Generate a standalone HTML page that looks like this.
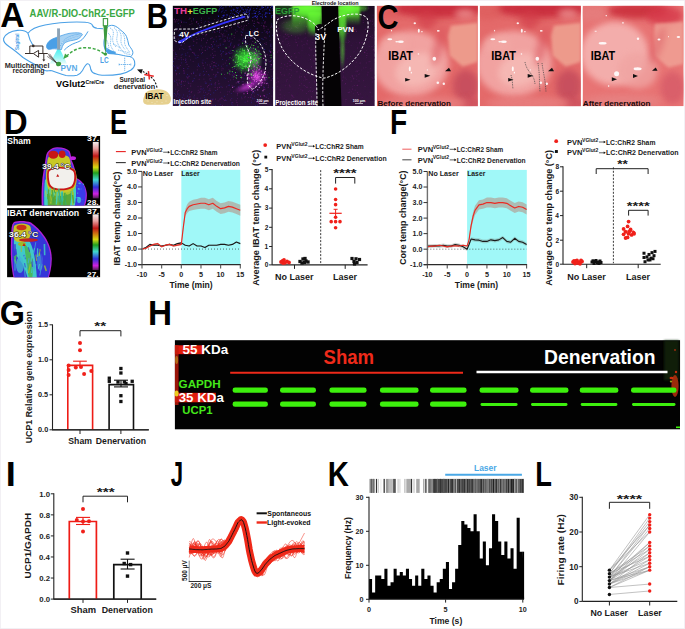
<!DOCTYPE html>
<html><head><meta charset="utf-8"><title>Figure</title>
<style>html,body{margin:0;padding:0;background:#fff;width:685px;height:629px;overflow:hidden}svg{display:block}text{font-family:"Liberation Sans",sans-serif}</style>
</head><body>
<svg width="685" height="629" viewBox="0 0 685 629" font-family="Liberation Sans, sans-serif"><defs><linearGradient id="cone" x1="0" y1="0" x2="0" y2="1"><stop offset="0" stop-color="#4ff0f0"/><stop offset="0.6" stop-color="#9ff6f4"/><stop offset="1" stop-color="#eafcfb"/></linearGradient><clipPath id="cb1"><rect x="172.6" y="5.6" width="100.7" height="100.4"/></clipPath><clipPath id="cb2"><rect x="275.1" y="5.8" width="99.7" height="100.2"/></clipPath><radialGradient id="gGreen1"><stop offset="0" stop-color="#3ee83a" stop-opacity="0.95"/><stop offset="0.45" stop-color="#30c030" stop-opacity="0.7"/><stop offset="1" stop-color="#208020" stop-opacity="0"/></radialGradient><radialGradient id="gMag1"><stop offset="0" stop-color="#d040d8" stop-opacity="0.9"/><stop offset="0.5" stop-color="#a028b0" stop-opacity="0.55"/><stop offset="1" stop-color="#601070" stop-opacity="0"/></radialGradient><linearGradient id="gB1bg" x1="0" y1="0" x2="0" y2="1"><stop offset="0" stop-color="#07030c"/><stop offset="0.4" stop-color="#170b26"/><stop offset="1" stop-color="#2a1238"/></linearGradient><linearGradient id="gB2bg" x1="0" y1="0" x2="0" y2="1"><stop offset="0" stop-color="#1a0c20"/><stop offset="0.35" stop-color="#2e1238"/><stop offset="1" stop-color="#361640"/></linearGradient><radialGradient id="gGreen2" cx="0.5" cy="0.5" r="0.5"><stop offset="0" stop-color="#66ff33" stop-opacity="1"/><stop offset="0.5" stop-color="#50d830" stop-opacity="0.75"/><stop offset="1" stop-color="#2a6a20" stop-opacity="0"/></radialGradient><linearGradient id="gTopG" x1="0" y1="0" x2="0" y2="1"><stop offset="0" stop-color="#6cff36" stop-opacity="1"/><stop offset="0.45" stop-color="#5ae830" stop-opacity="0.8"/><stop offset="1" stop-color="#3a9a20" stop-opacity="0"/></linearGradient><filter id="blur3" x="-50%" y="-50%" width="200%" height="200%"><feGaussianBlur stdDeviation="3"/></filter><filter id="blur2" x="-50%" y="-50%" width="200%" height="200%"><feGaussianBlur stdDeviation="1.6"/></filter><clipPath id="cc1"><rect x="376.8" y="5.7" width="101.1" height="100.6"/></clipPath><clipPath id="cc2"><rect x="479.8" y="5.7" width="101.1" height="100.6"/></clipPath><clipPath id="cc3"><rect x="582.6" y="5.7" width="101.1" height="100.6"/></clipPath><linearGradient id="cbar" x1="0" y1="0" x2="0" y2="1"><stop offset="0" stop-color="#f4eeee"/><stop offset="0.12" stop-color="#e8a0a0"/><stop offset="0.25" stop-color="#c01818"/><stop offset="0.36" stop-color="#d08010"/><stop offset="0.45" stop-color="#d8d810"/><stop offset="0.55" stop-color="#20a020"/><stop offset="0.67" stop-color="#40d8d0"/><stop offset="0.8" stop-color="#3030d8"/><stop offset="0.92" stop-color="#d020e0"/><stop offset="1" stop-color="#502050"/></linearGradient><filter id="blur1" x="-30%" y="-30%" width="160%" height="160%"><feGaussianBlur stdDeviation="1.2"/></filter><filter id="blur05" x="-30%" y="-30%" width="160%" height="160%"><feGaussianBlur stdDeviation="0.6"/></filter><clipPath id="cd1"><rect x="7.1" y="136" width="93" height="69.5"/></clipPath><clipPath id="cd2"><rect x="7.1" y="208.1" width="93" height="69.1"/></clipPath></defs><text transform="translate(29.80,16.90) scale(0.9460,1)" x="-0.25" y="0" font-size="10.00" font-weight="bold" fill="#3aa843" >AAV/R-DIO-ChR2-EGFP</text>
<path d="M28,33.3 C25,30 21,30 17.5,30.4 C11,31 5,34 3.6,38.5 C3,42 6,44.5 9,46.5 C15,50.5 19,54 23,57.5 C28,61 33,63.5 37,65.5 C40,67.5 43,70.5 46,70.8 C48.5,71 50,70.2 52,70.8 C56,72 60,74 66,75.5 C70,76 74,75.8 77,75.2 C79.5,74.5 81,73 82.5,70.5 C84,67.5 85.5,64.5 87.3,63.8 C89.2,63.4 90.2,65.5 90.8,69.5 C91.5,72 93,73 95,73.6 C97,74.5 99,75.2 102,75.3 C108,75.4 115,75 120.5,74.1 C125,73.3 128,72 131,70 C133.5,68 134.8,66 134.8,63.9 C134.8,61 134,59.5 133.2,58.5" fill="none" stroke="#4aa0e6" stroke-width="1.1" />
<path d="M28,33.3 C29,38 30.5,42 33.3,45.8" fill="none" stroke="#4aa0e6" stroke-width="1.1" />
<path d="M28,33.3 C31,29 37,26.5 45,25 C55,23 70,21.6 85,22.2 C89,22.5 92,23.5 92.5,25.5 C93,27 94,27.8 97,28.2 L103,28.8" fill="none" stroke="#4aa0e6" stroke-width="1.1" />
<path d="M133.2,58.5 C131,56.5 127,55.3 121.3,54.4 C117,54 113,54 109,53.6" fill="none" stroke="#4aa0e6" stroke-width="1.0" />
<path d="M107.5,27 C109,25.5 111,25.2 113,25.4 C116,26 118.6,28 121,30.5 C123.5,32 125.2,34 126.5,36.5 C127.6,39 128,42 128.8,45 C130,47 131.5,48.5 132.6,51 C133.4,53 132.5,55.5 130.8,56.5 C127,56.5 124,55.6 121,55 C117,54.2 113,53.5 109.5,52.5 C106.5,50.5 105,46 104.8,40 C104.7,35 105.5,30 107.5,27 Z" fill="#fff" stroke="#4aa0e6" stroke-width="1.0" />
<path d="M104.2,37.5 C104,42 104.6,46 106,48.8 C108,51 112,52.8 116,53.6 L108.5,53.8 C106,52.5 104.2,50 103.6,46 C103.2,43 103.4,40 104.2,37.5 Z" fill="#4aa0e6" stroke="none" stroke-width="1" />
<path d="M107.2,47.8 C109,49.6 112,51 115.7,51.8 L115.7,53.8 L107.5,53.8 Z" fill="#4aa0e6" stroke="none" stroke-width="1" />
<path d="M110,28 C113,29 114,32 113,36 C112,40 113,44 116,47" fill="none" stroke="#5aaaea" stroke-width="0.7" stroke-dasharray="1.1,0.7"/>
<path d="M114,27.5 C117,30 118,33 117,37 C116,41 118,45 121,48.5" fill="none" stroke="#5aaaea" stroke-width="0.7" stroke-dasharray="1.1,0.7"/>
<path d="M118.5,30 C121,33 121.5,36 121,39.5 C120.5,43 122,46 125,49.5" fill="none" stroke="#5aaaea" stroke-width="0.7" stroke-dasharray="1.1,0.7"/>
<path d="M122.5,33 C124.5,36 125,39 124.5,42 C124.5,45 126.5,48 129.5,52" fill="none" stroke="#5aaaea" stroke-width="0.7" stroke-dasharray="1.1,0.7"/>
<path d="M108,33 C110.5,35 111.5,38 110.5,42 C110,45 111.5,48 113.5,50.5" fill="none" stroke="#5aaaea" stroke-width="0.7" stroke-dasharray="1.1,0.7"/>
<path d="M106.5,40 C108,42 108.5,45 109,48.5" fill="none" stroke="#5aaaea" stroke-width="0.7" stroke-dasharray="1.1,0.7"/>
<path d="M113,44 C117,45.5 121,48 123.5,52.5 C126,54 128.5,54.5 131,54.5" fill="none" stroke="#5aaaea" stroke-width="0.7" stroke-dasharray="1.1,0.7"/>
<path d="M118,50 C122,51 126,52 130,53" fill="none" stroke="#5aaaea" stroke-width="0.7" stroke-dasharray="1.1,0.7"/>
<path d="M46.7,47.5 C46,44 49,40.5 53,38.8 C56,37.5 58,36.8 61,35.8 C64,34.8 66.5,33.8 69,33.4 C73,32.8 77,32.6 79.6,33 C81.5,33.4 82.6,34 82.3,34.7 C81,37 79,38.5 76.9,39.4 C74.5,40.2 72.5,40.4 70.2,40.8 C67.5,41.5 65.5,42.3 64.2,43.4 C62.5,45.5 62,47.5 61.5,49.5 L58,49.5 C56,48.5 53,48.6 50.5,49.2 C48.5,49.6 47,49 46.7,47.5 Z" fill="#a8d2f3" stroke="#4aa0e6" stroke-width="0.8" />
<path d="M46.7,47.5 C46,44 49,40.5 53,38.8 C55,38 56.5,37.6 57.4,37.4 L57.4,48.4 C55,48.2 52.5,48.7 50.5,49.2 C48.5,49.6 47,49 46.7,47.5 Z" fill="#4a9fe6" stroke="none" stroke-width="1" />
<path d="M60.0,46.0 C63.0,41.0 70,37.5 80.5,35.2" fill="none" stroke="#4a9fe6" stroke-width="0.6" />
<path d="M60.69,44.965 C63.46,40.425 70,36.925 80.5,34.9125" fill="none" stroke="#ffffff" stroke-width="0.6" />
<path d="M61.38,43.93 C63.92,39.85 70,36.35 80.5,34.625" fill="none" stroke="#4a9fe6" stroke-width="0.6" />
<path d="M62.07,42.895 C64.38,39.275 70,35.775 80.5,34.337500000000006" fill="none" stroke="#ffffff" stroke-width="0.6" />
<path d="M62.76,41.86 C64.84,38.7 70,35.2 80.5,34.050000000000004" fill="none" stroke="#4a9fe6" stroke-width="0.6" />
<path d="M88,31.4 C86,35 84,37.5 82.3,39.4 C80,41.3 78,42 75.6,42.8 C71,44.5 67,47 64.2,50.2" fill="none" stroke="#4aa0e6" stroke-width="1.0" />
<path d="M57.2,49.5 L60.2,49.5 L67,63.8 L49.8,63.8 Z" fill="url(#cone)" stroke="none" stroke-width="1" />
<rect x="57.10" y="28.40" width="2.90" height="21.20" fill="#8da3b6" />
<path d="M103.4,25.7 L107.6,25.7 L105.6,53.6 L105.2,53.6 Z" fill="#3d9a3f" stroke="none" stroke-width="1" />
<rect x="103.30" y="18.60" width="4.30" height="7.10" fill="#fff" stroke="#3d9a3f" stroke-width="1.1"/>
<circle cx="105.40" cy="54.10" r="1.7" fill="#3d9a3f" />
<path d="M104,53.8 C98,49 90,47 82,47.8 C76,48.6 71,52 66.5,56.2" fill="none" stroke="#3fa844" stroke-width="1.5" stroke-dasharray="3,1.8"/>
<path d="M63.3,59 L65,53.6 L68.6,56.6 Z" fill="#3fa844" stroke="none" stroke-width="1" />
<ellipse cx="58.6" cy="64.0" rx="2.6" ry="2.3" fill="#3d9a3f"/>
<text transform="translate(61.00,70.80) scale(0.9905,1)" x="-0.56" y="0" font-size="8.30" font-weight="bold" fill="#5aaae8" >PVN</text>
<text transform="translate(100.50,62.80) scale(0.7598,1)" x="-0.57" y="0" font-size="8.50" font-weight="bold" fill="#4aa0e6" >LC</text>
<text transform="translate(18.80,50.00) rotate(-90) scale(0.9225,1)" x="-0.14" y="0" font-size="5.00" font-weight="bold" fill="#4aa0e6">Sagittal</text>
<line x1="124.70" y1="57.70" x2="124.70" y2="70.80" stroke="#4aa0e6" stroke-width="0.8" stroke-dasharray="1.2,0.8"/>
<line x1="119.10" y1="64.50" x2="130.80" y2="64.50" stroke="#4aa0e6" stroke-width="0.8" stroke-dasharray="1.2,0.8"/>
<line x1="119.10" y1="63.50" x2="119.10" y2="65.50" stroke="#4aa0e6" stroke-width="0.6" />
<line x1="130.80" y1="63.50" x2="130.80" y2="65.50" stroke="#4aa0e6" stroke-width="0.6" />
<path d="M29.8,53.5 L29.8,46 L42.9,46 L42.9,54" fill="none" stroke="#3a2f2a" stroke-width="1.0" />
<path d="M25,53.5 L33.3,53.5" fill="none" stroke="#3a2f2a" stroke-width="1.0" />
<path d="M38.6,50.4 L33.3,53.5 L38.6,57.2 Z" fill="#fff" stroke="#3a2f2a" stroke-width="1.0" />
<path d="M38.6,53.5 L47.7,53.5" fill="none" stroke="#3a2f2a" stroke-width="1.0" />
<path d="M43.8,54 L43.8,60" fill="none" stroke="#3a2f2a" stroke-width="1.0" />
<path d="M42.2,59.6 L45.4,59.6 L43.8,61.6 Z" fill="#3a2f2a" stroke="none" stroke-width="1" />
<circle cx="33.30" cy="45.90" r="1.3" fill="#3a2f2a" />
<line x1="47.70" y1="53.50" x2="56.60" y2="62.90" stroke="#3a2f2a" stroke-width="0.6" />
<line x1="49.50" y1="53.80" x2="56.60" y2="62.90" stroke="#3a2f2a" stroke-width="0.6" />
<line x1="48.60" y1="55.60" x2="56.60" y2="62.90" stroke="#3a2f2a" stroke-width="0.6" />
<line x1="47.20" y1="56.40" x2="56.60" y2="62.90" stroke="#3a2f2a" stroke-width="0.6" />
<text transform="translate(5.20,67.60) scale(0.9648,1)" x="-0.51" y="0" font-size="7.60" font-weight="bold" fill="#2a2a2a" >Multichannel</text>
<text transform="translate(12.90,72.90) scale(0.9983,1)" x="-0.46" y="0" font-size="7.00" font-weight="bold" fill="#2a2a2a" >recording</text>
<text transform="translate(56.10,87.40) scale(0.9785,1)" x="-0.06" y="0" font-size="9.30" font-weight="bold" fill="#000" >VGlut2</text>
<text transform="translate(85.60,83.80) scale(0.9632,1)" x="-0.22" y="0" font-size="5.40" font-weight="bold" fill="#000" >Cre/Cre</text>
<text transform="translate(119.70,82.00) scale(0.9248,1)" x="-0.20" y="0" font-size="7.00" font-weight="bold" fill="#222" >Surgical</text>
<text transform="translate(114.00,88.60) scale(1.0474,1)" x="-0.29" y="0" font-size="7.00" font-weight="bold" fill="#222" >denervation</text>
<path d="M157,87.6 C156.5,85 155.5,82.5 154.1,80.3 C152.5,78.5 151,77 149.8,75.9 C147.5,74 145.5,72.8 142.8,71.5" fill="none" stroke="#111" stroke-width="1.1" stroke-dasharray="2,1.4"/>
<path d="M137,69.6 L142.8,69.2 L141.3,73.8 Z" fill="#111" stroke="none" stroke-width="1" />
<line x1="144.30" y1="74.60" x2="153.80" y2="76.20" stroke="#e82828" stroke-width="1.5" />
<line x1="148.40" y1="71.10" x2="149.40" y2="79.50" stroke="#e82828" stroke-width="1.5" />
<path d="M144.5,95.5 C145,92 148,90.5 152,90 C156,89.2 160,89 163.5,90 C167,91 169.5,93.5 170.6,97 C171.5,100 170.8,103 168,104.2 C163,105 156,104.8 150,104.8 C146,104.8 143.5,104 143.2,101.5 C143,99.5 143.6,97.5 144.5,95.5 Z" fill="#e6d08e" stroke="none" stroke-width="1" />
<circle cx="148.00" cy="101.00" r="0.5" fill="#f4ecd0" />
<circle cx="152.00" cy="102.50" r="0.5" fill="#f4ecd0" />
<circle cx="157.00" cy="101.80" r="0.5" fill="#f4ecd0" />
<circle cx="162.00" cy="102.60" r="0.5" fill="#f4ecd0" />
<circle cx="166.00" cy="101.00" r="0.5" fill="#f4ecd0" />
<circle cx="150.00" cy="93.00" r="0.5" fill="#f4ecd0" />
<circle cx="160.00" cy="91.50" r="0.5" fill="#f4ecd0" />
<circle cx="167.00" cy="95.50" r="0.5" fill="#f4ecd0" />
<circle cx="145.50" cy="99.00" r="0.5" fill="#f4ecd0" />
<circle cx="155.00" cy="103.80" r="0.5" fill="#f4ecd0" />
<text transform="translate(145.70,98.60) scale(0.8452,1)" x="-0.64" y="0" font-size="9.60" font-weight="bold" fill="#000" >IBAT</text>
<g clip-path="url(#cb1)">
<rect x="172.60" y="5.60" width="100.70" height="100.40" fill="url(#gB1bg)" />
<rect x="205.21" y="30.94" width="0.90" height="0.90" fill="#5a1a6a" opacity="0.7"/>
<rect x="179.89" y="64.97" width="0.90" height="0.90" fill="#6a1a70" opacity="0.7"/>
<rect x="231.29" y="98.02" width="0.90" height="0.90" fill="#3a1a8a" opacity="0.7"/>
<rect x="176.38" y="55.93" width="0.90" height="0.90" fill="#5a1a6a" opacity="0.7"/>
<rect x="196.83" y="66.31" width="0.90" height="0.90" fill="#5a1a6a" opacity="0.7"/>
<rect x="255.86" y="28.54" width="0.90" height="0.90" fill="#3a1a8a" opacity="0.7"/>
<rect x="236.10" y="69.14" width="0.90" height="0.90" fill="#5a1a6a" opacity="0.7"/>
<rect x="230.71" y="52.67" width="0.90" height="0.90" fill="#3a1a8a" opacity="0.7"/>
<rect x="177.29" y="93.49" width="0.90" height="0.90" fill="#6a1a70" opacity="0.7"/>
<rect x="214.81" y="65.40" width="0.90" height="0.90" fill="#7a2080" opacity="0.7"/>
<rect x="203.66" y="89.75" width="0.90" height="0.90" fill="#3a1a8a" opacity="0.7"/>
<rect x="182.98" y="68.09" width="0.90" height="0.90" fill="#3a1a8a" opacity="0.7"/>
<rect x="210.10" y="66.02" width="0.90" height="0.90" fill="#5a1a6a" opacity="0.7"/>
<rect x="229.43" y="72.32" width="0.90" height="0.90" fill="#2a2a9a" opacity="0.7"/>
<rect x="241.12" y="55.40" width="0.90" height="0.90" fill="#6a1a70" opacity="0.7"/>
<rect x="219.49" y="99.23" width="0.90" height="0.90" fill="#6a1a70" opacity="0.7"/>
<rect x="202.79" y="87.82" width="0.90" height="0.90" fill="#3a1a8a" opacity="0.7"/>
<rect x="180.84" y="44.14" width="0.90" height="0.90" fill="#2a2a9a" opacity="0.7"/>
<rect x="260.73" y="82.08" width="0.90" height="0.90" fill="#6a1a70" opacity="0.7"/>
<rect x="233.92" y="24.07" width="0.90" height="0.90" fill="#7a2080" opacity="0.7"/>
<rect x="214.70" y="84.53" width="0.90" height="0.90" fill="#3a1a8a" opacity="0.7"/>
<rect x="266.58" y="54.88" width="0.90" height="0.90" fill="#5a1a6a" opacity="0.7"/>
<rect x="249.59" y="68.26" width="0.90" height="0.90" fill="#6a1a70" opacity="0.7"/>
<rect x="206.85" y="48.56" width="0.90" height="0.90" fill="#2a2a9a" opacity="0.7"/>
<rect x="231.00" y="57.93" width="0.90" height="0.90" fill="#5a1a6a" opacity="0.7"/>
<rect x="267.73" y="59.51" width="0.90" height="0.90" fill="#5a1a6a" opacity="0.7"/>
<rect x="178.71" y="79.61" width="0.90" height="0.90" fill="#7a2080" opacity="0.7"/>
<rect x="272.60" y="90.26" width="0.90" height="0.90" fill="#6a1a70" opacity="0.7"/>
<rect x="244.76" y="96.01" width="0.90" height="0.90" fill="#6a1a70" opacity="0.7"/>
<rect x="174.87" y="58.41" width="0.90" height="0.90" fill="#3a1a8a" opacity="0.7"/>
<rect x="234.12" y="61.24" width="0.90" height="0.90" fill="#3a1a8a" opacity="0.7"/>
<rect x="249.96" y="29.03" width="0.90" height="0.90" fill="#3a1a8a" opacity="0.7"/>
<rect x="212.67" y="98.65" width="0.90" height="0.90" fill="#2a2a9a" opacity="0.7"/>
<rect x="180.71" y="57.31" width="0.90" height="0.90" fill="#7a2080" opacity="0.7"/>
<rect x="200.58" y="29.70" width="0.90" height="0.90" fill="#2a2a9a" opacity="0.7"/>
<rect x="259.60" y="42.21" width="0.90" height="0.90" fill="#2a2a9a" opacity="0.7"/>
<rect x="271.94" y="77.95" width="0.90" height="0.90" fill="#2a2a9a" opacity="0.7"/>
<rect x="269.04" y="30.94" width="0.90" height="0.90" fill="#3a1a8a" opacity="0.7"/>
<rect x="187.84" y="75.81" width="0.90" height="0.90" fill="#5a1a6a" opacity="0.7"/>
<rect x="221.44" y="69.68" width="0.90" height="0.90" fill="#6a1a70" opacity="0.7"/>
<rect x="200.99" y="30.48" width="0.90" height="0.90" fill="#7a2080" opacity="0.7"/>
<rect x="209.78" y="67.66" width="0.90" height="0.90" fill="#3a1a8a" opacity="0.7"/>
<rect x="242.13" y="63.17" width="0.90" height="0.90" fill="#7a2080" opacity="0.7"/>
<rect x="238.56" y="83.00" width="0.90" height="0.90" fill="#2a2a9a" opacity="0.7"/>
<rect x="263.18" y="86.55" width="0.90" height="0.90" fill="#7a2080" opacity="0.7"/>
<rect x="212.11" y="52.87" width="0.90" height="0.90" fill="#5a1a6a" opacity="0.7"/>
<rect x="221.09" y="53.00" width="0.90" height="0.90" fill="#3a1a8a" opacity="0.7"/>
<rect x="179.38" y="36.05" width="0.90" height="0.90" fill="#3a1a8a" opacity="0.7"/>
<rect x="183.67" y="70.70" width="0.90" height="0.90" fill="#5a1a6a" opacity="0.7"/>
<rect x="172.62" y="30.97" width="0.90" height="0.90" fill="#5a1a6a" opacity="0.7"/>
<rect x="268.16" y="71.85" width="0.90" height="0.90" fill="#5a1a6a" opacity="0.7"/>
<rect x="260.65" y="71.88" width="0.90" height="0.90" fill="#3a1a8a" opacity="0.7"/>
<rect x="236.49" y="102.06" width="0.90" height="0.90" fill="#7a2080" opacity="0.7"/>
<rect x="209.27" y="28.46" width="0.90" height="0.90" fill="#2a2a9a" opacity="0.7"/>
<rect x="272.61" y="58.79" width="0.90" height="0.90" fill="#2a2a9a" opacity="0.7"/>
<rect x="204.00" y="30.34" width="0.90" height="0.90" fill="#6a1a70" opacity="0.7"/>
<rect x="247.15" y="59.91" width="0.90" height="0.90" fill="#3a1a8a" opacity="0.7"/>
<rect x="224.59" y="35.74" width="0.90" height="0.90" fill="#7a2080" opacity="0.7"/>
<rect x="209.03" y="78.60" width="0.90" height="0.90" fill="#5a1a6a" opacity="0.7"/>
<rect x="248.94" y="43.95" width="0.90" height="0.90" fill="#5a1a6a" opacity="0.7"/>
<rect x="242.71" y="40.68" width="0.90" height="0.90" fill="#6a1a70" opacity="0.7"/>
<rect x="264.06" y="49.04" width="0.90" height="0.90" fill="#3a1a8a" opacity="0.7"/>
<rect x="226.23" y="86.47" width="0.90" height="0.90" fill="#6a1a70" opacity="0.7"/>
<rect x="236.69" y="71.81" width="0.90" height="0.90" fill="#3a1a8a" opacity="0.7"/>
<rect x="253.77" y="89.94" width="0.90" height="0.90" fill="#3a1a8a" opacity="0.7"/>
<rect x="192.73" y="61.16" width="0.90" height="0.90" fill="#5a1a6a" opacity="0.7"/>
<rect x="272.25" y="87.45" width="0.90" height="0.90" fill="#2a2a9a" opacity="0.7"/>
<rect x="198.70" y="78.82" width="0.90" height="0.90" fill="#6a1a70" opacity="0.7"/>
<rect x="217.64" y="100.43" width="0.90" height="0.90" fill="#6a1a70" opacity="0.7"/>
<rect x="268.77" y="49.83" width="0.90" height="0.90" fill="#3a1a8a" opacity="0.7"/>
<rect x="182.89" y="59.16" width="0.90" height="0.90" fill="#6a1a70" opacity="0.7"/>
<rect x="193.18" y="72.77" width="0.90" height="0.90" fill="#7a2080" opacity="0.7"/>
<rect x="257.23" y="59.99" width="0.90" height="0.90" fill="#6a1a70" opacity="0.7"/>
<rect x="253.12" y="25.09" width="0.90" height="0.90" fill="#5a1a6a" opacity="0.7"/>
<rect x="264.21" y="86.76" width="0.90" height="0.90" fill="#3a1a8a" opacity="0.7"/>
<rect x="220.74" y="33.38" width="0.90" height="0.90" fill="#6a1a70" opacity="0.7"/>
<rect x="181.34" y="101.24" width="0.90" height="0.90" fill="#2a2a9a" opacity="0.7"/>
<rect x="219.24" y="83.31" width="0.90" height="0.90" fill="#5a1a6a" opacity="0.7"/>
<rect x="245.59" y="32.63" width="0.90" height="0.90" fill="#3a1a8a" opacity="0.7"/>
<rect x="175.37" y="69.83" width="0.90" height="0.90" fill="#2a2a9a" opacity="0.7"/>
<rect x="253.81" y="30.52" width="0.90" height="0.90" fill="#7a2080" opacity="0.7"/>
<rect x="271.32" y="75.70" width="0.90" height="0.90" fill="#6a1a70" opacity="0.7"/>
<rect x="188.30" y="66.07" width="0.90" height="0.90" fill="#5a1a6a" opacity="0.7"/>
<rect x="174.03" y="103.43" width="0.90" height="0.90" fill="#5a1a6a" opacity="0.7"/>
<rect x="225.63" y="100.13" width="0.90" height="0.90" fill="#2a2a9a" opacity="0.7"/>
<rect x="271.95" y="34.82" width="0.90" height="0.90" fill="#3a1a8a" opacity="0.7"/>
<rect x="175.42" y="36.41" width="0.90" height="0.90" fill="#7a2080" opacity="0.7"/>
<rect x="196.82" y="69.44" width="0.90" height="0.90" fill="#6a1a70" opacity="0.7"/>
<rect x="227.42" y="91.34" width="0.90" height="0.90" fill="#5a1a6a" opacity="0.7"/>
<rect x="264.24" y="48.87" width="0.90" height="0.90" fill="#2a2a9a" opacity="0.7"/>
<rect x="239.31" y="89.65" width="0.90" height="0.90" fill="#7a2080" opacity="0.7"/>
<rect x="214.96" y="98.73" width="0.90" height="0.90" fill="#7a2080" opacity="0.7"/>
<rect x="185.77" y="31.02" width="0.90" height="0.90" fill="#7a2080" opacity="0.7"/>
<rect x="174.48" y="56.51" width="0.90" height="0.90" fill="#3a1a8a" opacity="0.7"/>
<rect x="233.88" y="86.20" width="0.90" height="0.90" fill="#3a1a8a" opacity="0.7"/>
<rect x="189.96" y="59.46" width="0.90" height="0.90" fill="#5a1a6a" opacity="0.7"/>
<rect x="228.64" y="46.42" width="0.90" height="0.90" fill="#7a2080" opacity="0.7"/>
<rect x="226.04" y="60.25" width="0.90" height="0.90" fill="#5a1a6a" opacity="0.7"/>
<rect x="261.54" y="22.62" width="0.90" height="0.90" fill="#3a1a8a" opacity="0.7"/>
<rect x="200.49" y="85.87" width="0.90" height="0.90" fill="#7a2080" opacity="0.7"/>
<rect x="218.13" y="20.06" width="0.90" height="0.90" fill="#5a1a6a" opacity="0.7"/>
<rect x="217.24" y="71.75" width="0.90" height="0.90" fill="#7a2080" opacity="0.7"/>
<rect x="233.64" y="35.23" width="0.90" height="0.90" fill="#6a1a70" opacity="0.7"/>
<rect x="218.15" y="64.74" width="0.90" height="0.90" fill="#2a2a9a" opacity="0.7"/>
<rect x="223.73" y="39.49" width="0.90" height="0.90" fill="#7a2080" opacity="0.7"/>
<rect x="260.87" y="100.89" width="0.90" height="0.90" fill="#6a1a70" opacity="0.7"/>
<rect x="265.52" y="96.52" width="0.90" height="0.90" fill="#3a1a8a" opacity="0.7"/>
<rect x="257.19" y="29.72" width="0.90" height="0.90" fill="#5a1a6a" opacity="0.7"/>
<rect x="212.11" y="45.53" width="0.90" height="0.90" fill="#3a1a8a" opacity="0.7"/>
<rect x="215.73" y="36.40" width="0.90" height="0.90" fill="#6a1a70" opacity="0.7"/>
<rect x="251.54" y="96.90" width="0.90" height="0.90" fill="#3a1a8a" opacity="0.7"/>
<rect x="267.21" y="74.48" width="0.90" height="0.90" fill="#6a1a70" opacity="0.7"/>
<rect x="187.00" y="95.64" width="0.90" height="0.90" fill="#2a2a9a" opacity="0.7"/>
<rect x="194.71" y="101.80" width="0.90" height="0.90" fill="#2a2a9a" opacity="0.7"/>
<rect x="261.71" y="31.99" width="0.90" height="0.90" fill="#3a1a8a" opacity="0.7"/>
<rect x="188.86" y="55.75" width="0.90" height="0.90" fill="#7a2080" opacity="0.7"/>
<rect x="213.26" y="54.84" width="0.90" height="0.90" fill="#6a1a70" opacity="0.7"/>
<rect x="204.68" y="81.44" width="0.90" height="0.90" fill="#5a1a6a" opacity="0.7"/>
<rect x="206.63" y="58.15" width="0.90" height="0.90" fill="#5a1a6a" opacity="0.7"/>
<rect x="211.30" y="63.34" width="0.90" height="0.90" fill="#6a1a70" opacity="0.7"/>
<rect x="224.18" y="23.28" width="0.90" height="0.90" fill="#3a1a8a" opacity="0.7"/>
<rect x="270.45" y="26.86" width="0.90" height="0.90" fill="#6a1a70" opacity="0.7"/>
<rect x="199.98" y="97.68" width="0.90" height="0.90" fill="#3a1a8a" opacity="0.7"/>
<rect x="199.83" y="29.05" width="0.90" height="0.90" fill="#2a2a9a" opacity="0.7"/>
<rect x="258.15" y="77.36" width="0.90" height="0.90" fill="#6a1a70" opacity="0.7"/>
<rect x="213.48" y="65.04" width="0.90" height="0.90" fill="#7a2080" opacity="0.7"/>
<rect x="230.06" y="79.52" width="0.90" height="0.90" fill="#5a1a6a" opacity="0.7"/>
<rect x="200.70" y="88.28" width="0.90" height="0.90" fill="#3a1a8a" opacity="0.7"/>
<rect x="215.43" y="24.00" width="0.90" height="0.90" fill="#5a1a6a" opacity="0.7"/>
<rect x="236.49" y="88.46" width="0.90" height="0.90" fill="#5a1a6a" opacity="0.7"/>
<rect x="233.84" y="37.26" width="0.90" height="0.90" fill="#6a1a70" opacity="0.7"/>
<rect x="259.48" y="57.71" width="0.90" height="0.90" fill="#6a1a70" opacity="0.7"/>
<rect x="272.73" y="54.53" width="0.90" height="0.90" fill="#6a1a70" opacity="0.7"/>
<rect x="235.21" y="21.42" width="0.90" height="0.90" fill="#3a1a8a" opacity="0.7"/>
<rect x="267.07" y="103.28" width="0.90" height="0.90" fill="#6a1a70" opacity="0.7"/>
<rect x="177.67" y="35.44" width="0.90" height="0.90" fill="#6a1a70" opacity="0.7"/>
<rect x="235.91" y="64.55" width="0.90" height="0.90" fill="#3a1a8a" opacity="0.7"/>
<rect x="201.80" y="61.81" width="0.90" height="0.90" fill="#3a1a8a" opacity="0.7"/>
<rect x="199.84" y="88.65" width="0.90" height="0.90" fill="#6a1a70" opacity="0.7"/>
<rect x="176.32" y="19.23" width="0.90" height="0.90" fill="#7a2080" opacity="0.7"/>
<rect x="228.09" y="34.35" width="0.90" height="0.90" fill="#2a2a9a" opacity="0.7"/>
<rect x="197.34" y="57.12" width="0.90" height="0.90" fill="#2a2a9a" opacity="0.7"/>
<rect x="238.71" y="65.86" width="0.90" height="0.90" fill="#2a2a9a" opacity="0.7"/>
<rect x="270.31" y="44.81" width="0.90" height="0.90" fill="#3a1a8a" opacity="0.7"/>
<rect x="271.53" y="47.90" width="0.90" height="0.90" fill="#3a1a8a" opacity="0.7"/>
<rect x="213.35" y="48.32" width="0.90" height="0.90" fill="#5a1a6a" opacity="0.7"/>
<rect x="256.88" y="18.86" width="0.90" height="0.90" fill="#6a1a70" opacity="0.7"/>
<rect x="215.98" y="22.50" width="0.90" height="0.90" fill="#2a2a9a" opacity="0.7"/>
<rect x="260.26" y="76.88" width="0.90" height="0.90" fill="#6a1a70" opacity="0.7"/>
<rect x="232.90" y="78.83" width="0.90" height="0.90" fill="#5a1a6a" opacity="0.7"/>
<rect x="218.87" y="31.53" width="0.90" height="0.90" fill="#2a2a9a" opacity="0.7"/>
<rect x="172.96" y="49.79" width="0.90" height="0.90" fill="#6a1a70" opacity="0.7"/>
<rect x="270.54" y="65.96" width="0.90" height="0.90" fill="#3a1a8a" opacity="0.7"/>
<rect x="176.07" y="95.60" width="0.90" height="0.90" fill="#3a1a8a" opacity="0.7"/>
<rect x="208.51" y="17.69" width="0.90" height="0.90" fill="#2a2a9a" opacity="0.7"/>
<rect x="181.05" y="42.26" width="0.90" height="0.90" fill="#3a1a8a" opacity="0.7"/>
<rect x="197.59" y="86.22" width="0.90" height="0.90" fill="#5a1a6a" opacity="0.7"/>
<rect x="199.20" y="25.53" width="0.90" height="0.90" fill="#2a2a9a" opacity="0.7"/>
<rect x="231.69" y="52.43" width="0.90" height="0.90" fill="#6a1a70" opacity="0.7"/>
<rect x="203.24" y="38.18" width="0.90" height="0.90" fill="#7a2080" opacity="0.7"/>
<rect x="269.03" y="93.03" width="0.90" height="0.90" fill="#3a1a8a" opacity="0.7"/>
<rect x="238.81" y="80.89" width="0.90" height="0.90" fill="#7a2080" opacity="0.7"/>
<rect x="211.82" y="46.43" width="0.90" height="0.90" fill="#2a2a9a" opacity="0.7"/>
<rect x="187.65" y="81.62" width="0.90" height="0.90" fill="#3a1a8a" opacity="0.7"/>
<rect x="177.01" y="91.44" width="0.90" height="0.90" fill="#7a2080" opacity="0.7"/>
<rect x="235.77" y="82.47" width="0.90" height="0.90" fill="#7a2080" opacity="0.7"/>
<rect x="186.63" y="63.90" width="0.90" height="0.90" fill="#7a2080" opacity="0.7"/>
<rect x="229.85" y="89.46" width="0.90" height="0.90" fill="#5a1a6a" opacity="0.7"/>
<rect x="255.82" y="69.23" width="0.90" height="0.90" fill="#3a1a8a" opacity="0.7"/>
<rect x="181.17" y="21.30" width="0.90" height="0.90" fill="#6a1a70" opacity="0.7"/>
<rect x="269.22" y="50.89" width="0.90" height="0.90" fill="#2a2a9a" opacity="0.7"/>
<rect x="228.84" y="73.09" width="0.90" height="0.90" fill="#7a2080" opacity="0.7"/>
<rect x="241.14" y="60.85" width="0.90" height="0.90" fill="#5a1a6a" opacity="0.7"/>
<rect x="218.61" y="23.80" width="0.90" height="0.90" fill="#7a2080" opacity="0.7"/>
<rect x="263.01" y="25.73" width="0.90" height="0.90" fill="#7a2080" opacity="0.7"/>
<rect x="179.25" y="82.73" width="0.90" height="0.90" fill="#6a1a70" opacity="0.7"/>
<rect x="254.09" y="92.40" width="0.90" height="0.90" fill="#3a1a8a" opacity="0.7"/>
<rect x="246.04" y="35.74" width="0.90" height="0.90" fill="#2a2a9a" opacity="0.7"/>
<rect x="222.34" y="51.42" width="0.90" height="0.90" fill="#2a2a9a" opacity="0.7"/>
<rect x="264.28" y="43.00" width="0.90" height="0.90" fill="#5a1a6a" opacity="0.7"/>
<rect x="234.73" y="74.42" width="0.90" height="0.90" fill="#5a1a6a" opacity="0.7"/>
<rect x="232.99" y="46.93" width="0.90" height="0.90" fill="#6a1a70" opacity="0.7"/>
<rect x="235.15" y="29.40" width="0.90" height="0.90" fill="#2a2a9a" opacity="0.7"/>
<rect x="178.71" y="41.36" width="0.90" height="0.90" fill="#5a1a6a" opacity="0.7"/>
<rect x="242.30" y="77.33" width="0.90" height="0.90" fill="#6a1a70" opacity="0.7"/>
<rect x="243.98" y="42.84" width="0.90" height="0.90" fill="#2a2a9a" opacity="0.7"/>
<rect x="219.56" y="28.08" width="0.90" height="0.90" fill="#7a2080" opacity="0.7"/>
<rect x="192.66" y="104.07" width="0.90" height="0.90" fill="#2a2a9a" opacity="0.7"/>
<rect x="174.36" y="58.17" width="0.90" height="0.90" fill="#7a2080" opacity="0.7"/>
<rect x="270.09" y="57.33" width="0.90" height="0.90" fill="#6a1a70" opacity="0.7"/>
<rect x="211.56" y="98.62" width="0.90" height="0.90" fill="#3a1a8a" opacity="0.7"/>
<rect x="180.11" y="25.58" width="0.90" height="0.90" fill="#7a2080" opacity="0.7"/>
<rect x="198.96" y="49.38" width="0.90" height="0.90" fill="#7a2080" opacity="0.7"/>
<rect x="255.20" y="62.57" width="0.90" height="0.90" fill="#5a1a6a" opacity="0.7"/>
<rect x="243.43" y="38.05" width="0.90" height="0.90" fill="#2a2a9a" opacity="0.7"/>
<rect x="212.28" y="31.66" width="0.90" height="0.90" fill="#2a2a9a" opacity="0.7"/>
<rect x="241.24" y="53.44" width="0.90" height="0.90" fill="#3a1a8a" opacity="0.7"/>
<rect x="214.51" y="50.85" width="0.90" height="0.90" fill="#5a1a6a" opacity="0.7"/>
<rect x="257.21" y="17.75" width="0.90" height="0.90" fill="#6a1a70" opacity="0.7"/>
<rect x="257.10" y="28.21" width="0.90" height="0.90" fill="#3a1a8a" opacity="0.7"/>
<rect x="244.40" y="97.30" width="0.90" height="0.90" fill="#6a1a70" opacity="0.7"/>
<rect x="198.10" y="23.34" width="0.90" height="0.90" fill="#2a2a9a" opacity="0.7"/>
<rect x="273.18" y="69.68" width="0.90" height="0.90" fill="#6a1a70" opacity="0.7"/>
<rect x="265.79" y="84.40" width="0.90" height="0.90" fill="#5a1a6a" opacity="0.7"/>
<rect x="200.86" y="22.16" width="0.90" height="0.90" fill="#6a1a70" opacity="0.7"/>
<rect x="236.54" y="30.76" width="0.90" height="0.90" fill="#6a1a70" opacity="0.7"/>
<rect x="216.53" y="45.50" width="0.90" height="0.90" fill="#6a1a70" opacity="0.7"/>
<rect x="251.66" y="55.41" width="0.90" height="0.90" fill="#5a1a6a" opacity="0.7"/>
<rect x="254.36" y="73.37" width="0.90" height="0.90" fill="#7a2080" opacity="0.7"/>
<rect x="227.91" y="81.21" width="0.90" height="0.90" fill="#5a1a6a" opacity="0.7"/>
<rect x="266.60" y="53.92" width="0.90" height="0.90" fill="#7a2080" opacity="0.7"/>
<rect x="248.39" y="74.57" width="0.90" height="0.90" fill="#6a1a70" opacity="0.7"/>
<rect x="221.50" y="98.21" width="0.90" height="0.90" fill="#7a2080" opacity="0.7"/>
<rect x="185.42" y="59.34" width="0.90" height="0.90" fill="#6a1a70" opacity="0.7"/>
<rect x="200.97" y="40.21" width="0.90" height="0.90" fill="#6a1a70" opacity="0.7"/>
<rect x="213.51" y="38.70" width="0.90" height="0.90" fill="#2a2a9a" opacity="0.7"/>
<rect x="228.72" y="52.46" width="0.90" height="0.90" fill="#3a1a8a" opacity="0.7"/>
<rect x="237.37" y="24.25" width="0.90" height="0.90" fill="#7a2080" opacity="0.7"/>
<rect x="263.83" y="61.54" width="0.90" height="0.90" fill="#3a1a8a" opacity="0.7"/>
<rect x="218.22" y="47.02" width="0.90" height="0.90" fill="#2a2a9a" opacity="0.7"/>
<rect x="215.64" y="66.02" width="0.90" height="0.90" fill="#3a1a8a" opacity="0.7"/>
<rect x="181.73" y="47.83" width="0.90" height="0.90" fill="#5a1a6a" opacity="0.7"/>
<rect x="204.75" y="50.16" width="0.90" height="0.90" fill="#7a2080" opacity="0.7"/>
<rect x="192.96" y="19.38" width="0.90" height="0.90" fill="#2a2a9a" opacity="0.7"/>
<rect x="211.15" y="83.53" width="0.90" height="0.90" fill="#3a1a8a" opacity="0.7"/>
<rect x="210.55" y="47.50" width="0.90" height="0.90" fill="#5a1a6a" opacity="0.7"/>
<rect x="222.76" y="68.37" width="0.90" height="0.90" fill="#6a1a70" opacity="0.7"/>
<rect x="185.28" y="62.10" width="0.90" height="0.90" fill="#3a1a8a" opacity="0.7"/>
<rect x="181.92" y="96.88" width="0.90" height="0.90" fill="#2a2a9a" opacity="0.7"/>
<rect x="212.86" y="57.01" width="0.90" height="0.90" fill="#6a1a70" opacity="0.7"/>
<rect x="258.06" y="94.76" width="0.90" height="0.90" fill="#5a1a6a" opacity="0.7"/>
<rect x="185.41" y="55.19" width="0.90" height="0.90" fill="#2a2a9a" opacity="0.7"/>
<rect x="270.11" y="60.90" width="0.90" height="0.90" fill="#5a1a6a" opacity="0.7"/>
<rect x="212.03" y="99.53" width="0.90" height="0.90" fill="#7a2080" opacity="0.7"/>
<rect x="258.75" y="103.55" width="0.90" height="0.90" fill="#3a1a8a" opacity="0.7"/>
<rect x="251.46" y="37.38" width="0.90" height="0.90" fill="#3a1a8a" opacity="0.7"/>
<rect x="225.20" y="77.90" width="0.90" height="0.90" fill="#2a2a9a" opacity="0.7"/>
<rect x="181.16" y="86.27" width="0.90" height="0.90" fill="#5a1a6a" opacity="0.7"/>
<rect x="251.38" y="38.16" width="0.90" height="0.90" fill="#5a1a6a" opacity="0.7"/>
<rect x="237.60" y="44.45" width="0.90" height="0.90" fill="#3a1a8a" opacity="0.7"/>
<rect x="235.69" y="64.30" width="0.90" height="0.90" fill="#2a2a9a" opacity="0.7"/>
<rect x="242.95" y="27.51" width="0.90" height="0.90" fill="#5a1a6a" opacity="0.7"/>
<rect x="202.85" y="101.01" width="0.90" height="0.90" fill="#3a1a8a" opacity="0.7"/>
<rect x="211.68" y="37.36" width="0.90" height="0.90" fill="#7a2080" opacity="0.7"/>
<rect x="172.72" y="65.11" width="0.90" height="0.90" fill="#2a2a9a" opacity="0.7"/>
<rect x="200.66" y="45.57" width="0.90" height="0.90" fill="#3a1a8a" opacity="0.7"/>
<rect x="220.46" y="38.35" width="0.90" height="0.90" fill="#3a1a8a" opacity="0.7"/>
<rect x="175.55" y="54.00" width="0.90" height="0.90" fill="#6a1a70" opacity="0.7"/>
<rect x="178.17" y="34.76" width="0.90" height="0.90" fill="#2a2a9a" opacity="0.7"/>
<rect x="180.77" y="37.74" width="0.90" height="0.90" fill="#2a2a9a" opacity="0.7"/>
<rect x="265.76" y="37.65" width="0.90" height="0.90" fill="#5a1a6a" opacity="0.7"/>
<rect x="242.67" y="81.10" width="0.90" height="0.90" fill="#6a1a70" opacity="0.7"/>
<rect x="241.33" y="35.11" width="0.90" height="0.90" fill="#6a1a70" opacity="0.7"/>
<rect x="247.03" y="62.23" width="0.90" height="0.90" fill="#3a1a8a" opacity="0.7"/>
<rect x="222.52" y="35.32" width="0.90" height="0.90" fill="#3a1a8a" opacity="0.7"/>
<rect x="195.84" y="37.18" width="0.90" height="0.90" fill="#6a1a70" opacity="0.7"/>
<rect x="183.58" y="72.73" width="0.90" height="0.90" fill="#7a2080" opacity="0.7"/>
<rect x="191.46" y="37.34" width="0.90" height="0.90" fill="#2a2a9a" opacity="0.7"/>
<rect x="264.28" y="22.59" width="0.90" height="0.90" fill="#7a2080" opacity="0.7"/>
<rect x="187.34" y="52.38" width="0.90" height="0.90" fill="#3a1a8a" opacity="0.7"/>
<rect x="174.98" y="70.30" width="0.90" height="0.90" fill="#2a2a9a" opacity="0.7"/>
<rect x="177.82" y="22.92" width="0.90" height="0.90" fill="#2a2a9a" opacity="0.7"/>
<rect x="217.88" y="80.54" width="0.90" height="0.90" fill="#6a1a70" opacity="0.7"/>
<rect x="246.39" y="105.78" width="0.90" height="0.90" fill="#3a1a8a" opacity="0.7"/>
<rect x="205.75" y="34.00" width="0.90" height="0.90" fill="#7a2080" opacity="0.7"/>
<rect x="247.75" y="20.42" width="0.90" height="0.90" fill="#2a2a9a" opacity="0.7"/>
<rect x="257.10" y="104.67" width="0.90" height="0.90" fill="#2a2a9a" opacity="0.7"/>
<rect x="189.64" y="17.85" width="0.90" height="0.90" fill="#6a1a70" opacity="0.7"/>
<rect x="180.73" y="54.74" width="0.90" height="0.90" fill="#5a1a6a" opacity="0.7"/>
<rect x="229.11" y="84.68" width="0.90" height="0.90" fill="#2a2a9a" opacity="0.7"/>
<rect x="208.51" y="90.23" width="0.90" height="0.90" fill="#2a2a9a" opacity="0.7"/>
<rect x="181.44" y="79.94" width="0.90" height="0.90" fill="#3a1a8a" opacity="0.7"/>
<rect x="210.13" y="98.88" width="0.90" height="0.90" fill="#3a1a8a" opacity="0.7"/>
<rect x="205.16" y="82.78" width="0.90" height="0.90" fill="#2a2a9a" opacity="0.7"/>
<rect x="175.65" y="53.91" width="0.90" height="0.90" fill="#2a2a9a" opacity="0.7"/>
<rect x="176.69" y="20.68" width="0.90" height="0.90" fill="#5a1a6a" opacity="0.7"/>
<rect x="253.50" y="23.08" width="0.90" height="0.90" fill="#3a1a8a" opacity="0.7"/>
<rect x="247.85" y="97.03" width="0.90" height="0.90" fill="#6a1a70" opacity="0.7"/>
<rect x="209.15" y="47.21" width="0.90" height="0.90" fill="#7a2080" opacity="0.7"/>
<rect x="176.99" y="83.59" width="0.90" height="0.90" fill="#6a1a70" opacity="0.7"/>
<rect x="265.67" y="43.89" width="0.90" height="0.90" fill="#7a2080" opacity="0.7"/>
<rect x="264.89" y="73.64" width="0.90" height="0.90" fill="#5a1a6a" opacity="0.7"/>
<rect x="175.04" y="38.27" width="0.90" height="0.90" fill="#2a2a9a" opacity="0.7"/>
<rect x="244.66" y="58.77" width="0.90" height="0.90" fill="#2a2a9a" opacity="0.7"/>
<rect x="252.13" y="98.36" width="0.90" height="0.90" fill="#2a2a9a" opacity="0.7"/>
<rect x="185.96" y="61.49" width="0.90" height="0.90" fill="#5a1a6a" opacity="0.7"/>
<rect x="253.42" y="82.88" width="0.90" height="0.90" fill="#3a1a8a" opacity="0.7"/>
<rect x="233.75" y="46.58" width="0.90" height="0.90" fill="#6a1a70" opacity="0.7"/>
<rect x="219.00" y="86.89" width="0.90" height="0.90" fill="#7a2080" opacity="0.7"/>
<rect x="180.56" y="35.04" width="0.90" height="0.90" fill="#3a1a8a" opacity="0.7"/>
<rect x="197.50" y="23.32" width="0.90" height="0.90" fill="#5a1a6a" opacity="0.7"/>
<rect x="221.11" y="65.74" width="0.90" height="0.90" fill="#3a1a8a" opacity="0.7"/>
<rect x="271.31" y="95.70" width="0.90" height="0.90" fill="#5a1a6a" opacity="0.7"/>
<rect x="199.27" y="25.03" width="0.90" height="0.90" fill="#5a1a6a" opacity="0.7"/>
<rect x="215.00" y="104.98" width="0.90" height="0.90" fill="#2a2a9a" opacity="0.7"/>
<rect x="190.04" y="29.35" width="0.90" height="0.90" fill="#2a2a9a" opacity="0.7"/>
<rect x="235.06" y="77.19" width="0.90" height="0.90" fill="#7a2080" opacity="0.7"/>
<rect x="257.89" y="76.34" width="0.90" height="0.90" fill="#5a1a6a" opacity="0.7"/>
<rect x="251.12" y="43.58" width="0.90" height="0.90" fill="#6a1a70" opacity="0.7"/>
<rect x="229.69" y="50.57" width="0.90" height="0.90" fill="#6a1a70" opacity="0.7"/>
<rect x="192.66" y="39.47" width="0.90" height="0.90" fill="#3a1a8a" opacity="0.7"/>
<rect x="196.32" y="42.47" width="0.90" height="0.90" fill="#7a2080" opacity="0.7"/>
<rect x="191.56" y="23.33" width="0.90" height="0.90" fill="#6a1a70" opacity="0.7"/>
<rect x="272.54" y="62.45" width="0.90" height="0.90" fill="#3a1a8a" opacity="0.7"/>
<rect x="238.02" y="26.49" width="0.90" height="0.90" fill="#2a2a9a" opacity="0.7"/>
<rect x="272.39" y="26.65" width="0.90" height="0.90" fill="#2a2a9a" opacity="0.7"/>
<rect x="261.50" y="38.03" width="0.90" height="0.90" fill="#2a2a9a" opacity="0.7"/>
<rect x="264.68" y="21.17" width="0.90" height="0.90" fill="#6a1a70" opacity="0.7"/>
<rect x="196.05" y="22.05" width="0.90" height="0.90" fill="#7a2080" opacity="0.7"/>
<rect x="270.58" y="69.15" width="0.90" height="0.90" fill="#5a1a6a" opacity="0.7"/>
<rect x="210.08" y="94.17" width="0.90" height="0.90" fill="#2a2a9a" opacity="0.7"/>
<rect x="233.33" y="86.11" width="0.90" height="0.90" fill="#5a1a6a" opacity="0.7"/>
<rect x="183.25" y="70.30" width="0.90" height="0.90" fill="#7a2080" opacity="0.7"/>
<rect x="207.81" y="20.91" width="0.90" height="0.90" fill="#6a1a70" opacity="0.7"/>
<rect x="186.84" y="35.63" width="0.90" height="0.90" fill="#6a1a70" opacity="0.7"/>
<rect x="176.45" y="82.33" width="0.90" height="0.90" fill="#3a1a8a" opacity="0.7"/>
<rect x="254.64" y="89.98" width="0.90" height="0.90" fill="#2a2a9a" opacity="0.7"/>
<rect x="240.91" y="33.97" width="0.90" height="0.90" fill="#6a1a70" opacity="0.7"/>
<rect x="180.45" y="20.38" width="0.90" height="0.90" fill="#2a2a9a" opacity="0.7"/>
<rect x="227.79" y="23.19" width="0.90" height="0.90" fill="#5a1a6a" opacity="0.7"/>
<rect x="252.74" y="76.30" width="0.90" height="0.90" fill="#3a1a8a" opacity="0.7"/>
<rect x="236.97" y="25.66" width="0.90" height="0.90" fill="#3a1a8a" opacity="0.7"/>
<rect x="212.66" y="41.57" width="0.90" height="0.90" fill="#6a1a70" opacity="0.7"/>
<rect x="239.85" y="54.54" width="0.90" height="0.90" fill="#5a1a6a" opacity="0.7"/>
<rect x="204.05" y="67.68" width="0.90" height="0.90" fill="#6a1a70" opacity="0.7"/>
<rect x="214.30" y="19.21" width="0.90" height="0.90" fill="#6a1a70" opacity="0.7"/>
<rect x="237.50" y="52.14" width="0.90" height="0.90" fill="#2a2a9a" opacity="0.7"/>
<rect x="193.11" y="18.12" width="0.90" height="0.90" fill="#3a1a8a" opacity="0.7"/>
<rect x="215.27" y="90.12" width="0.90" height="0.90" fill="#2a2a9a" opacity="0.7"/>
<rect x="230.78" y="49.84" width="0.90" height="0.90" fill="#3a1a8a" opacity="0.7"/>
<rect x="185.69" y="22.17" width="0.90" height="0.90" fill="#3a1a8a" opacity="0.7"/>
<rect x="237.12" y="98.03" width="0.90" height="0.90" fill="#5a1a6a" opacity="0.7"/>
<rect x="230.29" y="99.57" width="0.90" height="0.90" fill="#7a2080" opacity="0.7"/>
<rect x="189.89" y="48.36" width="0.90" height="0.90" fill="#3a1a8a" opacity="0.7"/>
<rect x="225.08" y="99.41" width="0.90" height="0.90" fill="#5a1a6a" opacity="0.7"/>
<rect x="211.24" y="84.21" width="0.90" height="0.90" fill="#3a1a8a" opacity="0.7"/>
<rect x="202.97" y="91.62" width="0.90" height="0.90" fill="#5a1a6a" opacity="0.7"/>
<rect x="270.84" y="60.27" width="0.90" height="0.90" fill="#5a1a6a" opacity="0.7"/>
<rect x="233.79" y="73.85" width="0.90" height="0.90" fill="#5a1a6a" opacity="0.7"/>
<rect x="263.66" y="72.44" width="0.90" height="0.90" fill="#3a1a8a" opacity="0.7"/>
<rect x="237.08" y="93.32" width="0.90" height="0.90" fill="#7a2080" opacity="0.7"/>
<rect x="213.33" y="92.42" width="0.90" height="0.90" fill="#2a2a9a" opacity="0.7"/>
<rect x="191.02" y="36.88" width="0.90" height="0.90" fill="#2a2a9a" opacity="0.7"/>
<rect x="267.11" y="31.43" width="0.90" height="0.90" fill="#6a1a70" opacity="0.7"/>
<rect x="184.99" y="39.44" width="0.90" height="0.90" fill="#3a1a8a" opacity="0.7"/>
<rect x="176.74" y="67.31" width="0.90" height="0.90" fill="#5a1a6a" opacity="0.7"/>
<rect x="239.86" y="46.26" width="0.90" height="0.90" fill="#2a2a9a" opacity="0.7"/>
<rect x="232.97" y="66.22" width="0.90" height="0.90" fill="#6a1a70" opacity="0.7"/>
<rect x="237.96" y="44.85" width="0.90" height="0.90" fill="#3a1a8a" opacity="0.7"/>
<rect x="215.47" y="75.84" width="0.90" height="0.90" fill="#2a2a9a" opacity="0.7"/>
<rect x="223.31" y="33.40" width="0.90" height="0.90" fill="#5a1a6a" opacity="0.7"/>
<rect x="234.92" y="60.87" width="0.90" height="0.90" fill="#3a1a8a" opacity="0.7"/>
<rect x="217.59" y="72.28" width="0.90" height="0.90" fill="#2a2a9a" opacity="0.7"/>
<rect x="256.84" y="89.25" width="0.90" height="0.90" fill="#2a2a9a" opacity="0.7"/>
<rect x="183.38" y="28.96" width="0.90" height="0.90" fill="#2a2a9a" opacity="0.7"/>
<rect x="209.39" y="88.52" width="0.90" height="0.90" fill="#7a2080" opacity="0.7"/>
<rect x="223.97" y="21.20" width="0.90" height="0.90" fill="#3a1a8a" opacity="0.7"/>
<rect x="180.88" y="82.44" width="0.90" height="0.90" fill="#7a2080" opacity="0.7"/>
<rect x="180.65" y="84.08" width="0.90" height="0.90" fill="#2a2a9a" opacity="0.7"/>
<rect x="238.33" y="86.93" width="0.90" height="0.90" fill="#5a1a6a" opacity="0.7"/>
<rect x="258.91" y="105.66" width="0.90" height="0.90" fill="#5a1a6a" opacity="0.7"/>
<rect x="192.11" y="104.38" width="0.90" height="0.90" fill="#2a2a9a" opacity="0.7"/>
<rect x="201.59" y="89.29" width="0.90" height="0.90" fill="#3a1a8a" opacity="0.7"/>
<rect x="241.69" y="81.34" width="0.90" height="0.90" fill="#3a1a8a" opacity="0.7"/>
<rect x="179.20" y="48.62" width="0.90" height="0.90" fill="#6a1a70" opacity="0.7"/>
<rect x="188.59" y="96.85" width="0.90" height="0.90" fill="#6a1a70" opacity="0.7"/>
<rect x="263.74" y="57.95" width="0.90" height="0.90" fill="#6a1a70" opacity="0.7"/>
<rect x="223.17" y="98.92" width="0.90" height="0.90" fill="#3a1a8a" opacity="0.7"/>
<rect x="232.20" y="72.04" width="0.90" height="0.90" fill="#3a1a8a" opacity="0.7"/>
<rect x="204.73" y="20.86" width="0.90" height="0.90" fill="#3a1a8a" opacity="0.7"/>
<rect x="213.23" y="73.87" width="0.90" height="0.90" fill="#6a1a70" opacity="0.7"/>
<rect x="241.04" y="96.75" width="0.90" height="0.90" fill="#3a1a8a" opacity="0.7"/>
<rect x="252.37" y="40.97" width="0.90" height="0.90" fill="#7a2080" opacity="0.7"/>
<rect x="177.49" y="93.47" width="0.90" height="0.90" fill="#2a2a9a" opacity="0.7"/>
<rect x="228.51" y="68.88" width="0.90" height="0.90" fill="#5a1a6a" opacity="0.7"/>
<rect x="197.98" y="64.96" width="0.90" height="0.90" fill="#2a2a9a" opacity="0.7"/>
<rect x="246.91" y="50.44" width="0.90" height="0.90" fill="#2a2a9a" opacity="0.7"/>
<rect x="272.34" y="68.64" width="0.90" height="0.90" fill="#6a1a70" opacity="0.7"/>
<rect x="205.91" y="24.79" width="0.90" height="0.90" fill="#3a1a8a" opacity="0.7"/>
<rect x="190.40" y="83.33" width="0.90" height="0.90" fill="#5a1a6a" opacity="0.7"/>
<rect x="202.45" y="63.22" width="0.90" height="0.90" fill="#6a1a70" opacity="0.7"/>
<rect x="236.97" y="104.59" width="0.90" height="0.90" fill="#7a2080" opacity="0.7"/>
<rect x="266.10" y="96.78" width="0.90" height="0.90" fill="#5a1a6a" opacity="0.7"/>
<rect x="247.83" y="37.19" width="0.90" height="0.90" fill="#6a1a70" opacity="0.7"/>
<rect x="234.64" y="55.81" width="0.90" height="0.90" fill="#7a2080" opacity="0.7"/>
<rect x="209.26" y="21.82" width="0.90" height="0.90" fill="#2a2a9a" opacity="0.7"/>
<rect x="195.49" y="75.33" width="0.90" height="0.90" fill="#5a1a6a" opacity="0.7"/>
<rect x="178.08" y="67.73" width="0.90" height="0.90" fill="#6a1a70" opacity="0.7"/>
<rect x="183.31" y="49.17" width="0.90" height="0.90" fill="#3a1a8a" opacity="0.7"/>
<rect x="214.21" y="44.22" width="0.90" height="0.90" fill="#3a1a8a" opacity="0.7"/>
<rect x="193.16" y="72.76" width="0.90" height="0.90" fill="#2a2a9a" opacity="0.7"/>
<rect x="188.57" y="18.85" width="0.90" height="0.90" fill="#3a1a8a" opacity="0.7"/>
<rect x="243.84" y="57.46" width="0.90" height="0.90" fill="#5a1a6a" opacity="0.7"/>
<rect x="236.87" y="94.62" width="0.90" height="0.90" fill="#6a1a70" opacity="0.7"/>
<rect x="213.08" y="40.96" width="0.90" height="0.90" fill="#5a1a6a" opacity="0.7"/>
<rect x="178.25" y="90.17" width="0.90" height="0.90" fill="#6a1a70" opacity="0.7"/>
<rect x="232.49" y="68.74" width="0.90" height="0.90" fill="#7a2080" opacity="0.7"/>
<rect x="266.97" y="82.44" width="0.90" height="0.90" fill="#3a1a8a" opacity="0.7"/>
<rect x="189.23" y="17.64" width="0.90" height="0.90" fill="#5a1a6a" opacity="0.7"/>
<rect x="226.12" y="53.49" width="0.90" height="0.90" fill="#3a1a8a" opacity="0.7"/>
<rect x="188.63" y="98.20" width="0.90" height="0.90" fill="#5a1a6a" opacity="0.7"/>
<rect x="173.84" y="66.30" width="0.90" height="0.90" fill="#3a1a8a" opacity="0.7"/>
<rect x="186.93" y="35.24" width="0.90" height="0.90" fill="#7a2080" opacity="0.7"/>
<rect x="237.32" y="74.85" width="0.90" height="0.90" fill="#2a2a9a" opacity="0.7"/>
<rect x="254.51" y="33.04" width="0.90" height="0.90" fill="#6a1a70" opacity="0.7"/>
<rect x="179.02" y="72.94" width="0.90" height="0.90" fill="#2a2a9a" opacity="0.7"/>
<rect x="244.64" y="18.16" width="0.90" height="0.90" fill="#2a2a9a" opacity="0.7"/>
<rect x="247.64" y="58.73" width="0.90" height="0.90" fill="#2a2a9a" opacity="0.7"/>
<rect x="190.26" y="105.70" width="0.90" height="0.90" fill="#6a1a70" opacity="0.7"/>
<rect x="195.99" y="21.03" width="0.90" height="0.90" fill="#6a1a70" opacity="0.7"/>
<rect x="262.35" y="99.39" width="0.90" height="0.90" fill="#6a1a70" opacity="0.7"/>
<rect x="244.27" y="41.11" width="0.90" height="0.90" fill="#7a2080" opacity="0.7"/>
<rect x="241.00" y="78.22" width="0.90" height="0.90" fill="#7a2080" opacity="0.7"/>
<rect x="270.47" y="43.73" width="0.90" height="0.90" fill="#3a1a8a" opacity="0.7"/>
<rect x="181.20" y="62.46" width="0.90" height="0.90" fill="#3a1a8a" opacity="0.7"/>
<rect x="198.82" y="38.47" width="0.90" height="0.90" fill="#3a1a8a" opacity="0.7"/>
<rect x="267.73" y="83.56" width="0.90" height="0.90" fill="#6a1a70" opacity="0.7"/>
<rect x="191.93" y="51.96" width="0.90" height="0.90" fill="#7a2080" opacity="0.7"/>
<rect x="196.68" y="97.83" width="0.90" height="0.90" fill="#7a2080" opacity="0.7"/>
<rect x="219.88" y="91.83" width="0.90" height="0.90" fill="#5a1a6a" opacity="0.7"/>
<rect x="258.95" y="56.25" width="0.90" height="0.90" fill="#3a1a8a" opacity="0.7"/>
<rect x="230.03" y="44.81" width="0.90" height="0.90" fill="#3a1a8a" opacity="0.7"/>
<rect x="212.03" y="69.34" width="0.90" height="0.90" fill="#7a2080" opacity="0.7"/>
<rect x="264.32" y="30.38" width="0.90" height="0.90" fill="#5a1a6a" opacity="0.7"/>
<rect x="183.87" y="72.58" width="0.90" height="0.90" fill="#3a1a8a" opacity="0.7"/>
<rect x="207.33" y="30.14" width="0.90" height="0.90" fill="#5a1a6a" opacity="0.7"/>
<rect x="175.71" y="29.83" width="0.90" height="0.90" fill="#5a1a6a" opacity="0.7"/>
<rect x="242.79" y="82.73" width="0.90" height="0.90" fill="#5a1a6a" opacity="0.7"/>
<rect x="258.85" y="84.94" width="0.90" height="0.90" fill="#3a1a8a" opacity="0.7"/>
<rect x="254.93" y="90.05" width="0.90" height="0.90" fill="#5a1a6a" opacity="0.7"/>
<rect x="261.19" y="84.41" width="0.90" height="0.90" fill="#2a2a9a" opacity="0.7"/>
<rect x="183.39" y="35.79" width="0.90" height="0.90" fill="#5a1a6a" opacity="0.7"/>
<rect x="176.01" y="101.51" width="0.90" height="0.90" fill="#5a1a6a" opacity="0.7"/>
<rect x="255.68" y="73.43" width="0.90" height="0.90" fill="#6a1a70" opacity="0.7"/>
<rect x="220.65" y="29.33" width="0.90" height="0.90" fill="#3a1a8a" opacity="0.7"/>
<rect x="202.25" y="47.35" width="0.90" height="0.90" fill="#6a1a70" opacity="0.7"/>
<rect x="174.71" y="40.29" width="0.90" height="0.90" fill="#6a1a70" opacity="0.7"/>
<rect x="177.47" y="84.77" width="0.90" height="0.90" fill="#6a1a70" opacity="0.7"/>
<rect x="250.06" y="70.82" width="0.90" height="0.90" fill="#2a2a9a" opacity="0.7"/>
<rect x="258.33" y="72.26" width="0.90" height="0.90" fill="#5a1a6a" opacity="0.7"/>
<rect x="252.06" y="20.36" width="0.90" height="0.90" fill="#7a2080" opacity="0.7"/>
<rect x="250.44" y="48.26" width="0.90" height="0.90" fill="#5a1a6a" opacity="0.7"/>
<rect x="226.76" y="36.75" width="0.90" height="0.90" fill="#5a1a6a" opacity="0.7"/>
<rect x="230.46" y="42.98" width="0.90" height="0.90" fill="#2a2a9a" opacity="0.7"/>
<rect x="172.73" y="35.46" width="0.90" height="0.90" fill="#5a1a6a" opacity="0.7"/>
<rect x="173.04" y="60.99" width="0.90" height="0.90" fill="#2a2a9a" opacity="0.7"/>
<rect x="242.61" y="90.56" width="0.90" height="0.90" fill="#2a2a9a" opacity="0.7"/>
<rect x="232.27" y="102.22" width="0.90" height="0.90" fill="#7a2080" opacity="0.7"/>
<rect x="198.84" y="101.04" width="0.90" height="0.90" fill="#6a1a70" opacity="0.7"/>
<rect x="254.69" y="100.54" width="0.90" height="0.90" fill="#3a1a8a" opacity="0.7"/>
<rect x="222.78" y="27.32" width="0.90" height="0.90" fill="#5a1a6a" opacity="0.7"/>
<rect x="221.97" y="105.21" width="0.90" height="0.90" fill="#7a2080" opacity="0.7"/>
<rect x="251.84" y="73.11" width="0.90" height="0.90" fill="#6a1a70" opacity="0.7"/>
<rect x="182.18" y="99.68" width="0.90" height="0.90" fill="#5a1a6a" opacity="0.7"/>
<rect x="215.11" y="74.69" width="0.90" height="0.90" fill="#6a1a70" opacity="0.7"/>
<rect x="193.36" y="40.87" width="0.90" height="0.90" fill="#7a2080" opacity="0.7"/>
<rect x="223.07" y="51.13" width="0.90" height="0.90" fill="#3a1a8a" opacity="0.7"/>
<rect x="267.65" y="28.82" width="0.90" height="0.90" fill="#7a2080" opacity="0.7"/>
<rect x="248.58" y="84.16" width="0.90" height="0.90" fill="#5a1a6a" opacity="0.7"/>
<rect x="207.69" y="46.48" width="0.90" height="0.90" fill="#3a1a8a" opacity="0.7"/>
<rect x="260.01" y="57.41" width="0.90" height="0.90" fill="#7a2080" opacity="0.7"/>
<rect x="247.32" y="32.59" width="0.90" height="0.90" fill="#2a2a9a" opacity="0.7"/>
<rect x="241.99" y="40.34" width="0.90" height="0.90" fill="#3a1a8a" opacity="0.7"/>
<rect x="185.29" y="58.44" width="0.90" height="0.90" fill="#3a1a8a" opacity="0.7"/>
<rect x="223.73" y="41.25" width="0.90" height="0.90" fill="#7a2080" opacity="0.7"/>
<rect x="188.17" y="31.39" width="0.90" height="0.90" fill="#3a1a8a" opacity="0.7"/>
<rect x="245.42" y="70.90" width="0.90" height="0.90" fill="#6a1a70" opacity="0.7"/>
<rect x="188.81" y="46.60" width="0.90" height="0.90" fill="#3a1a8a" opacity="0.7"/>
<rect x="198.65" y="102.02" width="0.90" height="0.90" fill="#5a1a6a" opacity="0.7"/>
<rect x="189.18" y="75.76" width="0.90" height="0.90" fill="#3a1a8a" opacity="0.7"/>
<rect x="211.29" y="104.57" width="0.90" height="0.90" fill="#6a1a70" opacity="0.7"/>
<rect x="246.44" y="56.05" width="0.90" height="0.90" fill="#3a1a8a" opacity="0.7"/>
<rect x="183.60" y="98.17" width="0.90" height="0.90" fill="#6a1a70" opacity="0.7"/>
<rect x="193.39" y="51.93" width="0.90" height="0.90" fill="#5a1a6a" opacity="0.7"/>
<rect x="173.87" y="93.12" width="0.90" height="0.90" fill="#2a2a9a" opacity="0.7"/>
<rect x="242.43" y="61.84" width="0.90" height="0.90" fill="#6a1a70" opacity="0.7"/>
<rect x="219.25" y="30.14" width="0.90" height="0.90" fill="#7a2080" opacity="0.7"/>
<rect x="246.94" y="18.09" width="0.90" height="0.90" fill="#3a1a8a" opacity="0.7"/>
<rect x="264.04" y="55.61" width="0.90" height="0.90" fill="#7a2080" opacity="0.7"/>
<rect x="231.75" y="74.81" width="0.90" height="0.90" fill="#3a1a8a" opacity="0.7"/>
<rect x="239.86" y="75.28" width="0.90" height="0.90" fill="#7a2080" opacity="0.7"/>
<rect x="258.44" y="77.68" width="0.90" height="0.90" fill="#5a1a6a" opacity="0.7"/>
<rect x="218.31" y="45.27" width="0.90" height="0.90" fill="#5a1a6a" opacity="0.7"/>
<rect x="262.70" y="39.03" width="0.90" height="0.90" fill="#2a2a9a" opacity="0.7"/>
<rect x="244.41" y="73.26" width="0.90" height="0.90" fill="#6a1a70" opacity="0.7"/>
<rect x="258.14" y="60.27" width="0.90" height="0.90" fill="#5a1a6a" opacity="0.7"/>
<rect x="235.19" y="53.79" width="0.90" height="0.90" fill="#3a1a8a" opacity="0.7"/>
<rect x="262.68" y="46.60" width="0.90" height="0.90" fill="#5a1a6a" opacity="0.7"/>
<rect x="211.74" y="60.90" width="0.90" height="0.90" fill="#5a1a6a" opacity="0.7"/>
<rect x="176.44" y="65.63" width="0.90" height="0.90" fill="#3a1a8a" opacity="0.7"/>
<rect x="244.72" y="101.70" width="0.90" height="0.90" fill="#3a1a8a" opacity="0.7"/>
<rect x="224.89" y="26.54" width="0.90" height="0.90" fill="#7a2080" opacity="0.7"/>
<rect x="218.60" y="35.72" width="0.90" height="0.90" fill="#2a2a9a" opacity="0.7"/>
<rect x="224.18" y="74.11" width="0.90" height="0.90" fill="#6a1a70" opacity="0.7"/>
<rect x="225.13" y="53.87" width="0.90" height="0.90" fill="#2a2a9a" opacity="0.7"/>
<rect x="193.76" y="78.10" width="0.90" height="0.90" fill="#2a2a9a" opacity="0.7"/>
<rect x="224.34" y="100.05" width="0.90" height="0.90" fill="#7a2080" opacity="0.7"/>
<rect x="208.40" y="22.61" width="0.90" height="0.90" fill="#6a1a70" opacity="0.7"/>
<rect x="211.05" y="23.04" width="0.90" height="0.90" fill="#5a1a6a" opacity="0.7"/>
<rect x="214.75" y="54.78" width="0.90" height="0.90" fill="#6a1a70" opacity="0.7"/>
<rect x="231.02" y="27.26" width="0.90" height="0.90" fill="#6a1a70" opacity="0.7"/>
<rect x="247.27" y="100.69" width="0.90" height="0.90" fill="#7a2080" opacity="0.7"/>
<rect x="270.43" y="105.49" width="0.90" height="0.90" fill="#2a2a9a" opacity="0.7"/>
<rect x="219.14" y="32.14" width="0.90" height="0.90" fill="#5a1a6a" opacity="0.7"/>
<rect x="254.12" y="73.67" width="0.90" height="0.90" fill="#2a2a9a" opacity="0.7"/>
<rect x="237.27" y="81.31" width="0.90" height="0.90" fill="#3a1a8a" opacity="0.7"/>
<rect x="208.16" y="74.07" width="0.90" height="0.90" fill="#2a2a9a" opacity="0.7"/>
<rect x="219.74" y="43.62" width="0.90" height="0.90" fill="#7a2080" opacity="0.7"/>
<rect x="238.02" y="86.54" width="0.90" height="0.90" fill="#2a2a9a" opacity="0.7"/>
<rect x="208.32" y="92.80" width="0.90" height="0.90" fill="#6a1a70" opacity="0.7"/>
<rect x="243.51" y="78.37" width="0.90" height="0.90" fill="#2a2a9a" opacity="0.7"/>
<rect x="240.96" y="60.17" width="0.90" height="0.90" fill="#6a1a70" opacity="0.7"/>
<rect x="208.65" y="75.45" width="0.90" height="0.90" fill="#6a1a70" opacity="0.7"/>
<rect x="220.89" y="55.48" width="0.90" height="0.90" fill="#5a1a6a" opacity="0.7"/>
<rect x="238.99" y="49.64" width="0.90" height="0.90" fill="#6a1a70" opacity="0.7"/>
<rect x="258.64" y="22.64" width="0.90" height="0.90" fill="#7a2080" opacity="0.7"/>
<rect x="263.81" y="86.91" width="0.90" height="0.90" fill="#3a1a8a" opacity="0.7"/>
<rect x="226.04" y="48.11" width="0.90" height="0.90" fill="#7a2080" opacity="0.7"/>
<rect x="174.11" y="18.61" width="0.90" height="0.90" fill="#5a1a6a" opacity="0.7"/>
<rect x="238.65" y="39.70" width="0.90" height="0.90" fill="#5a1a6a" opacity="0.7"/>
<rect x="230.85" y="93.11" width="0.90" height="0.90" fill="#3a1a8a" opacity="0.7"/>
<rect x="250.77" y="48.23" width="0.90" height="0.90" fill="#3a1a8a" opacity="0.7"/>
<rect x="193.60" y="53.18" width="0.90" height="0.90" fill="#7a2080" opacity="0.7"/>
<rect x="189.51" y="96.38" width="0.90" height="0.90" fill="#7a2080" opacity="0.7"/>
<rect x="271.00" y="25.59" width="0.90" height="0.90" fill="#7a2080" opacity="0.7"/>
<rect x="251.96" y="91.75" width="0.90" height="0.90" fill="#3a1a8a" opacity="0.7"/>
<rect x="222.39" y="36.44" width="0.90" height="0.90" fill="#5a1a6a" opacity="0.7"/>
<rect x="247.31" y="56.37" width="0.90" height="0.90" fill="#5a1a6a" opacity="0.7"/>
<rect x="228.49" y="40.98" width="0.90" height="0.90" fill="#3a1a8a" opacity="0.7"/>
<rect x="255.88" y="59.43" width="0.90" height="0.90" fill="#7a2080" opacity="0.7"/>
<rect x="178.49" y="58.89" width="0.90" height="0.90" fill="#3a1a8a" opacity="0.7"/>
<rect x="243.13" y="39.40" width="0.90" height="0.90" fill="#3a1a8a" opacity="0.7"/>
<rect x="226.93" y="93.88" width="0.90" height="0.90" fill="#5a1a6a" opacity="0.7"/>
<rect x="188.75" y="45.95" width="0.90" height="0.90" fill="#7a2080" opacity="0.7"/>
<rect x="222.71" y="43.84" width="0.90" height="0.90" fill="#2a2a9a" opacity="0.7"/>
<rect x="210.36" y="54.62" width="0.90" height="0.90" fill="#5a1a6a" opacity="0.7"/>
<rect x="190.78" y="49.46" width="0.90" height="0.90" fill="#5a1a6a" opacity="0.7"/>
<rect x="174.67" y="21.65" width="0.90" height="0.90" fill="#6a1a70" opacity="0.7"/>
<rect x="254.03" y="25.91" width="0.90" height="0.90" fill="#2a2a9a" opacity="0.7"/>
<rect x="221.41" y="96.94" width="0.90" height="0.90" fill="#5a1a6a" opacity="0.7"/>
<rect x="194.09" y="54.34" width="0.90" height="0.90" fill="#3a1a8a" opacity="0.7"/>
<rect x="206.70" y="93.77" width="0.90" height="0.90" fill="#6a1a70" opacity="0.7"/>
<rect x="206.97" y="86.42" width="0.90" height="0.90" fill="#7a2080" opacity="0.7"/>
<rect x="250.20" y="36.23" width="0.90" height="0.90" fill="#2a2a9a" opacity="0.7"/>
<rect x="207.03" y="39.84" width="0.90" height="0.90" fill="#5a1a6a" opacity="0.7"/>
<rect x="255.85" y="43.49" width="0.90" height="0.90" fill="#2a2a9a" opacity="0.7"/>
<rect x="213.26" y="62.13" width="0.90" height="0.90" fill="#6a1a70" opacity="0.7"/>
<rect x="260.51" y="48.08" width="0.90" height="0.90" fill="#3a1a8a" opacity="0.7"/>
<rect x="238.51" y="87.61" width="0.90" height="0.90" fill="#6a1a70" opacity="0.7"/>
<rect x="191.97" y="80.65" width="0.90" height="0.90" fill="#3a1a8a" opacity="0.7"/>
<rect x="231.66" y="73.72" width="0.90" height="0.90" fill="#5a1a6a" opacity="0.7"/>
<rect x="212.77" y="66.60" width="0.90" height="0.90" fill="#2a2a9a" opacity="0.7"/>
<rect x="227.52" y="21.99" width="0.90" height="0.90" fill="#6a1a70" opacity="0.7"/>
<rect x="183.53" y="21.70" width="0.90" height="0.90" fill="#2a2a9a" opacity="0.7"/>
<rect x="233.89" y="75.77" width="0.90" height="0.90" fill="#7a2080" opacity="0.7"/>
<rect x="264.22" y="71.68" width="0.90" height="0.90" fill="#7a2080" opacity="0.7"/>
<rect x="187.41" y="77.16" width="0.90" height="0.90" fill="#7a2080" opacity="0.7"/>
<rect x="260.85" y="24.94" width="0.90" height="0.90" fill="#5a1a6a" opacity="0.7"/>
<rect x="239.77" y="58.08" width="0.90" height="0.90" fill="#3a1a8a" opacity="0.7"/>
<rect x="182.81" y="33.63" width="0.90" height="0.90" fill="#5a1a6a" opacity="0.7"/>
<rect x="215.05" y="26.49" width="0.90" height="0.90" fill="#5a1a6a" opacity="0.7"/>
<rect x="209.75" y="90.32" width="0.90" height="0.90" fill="#6a1a70" opacity="0.7"/>
<rect x="229.20" y="40.41" width="0.90" height="0.90" fill="#6a1a70" opacity="0.7"/>
<rect x="191.21" y="20.63" width="0.90" height="0.90" fill="#5a1a6a" opacity="0.7"/>
<rect x="215.97" y="74.33" width="0.90" height="0.90" fill="#5a1a6a" opacity="0.7"/>
<rect x="222.72" y="63.76" width="0.90" height="0.90" fill="#5a1a6a" opacity="0.7"/>
<rect x="250.52" y="54.82" width="0.90" height="0.90" fill="#2a2a9a" opacity="0.7"/>
<rect x="217.56" y="18.85" width="0.90" height="0.90" fill="#2a2a9a" opacity="0.7"/>
<rect x="232.40" y="105.39" width="0.90" height="0.90" fill="#3a1a8a" opacity="0.7"/>
<rect x="220.48" y="54.06" width="0.90" height="0.90" fill="#5a1a6a" opacity="0.7"/>
<rect x="180.95" y="59.34" width="0.90" height="0.90" fill="#3a1a8a" opacity="0.7"/>
<rect x="235.73" y="55.35" width="0.90" height="0.90" fill="#5a1a6a" opacity="0.7"/>
<rect x="241.45" y="28.36" width="0.90" height="0.90" fill="#5a1a6a" opacity="0.7"/>
<rect x="194.58" y="28.33" width="0.90" height="0.90" fill="#2a2a9a" opacity="0.7"/>
<rect x="174.39" y="81.19" width="0.90" height="0.90" fill="#3a1a8a" opacity="0.7"/>
<rect x="217.99" y="83.39" width="0.90" height="0.90" fill="#5a1a6a" opacity="0.7"/>
<rect x="209.44" y="83.66" width="0.90" height="0.90" fill="#3a1a8a" opacity="0.7"/>
<rect x="246.08" y="25.05" width="0.90" height="0.90" fill="#7a2080" opacity="0.7"/>
<rect x="244.02" y="58.32" width="0.90" height="0.90" fill="#6a1a70" opacity="0.7"/>
<rect x="264.59" y="22.26" width="0.90" height="0.90" fill="#5a1a6a" opacity="0.7"/>
<rect x="173.75" y="18.90" width="0.90" height="0.90" fill="#7a2080" opacity="0.7"/>
<rect x="180.62" y="45.10" width="0.90" height="0.90" fill="#7a2080" opacity="0.7"/>
<rect x="189.32" y="93.71" width="0.90" height="0.90" fill="#2a2a9a" opacity="0.7"/>
<rect x="233.92" y="45.56" width="0.90" height="0.90" fill="#7a2080" opacity="0.7"/>
<rect x="245.89" y="59.13" width="0.90" height="0.90" fill="#3a1a8a" opacity="0.7"/>
<rect x="187.19" y="88.09" width="0.90" height="0.90" fill="#6a1a70" opacity="0.7"/>
<rect x="268.66" y="32.10" width="0.90" height="0.90" fill="#2a2a9a" opacity="0.7"/>
<rect x="220.63" y="86.38" width="0.90" height="0.90" fill="#2a2a9a" opacity="0.7"/>
<rect x="267.75" y="86.96" width="0.90" height="0.90" fill="#7a2080" opacity="0.7"/>
<rect x="206.22" y="42.34" width="0.90" height="0.90" fill="#7a2080" opacity="0.7"/>
<rect x="270.68" y="79.77" width="0.90" height="0.90" fill="#7a2080" opacity="0.7"/>
<rect x="206.04" y="71.15" width="0.90" height="0.90" fill="#5a1a6a" opacity="0.7"/>
<rect x="256.31" y="70.74" width="0.90" height="0.90" fill="#6a1a70" opacity="0.7"/>
<rect x="231.48" y="103.91" width="0.90" height="0.90" fill="#3a1a8a" opacity="0.7"/>
<rect x="210.53" y="78.14" width="0.90" height="0.90" fill="#7a2080" opacity="0.7"/>
<rect x="250.28" y="38.32" width="0.90" height="0.90" fill="#2a2a9a" opacity="0.7"/>
<rect x="201.13" y="17.75" width="0.90" height="0.90" fill="#6a1a70" opacity="0.7"/>
<rect x="199.59" y="31.50" width="0.90" height="0.90" fill="#5a1a6a" opacity="0.7"/>
<rect x="201.65" y="30.04" width="0.90" height="0.90" fill="#7a2080" opacity="0.7"/>
<rect x="187.40" y="103.82" width="0.90" height="0.90" fill="#7a2080" opacity="0.7"/>
<rect x="241.54" y="98.38" width="0.90" height="0.90" fill="#6a1a70" opacity="0.7"/>
<rect x="226.43" y="65.33" width="0.90" height="0.90" fill="#2a2a9a" opacity="0.7"/>
<rect x="252.90" y="35.32" width="0.90" height="0.90" fill="#3a1a8a" opacity="0.7"/>
<rect x="203.76" y="22.69" width="0.90" height="0.90" fill="#2a2a9a" opacity="0.7"/>
<rect x="219.46" y="35.86" width="0.90" height="0.90" fill="#6a1a70" opacity="0.7"/>
<rect x="231.65" y="18.43" width="0.90" height="0.90" fill="#2a2a9a" opacity="0.7"/>
<rect x="218.89" y="25.35" width="0.90" height="0.90" fill="#6a1a70" opacity="0.7"/>
<rect x="250.36" y="38.19" width="0.90" height="0.90" fill="#7a2080" opacity="0.7"/>
<rect x="225.07" y="40.54" width="0.90" height="0.90" fill="#7a2080" opacity="0.7"/>
<rect x="204.92" y="62.35" width="0.90" height="0.90" fill="#3a1a8a" opacity="0.7"/>
<rect x="191.65" y="34.60" width="0.90" height="0.90" fill="#3a1a8a" opacity="0.7"/>
<rect x="253.75" y="43.22" width="0.90" height="0.90" fill="#7a2080" opacity="0.7"/>
<rect x="229.44" y="53.18" width="0.90" height="0.90" fill="#7a2080" opacity="0.7"/>
<rect x="258.89" y="39.37" width="0.90" height="0.90" fill="#2a2a9a" opacity="0.7"/>
<rect x="210.27" y="26.98" width="0.90" height="0.90" fill="#2a2a9a" opacity="0.7"/>
<rect x="251.89" y="31.40" width="0.90" height="0.90" fill="#7a2080" opacity="0.7"/>
<rect x="175.66" y="42.40" width="0.90" height="0.90" fill="#7a2080" opacity="0.7"/>
<rect x="174.67" y="20.57" width="0.90" height="0.90" fill="#7a2080" opacity="0.7"/>
<rect x="221.57" y="67.74" width="0.90" height="0.90" fill="#6a1a70" opacity="0.7"/>
<rect x="265.80" y="42.34" width="0.90" height="0.90" fill="#5a1a6a" opacity="0.7"/>
<rect x="267.91" y="85.42" width="0.90" height="0.90" fill="#7a2080" opacity="0.7"/>
<rect x="269.62" y="40.05" width="0.90" height="0.90" fill="#5a1a6a" opacity="0.7"/>
<rect x="206.72" y="105.52" width="0.90" height="0.90" fill="#2a2a9a" opacity="0.7"/>
<rect x="181.02" y="22.11" width="0.90" height="0.90" fill="#7a2080" opacity="0.7"/>
<rect x="209.82" y="79.97" width="0.90" height="0.90" fill="#2a2a9a" opacity="0.7"/>
<rect x="267.98" y="98.04" width="0.90" height="0.90" fill="#5a1a6a" opacity="0.7"/>
<rect x="259.50" y="74.16" width="0.90" height="0.90" fill="#5a1a6a" opacity="0.7"/>
<rect x="243.73" y="25.55" width="0.90" height="0.90" fill="#6a1a70" opacity="0.7"/>
<rect x="229.44" y="74.23" width="0.90" height="0.90" fill="#7a2080" opacity="0.7"/>
<rect x="212.19" y="57.23" width="0.90" height="0.90" fill="#3a1a8a" opacity="0.7"/>
<rect x="209.95" y="38.39" width="0.90" height="0.90" fill="#3a1a8a" opacity="0.7"/>
<rect x="189.93" y="100.85" width="0.90" height="0.90" fill="#6a1a70" opacity="0.7"/>
<rect x="178.57" y="66.47" width="0.90" height="0.90" fill="#5a1a6a" opacity="0.7"/>
<rect x="256.91" y="21.76" width="0.90" height="0.90" fill="#7a2080" opacity="0.7"/>
<rect x="244.06" y="74.77" width="0.90" height="0.90" fill="#2a2a9a" opacity="0.7"/>
<rect x="178.22" y="30.40" width="0.90" height="0.90" fill="#5a1a6a" opacity="0.7"/>
<rect x="267.20" y="77.44" width="0.90" height="0.90" fill="#6a1a70" opacity="0.7"/>
<rect x="231.99" y="56.61" width="0.90" height="0.90" fill="#5a1a6a" opacity="0.7"/>
<rect x="220.00" y="50.46" width="0.90" height="0.90" fill="#2a2a9a" opacity="0.7"/>
<rect x="185.10" y="60.15" width="0.90" height="0.90" fill="#3a1a8a" opacity="0.7"/>
<rect x="217.05" y="88.99" width="0.90" height="0.90" fill="#5a1a6a" opacity="0.7"/>
<rect x="219.72" y="98.27" width="0.90" height="0.90" fill="#5a1a6a" opacity="0.7"/>
<rect x="188.41" y="91.22" width="0.90" height="0.90" fill="#5a1a6a" opacity="0.7"/>
<rect x="266.65" y="94.22" width="0.90" height="0.90" fill="#3a1a8a" opacity="0.7"/>
<rect x="250.98" y="102.28" width="0.90" height="0.90" fill="#2a2a9a" opacity="0.7"/>
<rect x="257.41" y="73.15" width="0.90" height="0.90" fill="#2a2a9a" opacity="0.7"/>
<rect x="270.51" y="46.11" width="0.90" height="0.90" fill="#3a1a8a" opacity="0.7"/>
<rect x="220.69" y="73.13" width="0.90" height="0.90" fill="#3a1a8a" opacity="0.7"/>
<rect x="206.03" y="82.67" width="0.90" height="0.90" fill="#3a1a8a" opacity="0.7"/>
<rect x="244.47" y="66.52" width="0.90" height="0.90" fill="#3a1a8a" opacity="0.7"/>
<rect x="216.80" y="30.81" width="0.90" height="0.90" fill="#2a2a9a" opacity="0.7"/>
<rect x="214.07" y="31.36" width="0.90" height="0.90" fill="#6a1a70" opacity="0.7"/>
<rect x="230.10" y="43.82" width="0.90" height="0.90" fill="#3a1a8a" opacity="0.7"/>
<rect x="198.85" y="27.26" width="0.90" height="0.90" fill="#2a2a9a" opacity="0.7"/>
<rect x="263.55" y="27.69" width="0.90" height="0.90" fill="#7a2080" opacity="0.7"/>
<rect x="178.33" y="96.72" width="0.90" height="0.90" fill="#3a1a8a" opacity="0.7"/>
<rect x="228.99" y="91.44" width="0.90" height="0.90" fill="#5a1a6a" opacity="0.7"/>
<rect x="198.56" y="35.42" width="0.90" height="0.90" fill="#6a1a70" opacity="0.7"/>
<rect x="216.11" y="40.72" width="0.90" height="0.90" fill="#3a1a8a" opacity="0.7"/>
<rect x="265.76" y="26.22" width="0.90" height="0.90" fill="#6a1a70" opacity="0.7"/>
<rect x="214.45" y="31.94" width="0.90" height="0.90" fill="#6a1a70" opacity="0.7"/>
<rect x="187.14" y="74.16" width="0.90" height="0.90" fill="#2a2a9a" opacity="0.7"/>
<rect x="253.87" y="47.74" width="0.90" height="0.90" fill="#3a1a8a" opacity="0.7"/>
<rect x="217.21" y="87.40" width="0.90" height="0.90" fill="#7a2080" opacity="0.7"/>
<rect x="201.44" y="49.43" width="0.90" height="0.90" fill="#5a1a6a" opacity="0.7"/>
<rect x="264.44" y="36.89" width="0.90" height="0.90" fill="#7a2080" opacity="0.7"/>
<rect x="190.80" y="92.15" width="0.90" height="0.90" fill="#7a2080" opacity="0.7"/>
<rect x="250.18" y="80.51" width="0.90" height="0.90" fill="#3a1a8a" opacity="0.7"/>
<rect x="233.09" y="90.88" width="0.90" height="0.90" fill="#7a2080" opacity="0.7"/>
<rect x="246.20" y="84.90" width="0.90" height="0.90" fill="#3a1a8a" opacity="0.7"/>
<rect x="193.35" y="71.74" width="0.90" height="0.90" fill="#3a1a8a" opacity="0.7"/>
<rect x="231.30" y="35.48" width="0.90" height="0.90" fill="#5a1a6a" opacity="0.7"/>
<rect x="242.31" y="63.53" width="0.90" height="0.90" fill="#5a1a6a" opacity="0.7"/>
<rect x="224.81" y="48.33" width="0.90" height="0.90" fill="#6a1a70" opacity="0.7"/>
<rect x="257.38" y="94.02" width="0.90" height="0.90" fill="#2a2a9a" opacity="0.7"/>
<rect x="181.70" y="53.80" width="0.90" height="0.90" fill="#2a2a9a" opacity="0.7"/>
<rect x="186.02" y="76.43" width="0.90" height="0.90" fill="#3a1a8a" opacity="0.7"/>
<rect x="191.34" y="91.12" width="0.90" height="0.90" fill="#6a1a70" opacity="0.7"/>
<rect x="176.29" y="79.68" width="0.90" height="0.90" fill="#7a2080" opacity="0.7"/>
<rect x="232.51" y="18.01" width="0.90" height="0.90" fill="#7a2080" opacity="0.7"/>
<rect x="266.46" y="103.24" width="0.90" height="0.90" fill="#5a1a6a" opacity="0.7"/>
<rect x="184.76" y="80.77" width="0.90" height="0.90" fill="#6a1a70" opacity="0.7"/>
<rect x="251.06" y="94.34" width="0.90" height="0.90" fill="#7a2080" opacity="0.7"/>
<rect x="248.26" y="23.01" width="0.90" height="0.90" fill="#5a1a6a" opacity="0.7"/>
<rect x="268.67" y="61.34" width="0.90" height="0.90" fill="#7a2080" opacity="0.7"/>
<rect x="175.18" y="88.72" width="0.90" height="0.90" fill="#3a1a8a" opacity="0.7"/>
<rect x="174.68" y="103.12" width="0.90" height="0.90" fill="#3a1a8a" opacity="0.7"/>
<rect x="234.94" y="32.44" width="0.90" height="0.90" fill="#6a1a70" opacity="0.7"/>
<rect x="197.82" y="89.84" width="0.90" height="0.90" fill="#5a1a6a" opacity="0.7"/>
<rect x="174.56" y="99.49" width="0.90" height="0.90" fill="#3a1a8a" opacity="0.7"/>
<rect x="198.92" y="91.62" width="0.90" height="0.90" fill="#7a2080" opacity="0.7"/>
<rect x="219.32" y="38.67" width="0.90" height="0.90" fill="#2a2a9a" opacity="0.7"/>
<rect x="182.96" y="94.47" width="0.90" height="0.90" fill="#3a1a8a" opacity="0.7"/>
<rect x="177.15" y="28.48" width="0.90" height="0.90" fill="#2a2a9a" opacity="0.7"/>
<rect x="231.60" y="84.92" width="0.90" height="0.90" fill="#5a1a6a" opacity="0.7"/>
<rect x="184.89" y="53.46" width="0.90" height="0.90" fill="#3a1a8a" opacity="0.7"/>
<rect x="227.14" y="37.71" width="0.90" height="0.90" fill="#3a1a8a" opacity="0.7"/>
<rect x="187.43" y="68.24" width="0.90" height="0.90" fill="#2a2a9a" opacity="0.7"/>
<rect x="189.15" y="90.62" width="0.90" height="0.90" fill="#2a2a9a" opacity="0.7"/>
<rect x="242.47" y="70.38" width="0.90" height="0.90" fill="#7a2080" opacity="0.7"/>
<rect x="225.53" y="52.57" width="0.90" height="0.90" fill="#5a1a6a" opacity="0.7"/>
<rect x="250.83" y="47.53" width="0.90" height="0.90" fill="#3a1a8a" opacity="0.7"/>
<rect x="257.04" y="80.85" width="0.90" height="0.90" fill="#7a2080" opacity="0.7"/>
<rect x="253.60" y="98.29" width="0.90" height="0.90" fill="#2a2a9a" opacity="0.7"/>
<rect x="257.96" y="22.33" width="0.90" height="0.90" fill="#7a2080" opacity="0.7"/>
<rect x="187.37" y="77.73" width="0.90" height="0.90" fill="#6a1a70" opacity="0.7"/>
<rect x="197.70" y="54.92" width="0.90" height="0.90" fill="#5a1a6a" opacity="0.7"/>
<rect x="209.30" y="64.52" width="0.90" height="0.90" fill="#5a1a6a" opacity="0.7"/>
<rect x="205.26" y="35.35" width="0.90" height="0.90" fill="#5a1a6a" opacity="0.7"/>
<rect x="195.31" y="54.79" width="0.90" height="0.90" fill="#2a2a9a" opacity="0.7"/>
<rect x="250.80" y="100.43" width="0.90" height="0.90" fill="#5a1a6a" opacity="0.7"/>
<rect x="254.09" y="95.78" width="0.90" height="0.90" fill="#5a1a6a" opacity="0.7"/>
<rect x="176.06" y="74.32" width="0.90" height="0.90" fill="#6a1a70" opacity="0.7"/>
<rect x="265.04" y="72.71" width="0.90" height="0.90" fill="#7a2080" opacity="0.7"/>
<rect x="253.80" y="20.76" width="0.90" height="0.90" fill="#5a1a6a" opacity="0.7"/>
<rect x="197.83" y="63.59" width="0.90" height="0.90" fill="#2a2a9a" opacity="0.7"/>
<rect x="196.43" y="21.08" width="0.90" height="0.90" fill="#5a1a6a" opacity="0.7"/>
<rect x="203.35" y="74.84" width="0.90" height="0.90" fill="#5a1a6a" opacity="0.7"/>
<rect x="178.68" y="102.38" width="0.90" height="0.90" fill="#7a2080" opacity="0.7"/>
<rect x="263.37" y="25.07" width="0.90" height="0.90" fill="#7a2080" opacity="0.7"/>
<rect x="226.36" y="30.72" width="0.90" height="0.90" fill="#5a1a6a" opacity="0.7"/>
<rect x="224.12" y="95.85" width="0.90" height="0.90" fill="#2a2a9a" opacity="0.7"/>
<rect x="230.74" y="41.83" width="0.90" height="0.90" fill="#5a1a6a" opacity="0.7"/>
<rect x="247.16" y="42.99" width="0.90" height="0.90" fill="#2a2a9a" opacity="0.7"/>
<rect x="234.02" y="68.00" width="0.90" height="0.90" fill="#2a2a9a" opacity="0.7"/>
<rect x="192.86" y="80.40" width="0.90" height="0.90" fill="#2a2a9a" opacity="0.7"/>
<rect x="262.41" y="44.45" width="0.90" height="0.90" fill="#2a2a9a" opacity="0.7"/>
<rect x="219.82" y="45.05" width="0.90" height="0.90" fill="#3a1a8a" opacity="0.7"/>
<rect x="206.20" y="34.29" width="0.90" height="0.90" fill="#7a2080" opacity="0.7"/>
<rect x="211.19" y="69.37" width="0.90" height="0.90" fill="#5a1a6a" opacity="0.7"/>
<rect x="265.67" y="31.95" width="0.90" height="0.90" fill="#3a1a8a" opacity="0.7"/>
<rect x="205.22" y="46.37" width="0.90" height="0.90" fill="#6a1a70" opacity="0.7"/>
<rect x="201.28" y="104.90" width="0.90" height="0.90" fill="#6a1a70" opacity="0.7"/>
<rect x="178.33" y="19.53" width="0.90" height="0.90" fill="#7a2080" opacity="0.7"/>
<rect x="179.33" y="94.62" width="0.90" height="0.90" fill="#2a2a9a" opacity="0.7"/>
<rect x="238.83" y="63.30" width="0.90" height="0.90" fill="#2a2a9a" opacity="0.7"/>
<rect x="208.26" y="85.04" width="0.90" height="0.90" fill="#7a2080" opacity="0.7"/>
<rect x="195.27" y="102.40" width="0.90" height="0.90" fill="#3a1a8a" opacity="0.7"/>
<rect x="214.57" y="76.67" width="0.90" height="0.90" fill="#3a1a8a" opacity="0.7"/>
<rect x="240.61" y="72.08" width="0.90" height="0.90" fill="#6a1a70" opacity="0.7"/>
<rect x="255.29" y="63.37" width="0.90" height="0.90" fill="#2a2a9a" opacity="0.7"/>
<rect x="199.66" y="73.35" width="0.90" height="0.90" fill="#3a1a8a" opacity="0.7"/>
<rect x="214.19" y="26.74" width="0.90" height="0.90" fill="#2a2a9a" opacity="0.7"/>
<rect x="249.70" y="69.39" width="0.90" height="0.90" fill="#2a2a9a" opacity="0.7"/>
<rect x="212.63" y="105.37" width="0.90" height="0.90" fill="#3a1a8a" opacity="0.7"/>
<rect x="214.68" y="86.88" width="0.90" height="0.90" fill="#7a2080" opacity="0.7"/>
<rect x="233.76" y="51.15" width="0.90" height="0.90" fill="#2a2a9a" opacity="0.7"/>
<rect x="242.35" y="43.06" width="0.90" height="0.90" fill="#6a1a70" opacity="0.7"/>
<rect x="202.10" y="52.14" width="0.90" height="0.90" fill="#7a2080" opacity="0.7"/>
<rect x="232.56" y="74.90" width="0.90" height="0.90" fill="#5a1a6a" opacity="0.7"/>
<rect x="251.86" y="92.70" width="0.90" height="0.90" fill="#2a2a9a" opacity="0.7"/>
<rect x="210.93" y="44.12" width="0.90" height="0.90" fill="#7a2080" opacity="0.7"/>
<rect x="203.22" y="30.42" width="0.90" height="0.90" fill="#7a2080" opacity="0.7"/>
<rect x="210.56" y="38.10" width="0.90" height="0.90" fill="#6a1a70" opacity="0.7"/>
<rect x="205.21" y="92.16" width="0.90" height="0.90" fill="#3a1a8a" opacity="0.7"/>
<rect x="269.15" y="35.66" width="0.90" height="0.90" fill="#2a2a9a" opacity="0.7"/>
<rect x="262.35" y="102.10" width="0.90" height="0.90" fill="#5a1a6a" opacity="0.7"/>
<rect x="177.38" y="67.54" width="0.90" height="0.90" fill="#2a2a9a" opacity="0.7"/>
<rect x="202.79" y="65.02" width="0.90" height="0.90" fill="#6a1a70" opacity="0.7"/>
<rect x="226.83" y="105.85" width="0.90" height="0.90" fill="#7a2080" opacity="0.7"/>
<rect x="255.75" y="81.88" width="0.90" height="0.90" fill="#2a2a9a" opacity="0.7"/>
<rect x="211.82" y="49.22" width="0.90" height="0.90" fill="#7a2080" opacity="0.7"/>
<rect x="240.70" y="57.65" width="0.90" height="0.90" fill="#5a1a6a" opacity="0.7"/>
<rect x="240.72" y="64.03" width="0.90" height="0.90" fill="#5a1a6a" opacity="0.7"/>
<rect x="213.84" y="61.88" width="0.90" height="0.90" fill="#7a2080" opacity="0.7"/>
<rect x="266.09" y="31.23" width="0.90" height="0.90" fill="#3a1a8a" opacity="0.7"/>
<rect x="269.72" y="60.63" width="0.90" height="0.90" fill="#2a2a9a" opacity="0.7"/>
<rect x="249.87" y="97.09" width="0.90" height="0.90" fill="#7a2080" opacity="0.7"/>
<rect x="207.17" y="64.46" width="0.90" height="0.90" fill="#5a1a6a" opacity="0.7"/>
<rect x="189.79" y="45.72" width="0.90" height="0.90" fill="#5a1a6a" opacity="0.7"/>
<rect x="255.78" y="62.91" width="0.90" height="0.90" fill="#5a1a6a" opacity="0.7"/>
<rect x="238.65" y="43.67" width="0.90" height="0.90" fill="#6a1a70" opacity="0.7"/>
<rect x="255.23" y="105.14" width="0.90" height="0.90" fill="#2a2a9a" opacity="0.7"/>
<rect x="236.15" y="63.93" width="0.90" height="0.90" fill="#7a2080" opacity="0.7"/>
<rect x="193.52" y="96.55" width="0.90" height="0.90" fill="#2a2a9a" opacity="0.7"/>
<rect x="190.97" y="73.30" width="0.90" height="0.90" fill="#7a2080" opacity="0.7"/>
<rect x="183.34" y="67.98" width="0.90" height="0.90" fill="#5a1a6a" opacity="0.7"/>
<rect x="242.26" y="18.55" width="0.90" height="0.90" fill="#5a1a6a" opacity="0.7"/>
<rect x="203.49" y="78.66" width="0.90" height="0.90" fill="#5a1a6a" opacity="0.7"/>
<rect x="264.95" y="52.74" width="0.90" height="0.90" fill="#5a1a6a" opacity="0.7"/>
<rect x="231.63" y="76.66" width="0.90" height="0.90" fill="#3a1a8a" opacity="0.7"/>
<rect x="190.24" y="85.58" width="0.90" height="0.90" fill="#7a2080" opacity="0.7"/>
<rect x="199.39" y="74.78" width="0.90" height="0.90" fill="#7a2080" opacity="0.7"/>
<rect x="224.39" y="30.30" width="0.90" height="0.90" fill="#3a1a8a" opacity="0.7"/>
<rect x="214.00" y="28.34" width="0.90" height="0.90" fill="#3a1a8a" opacity="0.7"/>
<rect x="224.81" y="62.64" width="0.90" height="0.90" fill="#5a1a6a" opacity="0.7"/>
<rect x="182.68" y="32.68" width="0.90" height="0.90" fill="#7a2080" opacity="0.7"/>
<rect x="221.99" y="58.93" width="0.90" height="0.90" fill="#2a2a9a" opacity="0.7"/>
<rect x="253.82" y="23.09" width="0.90" height="0.90" fill="#5a1a6a" opacity="0.7"/>
<rect x="241.54" y="68.77" width="0.90" height="0.90" fill="#3a1a8a" opacity="0.7"/>
<rect x="244.65" y="48.88" width="0.90" height="0.90" fill="#3a1a8a" opacity="0.7"/>
<rect x="175.91" y="73.18" width="0.90" height="0.90" fill="#7a2080" opacity="0.7"/>
<rect x="178.95" y="34.54" width="0.90" height="0.90" fill="#7a2080" opacity="0.7"/>
<rect x="211.44" y="22.43" width="0.90" height="0.90" fill="#2a2a9a" opacity="0.7"/>
<rect x="231.27" y="102.43" width="0.90" height="0.90" fill="#2a2a9a" opacity="0.7"/>
<rect x="178.10" y="38.67" width="0.90" height="0.90" fill="#3a1a8a" opacity="0.7"/>
<rect x="177.03" y="99.88" width="0.90" height="0.90" fill="#3a1a8a" opacity="0.7"/>
<rect x="204.30" y="97.06" width="0.90" height="0.90" fill="#2a2a9a" opacity="0.7"/>
<rect x="203.18" y="70.87" width="0.90" height="0.90" fill="#2a2a9a" opacity="0.7"/>
<rect x="271.24" y="23.57" width="0.90" height="0.90" fill="#2a2a9a" opacity="0.7"/>
<rect x="240.56" y="69.30" width="0.90" height="0.90" fill="#2a2a9a" opacity="0.7"/>
<rect x="203.73" y="94.98" width="0.90" height="0.90" fill="#2a2a9a" opacity="0.7"/>
<rect x="174.86" y="94.35" width="0.90" height="0.90" fill="#5a1a6a" opacity="0.7"/>
<rect x="190.07" y="49.28" width="0.90" height="0.90" fill="#3a1a8a" opacity="0.7"/>
<rect x="173.37" y="95.60" width="0.90" height="0.90" fill="#2a2a9a" opacity="0.7"/>
<rect x="229.15" y="27.76" width="0.90" height="0.90" fill="#7a2080" opacity="0.7"/>
<rect x="260.36" y="47.29" width="0.90" height="0.90" fill="#5a1a6a" opacity="0.7"/>
<rect x="269.40" y="54.93" width="0.90" height="0.90" fill="#6a1a70" opacity="0.7"/>
<rect x="228.37" y="51.84" width="0.90" height="0.90" fill="#2a2a9a" opacity="0.7"/>
<rect x="201.16" y="38.57" width="0.90" height="0.90" fill="#5a1a6a" opacity="0.7"/>
<rect x="200.71" y="19.84" width="0.90" height="0.90" fill="#3a1a8a" opacity="0.7"/>
<rect x="196.95" y="29.08" width="0.90" height="0.90" fill="#3a1a8a" opacity="0.7"/>
<rect x="199.76" y="91.41" width="0.90" height="0.90" fill="#3a1a8a" opacity="0.7"/>
<rect x="228.49" y="58.89" width="0.90" height="0.90" fill="#3a1a8a" opacity="0.7"/>
<rect x="188.63" y="48.80" width="0.90" height="0.90" fill="#2a2a9a" opacity="0.7"/>
<rect x="210.55" y="102.32" width="0.90" height="0.90" fill="#3a1a8a" opacity="0.7"/>
<rect x="202.53" y="59.67" width="0.90" height="0.90" fill="#3a1a8a" opacity="0.7"/>
<rect x="195.49" y="57.62" width="0.90" height="0.90" fill="#3a1a8a" opacity="0.7"/>
<rect x="267.47" y="105.82" width="0.90" height="0.90" fill="#7a2080" opacity="0.7"/>
<rect x="263.19" y="69.54" width="0.90" height="0.90" fill="#6a1a70" opacity="0.7"/>
<rect x="226.44" y="53.33" width="0.90" height="0.90" fill="#7a2080" opacity="0.7"/>
<rect x="194.00" y="94.72" width="0.90" height="0.90" fill="#5a1a6a" opacity="0.7"/>
<rect x="240.86" y="25.69" width="0.90" height="0.90" fill="#6a1a70" opacity="0.7"/>
<rect x="246.71" y="85.21" width="0.90" height="0.90" fill="#5a1a6a" opacity="0.7"/>
<rect x="238.81" y="67.78" width="0.90" height="0.90" fill="#6a1a70" opacity="0.7"/>
<rect x="174.11" y="80.43" width="0.90" height="0.90" fill="#3a1a8a" opacity="0.7"/>
<rect x="250.76" y="38.07" width="0.90" height="0.90" fill="#3a1a8a" opacity="0.7"/>
<rect x="239.34" y="27.23" width="0.90" height="0.90" fill="#7a2080" opacity="0.7"/>
<rect x="264.62" y="88.78" width="0.90" height="0.90" fill="#6a1a70" opacity="0.7"/>
<rect x="192.02" y="81.13" width="0.90" height="0.90" fill="#5a1a6a" opacity="0.7"/>
<rect x="195.40" y="28.75" width="0.90" height="0.90" fill="#2a2a9a" opacity="0.7"/>
<rect x="201.03" y="53.26" width="0.90" height="0.90" fill="#2a2a9a" opacity="0.7"/>
<rect x="250.64" y="95.64" width="0.90" height="0.90" fill="#3a1a8a" opacity="0.7"/>
<rect x="266.93" y="33.19" width="0.90" height="0.90" fill="#6a1a70" opacity="0.7"/>
<rect x="241.04" y="76.26" width="0.90" height="0.90" fill="#6a1a70" opacity="0.7"/>
<rect x="262.92" y="19.83" width="0.90" height="0.90" fill="#2a2a9a" opacity="0.7"/>
<rect x="197.62" y="92.45" width="0.90" height="0.90" fill="#6a1a70" opacity="0.7"/>
<rect x="263.84" y="26.24" width="0.90" height="0.90" fill="#6a1a70" opacity="0.7"/>
<rect x="184.20" y="98.28" width="0.90" height="0.90" fill="#3a1a8a" opacity="0.7"/>
<rect x="244.36" y="21.18" width="0.90" height="0.90" fill="#5a1a6a" opacity="0.7"/>
<rect x="233.88" y="55.67" width="0.90" height="0.90" fill="#6a1a70" opacity="0.7"/>
<rect x="188.33" y="82.87" width="0.90" height="0.90" fill="#7a2080" opacity="0.7"/>
<rect x="203.91" y="74.03" width="0.90" height="0.90" fill="#3a1a8a" opacity="0.7"/>
<rect x="229.45" y="37.72" width="0.90" height="0.90" fill="#2a2a9a" opacity="0.7"/>
<rect x="244.77" y="40.12" width="0.90" height="0.90" fill="#2a2a9a" opacity="0.7"/>
<rect x="240.08" y="68.45" width="0.90" height="0.90" fill="#5a1a6a" opacity="0.7"/>
<rect x="183.87" y="85.11" width="0.90" height="0.90" fill="#6a1a70" opacity="0.7"/>
<rect x="263.34" y="94.96" width="0.90" height="0.90" fill="#7a2080" opacity="0.7"/>
<rect x="233.76" y="21.79" width="0.90" height="0.90" fill="#3a1a8a" opacity="0.7"/>
<rect x="241.18" y="20.88" width="0.90" height="0.90" fill="#6a1a70" opacity="0.7"/>
<rect x="193.76" y="98.44" width="0.90" height="0.90" fill="#5a1a6a" opacity="0.7"/>
<rect x="214.62" y="83.36" width="0.90" height="0.90" fill="#7a2080" opacity="0.7"/>
<rect x="256.05" y="42.46" width="0.90" height="0.90" fill="#5a1a6a" opacity="0.7"/>
<rect x="207.75" y="101.55" width="0.90" height="0.90" fill="#2a2a9a" opacity="0.7"/>
<rect x="266.27" y="78.74" width="0.90" height="0.90" fill="#2a2a9a" opacity="0.7"/>
<rect x="223.82" y="77.41" width="0.90" height="0.90" fill="#3a1a8a" opacity="0.7"/>
<rect x="215.73" y="62.85" width="0.90" height="0.90" fill="#3a1a8a" opacity="0.7"/>
<rect x="221.89" y="34.33" width="0.90" height="0.90" fill="#7a2080" opacity="0.7"/>
<rect x="198.90" y="65.90" width="0.90" height="0.90" fill="#3a1a8a" opacity="0.7"/>
<rect x="227.37" y="39.67" width="0.90" height="0.90" fill="#5a1a6a" opacity="0.7"/>
<rect x="189.52" y="48.30" width="0.90" height="0.90" fill="#5a1a6a" opacity="0.7"/>
<rect x="192.88" y="45.05" width="0.90" height="0.90" fill="#3a1a8a" opacity="0.7"/>
<rect x="241.70" y="60.60" width="0.90" height="0.90" fill="#2a2a9a" opacity="0.7"/>
<rect x="196.55" y="38.97" width="0.90" height="0.90" fill="#7a2080" opacity="0.7"/>
<rect x="242.24" y="29.37" width="0.90" height="0.90" fill="#6a1a70" opacity="0.7"/>
<rect x="242.89" y="29.39" width="0.90" height="0.90" fill="#3a1a8a" opacity="0.7"/>
<rect x="231.77" y="38.88" width="0.90" height="0.90" fill="#5a1a6a" opacity="0.7"/>
<rect x="227.81" y="84.83" width="0.90" height="0.90" fill="#3a1a8a" opacity="0.7"/>
<rect x="240.78" y="31.28" width="0.90" height="0.90" fill="#2a2a9a" opacity="0.7"/>
<rect x="257.14" y="53.50" width="0.90" height="0.90" fill="#3a1a8a" opacity="0.7"/>
<rect x="184.13" y="43.18" width="0.90" height="0.90" fill="#6a1a70" opacity="0.7"/>
<rect x="221.60" y="21.44" width="0.90" height="0.90" fill="#6a1a70" opacity="0.7"/>
<rect x="203.20" y="27.38" width="0.90" height="0.90" fill="#6a1a70" opacity="0.7"/>
<rect x="217.72" y="27.59" width="0.90" height="0.90" fill="#6a1a70" opacity="0.7"/>
<rect x="217.42" y="67.92" width="0.90" height="0.90" fill="#6a1a70" opacity="0.7"/>
<rect x="189.53" y="23.95" width="0.90" height="0.90" fill="#5a1a6a" opacity="0.7"/>
<rect x="219.78" y="104.22" width="0.90" height="0.90" fill="#2a2a9a" opacity="0.7"/>
<rect x="181.06" y="81.00" width="0.90" height="0.90" fill="#7a2080" opacity="0.7"/>
<rect x="199.23" y="74.63" width="0.90" height="0.90" fill="#2a2a9a" opacity="0.7"/>
<rect x="221.78" y="86.89" width="0.90" height="0.90" fill="#6a1a70" opacity="0.7"/>
<rect x="173.44" y="98.89" width="0.90" height="0.90" fill="#6a1a70" opacity="0.7"/>
<rect x="235.81" y="100.28" width="0.90" height="0.90" fill="#6a1a70" opacity="0.7"/>
<rect x="238.36" y="24.51" width="0.90" height="0.90" fill="#5a1a6a" opacity="0.7"/>
<rect x="175.15" y="52.54" width="0.90" height="0.90" fill="#3a1a8a" opacity="0.7"/>
<rect x="202.44" y="34.02" width="0.90" height="0.90" fill="#7a2080" opacity="0.7"/>
<rect x="257.76" y="99.52" width="0.90" height="0.90" fill="#3a1a8a" opacity="0.7"/>
<rect x="182.89" y="81.15" width="0.90" height="0.90" fill="#6a1a70" opacity="0.7"/>
<rect x="247.35" y="46.48" width="0.90" height="0.90" fill="#3a1a8a" opacity="0.7"/>
<rect x="237.78" y="49.09" width="0.90" height="0.90" fill="#3a1a8a" opacity="0.7"/>
<rect x="209.71" y="66.32" width="0.90" height="0.90" fill="#6a1a70" opacity="0.7"/>
<rect x="256.97" y="40.01" width="0.90" height="0.90" fill="#5a1a6a" opacity="0.7"/>
<rect x="176.75" y="67.71" width="0.90" height="0.90" fill="#2a2a9a" opacity="0.7"/>
<rect x="263.75" y="101.13" width="0.90" height="0.90" fill="#2a2a9a" opacity="0.7"/>
<rect x="215.19" y="82.20" width="0.90" height="0.90" fill="#6a1a70" opacity="0.7"/>
<rect x="233.28" y="72.98" width="0.90" height="0.90" fill="#3a1a8a" opacity="0.7"/>
<rect x="241.88" y="32.07" width="0.90" height="0.90" fill="#2a2a9a" opacity="0.7"/>
<rect x="236.72" y="53.08" width="0.90" height="0.90" fill="#5a1a6a" opacity="0.7"/>
<rect x="258.26" y="59.98" width="0.90" height="0.90" fill="#3a1a8a" opacity="0.7"/>
<rect x="245.40" y="17.85" width="0.90" height="0.90" fill="#7a2080" opacity="0.7"/>
<rect x="258.73" y="87.16" width="0.90" height="0.90" fill="#2a2a9a" opacity="0.7"/>
<rect x="225.47" y="6.46" width="0.90" height="0.90" fill="#2a2ad0" opacity="0.8"/>
<rect x="245.90" y="10.65" width="0.90" height="0.90" fill="#3a3aff" opacity="0.8"/>
<rect x="221.05" y="5.71" width="0.90" height="0.90" fill="#2a2ad0" opacity="0.8"/>
<rect x="267.32" y="7.57" width="0.90" height="0.90" fill="#3a3aff" opacity="0.8"/>
<rect x="217.83" y="15.25" width="0.90" height="0.90" fill="#2020a0" opacity="0.8"/>
<rect x="236.75" y="7.94" width="0.90" height="0.90" fill="#2a2ad0" opacity="0.8"/>
<rect x="247.45" y="11.80" width="0.90" height="0.90" fill="#3a3aff" opacity="0.8"/>
<rect x="271.02" y="16.50" width="0.90" height="0.90" fill="#2a2ad0" opacity="0.8"/>
<rect x="271.19" y="17.14" width="0.90" height="0.90" fill="#2020a0" opacity="0.8"/>
<rect x="222.08" y="15.32" width="0.90" height="0.90" fill="#2020a0" opacity="0.8"/>
<rect x="254.80" y="12.91" width="0.90" height="0.90" fill="#3a3aff" opacity="0.8"/>
<rect x="248.68" y="10.65" width="0.90" height="0.90" fill="#3a3aff" opacity="0.8"/>
<rect x="244.04" y="13.37" width="0.90" height="0.90" fill="#3a3aff" opacity="0.8"/>
<rect x="265.19" y="11.96" width="0.90" height="0.90" fill="#2020a0" opacity="0.8"/>
<rect x="219.13" y="7.87" width="0.90" height="0.90" fill="#2020a0" opacity="0.8"/>
<rect x="258.28" y="13.90" width="0.90" height="0.90" fill="#2a2ad0" opacity="0.8"/>
<rect x="253.93" y="10.06" width="0.90" height="0.90" fill="#2020a0" opacity="0.8"/>
<rect x="269.47" y="9.92" width="0.90" height="0.90" fill="#2a2ad0" opacity="0.8"/>
<rect x="248.66" y="10.36" width="0.90" height="0.90" fill="#2a2ad0" opacity="0.8"/>
<rect x="230.10" y="17.22" width="0.90" height="0.90" fill="#2a2ad0" opacity="0.8"/>
<rect x="247.75" y="6.95" width="0.90" height="0.90" fill="#3a3aff" opacity="0.8"/>
<rect x="253.33" y="7.85" width="0.90" height="0.90" fill="#2020a0" opacity="0.8"/>
<rect x="231.43" y="11.47" width="0.90" height="0.90" fill="#2020a0" opacity="0.8"/>
<rect x="242.80" y="12.09" width="0.90" height="0.90" fill="#2020a0" opacity="0.8"/>
<rect x="223.82" y="11.76" width="0.90" height="0.90" fill="#2020a0" opacity="0.8"/>
<rect x="248.78" y="15.82" width="0.90" height="0.90" fill="#2020a0" opacity="0.8"/>
<rect x="221.64" y="10.87" width="0.90" height="0.90" fill="#2020a0" opacity="0.8"/>
<rect x="247.88" y="14.18" width="0.90" height="0.90" fill="#2a2ad0" opacity="0.8"/>
<rect x="252.06" y="17.12" width="0.90" height="0.90" fill="#2020a0" opacity="0.8"/>
<rect x="223.22" y="15.56" width="0.90" height="0.90" fill="#3a3aff" opacity="0.8"/>
<rect x="247.54" y="17.22" width="0.90" height="0.90" fill="#2a2ad0" opacity="0.8"/>
<rect x="248.57" y="14.90" width="0.90" height="0.90" fill="#2a2ad0" opacity="0.8"/>
<rect x="238.14" y="13.03" width="0.90" height="0.90" fill="#3a3aff" opacity="0.8"/>
<rect x="230.63" y="10.07" width="0.90" height="0.90" fill="#2a2ad0" opacity="0.8"/>
<rect x="256.21" y="17.07" width="0.90" height="0.90" fill="#3a3aff" opacity="0.8"/>
<rect x="234.10" y="14.09" width="0.90" height="0.90" fill="#3a3aff" opacity="0.8"/>
<rect x="267.57" y="6.65" width="0.90" height="0.90" fill="#2a2ad0" opacity="0.8"/>
<rect x="248.56" y="16.61" width="0.90" height="0.90" fill="#3a3aff" opacity="0.8"/>
<rect x="226.84" y="14.55" width="0.90" height="0.90" fill="#3a3aff" opacity="0.8"/>
<rect x="261.83" y="14.43" width="0.90" height="0.90" fill="#2a2ad0" opacity="0.8"/>
<rect x="263.01" y="7.07" width="0.90" height="0.90" fill="#3a3aff" opacity="0.8"/>
<rect x="245.82" y="11.90" width="0.90" height="0.90" fill="#3a3aff" opacity="0.8"/>
<rect x="257.30" y="6.12" width="0.90" height="0.90" fill="#2020a0" opacity="0.8"/>
<rect x="237.04" y="9.87" width="0.90" height="0.90" fill="#3a3aff" opacity="0.8"/>
<rect x="261.77" y="6.96" width="0.90" height="0.90" fill="#2020a0" opacity="0.8"/>
<rect x="230.93" y="9.85" width="0.90" height="0.90" fill="#2020a0" opacity="0.8"/>
<rect x="242.17" y="15.66" width="0.90" height="0.90" fill="#2020a0" opacity="0.8"/>
<rect x="241.79" y="15.09" width="0.90" height="0.90" fill="#3a3aff" opacity="0.8"/>
<rect x="223.67" y="15.21" width="0.90" height="0.90" fill="#2a2ad0" opacity="0.8"/>
<rect x="225.86" y="16.77" width="0.90" height="0.90" fill="#2020a0" opacity="0.8"/>
<rect x="254.43" y="15.63" width="0.90" height="0.90" fill="#2020a0" opacity="0.8"/>
<rect x="265.75" y="12.06" width="0.90" height="0.90" fill="#2020a0" opacity="0.8"/>
<rect x="259.48" y="8.82" width="0.90" height="0.90" fill="#3a3aff" opacity="0.8"/>
<rect x="218.36" y="9.71" width="0.90" height="0.90" fill="#2a2ad0" opacity="0.8"/>
<rect x="244.39" y="11.41" width="0.90" height="0.90" fill="#2a2ad0" opacity="0.8"/>
<rect x="261.62" y="6.03" width="0.90" height="0.90" fill="#2a2ad0" opacity="0.8"/>
<rect x="251.72" y="13.34" width="0.90" height="0.90" fill="#2020a0" opacity="0.8"/>
<rect x="239.19" y="11.31" width="0.90" height="0.90" fill="#2a2ad0" opacity="0.8"/>
<rect x="255.71" y="10.98" width="0.90" height="0.90" fill="#2a2ad0" opacity="0.8"/>
<rect x="265.62" y="12.93" width="0.90" height="0.90" fill="#2a2ad0" opacity="0.8"/>
<rect x="237.45" y="11.94" width="0.90" height="0.90" fill="#3a3aff" opacity="0.8"/>
<rect x="266.77" y="12.67" width="0.90" height="0.90" fill="#2a2ad0" opacity="0.8"/>
<rect x="229.23" y="15.43" width="0.90" height="0.90" fill="#2020a0" opacity="0.8"/>
<rect x="243.33" y="12.52" width="0.90" height="0.90" fill="#3a3aff" opacity="0.8"/>
<rect x="269.16" y="9.37" width="0.90" height="0.90" fill="#3a3aff" opacity="0.8"/>
<rect x="249.45" y="9.61" width="0.90" height="0.90" fill="#2a2ad0" opacity="0.8"/>
<rect x="231.28" y="16.12" width="0.90" height="0.90" fill="#2020a0" opacity="0.8"/>
<rect x="220.10" y="7.35" width="0.90" height="0.90" fill="#2020a0" opacity="0.8"/>
<rect x="225.50" y="10.21" width="0.90" height="0.90" fill="#2a2ad0" opacity="0.8"/>
<rect x="245.10" y="8.74" width="0.90" height="0.90" fill="#2020a0" opacity="0.8"/>
<rect x="249.14" y="12.61" width="0.90" height="0.90" fill="#2a2ad0" opacity="0.8"/>
<rect x="272.17" y="6.01" width="0.90" height="0.90" fill="#2020a0" opacity="0.8"/>
<rect x="267.25" y="6.74" width="0.90" height="0.90" fill="#2a2ad0" opacity="0.8"/>
<rect x="260.19" y="13.20" width="0.90" height="0.90" fill="#2020a0" opacity="0.8"/>
<rect x="223.04" y="15.10" width="0.90" height="0.90" fill="#2a2ad0" opacity="0.8"/>
<rect x="265.60" y="16.86" width="0.90" height="0.90" fill="#2020a0" opacity="0.8"/>
<rect x="221.56" y="17.16" width="0.90" height="0.90" fill="#3a3aff" opacity="0.8"/>
<rect x="258.27" y="11.71" width="0.90" height="0.90" fill="#2020a0" opacity="0.8"/>
<rect x="231.09" y="16.07" width="0.90" height="0.90" fill="#2020a0" opacity="0.8"/>
<rect x="239.93" y="6.33" width="0.90" height="0.90" fill="#3a3aff" opacity="0.8"/>
<rect x="254.55" y="16.20" width="0.90" height="0.90" fill="#3a3aff" opacity="0.8"/>
<rect x="245.31" y="16.33" width="0.90" height="0.90" fill="#2a2ad0" opacity="0.8"/>
<rect x="272.41" y="7.41" width="0.90" height="0.90" fill="#2a2ad0" opacity="0.8"/>
<rect x="218.00" y="16.05" width="0.90" height="0.90" fill="#3a3aff" opacity="0.8"/>
<rect x="239.87" y="10.35" width="0.90" height="0.90" fill="#3a3aff" opacity="0.8"/>
<rect x="268.72" y="12.64" width="0.90" height="0.90" fill="#2a2ad0" opacity="0.8"/>
<rect x="234.18" y="9.30" width="0.90" height="0.90" fill="#2020a0" opacity="0.8"/>
<rect x="249.05" y="13.51" width="0.90" height="0.90" fill="#3a3aff" opacity="0.8"/>
<rect x="221.64" y="7.88" width="0.90" height="0.90" fill="#2a2ad0" opacity="0.8"/>
<rect x="249.77" y="9.25" width="0.90" height="0.90" fill="#3a3aff" opacity="0.8"/>
<rect x="271.91" y="9.88" width="0.90" height="0.90" fill="#2020a0" opacity="0.8"/>
<rect x="241.15" y="16.02" width="0.90" height="0.90" fill="#2a2ad0" opacity="0.8"/>
<rect x="263.72" y="9.43" width="0.90" height="0.90" fill="#2a2ad0" opacity="0.8"/>
<rect x="232.77" y="8.69" width="0.90" height="0.90" fill="#2a2ad0" opacity="0.8"/>
<rect x="259.32" y="13.12" width="0.90" height="0.90" fill="#2a2ad0" opacity="0.8"/>
<rect x="256.34" y="8.22" width="0.90" height="0.90" fill="#3a3aff" opacity="0.8"/>
<rect x="242.24" y="16.31" width="0.90" height="0.90" fill="#3a3aff" opacity="0.8"/>
<rect x="265.12" y="13.38" width="0.90" height="0.90" fill="#2a2ad0" opacity="0.8"/>
<rect x="230.90" y="6.28" width="0.90" height="0.90" fill="#2a2ad0" opacity="0.8"/>
<rect x="250.66" y="6.55" width="0.90" height="0.90" fill="#2020a0" opacity="0.8"/>
<rect x="236.36" y="7.24" width="0.90" height="0.90" fill="#2a2ad0" opacity="0.8"/>
<rect x="232.48" y="13.31" width="0.90" height="0.90" fill="#2a2ad0" opacity="0.8"/>
<rect x="252.79" y="16.67" width="0.90" height="0.90" fill="#2a2ad0" opacity="0.8"/>
<rect x="235.29" y="16.01" width="0.90" height="0.90" fill="#2a2ad0" opacity="0.8"/>
<rect x="253.29" y="10.46" width="0.90" height="0.90" fill="#2020a0" opacity="0.8"/>
<rect x="261.62" y="7.69" width="0.90" height="0.90" fill="#3a3aff" opacity="0.8"/>
<rect x="261.39" y="6.65" width="0.90" height="0.90" fill="#2020a0" opacity="0.8"/>
<rect x="236.00" y="11.53" width="0.90" height="0.90" fill="#2020a0" opacity="0.8"/>
<rect x="239.58" y="16.88" width="0.90" height="0.90" fill="#2a2ad0" opacity="0.8"/>
<rect x="219.02" y="9.40" width="0.90" height="0.90" fill="#2020a0" opacity="0.8"/>
<rect x="271.91" y="6.27" width="0.90" height="0.90" fill="#2020a0" opacity="0.8"/>
<rect x="256.66" y="15.62" width="0.90" height="0.90" fill="#2a2ad0" opacity="0.8"/>
<rect x="222.74" y="7.47" width="0.90" height="0.90" fill="#2a2ad0" opacity="0.8"/>
<rect x="246.72" y="15.69" width="0.90" height="0.90" fill="#3a3aff" opacity="0.8"/>
<rect x="262.37" y="10.68" width="0.90" height="0.90" fill="#2020a0" opacity="0.8"/>
<rect x="255.01" y="15.99" width="0.90" height="0.90" fill="#2a2ad0" opacity="0.8"/>
<rect x="253.75" y="12.82" width="0.90" height="0.90" fill="#3a3aff" opacity="0.8"/>
<rect x="230.25" y="13.02" width="0.90" height="0.90" fill="#2020a0" opacity="0.8"/>
<rect x="243.87" y="5.98" width="0.90" height="0.90" fill="#2020a0" opacity="0.8"/>
<rect x="234.61" y="14.87" width="0.90" height="0.90" fill="#2020a0" opacity="0.8"/>
<rect x="242.52" y="8.94" width="0.90" height="0.90" fill="#2020a0" opacity="0.8"/>
<rect x="246.73" y="8.89" width="0.90" height="0.90" fill="#3a3aff" opacity="0.8"/>
<rect x="218.10" y="11.31" width="0.90" height="0.90" fill="#2020a0" opacity="0.8"/>
<rect x="262.11" y="17.32" width="0.90" height="0.90" fill="#2a2ad0" opacity="0.8"/>
<rect x="272.02" y="8.34" width="0.90" height="0.90" fill="#2a2ad0" opacity="0.8"/>
<rect x="269.13" y="13.10" width="0.90" height="0.90" fill="#2a2ad0" opacity="0.8"/>
<rect x="220.91" y="11.62" width="0.90" height="0.90" fill="#2020a0" opacity="0.8"/>
<rect x="260.36" y="8.71" width="0.90" height="0.90" fill="#2020a0" opacity="0.8"/>
<rect x="237.71" y="7.39" width="0.90" height="0.90" fill="#2a2ad0" opacity="0.8"/>
<rect x="265.50" y="15.87" width="0.90" height="0.90" fill="#2a2ad0" opacity="0.8"/>
<rect x="246.67" y="9.81" width="0.90" height="0.90" fill="#2020a0" opacity="0.8"/>
<rect x="230.94" y="17.39" width="0.90" height="0.90" fill="#3a3aff" opacity="0.8"/>
<rect x="229.32" y="16.55" width="0.90" height="0.90" fill="#3a3aff" opacity="0.8"/>
<rect x="242.91" y="9.49" width="0.90" height="0.90" fill="#2a2ad0" opacity="0.8"/>
<rect x="223.53" y="14.40" width="0.90" height="0.90" fill="#2a2ad0" opacity="0.8"/>
<rect x="261.97" y="16.56" width="0.90" height="0.90" fill="#2020a0" opacity="0.8"/>
<rect x="265.12" y="6.32" width="0.90" height="0.90" fill="#2020a0" opacity="0.8"/>
<rect x="238.28" y="16.48" width="0.90" height="0.90" fill="#3a3aff" opacity="0.8"/>
<rect x="269.57" y="13.13" width="0.90" height="0.90" fill="#2a2ad0" opacity="0.8"/>
<rect x="219.29" y="5.85" width="0.90" height="0.90" fill="#2020a0" opacity="0.8"/>
<rect x="241.46" y="8.38" width="0.90" height="0.90" fill="#2a2ad0" opacity="0.8"/>
<rect x="235.53" y="10.71" width="0.90" height="0.90" fill="#3a3aff" opacity="0.8"/>
<rect x="234.02" y="17.53" width="0.90" height="0.90" fill="#2a2ad0" opacity="0.8"/>
<rect x="271.57" y="15.09" width="0.90" height="0.90" fill="#3a3aff" opacity="0.8"/>
<rect x="265.07" y="16.03" width="0.90" height="0.90" fill="#3a3aff" opacity="0.8"/>
<rect x="270.08" y="7.24" width="0.90" height="0.90" fill="#3a3aff" opacity="0.8"/>
<rect x="233.14" y="9.58" width="0.90" height="0.90" fill="#3a3aff" opacity="0.8"/>
<rect x="265.57" y="8.60" width="0.90" height="0.90" fill="#3a3aff" opacity="0.8"/>
<rect x="255.15" y="12.77" width="0.90" height="0.90" fill="#3a3aff" opacity="0.8"/>
<rect x="229.26" y="6.23" width="0.90" height="0.90" fill="#2a2ad0" opacity="0.8"/>
<rect x="264.42" y="14.43" width="0.90" height="0.90" fill="#2a2ad0" opacity="0.8"/>
<rect x="260.49" y="15.96" width="0.90" height="0.90" fill="#2a2ad0" opacity="0.8"/>
<rect x="241.51" y="7.28" width="0.90" height="0.90" fill="#3a3aff" opacity="0.8"/>
<rect x="255.28" y="15.26" width="0.90" height="0.90" fill="#2a2ad0" opacity="0.8"/>
<rect x="271.19" y="5.71" width="0.90" height="0.90" fill="#3a3aff" opacity="0.8"/>
<rect x="225.89" y="14.43" width="0.90" height="0.90" fill="#2a2ad0" opacity="0.8"/>
<rect x="258.92" y="11.17" width="0.90" height="0.90" fill="#3a3aff" opacity="0.8"/>
<rect x="222.56" y="9.67" width="0.90" height="0.90" fill="#2020a0" opacity="0.8"/>
<rect x="257.00" y="16.18" width="0.90" height="0.90" fill="#2a2ad0" opacity="0.8"/>
<rect x="249.79" y="8.02" width="0.90" height="0.90" fill="#2020a0" opacity="0.8"/>
<path d="M178.5,42.2 C184,40 190,36 198,32.5 C212,27 228,21 245,16.6" fill="none" stroke="#3434ff" stroke-width="1.8" />
<path d="M178.5,42.5 C182,41.5 185,39.5 187.5,37.5" fill="none" stroke="#3a3aff" stroke-width="2.6" />
<ellipse cx="257" cy="77" rx="12" ry="12" fill="url(#gMag1)"/>
<ellipse cx="244" cy="88" rx="12" ry="5" fill="url(#gMag1)" opacity="0.7" transform="rotate(-20 244 88)"/>
<ellipse cx="254" cy="60" rx="9" ry="16" fill="url(#gMag1)" opacity="0.6"/>
<ellipse cx="249" cy="86" rx="12" ry="6" fill="url(#gMag1)" opacity="0.8" transform="rotate(-25 249 86)"/>
<ellipse cx="244" cy="59" rx="13" ry="15" fill="url(#gGreen1)"/>
<ellipse cx="255" cy="60" rx="8" ry="12" fill="url(#gGreen1)" opacity="0.7"/>
<rect x="241.99" y="48.57" width="1.00" height="1.00" fill="#40f040" opacity="0.85"/>
<rect x="243.66" y="57.77" width="1.00" height="1.00" fill="#60ff50" opacity="0.85"/>
<rect x="268.52" y="77.13" width="1.00" height="1.00" fill="#30c030" opacity="0.85"/>
<rect x="249.29" y="60.47" width="1.00" height="1.00" fill="#40f040" opacity="0.85"/>
<rect x="249.67" y="62.61" width="1.00" height="1.00" fill="#30c030" opacity="0.85"/>
<rect x="246.40" y="59.01" width="1.00" height="1.00" fill="#40f040" opacity="0.85"/>
<rect x="242.37" y="50.23" width="1.00" height="1.00" fill="#60ff50" opacity="0.85"/>
<rect x="258.29" y="58.47" width="1.00" height="1.00" fill="#60ff50" opacity="0.85"/>
<rect x="233.28" y="76.37" width="1.00" height="1.00" fill="#30c030" opacity="0.85"/>
<rect x="246.48" y="58.91" width="1.00" height="1.00" fill="#40f040" opacity="0.85"/>
<rect x="245.90" y="58.13" width="1.00" height="1.00" fill="#30c030" opacity="0.85"/>
<rect x="245.31" y="64.98" width="1.00" height="1.00" fill="#40f040" opacity="0.85"/>
<rect x="251.22" y="74.52" width="1.00" height="1.00" fill="#30c030" opacity="0.85"/>
<rect x="245.47" y="64.07" width="1.00" height="1.00" fill="#30c030" opacity="0.85"/>
<rect x="243.45" y="52.53" width="1.00" height="1.00" fill="#60ff50" opacity="0.85"/>
<rect x="241.32" y="67.76" width="1.00" height="1.00" fill="#30c030" opacity="0.85"/>
<rect x="256.42" y="57.79" width="1.00" height="1.00" fill="#30c030" opacity="0.85"/>
<rect x="236.64" y="64.19" width="1.00" height="1.00" fill="#60ff50" opacity="0.85"/>
<rect x="238.01" y="63.63" width="1.00" height="1.00" fill="#30c030" opacity="0.85"/>
<rect x="247.16" y="57.89" width="1.00" height="1.00" fill="#40f040" opacity="0.85"/>
<rect x="249.68" y="56.15" width="1.00" height="1.00" fill="#60ff50" opacity="0.85"/>
<rect x="250.65" y="56.58" width="1.00" height="1.00" fill="#30c030" opacity="0.85"/>
<rect x="244.75" y="55.48" width="1.00" height="1.00" fill="#40f040" opacity="0.85"/>
<rect x="231.22" y="33.59" width="1.00" height="1.00" fill="#40f040" opacity="0.85"/>
<rect x="248.40" y="55.23" width="1.00" height="1.00" fill="#40f040" opacity="0.85"/>
<rect x="229.37" y="70.63" width="1.00" height="1.00" fill="#60ff50" opacity="0.85"/>
<rect x="242.77" y="65.67" width="1.00" height="1.00" fill="#30c030" opacity="0.85"/>
<rect x="236.96" y="61.70" width="1.00" height="1.00" fill="#60ff50" opacity="0.85"/>
<rect x="246.44" y="59.00" width="1.00" height="1.00" fill="#60ff50" opacity="0.85"/>
<rect x="235.93" y="74.98" width="1.00" height="1.00" fill="#60ff50" opacity="0.85"/>
<rect x="247.29" y="58.96" width="1.00" height="1.00" fill="#60ff50" opacity="0.85"/>
<rect x="254.96" y="49.00" width="1.00" height="1.00" fill="#30c030" opacity="0.85"/>
<rect x="243.88" y="49.91" width="1.00" height="1.00" fill="#60ff50" opacity="0.85"/>
<rect x="242.18" y="52.77" width="1.00" height="1.00" fill="#30c030" opacity="0.85"/>
<rect x="249.65" y="60.84" width="1.00" height="1.00" fill="#60ff50" opacity="0.85"/>
<rect x="247.28" y="45.29" width="1.00" height="1.00" fill="#30c030" opacity="0.85"/>
<rect x="258.42" y="50.66" width="1.00" height="1.00" fill="#60ff50" opacity="0.85"/>
<rect x="243.88" y="57.61" width="1.00" height="1.00" fill="#60ff50" opacity="0.85"/>
<rect x="248.42" y="72.78" width="1.00" height="1.00" fill="#60ff50" opacity="0.85"/>
<rect x="235.02" y="72.11" width="1.00" height="1.00" fill="#40f040" opacity="0.85"/>
<rect x="243.36" y="58.52" width="1.00" height="1.00" fill="#40f040" opacity="0.85"/>
<rect x="249.67" y="64.43" width="1.00" height="1.00" fill="#60ff50" opacity="0.85"/>
<rect x="235.19" y="61.87" width="1.00" height="1.00" fill="#60ff50" opacity="0.85"/>
<rect x="255.15" y="48.57" width="1.00" height="1.00" fill="#40f040" opacity="0.85"/>
<rect x="240.72" y="70.31" width="1.00" height="1.00" fill="#30c030" opacity="0.85"/>
<rect x="256.23" y="69.38" width="1.00" height="1.00" fill="#40f040" opacity="0.85"/>
<rect x="244.15" y="52.72" width="1.00" height="1.00" fill="#60ff50" opacity="0.85"/>
<rect x="248.07" y="52.80" width="1.00" height="1.00" fill="#60ff50" opacity="0.85"/>
<rect x="244.73" y="62.88" width="1.00" height="1.00" fill="#30c030" opacity="0.85"/>
<rect x="252.40" y="58.87" width="1.00" height="1.00" fill="#60ff50" opacity="0.85"/>
<rect x="253.68" y="65.77" width="1.00" height="1.00" fill="#40f040" opacity="0.85"/>
<rect x="246.63" y="47.20" width="1.00" height="1.00" fill="#40f040" opacity="0.85"/>
<rect x="253.40" y="59.29" width="1.00" height="1.00" fill="#60ff50" opacity="0.85"/>
<rect x="246.62" y="67.23" width="1.00" height="1.00" fill="#30c030" opacity="0.85"/>
<rect x="243.75" y="58.65" width="1.00" height="1.00" fill="#60ff50" opacity="0.85"/>
<rect x="248.06" y="65.72" width="1.00" height="1.00" fill="#60ff50" opacity="0.85"/>
<rect x="245.59" y="66.01" width="1.00" height="1.00" fill="#60ff50" opacity="0.85"/>
<rect x="245.33" y="63.44" width="1.00" height="1.00" fill="#30c030" opacity="0.85"/>
<rect x="245.97" y="60.01" width="1.00" height="1.00" fill="#60ff50" opacity="0.85"/>
<rect x="239.43" y="51.14" width="1.00" height="1.00" fill="#40f040" opacity="0.85"/>
<rect x="250.40" y="73.61" width="1.00" height="1.00" fill="#60ff50" opacity="0.85"/>
<rect x="247.50" y="51.13" width="1.00" height="1.00" fill="#40f040" opacity="0.85"/>
<rect x="245.60" y="57.02" width="1.00" height="1.00" fill="#30c030" opacity="0.85"/>
<rect x="247.89" y="58.62" width="1.00" height="1.00" fill="#30c030" opacity="0.85"/>
<rect x="244.05" y="56.28" width="1.00" height="1.00" fill="#30c030" opacity="0.85"/>
<rect x="250.75" y="52.17" width="1.00" height="1.00" fill="#40f040" opacity="0.85"/>
<rect x="253.98" y="54.76" width="1.00" height="1.00" fill="#60ff50" opacity="0.85"/>
<rect x="225.57" y="47.29" width="1.00" height="1.00" fill="#40f040" opacity="0.85"/>
<rect x="245.13" y="57.46" width="1.00" height="1.00" fill="#30c030" opacity="0.85"/>
<rect x="243.71" y="61.25" width="1.00" height="1.00" fill="#60ff50" opacity="0.85"/>
<rect x="235.36" y="65.57" width="1.00" height="1.00" fill="#40f040" opacity="0.85"/>
<rect x="250.12" y="62.45" width="1.00" height="1.00" fill="#60ff50" opacity="0.85"/>
<rect x="229.05" y="63.23" width="1.00" height="1.00" fill="#30c030" opacity="0.85"/>
<rect x="250.22" y="58.86" width="1.00" height="1.00" fill="#40f040" opacity="0.85"/>
<rect x="253.82" y="52.30" width="1.00" height="1.00" fill="#60ff50" opacity="0.85"/>
<rect x="246.07" y="54.82" width="1.00" height="1.00" fill="#40f040" opacity="0.85"/>
<rect x="245.73" y="58.48" width="1.00" height="1.00" fill="#40f040" opacity="0.85"/>
<rect x="254.47" y="54.56" width="1.00" height="1.00" fill="#30c030" opacity="0.85"/>
<rect x="244.17" y="58.33" width="1.00" height="1.00" fill="#40f040" opacity="0.85"/>
<rect x="259.47" y="67.89" width="1.00" height="1.00" fill="#40f040" opacity="0.85"/>
<rect x="236.13" y="54.09" width="1.00" height="1.00" fill="#40f040" opacity="0.85"/>
<rect x="245.02" y="58.56" width="1.00" height="1.00" fill="#40f040" opacity="0.85"/>
<rect x="247.18" y="56.56" width="1.00" height="1.00" fill="#40f040" opacity="0.85"/>
<rect x="238.34" y="56.39" width="1.00" height="1.00" fill="#60ff50" opacity="0.85"/>
<rect x="221.06" y="73.71" width="1.00" height="1.00" fill="#40f040" opacity="0.85"/>
<rect x="257.58" y="46.48" width="1.00" height="1.00" fill="#40f040" opacity="0.85"/>
<rect x="241.82" y="68.17" width="1.00" height="1.00" fill="#40f040" opacity="0.85"/>
<rect x="270.70" y="57.17" width="1.00" height="1.00" fill="#30c030" opacity="0.85"/>
<rect x="238.17" y="57.97" width="1.00" height="1.00" fill="#60ff50" opacity="0.85"/>
<rect x="249.02" y="55.15" width="1.00" height="1.00" fill="#60ff50" opacity="0.85"/>
<rect x="237.57" y="65.82" width="1.00" height="1.00" fill="#30c030" opacity="0.85"/>
<rect x="242.87" y="68.13" width="1.00" height="1.00" fill="#30c030" opacity="0.85"/>
<rect x="247.44" y="54.58" width="1.00" height="1.00" fill="#40f040" opacity="0.85"/>
<rect x="249.83" y="63.34" width="1.00" height="1.00" fill="#40f040" opacity="0.85"/>
<rect x="238.85" y="57.25" width="1.00" height="1.00" fill="#30c030" opacity="0.85"/>
<rect x="244.14" y="51.49" width="1.00" height="1.00" fill="#40f040" opacity="0.85"/>
<rect x="244.68" y="60.55" width="1.00" height="1.00" fill="#60ff50" opacity="0.85"/>
<rect x="240.42" y="56.87" width="1.00" height="1.00" fill="#40f040" opacity="0.85"/>
<rect x="245.54" y="55.39" width="1.00" height="1.00" fill="#60ff50" opacity="0.85"/>
<rect x="246.08" y="58.83" width="1.00" height="1.00" fill="#40f040" opacity="0.85"/>
<rect x="245.67" y="61.29" width="1.00" height="1.00" fill="#60ff50" opacity="0.85"/>
<rect x="247.88" y="66.51" width="1.00" height="1.00" fill="#60ff50" opacity="0.85"/>
<rect x="236.36" y="50.63" width="1.00" height="1.00" fill="#40f040" opacity="0.85"/>
<rect x="252.07" y="52.93" width="1.00" height="1.00" fill="#40f040" opacity="0.85"/>
<rect x="247.29" y="61.86" width="1.00" height="1.00" fill="#40f040" opacity="0.85"/>
<rect x="248.44" y="56.03" width="1.00" height="1.00" fill="#40f040" opacity="0.85"/>
<rect x="246.62" y="57.48" width="1.00" height="1.00" fill="#60ff50" opacity="0.85"/>
<rect x="245.97" y="58.99" width="1.00" height="1.00" fill="#40f040" opacity="0.85"/>
<rect x="239.53" y="59.08" width="1.00" height="1.00" fill="#30c030" opacity="0.85"/>
<rect x="250.00" y="46.71" width="1.00" height="1.00" fill="#60ff50" opacity="0.85"/>
<rect x="252.72" y="47.71" width="1.00" height="1.00" fill="#40f040" opacity="0.85"/>
<rect x="229.46" y="57.24" width="1.00" height="1.00" fill="#30c030" opacity="0.85"/>
<rect x="250.06" y="61.88" width="1.00" height="1.00" fill="#30c030" opacity="0.85"/>
<rect x="249.69" y="82.07" width="1.00" height="1.00" fill="#30c030" opacity="0.85"/>
<rect x="243.49" y="49.77" width="1.00" height="1.00" fill="#40f040" opacity="0.85"/>
<rect x="249.10" y="57.33" width="1.00" height="1.00" fill="#40f040" opacity="0.85"/>
<rect x="249.89" y="60.09" width="1.00" height="1.00" fill="#40f040" opacity="0.85"/>
<rect x="250.73" y="54.06" width="1.00" height="1.00" fill="#30c030" opacity="0.85"/>
<rect x="245.59" y="57.45" width="1.00" height="1.00" fill="#30c030" opacity="0.85"/>
<rect x="242.43" y="66.35" width="1.00" height="1.00" fill="#40f040" opacity="0.85"/>
<rect x="250.63" y="65.80" width="1.00" height="1.00" fill="#30c030" opacity="0.85"/>
<rect x="270.66" y="54.80" width="1.00" height="1.00" fill="#30c030" opacity="0.85"/>
<rect x="242.92" y="62.01" width="1.00" height="1.00" fill="#60ff50" opacity="0.85"/>
<rect x="244.23" y="53.96" width="1.00" height="1.00" fill="#40f040" opacity="0.85"/>
<rect x="244.68" y="59.31" width="1.00" height="1.00" fill="#60ff50" opacity="0.85"/>
<rect x="237.99" y="64.95" width="1.00" height="1.00" fill="#40f040" opacity="0.85"/>
<rect x="253.24" y="44.99" width="1.00" height="1.00" fill="#60ff50" opacity="0.85"/>
<rect x="259.69" y="53.30" width="1.00" height="1.00" fill="#60ff50" opacity="0.85"/>
<rect x="247.59" y="59.82" width="1.00" height="1.00" fill="#30c030" opacity="0.85"/>
<rect x="246.09" y="58.93" width="1.00" height="1.00" fill="#40f040" opacity="0.85"/>
<rect x="246.46" y="60.48" width="1.00" height="1.00" fill="#60ff50" opacity="0.85"/>
<rect x="238.43" y="56.94" width="1.00" height="1.00" fill="#40f040" opacity="0.85"/>
<rect x="250.74" y="74.61" width="1.00" height="1.00" fill="#40f040" opacity="0.85"/>
<rect x="243.40" y="57.54" width="1.00" height="1.00" fill="#30c030" opacity="0.85"/>
<rect x="265.54" y="63.20" width="1.00" height="1.00" fill="#30c030" opacity="0.85"/>
<rect x="250.89" y="72.94" width="1.00" height="1.00" fill="#40f040" opacity="0.85"/>
<rect x="241.55" y="52.05" width="1.00" height="1.00" fill="#30c030" opacity="0.85"/>
<rect x="243.41" y="59.32" width="1.00" height="1.00" fill="#30c030" opacity="0.85"/>
<rect x="245.66" y="51.59" width="1.00" height="1.00" fill="#30c030" opacity="0.85"/>
<rect x="251.39" y="44.57" width="1.00" height="1.00" fill="#60ff50" opacity="0.85"/>
<rect x="236.88" y="55.30" width="1.00" height="1.00" fill="#40f040" opacity="0.85"/>
<rect x="240.46" y="55.05" width="1.00" height="1.00" fill="#30c030" opacity="0.85"/>
<rect x="257.65" y="61.78" width="1.00" height="1.00" fill="#30c030" opacity="0.85"/>
<rect x="244.16" y="56.48" width="1.00" height="1.00" fill="#40f040" opacity="0.85"/>
<rect x="244.32" y="60.03" width="1.00" height="1.00" fill="#60ff50" opacity="0.85"/>
<rect x="244.35" y="56.17" width="1.00" height="1.00" fill="#40f040" opacity="0.85"/>
<rect x="244.65" y="60.71" width="1.00" height="1.00" fill="#40f040" opacity="0.85"/>
<rect x="247.90" y="55.98" width="1.00" height="1.00" fill="#30c030" opacity="0.85"/>
<rect x="245.90" y="59.31" width="1.00" height="1.00" fill="#40f040" opacity="0.85"/>
<rect x="249.29" y="62.10" width="1.00" height="1.00" fill="#30c030" opacity="0.85"/>
<rect x="244.97" y="67.28" width="1.00" height="1.00" fill="#40f040" opacity="0.85"/>
<rect x="247.09" y="60.89" width="1.00" height="1.00" fill="#60ff50" opacity="0.85"/>
<rect x="246.86" y="59.24" width="1.00" height="1.00" fill="#30c030" opacity="0.85"/>
<rect x="227.18" y="72.54" width="1.00" height="1.00" fill="#40f040" opacity="0.85"/>
<rect x="258.63" y="58.01" width="1.00" height="1.00" fill="#60ff50" opacity="0.85"/>
<rect x="237.78" y="58.90" width="1.00" height="1.00" fill="#40f040" opacity="0.85"/>
<rect x="256.13" y="60.00" width="1.00" height="1.00" fill="#60ff50" opacity="0.85"/>
<rect x="242.58" y="57.32" width="1.00" height="1.00" fill="#60ff50" opacity="0.85"/>
<rect x="245.81" y="53.90" width="1.00" height="1.00" fill="#30c030" opacity="0.85"/>
<rect x="248.99" y="58.96" width="1.00" height="1.00" fill="#30c030" opacity="0.85"/>
<rect x="239.94" y="64.00" width="1.00" height="1.00" fill="#40f040" opacity="0.85"/>
<rect x="246.76" y="59.47" width="1.00" height="1.00" fill="#60ff50" opacity="0.85"/>
<rect x="246.13" y="59.67" width="1.00" height="1.00" fill="#60ff50" opacity="0.85"/>
<rect x="242.05" y="42.68" width="1.00" height="1.00" fill="#40f040" opacity="0.85"/>
<rect x="249.30" y="51.85" width="1.00" height="1.00" fill="#40f040" opacity="0.85"/>
<rect x="249.64" y="60.00" width="1.00" height="1.00" fill="#60ff50" opacity="0.85"/>
<rect x="246.52" y="55.26" width="1.00" height="1.00" fill="#40f040" opacity="0.85"/>
<rect x="248.64" y="52.14" width="1.00" height="1.00" fill="#30c030" opacity="0.85"/>
<rect x="243.19" y="57.09" width="1.00" height="1.00" fill="#30c030" opacity="0.85"/>
<rect x="247.70" y="51.43" width="1.00" height="1.00" fill="#40f040" opacity="0.85"/>
<rect x="246.42" y="59.27" width="1.00" height="1.00" fill="#60ff50" opacity="0.85"/>
<rect x="253.58" y="72.75" width="1.00" height="1.00" fill="#30c030" opacity="0.85"/>
<rect x="246.77" y="52.69" width="1.00" height="1.00" fill="#60ff50" opacity="0.85"/>
<rect x="236.04" y="77.56" width="1.00" height="1.00" fill="#40f040" opacity="0.85"/>
<rect x="248.77" y="58.95" width="1.00" height="1.00" fill="#30c030" opacity="0.85"/>
<rect x="235.78" y="57.28" width="1.00" height="1.00" fill="#30c030" opacity="0.85"/>
<rect x="246.10" y="58.93" width="1.00" height="1.00" fill="#40f040" opacity="0.85"/>
<rect x="254.92" y="48.69" width="1.00" height="1.00" fill="#40f040" opacity="0.85"/>
<rect x="246.53" y="58.19" width="1.00" height="1.00" fill="#60ff50" opacity="0.85"/>
<rect x="249.95" y="58.25" width="1.00" height="1.00" fill="#60ff50" opacity="0.85"/>
<rect x="253.17" y="71.13" width="1.00" height="1.00" fill="#60ff50" opacity="0.85"/>
<rect x="243.01" y="59.07" width="1.00" height="1.00" fill="#30c030" opacity="0.85"/>
<rect x="254.88" y="41.80" width="1.00" height="1.00" fill="#60ff50" opacity="0.85"/>
<rect x="238.35" y="60.72" width="1.00" height="1.00" fill="#60ff50" opacity="0.85"/>
<rect x="232.44" y="50.01" width="1.00" height="1.00" fill="#60ff50" opacity="0.85"/>
<rect x="243.90" y="65.86" width="1.00" height="1.00" fill="#60ff50" opacity="0.85"/>
<rect x="241.70" y="58.10" width="1.00" height="1.00" fill="#30c030" opacity="0.85"/>
<rect x="246.01" y="57.39" width="1.00" height="1.00" fill="#40f040" opacity="0.85"/>
<rect x="246.64" y="69.65" width="1.00" height="1.00" fill="#30c030" opacity="0.85"/>
<rect x="240.39" y="56.03" width="1.00" height="1.00" fill="#60ff50" opacity="0.85"/>
<rect x="256.11" y="50.25" width="1.00" height="1.00" fill="#30c030" opacity="0.85"/>
<rect x="247.16" y="54.70" width="1.00" height="1.00" fill="#60ff50" opacity="0.85"/>
<rect x="246.75" y="53.83" width="1.00" height="1.00" fill="#40f040" opacity="0.85"/>
<rect x="247.04" y="66.88" width="1.00" height="1.00" fill="#60ff50" opacity="0.85"/>
<rect x="249.47" y="53.01" width="1.00" height="1.00" fill="#30c030" opacity="0.85"/>
<rect x="248.84" y="48.32" width="1.00" height="1.00" fill="#40f040" opacity="0.85"/>
<rect x="240.30" y="77.08" width="1.00" height="1.00" fill="#30c030" opacity="0.85"/>
<rect x="233.81" y="66.11" width="1.00" height="1.00" fill="#60ff50" opacity="0.85"/>
<rect x="243.81" y="66.10" width="1.00" height="1.00" fill="#40f040" opacity="0.85"/>
<rect x="240.34" y="66.72" width="1.00" height="1.00" fill="#30c030" opacity="0.85"/>
<rect x="245.23" y="58.25" width="1.00" height="1.00" fill="#30c030" opacity="0.85"/>
<rect x="247.49" y="62.73" width="1.00" height="1.00" fill="#30c030" opacity="0.85"/>
<rect x="240.34" y="62.87" width="1.00" height="1.00" fill="#40f040" opacity="0.85"/>
<rect x="245.32" y="57.43" width="1.00" height="1.00" fill="#40f040" opacity="0.85"/>
<rect x="240.74" y="64.43" width="1.00" height="1.00" fill="#30c030" opacity="0.85"/>
<rect x="251.44" y="57.46" width="1.00" height="1.00" fill="#30c030" opacity="0.85"/>
<rect x="251.09" y="68.28" width="1.00" height="1.00" fill="#30c030" opacity="0.85"/>
<rect x="241.02" y="72.44" width="1.00" height="1.00" fill="#30c030" opacity="0.85"/>
<rect x="272.93" y="51.01" width="1.00" height="1.00" fill="#40f040" opacity="0.85"/>
<rect x="246.74" y="58.03" width="1.00" height="1.00" fill="#40f040" opacity="0.85"/>
<rect x="231.80" y="71.08" width="1.00" height="1.00" fill="#40f040" opacity="0.85"/>
<rect x="246.98" y="58.63" width="1.00" height="1.00" fill="#30c030" opacity="0.85"/>
<rect x="238.26" y="55.50" width="1.00" height="1.00" fill="#60ff50" opacity="0.85"/>
<rect x="256.30" y="66.87" width="1.00" height="1.00" fill="#60ff50" opacity="0.85"/>
<rect x="245.97" y="58.72" width="1.00" height="1.00" fill="#40f040" opacity="0.85"/>
<rect x="258.51" y="52.74" width="1.00" height="1.00" fill="#30c030" opacity="0.85"/>
<rect x="240.15" y="48.52" width="1.00" height="1.00" fill="#30c030" opacity="0.85"/>
<rect x="245.38" y="65.23" width="1.00" height="1.00" fill="#30c030" opacity="0.85"/>
<rect x="241.46" y="64.57" width="1.00" height="1.00" fill="#30c030" opacity="0.85"/>
<rect x="256.39" y="54.54" width="1.00" height="1.00" fill="#60ff50" opacity="0.85"/>
<rect x="251.74" y="61.35" width="1.00" height="1.00" fill="#60ff50" opacity="0.85"/>
<rect x="254.93" y="57.60" width="1.00" height="1.00" fill="#40f040" opacity="0.85"/>
<rect x="248.55" y="56.36" width="1.00" height="1.00" fill="#30c030" opacity="0.85"/>
<rect x="243.11" y="60.02" width="1.00" height="1.00" fill="#60ff50" opacity="0.85"/>
<rect x="247.60" y="57.64" width="1.00" height="1.00" fill="#40f040" opacity="0.85"/>
<rect x="260.66" y="53.86" width="1.00" height="1.00" fill="#30c030" opacity="0.85"/>
<rect x="258.32" y="73.90" width="1.00" height="1.00" fill="#40f040" opacity="0.85"/>
<rect x="248.20" y="64.53" width="1.00" height="1.00" fill="#60ff50" opacity="0.85"/>
<rect x="240.22" y="58.70" width="1.00" height="1.00" fill="#60ff50" opacity="0.85"/>
<rect x="245.95" y="58.93" width="1.00" height="1.00" fill="#30c030" opacity="0.85"/>
<rect x="245.42" y="58.38" width="1.00" height="1.00" fill="#40f040" opacity="0.85"/>
<rect x="231.84" y="67.01" width="1.00" height="1.00" fill="#30c030" opacity="0.85"/>
<rect x="243.17" y="55.01" width="1.00" height="1.00" fill="#30c030" opacity="0.85"/>
<rect x="232.76" y="59.61" width="1.00" height="1.00" fill="#60ff50" opacity="0.85"/>
<rect x="241.66" y="64.44" width="1.00" height="1.00" fill="#60ff50" opacity="0.85"/>
<rect x="241.24" y="59.13" width="1.00" height="1.00" fill="#40f040" opacity="0.85"/>
<rect x="246.80" y="56.04" width="1.00" height="1.00" fill="#60ff50" opacity="0.85"/>
<rect x="247.49" y="54.90" width="1.00" height="1.00" fill="#40f040" opacity="0.85"/>
<rect x="246.22" y="59.37" width="1.00" height="1.00" fill="#30c030" opacity="0.85"/>
<rect x="250.78" y="55.74" width="1.00" height="1.00" fill="#60ff50" opacity="0.85"/>
<rect x="240.65" y="77.04" width="1.00" height="1.00" fill="#60ff50" opacity="0.85"/>
<rect x="252.32" y="74.76" width="1.00" height="1.00" fill="#30c030" opacity="0.85"/>
<rect x="255.99" y="50.53" width="1.00" height="1.00" fill="#30c030" opacity="0.85"/>
<rect x="244.31" y="60.23" width="1.00" height="1.00" fill="#60ff50" opacity="0.85"/>
<rect x="245.53" y="66.55" width="1.00" height="1.00" fill="#30c030" opacity="0.85"/>
<rect x="245.40" y="64.91" width="1.00" height="1.00" fill="#40f040" opacity="0.85"/>
<rect x="253.08" y="55.29" width="1.00" height="1.00" fill="#30c030" opacity="0.85"/>
<rect x="240.98" y="52.92" width="1.00" height="1.00" fill="#30c030" opacity="0.85"/>
<rect x="248.02" y="59.59" width="1.00" height="1.00" fill="#60ff50" opacity="0.85"/>
<rect x="235.35" y="54.72" width="1.00" height="1.00" fill="#60ff50" opacity="0.85"/>
<rect x="238.95" y="63.54" width="1.00" height="1.00" fill="#60ff50" opacity="0.85"/>
<rect x="249.75" y="56.77" width="1.00" height="1.00" fill="#60ff50" opacity="0.85"/>
<rect x="247.06" y="56.27" width="1.00" height="1.00" fill="#30c030" opacity="0.85"/>
<rect x="246.51" y="55.05" width="1.00" height="1.00" fill="#40f040" opacity="0.85"/>
<rect x="243.49" y="58.46" width="1.00" height="1.00" fill="#60ff50" opacity="0.85"/>
<rect x="253.05" y="56.09" width="1.00" height="1.00" fill="#30c030" opacity="0.85"/>
<rect x="260.32" y="57.16" width="1.00" height="1.00" fill="#40f040" opacity="0.85"/>
<rect x="246.29" y="45.92" width="1.00" height="1.00" fill="#60ff50" opacity="0.85"/>
<rect x="249.53" y="52.14" width="1.00" height="1.00" fill="#30c030" opacity="0.85"/>
<rect x="252.43" y="70.46" width="1.00" height="1.00" fill="#40f040" opacity="0.85"/>
<rect x="263.81" y="73.49" width="1.00" height="1.00" fill="#c030c8" opacity="0.85"/>
<rect x="247.06" y="84.45" width="1.00" height="1.00" fill="#f070f0" opacity="0.85"/>
<rect x="259.45" y="66.32" width="1.00" height="1.00" fill="#c030c8" opacity="0.85"/>
<rect x="251.43" y="82.73" width="1.00" height="1.00" fill="#e050e0" opacity="0.85"/>
<rect x="252.90" y="64.19" width="1.00" height="1.00" fill="#c030c8" opacity="0.85"/>
<rect x="249.54" y="62.58" width="1.00" height="1.00" fill="#c030c8" opacity="0.85"/>
<rect x="256.15" y="77.75" width="1.00" height="1.00" fill="#c030c8" opacity="0.85"/>
<rect x="257.52" y="77.53" width="1.00" height="1.00" fill="#e050e0" opacity="0.85"/>
<rect x="258.41" y="69.76" width="1.00" height="1.00" fill="#c030c8" opacity="0.85"/>
<rect x="257.26" y="89.35" width="1.00" height="1.00" fill="#f070f0" opacity="0.85"/>
<rect x="253.70" y="87.73" width="1.00" height="1.00" fill="#e050e0" opacity="0.85"/>
<rect x="262.47" y="90.24" width="1.00" height="1.00" fill="#f070f0" opacity="0.85"/>
<rect x="255.19" y="75.64" width="1.00" height="1.00" fill="#c030c8" opacity="0.85"/>
<rect x="258.65" y="72.33" width="1.00" height="1.00" fill="#f070f0" opacity="0.85"/>
<rect x="262.66" y="74.00" width="1.00" height="1.00" fill="#c030c8" opacity="0.85"/>
<rect x="257.48" y="79.66" width="1.00" height="1.00" fill="#f070f0" opacity="0.85"/>
<rect x="264.93" y="62.54" width="1.00" height="1.00" fill="#f070f0" opacity="0.85"/>
<rect x="266.35" y="82.97" width="1.00" height="1.00" fill="#f070f0" opacity="0.85"/>
<rect x="245.50" y="65.97" width="1.00" height="1.00" fill="#e050e0" opacity="0.85"/>
<rect x="254.75" y="76.87" width="1.00" height="1.00" fill="#c030c8" opacity="0.85"/>
<rect x="247.99" y="56.93" width="1.00" height="1.00" fill="#c030c8" opacity="0.85"/>
<rect x="257.47" y="76.50" width="1.00" height="1.00" fill="#f070f0" opacity="0.85"/>
<rect x="258.71" y="78.46" width="1.00" height="1.00" fill="#e050e0" opacity="0.85"/>
<rect x="248.61" y="78.37" width="1.00" height="1.00" fill="#e050e0" opacity="0.85"/>
<rect x="232.13" y="86.82" width="1.00" height="1.00" fill="#f070f0" opacity="0.85"/>
<rect x="254.52" y="75.76" width="1.00" height="1.00" fill="#e050e0" opacity="0.85"/>
<rect x="256.93" y="76.67" width="1.00" height="1.00" fill="#e050e0" opacity="0.85"/>
<rect x="253.97" y="80.94" width="1.00" height="1.00" fill="#c030c8" opacity="0.85"/>
<rect x="261.10" y="74.12" width="1.00" height="1.00" fill="#f070f0" opacity="0.85"/>
<rect x="255.33" y="74.40" width="1.00" height="1.00" fill="#e050e0" opacity="0.85"/>
<rect x="252.74" y="91.23" width="1.00" height="1.00" fill="#f070f0" opacity="0.85"/>
<rect x="256.85" y="76.49" width="1.00" height="1.00" fill="#e050e0" opacity="0.85"/>
<rect x="264.09" y="78.23" width="1.00" height="1.00" fill="#e050e0" opacity="0.85"/>
<rect x="255.26" y="75.90" width="1.00" height="1.00" fill="#c030c8" opacity="0.85"/>
<rect x="253.78" y="65.69" width="1.00" height="1.00" fill="#f070f0" opacity="0.85"/>
<rect x="259.34" y="74.26" width="1.00" height="1.00" fill="#c030c8" opacity="0.85"/>
<rect x="257.91" y="102.39" width="1.00" height="1.00" fill="#c030c8" opacity="0.85"/>
<rect x="275.83" y="68.95" width="1.00" height="1.00" fill="#c030c8" opacity="0.85"/>
<rect x="254.92" y="75.84" width="1.00" height="1.00" fill="#f070f0" opacity="0.85"/>
<rect x="263.41" y="88.81" width="1.00" height="1.00" fill="#c030c8" opacity="0.85"/>
<rect x="263.75" y="73.66" width="1.00" height="1.00" fill="#e050e0" opacity="0.85"/>
<rect x="250.46" y="85.53" width="1.00" height="1.00" fill="#e050e0" opacity="0.85"/>
<rect x="260.74" y="82.63" width="1.00" height="1.00" fill="#e050e0" opacity="0.85"/>
<rect x="253.87" y="58.59" width="1.00" height="1.00" fill="#f070f0" opacity="0.85"/>
<rect x="257.65" y="76.38" width="1.00" height="1.00" fill="#f070f0" opacity="0.85"/>
<rect x="260.03" y="95.73" width="1.00" height="1.00" fill="#c030c8" opacity="0.85"/>
<rect x="255.18" y="76.76" width="1.00" height="1.00" fill="#c030c8" opacity="0.85"/>
<rect x="254.75" y="53.12" width="1.00" height="1.00" fill="#e050e0" opacity="0.85"/>
<rect x="257.11" y="74.42" width="1.00" height="1.00" fill="#e050e0" opacity="0.85"/>
<rect x="246.60" y="90.97" width="1.00" height="1.00" fill="#c030c8" opacity="0.85"/>
<rect x="264.19" y="77.03" width="1.00" height="1.00" fill="#f070f0" opacity="0.85"/>
<rect x="244.65" y="72.59" width="1.00" height="1.00" fill="#f070f0" opacity="0.85"/>
<rect x="251.05" y="82.91" width="1.00" height="1.00" fill="#c030c8" opacity="0.85"/>
<rect x="251.34" y="89.65" width="1.00" height="1.00" fill="#e050e0" opacity="0.85"/>
<rect x="254.78" y="71.49" width="1.00" height="1.00" fill="#e050e0" opacity="0.85"/>
<rect x="257.88" y="64.98" width="1.00" height="1.00" fill="#c030c8" opacity="0.85"/>
<rect x="256.36" y="63.06" width="1.00" height="1.00" fill="#c030c8" opacity="0.85"/>
<rect x="257.49" y="56.51" width="1.00" height="1.00" fill="#c030c8" opacity="0.85"/>
<rect x="248.09" y="76.83" width="1.00" height="1.00" fill="#c030c8" opacity="0.85"/>
<rect x="251.08" y="76.81" width="1.00" height="1.00" fill="#e050e0" opacity="0.85"/>
<rect x="258.87" y="68.73" width="1.00" height="1.00" fill="#c030c8" opacity="0.85"/>
<rect x="255.30" y="77.56" width="1.00" height="1.00" fill="#c030c8" opacity="0.85"/>
<rect x="252.04" y="69.96" width="1.00" height="1.00" fill="#c030c8" opacity="0.85"/>
<rect x="257.08" y="74.99" width="1.00" height="1.00" fill="#f070f0" opacity="0.85"/>
<rect x="254.12" y="76.50" width="1.00" height="1.00" fill="#c030c8" opacity="0.85"/>
<rect x="260.74" y="84.75" width="1.00" height="1.00" fill="#e050e0" opacity="0.85"/>
<rect x="256.15" y="77.32" width="1.00" height="1.00" fill="#e050e0" opacity="0.85"/>
<rect x="265.71" y="76.84" width="1.00" height="1.00" fill="#e050e0" opacity="0.85"/>
<rect x="237.69" y="81.48" width="1.00" height="1.00" fill="#f070f0" opacity="0.85"/>
<rect x="259.24" y="72.52" width="1.00" height="1.00" fill="#c030c8" opacity="0.85"/>
<rect x="250.19" y="86.56" width="1.00" height="1.00" fill="#f070f0" opacity="0.85"/>
<rect x="257.95" y="73.23" width="1.00" height="1.00" fill="#e050e0" opacity="0.85"/>
<rect x="255.30" y="85.77" width="1.00" height="1.00" fill="#e050e0" opacity="0.85"/>
<rect x="258.94" y="79.80" width="1.00" height="1.00" fill="#e050e0" opacity="0.85"/>
<rect x="265.03" y="71.06" width="1.00" height="1.00" fill="#f070f0" opacity="0.85"/>
<rect x="253.33" y="70.72" width="1.00" height="1.00" fill="#c030c8" opacity="0.85"/>
<rect x="255.93" y="58.75" width="1.00" height="1.00" fill="#c030c8" opacity="0.85"/>
<rect x="257.92" y="83.13" width="1.00" height="1.00" fill="#f070f0" opacity="0.85"/>
<rect x="254.31" y="74.22" width="1.00" height="1.00" fill="#f070f0" opacity="0.85"/>
<rect x="248.77" y="77.65" width="1.00" height="1.00" fill="#c030c8" opacity="0.85"/>
<rect x="249.02" y="69.60" width="1.00" height="1.00" fill="#c030c8" opacity="0.85"/>
<rect x="261.46" y="79.66" width="1.00" height="1.00" fill="#e050e0" opacity="0.85"/>
<rect x="255.21" y="75.13" width="1.00" height="1.00" fill="#f070f0" opacity="0.85"/>
<rect x="255.13" y="75.26" width="1.00" height="1.00" fill="#e050e0" opacity="0.85"/>
<rect x="254.91" y="75.87" width="1.00" height="1.00" fill="#e050e0" opacity="0.85"/>
<rect x="257.06" y="74.17" width="1.00" height="1.00" fill="#e050e0" opacity="0.85"/>
<rect x="255.88" y="72.52" width="1.00" height="1.00" fill="#e050e0" opacity="0.85"/>
<rect x="255.61" y="75.68" width="1.00" height="1.00" fill="#e050e0" opacity="0.85"/>
<rect x="256.71" y="61.48" width="1.00" height="1.00" fill="#f070f0" opacity="0.85"/>
<rect x="257.69" y="73.96" width="1.00" height="1.00" fill="#c030c8" opacity="0.85"/>
<rect x="264.51" y="79.45" width="1.00" height="1.00" fill="#e050e0" opacity="0.85"/>
<rect x="255.12" y="73.26" width="1.00" height="1.00" fill="#f070f0" opacity="0.85"/>
<rect x="260.51" y="81.22" width="1.00" height="1.00" fill="#f070f0" opacity="0.85"/>
<rect x="246.56" y="75.12" width="1.00" height="1.00" fill="#e050e0" opacity="0.85"/>
<rect x="246.70" y="75.30" width="1.00" height="1.00" fill="#e050e0" opacity="0.85"/>
<rect x="257.08" y="77.38" width="1.00" height="1.00" fill="#e050e0" opacity="0.85"/>
<rect x="250.77" y="73.89" width="1.00" height="1.00" fill="#f070f0" opacity="0.85"/>
<rect x="247.89" y="67.68" width="1.00" height="1.00" fill="#f070f0" opacity="0.85"/>
<rect x="264.20" y="82.66" width="1.00" height="1.00" fill="#c030c8" opacity="0.85"/>
<rect x="251.44" y="77.34" width="1.00" height="1.00" fill="#f070f0" opacity="0.85"/>
<rect x="255.06" y="76.00" width="1.00" height="1.00" fill="#f070f0" opacity="0.85"/>
<rect x="255.73" y="73.55" width="1.00" height="1.00" fill="#c030c8" opacity="0.85"/>
<rect x="255.96" y="80.92" width="1.00" height="1.00" fill="#f070f0" opacity="0.85"/>
<rect x="242.50" y="84.15" width="1.00" height="1.00" fill="#e050e0" opacity="0.85"/>
<rect x="248.07" y="67.91" width="1.00" height="1.00" fill="#f070f0" opacity="0.85"/>
<rect x="259.57" y="80.18" width="1.00" height="1.00" fill="#f070f0" opacity="0.85"/>
<rect x="256.29" y="101.23" width="1.00" height="1.00" fill="#e050e0" opacity="0.85"/>
<rect x="243.47" y="93.26" width="1.00" height="1.00" fill="#c030c8" opacity="0.85"/>
<rect x="253.94" y="79.70" width="1.00" height="1.00" fill="#f070f0" opacity="0.85"/>
<rect x="264.76" y="74.19" width="1.00" height="1.00" fill="#e050e0" opacity="0.85"/>
<rect x="258.85" y="76.23" width="1.00" height="1.00" fill="#f070f0" opacity="0.85"/>
<rect x="255.21" y="73.34" width="1.00" height="1.00" fill="#e050e0" opacity="0.85"/>
<rect x="246.41" y="74.51" width="1.00" height="1.00" fill="#f070f0" opacity="0.85"/>
<rect x="252.79" y="74.48" width="1.00" height="1.00" fill="#e050e0" opacity="0.85"/>
<rect x="256.47" y="74.83" width="1.00" height="1.00" fill="#e050e0" opacity="0.85"/>
<rect x="263.13" y="57.83" width="1.00" height="1.00" fill="#f070f0" opacity="0.85"/>
<rect x="254.70" y="72.92" width="1.00" height="1.00" fill="#c030c8" opacity="0.85"/>
<rect x="256.31" y="70.62" width="1.00" height="1.00" fill="#e050e0" opacity="0.85"/>
<rect x="258.80" y="86.97" width="1.00" height="1.00" fill="#f070f0" opacity="0.85"/>
<rect x="257.23" y="79.40" width="1.00" height="1.00" fill="#c030c8" opacity="0.85"/>
<rect x="259.83" y="66.46" width="1.00" height="1.00" fill="#e050e0" opacity="0.85"/>
<rect x="253.57" y="76.73" width="1.00" height="1.00" fill="#f070f0" opacity="0.85"/>
<rect x="248.24" y="62.28" width="1.00" height="1.00" fill="#c030c8" opacity="0.85"/>
<rect x="254.69" y="78.77" width="1.00" height="1.00" fill="#e050e0" opacity="0.85"/>
<rect x="262.78" y="76.88" width="1.00" height="1.00" fill="#f070f0" opacity="0.85"/>
<rect x="256.43" y="74.31" width="1.00" height="1.00" fill="#c030c8" opacity="0.85"/>
<rect x="255.86" y="76.01" width="1.00" height="1.00" fill="#c030c8" opacity="0.85"/>
<rect x="256.78" y="67.56" width="1.00" height="1.00" fill="#f070f0" opacity="0.85"/>
<rect x="263.86" y="95.40" width="1.00" height="1.00" fill="#c030c8" opacity="0.85"/>
<rect x="252.35" y="72.30" width="1.00" height="1.00" fill="#c030c8" opacity="0.85"/>
<rect x="261.46" y="79.76" width="1.00" height="1.00" fill="#e050e0" opacity="0.85"/>
<rect x="248.38" y="74.22" width="1.00" height="1.00" fill="#f070f0" opacity="0.85"/>
<rect x="254.68" y="75.27" width="1.00" height="1.00" fill="#f070f0" opacity="0.85"/>
<rect x="247.75" y="51.12" width="1.00" height="1.00" fill="#f070f0" opacity="0.85"/>
<rect x="256.43" y="77.24" width="1.00" height="1.00" fill="#e050e0" opacity="0.85"/>
<rect x="253.43" y="66.64" width="1.00" height="1.00" fill="#c030c8" opacity="0.85"/>
<rect x="253.83" y="68.71" width="1.00" height="1.00" fill="#c030c8" opacity="0.85"/>
<rect x="254.73" y="75.68" width="1.00" height="1.00" fill="#e050e0" opacity="0.85"/>
<rect x="254.87" y="75.53" width="1.00" height="1.00" fill="#e050e0" opacity="0.85"/>
<rect x="246.98" y="92.82" width="1.00" height="1.00" fill="#e050e0" opacity="0.85"/>
<rect x="262.05" y="82.25" width="1.00" height="1.00" fill="#f070f0" opacity="0.85"/>
<rect x="264.15" y="73.15" width="1.00" height="1.00" fill="#f070f0" opacity="0.85"/>
<rect x="254.87" y="73.15" width="1.00" height="1.00" fill="#e050e0" opacity="0.85"/>
<rect x="254.12" y="72.67" width="1.00" height="1.00" fill="#c030c8" opacity="0.85"/>
<rect x="256.23" y="76.89" width="1.00" height="1.00" fill="#e050e0" opacity="0.85"/>
<rect x="248.03" y="87.27" width="1.00" height="1.00" fill="#e050e0" opacity="0.85"/>
<rect x="252.95" y="74.95" width="1.00" height="1.00" fill="#f070f0" opacity="0.85"/>
<rect x="250.21" y="60.21" width="1.00" height="1.00" fill="#c030c8" opacity="0.85"/>
<rect x="270.77" y="64.30" width="1.00" height="1.00" fill="#c030c8" opacity="0.85"/>
<rect x="253.09" y="83.51" width="1.00" height="1.00" fill="#c030c8" opacity="0.85"/>
<rect x="250.96" y="60.16" width="1.00" height="1.00" fill="#e050e0" opacity="0.85"/>
<rect x="270.12" y="51.49" width="1.00" height="1.00" fill="#c030c8" opacity="0.85"/>
<rect x="254.40" y="77.24" width="1.00" height="1.00" fill="#e050e0" opacity="0.85"/>
<rect x="256.50" y="77.62" width="1.00" height="1.00" fill="#e050e0" opacity="0.85"/>
<rect x="256.11" y="71.63" width="1.00" height="1.00" fill="#e050e0" opacity="0.85"/>
<rect x="258.52" y="68.99" width="1.00" height="1.00" fill="#e050e0" opacity="0.85"/>
<rect x="260.83" y="70.59" width="1.00" height="1.00" fill="#f070f0" opacity="0.85"/>
<rect x="250.89" y="89.65" width="1.00" height="1.00" fill="#c030c8" opacity="0.85"/>
<rect x="256.04" y="79.05" width="1.00" height="1.00" fill="#e050e0" opacity="0.85"/>
<rect x="252.68" y="78.86" width="1.00" height="1.00" fill="#f070f0" opacity="0.85"/>
</g>
<path d="M174.8,29.1 L195,29 C210,24.5 228,18.5 245,14.1 C248,13.8 249,18.5 247.2,20.4 C228,26 205,32 192,35.5 C187,38 184.5,41 182.3,42.6 C179,42.5 176,41.8 174.3,40.3 C174,37 174.3,32 174.8,29.1 Z" fill="none" stroke="#fff" stroke-width="0.9" stroke-dasharray="2.6,1.6"/>
<path d="M245.6,35.4 C249,35.5 252,36 253.4,37.3 C257,40 260,43 262,47 C264.5,52 266,57 266,61.4 C266,66 265.5,70 264.3,73.5 C262.5,78 260.5,81.5 258.3,84.4 C256.5,86.5 254.5,88.5 252.2,89.2 C249.5,87 248,85 247.4,82 C247,78 248,74 248.6,70 C249.5,66 251,62 251,59 C250.5,54 248,50 246.2,45.7 C245.5,42 245.3,38 245.6,35.4 Z" fill="none" stroke="#fff" stroke-width="0.9" stroke-dasharray="2.6,1.6"/>
<text transform="translate(174.20,14.10) scale(0.9924,1)" x="-0.11" y="0" font-size="9.80" font-weight="bold" fill="#e8409a" >TH</text>
<text transform="translate(187.70,14.90) scale(0.9767,1)" x="-0.41" y="0" font-size="9.80" font-weight="bold" fill="#e6e63a" >+</text>
<text transform="translate(193.40,14.10) scale(0.9186,1)" x="-0.66" y="0" font-size="9.80" font-weight="bold" fill="#3cb54a" >EGFP</text>
<text transform="translate(179.40,36.90) scale(1.1216,1)" x="-0.11" y="0" font-size="7.20" font-weight="bold" fill="#fff" >4V</text>
<text transform="translate(249.30,36.30) scale(0.9984,1)" x="-0.51" y="0" font-size="7.60" font-weight="bold" fill="#fff" >LC</text>
<text transform="translate(174.00,103.80) scale(0.8408,1)" x="-0.50" y="0" font-size="7.40" font-weight="bold" fill="#fff" >Injection site</text>
<text transform="translate(257.00,102.00) scale(1.0092,1)" x="-0.21" y="0" font-size="3.40" font-weight="bold" fill="#fff" >100 μm</text>
<line x1="259.00" y1="103.50" x2="267.00" y2="103.50" stroke="#fff" stroke-width="0.6" />
<g clip-path="url(#cb2)">
<rect x="275.10" y="5.80" width="99.70" height="100.20" fill="url(#gB2bg)" />
<rect x="283.97" y="64.28" width="0.90" height="0.90" fill="#5a1a62" opacity="0.7"/>
<rect x="281.56" y="7.28" width="0.90" height="0.90" fill="#4a1658" opacity="0.7"/>
<rect x="368.42" y="41.41" width="0.90" height="0.90" fill="#4a1658" opacity="0.7"/>
<rect x="288.89" y="84.76" width="0.90" height="0.90" fill="#6a2070" opacity="0.7"/>
<rect x="312.04" y="22.46" width="0.90" height="0.90" fill="#5a1a62" opacity="0.7"/>
<rect x="362.08" y="96.91" width="0.90" height="0.90" fill="#4a1658" opacity="0.7"/>
<rect x="303.54" y="43.95" width="0.90" height="0.90" fill="#5a1a62" opacity="0.7"/>
<rect x="297.43" y="25.23" width="0.90" height="0.90" fill="#4a1658" opacity="0.7"/>
<rect x="351.14" y="91.28" width="0.90" height="0.90" fill="#4a1658" opacity="0.7"/>
<rect x="339.05" y="53.07" width="0.90" height="0.90" fill="#5a1a62" opacity="0.7"/>
<rect x="280.14" y="72.30" width="0.90" height="0.90" fill="#6a2070" opacity="0.7"/>
<rect x="298.51" y="8.75" width="0.90" height="0.90" fill="#3a1048" opacity="0.7"/>
<rect x="323.70" y="16.81" width="0.90" height="0.90" fill="#3a1048" opacity="0.7"/>
<rect x="284.45" y="17.60" width="0.90" height="0.90" fill="#3a1048" opacity="0.7"/>
<rect x="367.13" y="96.97" width="0.90" height="0.90" fill="#3a1048" opacity="0.7"/>
<rect x="318.99" y="17.65" width="0.90" height="0.90" fill="#5a1a62" opacity="0.7"/>
<rect x="301.63" y="50.28" width="0.90" height="0.90" fill="#4a1658" opacity="0.7"/>
<rect x="368.48" y="61.39" width="0.90" height="0.90" fill="#5a1a62" opacity="0.7"/>
<rect x="325.88" y="54.29" width="0.90" height="0.90" fill="#4a1658" opacity="0.7"/>
<rect x="331.22" y="93.00" width="0.90" height="0.90" fill="#3a1048" opacity="0.7"/>
<rect x="286.07" y="100.36" width="0.90" height="0.90" fill="#5a1a62" opacity="0.7"/>
<rect x="299.00" y="22.90" width="0.90" height="0.90" fill="#6a2070" opacity="0.7"/>
<rect x="296.27" y="14.12" width="0.90" height="0.90" fill="#6a2070" opacity="0.7"/>
<rect x="321.81" y="100.61" width="0.90" height="0.90" fill="#4a1658" opacity="0.7"/>
<rect x="282.52" y="51.19" width="0.90" height="0.90" fill="#6a2070" opacity="0.7"/>
<rect x="284.86" y="33.92" width="0.90" height="0.90" fill="#6a2070" opacity="0.7"/>
<rect x="281.89" y="76.29" width="0.90" height="0.90" fill="#3a1048" opacity="0.7"/>
<rect x="323.11" y="23.83" width="0.90" height="0.90" fill="#5a1a62" opacity="0.7"/>
<rect x="337.67" y="87.12" width="0.90" height="0.90" fill="#5a1a62" opacity="0.7"/>
<rect x="339.26" y="74.63" width="0.90" height="0.90" fill="#5a1a62" opacity="0.7"/>
<rect x="328.65" y="29.26" width="0.90" height="0.90" fill="#3a1048" opacity="0.7"/>
<rect x="341.35" y="19.76" width="0.90" height="0.90" fill="#6a2070" opacity="0.7"/>
<rect x="289.56" y="86.32" width="0.90" height="0.90" fill="#6a2070" opacity="0.7"/>
<rect x="348.92" y="91.70" width="0.90" height="0.90" fill="#6a2070" opacity="0.7"/>
<rect x="340.55" y="71.01" width="0.90" height="0.90" fill="#4a1658" opacity="0.7"/>
<rect x="276.66" y="51.74" width="0.90" height="0.90" fill="#5a1a62" opacity="0.7"/>
<rect x="319.90" y="90.98" width="0.90" height="0.90" fill="#6a2070" opacity="0.7"/>
<rect x="318.87" y="19.88" width="0.90" height="0.90" fill="#4a1658" opacity="0.7"/>
<rect x="305.45" y="37.27" width="0.90" height="0.90" fill="#4a1658" opacity="0.7"/>
<rect x="368.76" y="46.08" width="0.90" height="0.90" fill="#4a1658" opacity="0.7"/>
<rect x="276.36" y="100.83" width="0.90" height="0.90" fill="#4a1658" opacity="0.7"/>
<rect x="281.66" y="43.25" width="0.90" height="0.90" fill="#3a1048" opacity="0.7"/>
<rect x="342.16" y="27.07" width="0.90" height="0.90" fill="#4a1658" opacity="0.7"/>
<rect x="294.28" y="52.94" width="0.90" height="0.90" fill="#6a2070" opacity="0.7"/>
<rect x="374.76" y="51.55" width="0.90" height="0.90" fill="#4a1658" opacity="0.7"/>
<rect x="372.30" y="81.53" width="0.90" height="0.90" fill="#5a1a62" opacity="0.7"/>
<rect x="315.68" y="40.19" width="0.90" height="0.90" fill="#5a1a62" opacity="0.7"/>
<rect x="331.79" y="82.96" width="0.90" height="0.90" fill="#4a1658" opacity="0.7"/>
<rect x="357.65" y="5.82" width="0.90" height="0.90" fill="#6a2070" opacity="0.7"/>
<rect x="335.58" y="53.40" width="0.90" height="0.90" fill="#3a1048" opacity="0.7"/>
<rect x="288.83" y="29.89" width="0.90" height="0.90" fill="#5a1a62" opacity="0.7"/>
<rect x="302.41" y="47.49" width="0.90" height="0.90" fill="#4a1658" opacity="0.7"/>
<rect x="374.65" y="19.35" width="0.90" height="0.90" fill="#6a2070" opacity="0.7"/>
<rect x="363.49" y="11.50" width="0.90" height="0.90" fill="#4a1658" opacity="0.7"/>
<rect x="317.26" y="13.84" width="0.90" height="0.90" fill="#3a1048" opacity="0.7"/>
<rect x="353.86" y="31.17" width="0.90" height="0.90" fill="#4a1658" opacity="0.7"/>
<rect x="360.86" y="101.68" width="0.90" height="0.90" fill="#6a2070" opacity="0.7"/>
<rect x="371.59" y="77.15" width="0.90" height="0.90" fill="#5a1a62" opacity="0.7"/>
<rect x="280.24" y="97.46" width="0.90" height="0.90" fill="#5a1a62" opacity="0.7"/>
<rect x="371.56" y="96.38" width="0.90" height="0.90" fill="#5a1a62" opacity="0.7"/>
<rect x="303.91" y="102.68" width="0.90" height="0.90" fill="#4a1658" opacity="0.7"/>
<rect x="316.98" y="58.84" width="0.90" height="0.90" fill="#6a2070" opacity="0.7"/>
<rect x="355.56" y="71.27" width="0.90" height="0.90" fill="#5a1a62" opacity="0.7"/>
<rect x="319.59" y="55.86" width="0.90" height="0.90" fill="#6a2070" opacity="0.7"/>
<rect x="364.71" y="102.23" width="0.90" height="0.90" fill="#4a1658" opacity="0.7"/>
<rect x="318.57" y="65.14" width="0.90" height="0.90" fill="#6a2070" opacity="0.7"/>
<rect x="331.96" y="23.99" width="0.90" height="0.90" fill="#6a2070" opacity="0.7"/>
<rect x="339.25" y="47.09" width="0.90" height="0.90" fill="#6a2070" opacity="0.7"/>
<rect x="342.64" y="13.16" width="0.90" height="0.90" fill="#5a1a62" opacity="0.7"/>
<rect x="337.34" y="53.06" width="0.90" height="0.90" fill="#6a2070" opacity="0.7"/>
<rect x="354.82" y="6.76" width="0.90" height="0.90" fill="#3a1048" opacity="0.7"/>
<rect x="309.00" y="82.03" width="0.90" height="0.90" fill="#4a1658" opacity="0.7"/>
<rect x="321.51" y="38.29" width="0.90" height="0.90" fill="#4a1658" opacity="0.7"/>
<rect x="372.63" y="14.71" width="0.90" height="0.90" fill="#4a1658" opacity="0.7"/>
<rect x="329.19" y="45.99" width="0.90" height="0.90" fill="#4a1658" opacity="0.7"/>
<rect x="364.84" y="29.10" width="0.90" height="0.90" fill="#6a2070" opacity="0.7"/>
<rect x="312.99" y="55.33" width="0.90" height="0.90" fill="#6a2070" opacity="0.7"/>
<rect x="287.82" y="28.10" width="0.90" height="0.90" fill="#4a1658" opacity="0.7"/>
<rect x="362.73" y="17.13" width="0.90" height="0.90" fill="#4a1658" opacity="0.7"/>
<rect x="363.29" y="67.52" width="0.90" height="0.90" fill="#5a1a62" opacity="0.7"/>
<rect x="321.92" y="51.30" width="0.90" height="0.90" fill="#6a2070" opacity="0.7"/>
<rect x="332.62" y="41.44" width="0.90" height="0.90" fill="#3a1048" opacity="0.7"/>
<rect x="306.46" y="87.10" width="0.90" height="0.90" fill="#5a1a62" opacity="0.7"/>
<rect x="342.54" y="84.06" width="0.90" height="0.90" fill="#3a1048" opacity="0.7"/>
<rect x="311.96" y="102.24" width="0.90" height="0.90" fill="#6a2070" opacity="0.7"/>
<rect x="358.40" y="70.14" width="0.90" height="0.90" fill="#4a1658" opacity="0.7"/>
<rect x="345.38" y="102.63" width="0.90" height="0.90" fill="#4a1658" opacity="0.7"/>
<rect x="311.91" y="91.00" width="0.90" height="0.90" fill="#6a2070" opacity="0.7"/>
<rect x="291.39" y="12.29" width="0.90" height="0.90" fill="#3a1048" opacity="0.7"/>
<rect x="359.81" y="93.49" width="0.90" height="0.90" fill="#5a1a62" opacity="0.7"/>
<rect x="294.87" y="7.30" width="0.90" height="0.90" fill="#3a1048" opacity="0.7"/>
<rect x="347.44" y="33.10" width="0.90" height="0.90" fill="#5a1a62" opacity="0.7"/>
<rect x="354.70" y="89.68" width="0.90" height="0.90" fill="#5a1a62" opacity="0.7"/>
<rect x="344.48" y="6.19" width="0.90" height="0.90" fill="#4a1658" opacity="0.7"/>
<rect x="292.50" y="96.04" width="0.90" height="0.90" fill="#4a1658" opacity="0.7"/>
<rect x="277.03" y="17.25" width="0.90" height="0.90" fill="#5a1a62" opacity="0.7"/>
<rect x="371.81" y="20.69" width="0.90" height="0.90" fill="#6a2070" opacity="0.7"/>
<rect x="282.41" y="40.76" width="0.90" height="0.90" fill="#6a2070" opacity="0.7"/>
<rect x="316.71" y="53.78" width="0.90" height="0.90" fill="#6a2070" opacity="0.7"/>
<rect x="308.30" y="98.71" width="0.90" height="0.90" fill="#6a2070" opacity="0.7"/>
<rect x="291.30" y="14.96" width="0.90" height="0.90" fill="#5a1a62" opacity="0.7"/>
<rect x="344.55" y="32.15" width="0.90" height="0.90" fill="#6a2070" opacity="0.7"/>
<rect x="309.17" y="55.08" width="0.90" height="0.90" fill="#4a1658" opacity="0.7"/>
<rect x="335.44" y="104.95" width="0.90" height="0.90" fill="#5a1a62" opacity="0.7"/>
<rect x="350.00" y="89.86" width="0.90" height="0.90" fill="#3a1048" opacity="0.7"/>
<rect x="313.51" y="77.64" width="0.90" height="0.90" fill="#4a1658" opacity="0.7"/>
<rect x="306.14" y="13.03" width="0.90" height="0.90" fill="#3a1048" opacity="0.7"/>
<rect x="284.49" y="64.54" width="0.90" height="0.90" fill="#4a1658" opacity="0.7"/>
<rect x="354.25" y="51.11" width="0.90" height="0.90" fill="#3a1048" opacity="0.7"/>
<rect x="353.99" y="28.97" width="0.90" height="0.90" fill="#5a1a62" opacity="0.7"/>
<rect x="357.34" y="53.08" width="0.90" height="0.90" fill="#3a1048" opacity="0.7"/>
<rect x="288.88" y="25.11" width="0.90" height="0.90" fill="#4a1658" opacity="0.7"/>
<rect x="285.86" y="69.32" width="0.90" height="0.90" fill="#4a1658" opacity="0.7"/>
<rect x="349.96" y="56.03" width="0.90" height="0.90" fill="#6a2070" opacity="0.7"/>
<rect x="347.33" y="8.90" width="0.90" height="0.90" fill="#5a1a62" opacity="0.7"/>
<rect x="297.13" y="34.94" width="0.90" height="0.90" fill="#3a1048" opacity="0.7"/>
<rect x="336.39" y="96.16" width="0.90" height="0.90" fill="#4a1658" opacity="0.7"/>
<rect x="373.43" y="105.53" width="0.90" height="0.90" fill="#6a2070" opacity="0.7"/>
<rect x="288.18" y="12.01" width="0.90" height="0.90" fill="#3a1048" opacity="0.7"/>
<rect x="352.00" y="88.66" width="0.90" height="0.90" fill="#6a2070" opacity="0.7"/>
<rect x="314.63" y="58.20" width="0.90" height="0.90" fill="#6a2070" opacity="0.7"/>
<rect x="280.65" y="66.84" width="0.90" height="0.90" fill="#5a1a62" opacity="0.7"/>
<rect x="304.36" y="38.37" width="0.90" height="0.90" fill="#4a1658" opacity="0.7"/>
<rect x="290.18" y="99.15" width="0.90" height="0.90" fill="#4a1658" opacity="0.7"/>
<rect x="321.14" y="25.61" width="0.90" height="0.90" fill="#5a1a62" opacity="0.7"/>
<rect x="353.37" y="77.78" width="0.90" height="0.90" fill="#6a2070" opacity="0.7"/>
<rect x="343.47" y="53.54" width="0.90" height="0.90" fill="#6a2070" opacity="0.7"/>
<rect x="352.41" y="16.44" width="0.90" height="0.90" fill="#5a1a62" opacity="0.7"/>
<rect x="337.29" y="49.62" width="0.90" height="0.90" fill="#5a1a62" opacity="0.7"/>
<rect x="300.28" y="72.79" width="0.90" height="0.90" fill="#4a1658" opacity="0.7"/>
<rect x="319.93" y="91.20" width="0.90" height="0.90" fill="#3a1048" opacity="0.7"/>
<rect x="351.90" y="43.04" width="0.90" height="0.90" fill="#3a1048" opacity="0.7"/>
<rect x="352.84" y="78.42" width="0.90" height="0.90" fill="#6a2070" opacity="0.7"/>
<rect x="336.79" y="16.32" width="0.90" height="0.90" fill="#3a1048" opacity="0.7"/>
<rect x="283.86" y="98.23" width="0.90" height="0.90" fill="#4a1658" opacity="0.7"/>
<rect x="278.83" y="104.11" width="0.90" height="0.90" fill="#4a1658" opacity="0.7"/>
<rect x="281.40" y="74.34" width="0.90" height="0.90" fill="#5a1a62" opacity="0.7"/>
<rect x="305.01" y="12.67" width="0.90" height="0.90" fill="#6a2070" opacity="0.7"/>
<rect x="318.70" y="14.39" width="0.90" height="0.90" fill="#3a1048" opacity="0.7"/>
<rect x="344.64" y="77.53" width="0.90" height="0.90" fill="#5a1a62" opacity="0.7"/>
<rect x="278.28" y="96.96" width="0.90" height="0.90" fill="#4a1658" opacity="0.7"/>
<rect x="327.94" y="75.96" width="0.90" height="0.90" fill="#6a2070" opacity="0.7"/>
<rect x="291.45" y="59.09" width="0.90" height="0.90" fill="#3a1048" opacity="0.7"/>
<rect x="291.96" y="23.20" width="0.90" height="0.90" fill="#3a1048" opacity="0.7"/>
<rect x="345.68" y="42.12" width="0.90" height="0.90" fill="#4a1658" opacity="0.7"/>
<rect x="320.77" y="61.10" width="0.90" height="0.90" fill="#5a1a62" opacity="0.7"/>
<rect x="300.98" y="80.01" width="0.90" height="0.90" fill="#3a1048" opacity="0.7"/>
<rect x="322.24" y="101.63" width="0.90" height="0.90" fill="#6a2070" opacity="0.7"/>
<rect x="350.75" y="45.20" width="0.90" height="0.90" fill="#4a1658" opacity="0.7"/>
<rect x="348.28" y="18.79" width="0.90" height="0.90" fill="#4a1658" opacity="0.7"/>
<rect x="366.38" y="55.00" width="0.90" height="0.90" fill="#6a2070" opacity="0.7"/>
<rect x="355.08" y="8.57" width="0.90" height="0.90" fill="#3a1048" opacity="0.7"/>
<rect x="356.27" y="75.47" width="0.90" height="0.90" fill="#6a2070" opacity="0.7"/>
<rect x="306.35" y="78.88" width="0.90" height="0.90" fill="#6a2070" opacity="0.7"/>
<rect x="343.16" y="71.90" width="0.90" height="0.90" fill="#5a1a62" opacity="0.7"/>
<rect x="357.02" y="92.28" width="0.90" height="0.90" fill="#6a2070" opacity="0.7"/>
<rect x="276.14" y="82.30" width="0.90" height="0.90" fill="#5a1a62" opacity="0.7"/>
<rect x="364.77" y="101.19" width="0.90" height="0.90" fill="#6a2070" opacity="0.7"/>
<rect x="297.82" y="37.64" width="0.90" height="0.90" fill="#6a2070" opacity="0.7"/>
<rect x="369.78" y="36.02" width="0.90" height="0.90" fill="#6a2070" opacity="0.7"/>
<rect x="314.42" y="34.25" width="0.90" height="0.90" fill="#4a1658" opacity="0.7"/>
<rect x="276.36" y="73.51" width="0.90" height="0.90" fill="#4a1658" opacity="0.7"/>
<rect x="356.55" y="70.35" width="0.90" height="0.90" fill="#5a1a62" opacity="0.7"/>
<rect x="373.87" y="78.75" width="0.90" height="0.90" fill="#4a1658" opacity="0.7"/>
<rect x="356.16" y="31.17" width="0.90" height="0.90" fill="#6a2070" opacity="0.7"/>
<rect x="313.05" y="89.94" width="0.90" height="0.90" fill="#4a1658" opacity="0.7"/>
<rect x="299.01" y="77.27" width="0.90" height="0.90" fill="#5a1a62" opacity="0.7"/>
<rect x="309.52" y="90.36" width="0.90" height="0.90" fill="#6a2070" opacity="0.7"/>
<rect x="362.72" y="19.74" width="0.90" height="0.90" fill="#5a1a62" opacity="0.7"/>
<rect x="354.22" y="90.23" width="0.90" height="0.90" fill="#3a1048" opacity="0.7"/>
<rect x="369.43" y="52.92" width="0.90" height="0.90" fill="#3a1048" opacity="0.7"/>
<rect x="353.09" y="92.96" width="0.90" height="0.90" fill="#4a1658" opacity="0.7"/>
<rect x="347.83" y="41.96" width="0.90" height="0.90" fill="#5a1a62" opacity="0.7"/>
<rect x="285.11" y="38.58" width="0.90" height="0.90" fill="#5a1a62" opacity="0.7"/>
<rect x="365.13" y="8.36" width="0.90" height="0.90" fill="#6a2070" opacity="0.7"/>
<rect x="282.14" y="12.58" width="0.90" height="0.90" fill="#5a1a62" opacity="0.7"/>
<rect x="294.88" y="52.10" width="0.90" height="0.90" fill="#3a1048" opacity="0.7"/>
<rect x="306.12" y="53.56" width="0.90" height="0.90" fill="#3a1048" opacity="0.7"/>
<rect x="306.00" y="69.16" width="0.90" height="0.90" fill="#3a1048" opacity="0.7"/>
<rect x="306.86" y="40.37" width="0.90" height="0.90" fill="#6a2070" opacity="0.7"/>
<rect x="348.79" y="41.10" width="0.90" height="0.90" fill="#5a1a62" opacity="0.7"/>
<rect x="334.91" y="105.78" width="0.90" height="0.90" fill="#5a1a62" opacity="0.7"/>
<rect x="323.36" y="47.52" width="0.90" height="0.90" fill="#4a1658" opacity="0.7"/>
<rect x="295.83" y="42.11" width="0.90" height="0.90" fill="#6a2070" opacity="0.7"/>
<rect x="367.58" y="71.81" width="0.90" height="0.90" fill="#5a1a62" opacity="0.7"/>
<rect x="340.38" y="62.75" width="0.90" height="0.90" fill="#3a1048" opacity="0.7"/>
<rect x="334.01" y="49.12" width="0.90" height="0.90" fill="#4a1658" opacity="0.7"/>
<rect x="317.90" y="15.05" width="0.90" height="0.90" fill="#6a2070" opacity="0.7"/>
<rect x="356.90" y="84.84" width="0.90" height="0.90" fill="#6a2070" opacity="0.7"/>
<rect x="285.22" y="85.35" width="0.90" height="0.90" fill="#5a1a62" opacity="0.7"/>
<rect x="296.94" y="94.29" width="0.90" height="0.90" fill="#3a1048" opacity="0.7"/>
<rect x="290.83" y="69.62" width="0.90" height="0.90" fill="#5a1a62" opacity="0.7"/>
<rect x="367.80" y="26.01" width="0.90" height="0.90" fill="#6a2070" opacity="0.7"/>
<rect x="373.97" y="57.46" width="0.90" height="0.90" fill="#4a1658" opacity="0.7"/>
<rect x="324.08" y="81.17" width="0.90" height="0.90" fill="#5a1a62" opacity="0.7"/>
<rect x="341.74" y="20.15" width="0.90" height="0.90" fill="#3a1048" opacity="0.7"/>
<rect x="374.80" y="62.02" width="0.90" height="0.90" fill="#4a1658" opacity="0.7"/>
<rect x="293.38" y="97.00" width="0.90" height="0.90" fill="#5a1a62" opacity="0.7"/>
<rect x="361.69" y="42.04" width="0.90" height="0.90" fill="#5a1a62" opacity="0.7"/>
<rect x="295.78" y="8.15" width="0.90" height="0.90" fill="#4a1658" opacity="0.7"/>
<rect x="326.03" y="99.25" width="0.90" height="0.90" fill="#4a1658" opacity="0.7"/>
<rect x="289.42" y="69.03" width="0.90" height="0.90" fill="#5a1a62" opacity="0.7"/>
<rect x="317.36" y="66.13" width="0.90" height="0.90" fill="#6a2070" opacity="0.7"/>
<rect x="335.33" y="29.22" width="0.90" height="0.90" fill="#4a1658" opacity="0.7"/>
<rect x="326.27" y="52.72" width="0.90" height="0.90" fill="#5a1a62" opacity="0.7"/>
<rect x="352.25" y="86.23" width="0.90" height="0.90" fill="#4a1658" opacity="0.7"/>
<rect x="349.71" y="29.55" width="0.90" height="0.90" fill="#6a2070" opacity="0.7"/>
<rect x="298.24" y="88.16" width="0.90" height="0.90" fill="#4a1658" opacity="0.7"/>
<rect x="335.21" y="96.39" width="0.90" height="0.90" fill="#4a1658" opacity="0.7"/>
<rect x="372.41" y="78.10" width="0.90" height="0.90" fill="#5a1a62" opacity="0.7"/>
<rect x="349.80" y="77.15" width="0.90" height="0.90" fill="#4a1658" opacity="0.7"/>
<rect x="302.27" y="89.80" width="0.90" height="0.90" fill="#5a1a62" opacity="0.7"/>
<rect x="323.79" y="5.97" width="0.90" height="0.90" fill="#5a1a62" opacity="0.7"/>
<rect x="361.69" y="95.75" width="0.90" height="0.90" fill="#3a1048" opacity="0.7"/>
<rect x="289.27" y="51.89" width="0.90" height="0.90" fill="#4a1658" opacity="0.7"/>
<rect x="374.56" y="39.47" width="0.90" height="0.90" fill="#4a1658" opacity="0.7"/>
<rect x="374.45" y="28.61" width="0.90" height="0.90" fill="#3a1048" opacity="0.7"/>
<rect x="310.65" y="49.49" width="0.90" height="0.90" fill="#6a2070" opacity="0.7"/>
<rect x="291.24" y="27.69" width="0.90" height="0.90" fill="#5a1a62" opacity="0.7"/>
<rect x="289.31" y="64.89" width="0.90" height="0.90" fill="#5a1a62" opacity="0.7"/>
<rect x="325.40" y="24.20" width="0.90" height="0.90" fill="#3a1048" opacity="0.7"/>
<rect x="358.84" y="82.82" width="0.90" height="0.90" fill="#3a1048" opacity="0.7"/>
<rect x="322.26" y="33.56" width="0.90" height="0.90" fill="#4a1658" opacity="0.7"/>
<rect x="322.14" y="56.80" width="0.90" height="0.90" fill="#4a1658" opacity="0.7"/>
<rect x="298.32" y="41.05" width="0.90" height="0.90" fill="#3a1048" opacity="0.7"/>
<rect x="371.51" y="46.22" width="0.90" height="0.90" fill="#6a2070" opacity="0.7"/>
<rect x="348.28" y="39.42" width="0.90" height="0.90" fill="#3a1048" opacity="0.7"/>
<rect x="339.46" y="52.42" width="0.90" height="0.90" fill="#5a1a62" opacity="0.7"/>
<rect x="279.25" y="84.40" width="0.90" height="0.90" fill="#3a1048" opacity="0.7"/>
<rect x="310.44" y="68.92" width="0.90" height="0.90" fill="#3a1048" opacity="0.7"/>
<rect x="370.02" y="67.90" width="0.90" height="0.90" fill="#4a1658" opacity="0.7"/>
<rect x="330.36" y="72.21" width="0.90" height="0.90" fill="#5a1a62" opacity="0.7"/>
<rect x="369.75" y="20.36" width="0.90" height="0.90" fill="#6a2070" opacity="0.7"/>
<rect x="342.68" y="45.76" width="0.90" height="0.90" fill="#6a2070" opacity="0.7"/>
<rect x="333.93" y="73.66" width="0.90" height="0.90" fill="#6a2070" opacity="0.7"/>
<rect x="354.97" y="21.47" width="0.90" height="0.90" fill="#3a1048" opacity="0.7"/>
<rect x="339.99" y="34.42" width="0.90" height="0.90" fill="#4a1658" opacity="0.7"/>
<rect x="364.58" y="86.01" width="0.90" height="0.90" fill="#5a1a62" opacity="0.7"/>
<rect x="336.55" y="86.62" width="0.90" height="0.90" fill="#3a1048" opacity="0.7"/>
<rect x="324.52" y="42.22" width="0.90" height="0.90" fill="#5a1a62" opacity="0.7"/>
<rect x="309.98" y="59.10" width="0.90" height="0.90" fill="#6a2070" opacity="0.7"/>
<rect x="338.83" y="53.59" width="0.90" height="0.90" fill="#6a2070" opacity="0.7"/>
<rect x="300.48" y="66.89" width="0.90" height="0.90" fill="#6a2070" opacity="0.7"/>
<rect x="276.77" y="85.96" width="0.90" height="0.90" fill="#5a1a62" opacity="0.7"/>
<rect x="311.28" y="97.28" width="0.90" height="0.90" fill="#5a1a62" opacity="0.7"/>
<rect x="302.60" y="39.10" width="0.90" height="0.90" fill="#3a1048" opacity="0.7"/>
<rect x="291.07" y="74.93" width="0.90" height="0.90" fill="#5a1a62" opacity="0.7"/>
<rect x="282.65" y="26.81" width="0.90" height="0.90" fill="#4a1658" opacity="0.7"/>
<rect x="289.74" y="28.64" width="0.90" height="0.90" fill="#5a1a62" opacity="0.7"/>
<rect x="318.63" y="18.02" width="0.90" height="0.90" fill="#5a1a62" opacity="0.7"/>
<rect x="369.51" y="61.00" width="0.90" height="0.90" fill="#5a1a62" opacity="0.7"/>
<rect x="352.16" y="20.69" width="0.90" height="0.90" fill="#4a1658" opacity="0.7"/>
<rect x="279.07" y="55.59" width="0.90" height="0.90" fill="#3a1048" opacity="0.7"/>
<rect x="317.20" y="68.88" width="0.90" height="0.90" fill="#4a1658" opacity="0.7"/>
<rect x="334.62" y="103.67" width="0.90" height="0.90" fill="#5a1a62" opacity="0.7"/>
<rect x="283.49" y="21.88" width="0.90" height="0.90" fill="#5a1a62" opacity="0.7"/>
<rect x="277.27" y="76.77" width="0.90" height="0.90" fill="#4a1658" opacity="0.7"/>
<rect x="286.30" y="22.04" width="0.90" height="0.90" fill="#4a1658" opacity="0.7"/>
<rect x="294.79" y="41.66" width="0.90" height="0.90" fill="#4a1658" opacity="0.7"/>
<rect x="311.06" y="103.90" width="0.90" height="0.90" fill="#3a1048" opacity="0.7"/>
<rect x="307.53" y="46.78" width="0.90" height="0.90" fill="#3a1048" opacity="0.7"/>
<rect x="298.29" y="103.46" width="0.90" height="0.90" fill="#4a1658" opacity="0.7"/>
<rect x="291.61" y="95.26" width="0.90" height="0.90" fill="#6a2070" opacity="0.7"/>
<rect x="337.52" y="71.45" width="0.90" height="0.90" fill="#3a1048" opacity="0.7"/>
<rect x="327.96" y="74.01" width="0.90" height="0.90" fill="#5a1a62" opacity="0.7"/>
<rect x="353.18" y="60.64" width="0.90" height="0.90" fill="#5a1a62" opacity="0.7"/>
<rect x="320.12" y="94.11" width="0.90" height="0.90" fill="#6a2070" opacity="0.7"/>
<rect x="340.92" y="57.04" width="0.90" height="0.90" fill="#4a1658" opacity="0.7"/>
<rect x="360.78" y="97.47" width="0.90" height="0.90" fill="#4a1658" opacity="0.7"/>
<rect x="324.63" y="74.77" width="0.90" height="0.90" fill="#4a1658" opacity="0.7"/>
<rect x="343.96" y="6.26" width="0.90" height="0.90" fill="#5a1a62" opacity="0.7"/>
<rect x="359.29" y="42.07" width="0.90" height="0.90" fill="#4a1658" opacity="0.7"/>
<rect x="331.92" y="78.78" width="0.90" height="0.90" fill="#3a1048" opacity="0.7"/>
<rect x="308.38" y="53.85" width="0.90" height="0.90" fill="#4a1658" opacity="0.7"/>
<rect x="306.64" y="43.54" width="0.90" height="0.90" fill="#6a2070" opacity="0.7"/>
<rect x="374.15" y="26.94" width="0.90" height="0.90" fill="#5a1a62" opacity="0.7"/>
<rect x="373.88" y="74.74" width="0.90" height="0.90" fill="#6a2070" opacity="0.7"/>
<rect x="339.16" y="61.90" width="0.90" height="0.90" fill="#6a2070" opacity="0.7"/>
<rect x="290.90" y="91.74" width="0.90" height="0.90" fill="#3a1048" opacity="0.7"/>
<rect x="370.02" y="91.82" width="0.90" height="0.90" fill="#5a1a62" opacity="0.7"/>
<rect x="324.16" y="88.83" width="0.90" height="0.90" fill="#5a1a62" opacity="0.7"/>
<rect x="289.96" y="82.06" width="0.90" height="0.90" fill="#3a1048" opacity="0.7"/>
<rect x="365.55" y="64.57" width="0.90" height="0.90" fill="#3a1048" opacity="0.7"/>
<rect x="345.39" y="6.24" width="0.90" height="0.90" fill="#4a1658" opacity="0.7"/>
<rect x="285.36" y="33.52" width="0.90" height="0.90" fill="#5a1a62" opacity="0.7"/>
<rect x="335.53" y="49.42" width="0.90" height="0.90" fill="#6a2070" opacity="0.7"/>
<rect x="283.21" y="50.78" width="0.90" height="0.90" fill="#6a2070" opacity="0.7"/>
<rect x="284.83" y="55.28" width="0.90" height="0.90" fill="#6a2070" opacity="0.7"/>
<rect x="296.49" y="71.36" width="0.90" height="0.90" fill="#6a2070" opacity="0.7"/>
<rect x="353.07" y="26.41" width="0.90" height="0.90" fill="#3a1048" opacity="0.7"/>
<rect x="351.76" y="75.20" width="0.90" height="0.90" fill="#6a2070" opacity="0.7"/>
<rect x="320.58" y="92.33" width="0.90" height="0.90" fill="#3a1048" opacity="0.7"/>
<rect x="343.24" y="75.68" width="0.90" height="0.90" fill="#5a1a62" opacity="0.7"/>
<rect x="279.72" y="89.58" width="0.90" height="0.90" fill="#6a2070" opacity="0.7"/>
<rect x="280.44" y="104.83" width="0.90" height="0.90" fill="#4a1658" opacity="0.7"/>
<rect x="310.16" y="91.10" width="0.90" height="0.90" fill="#4a1658" opacity="0.7"/>
<rect x="300.99" y="56.54" width="0.90" height="0.90" fill="#3a1048" opacity="0.7"/>
<rect x="322.75" y="14.51" width="0.90" height="0.90" fill="#5a1a62" opacity="0.7"/>
<rect x="296.58" y="65.99" width="0.90" height="0.90" fill="#5a1a62" opacity="0.7"/>
<rect x="347.80" y="40.19" width="0.90" height="0.90" fill="#4a1658" opacity="0.7"/>
<rect x="370.49" y="70.45" width="0.90" height="0.90" fill="#5a1a62" opacity="0.7"/>
<rect x="339.41" y="89.80" width="0.90" height="0.90" fill="#6a2070" opacity="0.7"/>
<rect x="308.63" y="22.21" width="0.90" height="0.90" fill="#4a1658" opacity="0.7"/>
<rect x="322.35" y="84.54" width="0.90" height="0.90" fill="#6a2070" opacity="0.7"/>
<rect x="300.98" y="11.91" width="0.90" height="0.90" fill="#4a1658" opacity="0.7"/>
<rect x="365.47" y="67.21" width="0.90" height="0.90" fill="#5a1a62" opacity="0.7"/>
<rect x="337.99" y="59.20" width="0.90" height="0.90" fill="#3a1048" opacity="0.7"/>
<rect x="296.26" y="47.52" width="0.90" height="0.90" fill="#3a1048" opacity="0.7"/>
<rect x="355.42" y="74.14" width="0.90" height="0.90" fill="#3a1048" opacity="0.7"/>
<rect x="298.23" y="52.23" width="0.90" height="0.90" fill="#4a1658" opacity="0.7"/>
<rect x="367.15" y="21.88" width="0.90" height="0.90" fill="#5a1a62" opacity="0.7"/>
<rect x="330.35" y="46.40" width="0.90" height="0.90" fill="#4a1658" opacity="0.7"/>
<rect x="366.32" y="95.87" width="0.90" height="0.90" fill="#3a1048" opacity="0.7"/>
<rect x="324.27" y="32.64" width="0.90" height="0.90" fill="#6a2070" opacity="0.7"/>
<rect x="284.96" y="55.65" width="0.90" height="0.90" fill="#6a2070" opacity="0.7"/>
<rect x="291.26" y="94.59" width="0.90" height="0.90" fill="#6a2070" opacity="0.7"/>
<rect x="312.96" y="17.05" width="0.90" height="0.90" fill="#4a1658" opacity="0.7"/>
<rect x="324.82" y="34.12" width="0.90" height="0.90" fill="#6a2070" opacity="0.7"/>
<rect x="313.49" y="60.66" width="0.90" height="0.90" fill="#6a2070" opacity="0.7"/>
<rect x="351.91" y="37.65" width="0.90" height="0.90" fill="#3a1048" opacity="0.7"/>
<rect x="287.46" y="34.28" width="0.90" height="0.90" fill="#6a2070" opacity="0.7"/>
<rect x="331.23" y="100.81" width="0.90" height="0.90" fill="#6a2070" opacity="0.7"/>
<rect x="323.03" y="98.94" width="0.90" height="0.90" fill="#4a1658" opacity="0.7"/>
<rect x="329.26" y="92.23" width="0.90" height="0.90" fill="#4a1658" opacity="0.7"/>
<rect x="311.03" y="66.40" width="0.90" height="0.90" fill="#6a2070" opacity="0.7"/>
<rect x="304.32" y="76.92" width="0.90" height="0.90" fill="#5a1a62" opacity="0.7"/>
<rect x="317.02" y="26.81" width="0.90" height="0.90" fill="#5a1a62" opacity="0.7"/>
<rect x="295.62" y="56.65" width="0.90" height="0.90" fill="#5a1a62" opacity="0.7"/>
<rect x="350.19" y="29.57" width="0.90" height="0.90" fill="#5a1a62" opacity="0.7"/>
<rect x="343.32" y="98.65" width="0.90" height="0.90" fill="#4a1658" opacity="0.7"/>
<rect x="342.72" y="77.26" width="0.90" height="0.90" fill="#5a1a62" opacity="0.7"/>
<rect x="301.68" y="103.49" width="0.90" height="0.90" fill="#5a1a62" opacity="0.7"/>
<rect x="371.72" y="37.16" width="0.90" height="0.90" fill="#5a1a62" opacity="0.7"/>
<rect x="326.46" y="40.87" width="0.90" height="0.90" fill="#4a1658" opacity="0.7"/>
<rect x="276.40" y="26.11" width="0.90" height="0.90" fill="#4a1658" opacity="0.7"/>
<rect x="365.44" y="28.26" width="0.90" height="0.90" fill="#4a1658" opacity="0.7"/>
<rect x="368.03" y="32.60" width="0.90" height="0.90" fill="#6a2070" opacity="0.7"/>
<rect x="342.38" y="44.29" width="0.90" height="0.90" fill="#5a1a62" opacity="0.7"/>
<rect x="281.81" y="89.01" width="0.90" height="0.90" fill="#3a1048" opacity="0.7"/>
<rect x="286.12" y="80.57" width="0.90" height="0.90" fill="#6a2070" opacity="0.7"/>
<rect x="326.39" y="48.67" width="0.90" height="0.90" fill="#5a1a62" opacity="0.7"/>
<rect x="370.17" y="105.39" width="0.90" height="0.90" fill="#3a1048" opacity="0.7"/>
<rect x="337.24" y="71.27" width="0.90" height="0.90" fill="#4a1658" opacity="0.7"/>
<rect x="312.17" y="42.42" width="0.90" height="0.90" fill="#4a1658" opacity="0.7"/>
<rect x="310.89" y="95.99" width="0.90" height="0.90" fill="#6a2070" opacity="0.7"/>
<rect x="329.29" y="22.09" width="0.90" height="0.90" fill="#4a1658" opacity="0.7"/>
<rect x="289.99" y="64.77" width="0.90" height="0.90" fill="#5a1a62" opacity="0.7"/>
<rect x="291.06" y="56.18" width="0.90" height="0.90" fill="#5a1a62" opacity="0.7"/>
<rect x="330.98" y="47.15" width="0.90" height="0.90" fill="#5a1a62" opacity="0.7"/>
<rect x="347.63" y="29.47" width="0.90" height="0.90" fill="#4a1658" opacity="0.7"/>
<rect x="298.70" y="81.63" width="0.90" height="0.90" fill="#4a1658" opacity="0.7"/>
<rect x="364.37" y="41.61" width="0.90" height="0.90" fill="#5a1a62" opacity="0.7"/>
<rect x="358.33" y="64.82" width="0.90" height="0.90" fill="#3a1048" opacity="0.7"/>
<rect x="308.55" y="82.46" width="0.90" height="0.90" fill="#4a1658" opacity="0.7"/>
<rect x="372.36" y="105.26" width="0.90" height="0.90" fill="#5a1a62" opacity="0.7"/>
<rect x="320.23" y="56.21" width="0.90" height="0.90" fill="#5a1a62" opacity="0.7"/>
<rect x="335.32" y="23.93" width="0.90" height="0.90" fill="#5a1a62" opacity="0.7"/>
<rect x="301.00" y="83.35" width="0.90" height="0.90" fill="#5a1a62" opacity="0.7"/>
<rect x="308.88" y="13.70" width="0.90" height="0.90" fill="#6a2070" opacity="0.7"/>
<rect x="282.50" y="83.85" width="0.90" height="0.90" fill="#3a1048" opacity="0.7"/>
<rect x="299.47" y="21.30" width="0.90" height="0.90" fill="#6a2070" opacity="0.7"/>
<rect x="318.17" y="99.14" width="0.90" height="0.90" fill="#5a1a62" opacity="0.7"/>
<rect x="345.51" y="48.77" width="0.90" height="0.90" fill="#4a1658" opacity="0.7"/>
<rect x="333.63" y="55.68" width="0.90" height="0.90" fill="#4a1658" opacity="0.7"/>
<rect x="356.73" y="84.98" width="0.90" height="0.90" fill="#6a2070" opacity="0.7"/>
<rect x="325.64" y="39.40" width="0.90" height="0.90" fill="#5a1a62" opacity="0.7"/>
<rect x="327.04" y="80.76" width="0.90" height="0.90" fill="#4a1658" opacity="0.7"/>
<rect x="326.01" y="22.64" width="0.90" height="0.90" fill="#4a1658" opacity="0.7"/>
<rect x="318.30" y="72.06" width="0.90" height="0.90" fill="#5a1a62" opacity="0.7"/>
<rect x="299.04" y="52.60" width="0.90" height="0.90" fill="#4a1658" opacity="0.7"/>
<rect x="341.09" y="15.92" width="0.90" height="0.90" fill="#3a1048" opacity="0.7"/>
<rect x="283.85" y="74.68" width="0.90" height="0.90" fill="#6a2070" opacity="0.7"/>
<rect x="308.50" y="32.47" width="0.90" height="0.90" fill="#6a2070" opacity="0.7"/>
<rect x="297.29" y="45.96" width="0.90" height="0.90" fill="#3a1048" opacity="0.7"/>
<rect x="281.99" y="14.30" width="0.90" height="0.90" fill="#5a1a62" opacity="0.7"/>
<rect x="329.24" y="105.06" width="0.90" height="0.90" fill="#5a1a62" opacity="0.7"/>
<rect x="313.23" y="73.98" width="0.90" height="0.90" fill="#6a2070" opacity="0.7"/>
<rect x="294.44" y="72.92" width="0.90" height="0.90" fill="#3a1048" opacity="0.7"/>
<rect x="331.20" y="50.68" width="0.90" height="0.90" fill="#5a1a62" opacity="0.7"/>
<rect x="368.21" y="87.42" width="0.90" height="0.90" fill="#3a1048" opacity="0.7"/>
<rect x="287.75" y="12.52" width="0.90" height="0.90" fill="#3a1048" opacity="0.7"/>
<rect x="287.77" y="74.51" width="0.90" height="0.90" fill="#4a1658" opacity="0.7"/>
<rect x="332.74" y="103.63" width="0.90" height="0.90" fill="#5a1a62" opacity="0.7"/>
<rect x="353.81" y="85.00" width="0.90" height="0.90" fill="#5a1a62" opacity="0.7"/>
<rect x="286.35" y="38.07" width="0.90" height="0.90" fill="#5a1a62" opacity="0.7"/>
<rect x="297.13" y="100.83" width="0.90" height="0.90" fill="#6a2070" opacity="0.7"/>
<rect x="309.79" y="75.49" width="0.90" height="0.90" fill="#6a2070" opacity="0.7"/>
<rect x="315.64" y="88.71" width="0.90" height="0.90" fill="#4a1658" opacity="0.7"/>
<rect x="372.62" y="49.68" width="0.90" height="0.90" fill="#5a1a62" opacity="0.7"/>
<rect x="288.26" y="60.30" width="0.90" height="0.90" fill="#3a1048" opacity="0.7"/>
<rect x="361.31" y="69.60" width="0.90" height="0.90" fill="#4a1658" opacity="0.7"/>
<rect x="340.81" y="31.92" width="0.90" height="0.90" fill="#5a1a62" opacity="0.7"/>
<rect x="286.59" y="43.93" width="0.90" height="0.90" fill="#4a1658" opacity="0.7"/>
<rect x="275.46" y="10.04" width="0.90" height="0.90" fill="#6a2070" opacity="0.7"/>
<rect x="283.50" y="36.46" width="0.90" height="0.90" fill="#6a2070" opacity="0.7"/>
<rect x="359.52" y="80.84" width="0.90" height="0.90" fill="#3a1048" opacity="0.7"/>
<rect x="371.74" y="70.34" width="0.90" height="0.90" fill="#4a1658" opacity="0.7"/>
<rect x="306.12" y="26.26" width="0.90" height="0.90" fill="#6a2070" opacity="0.7"/>
<rect x="287.70" y="41.34" width="0.90" height="0.90" fill="#4a1658" opacity="0.7"/>
<rect x="336.87" y="71.88" width="0.90" height="0.90" fill="#4a1658" opacity="0.7"/>
<rect x="325.34" y="47.76" width="0.90" height="0.90" fill="#4a1658" opacity="0.7"/>
<rect x="279.45" y="35.17" width="0.90" height="0.90" fill="#5a1a62" opacity="0.7"/>
<rect x="351.87" y="76.31" width="0.90" height="0.90" fill="#6a2070" opacity="0.7"/>
<rect x="326.68" y="30.75" width="0.90" height="0.90" fill="#3a1048" opacity="0.7"/>
<rect x="329.34" y="35.17" width="0.90" height="0.90" fill="#5a1a62" opacity="0.7"/>
<rect x="356.71" y="54.15" width="0.90" height="0.90" fill="#4a1658" opacity="0.7"/>
<rect x="347.81" y="92.19" width="0.90" height="0.90" fill="#6a2070" opacity="0.7"/>
<rect x="320.46" y="14.44" width="0.90" height="0.90" fill="#6a2070" opacity="0.7"/>
<rect x="348.22" y="26.58" width="0.90" height="0.90" fill="#4a1658" opacity="0.7"/>
<rect x="373.14" y="49.10" width="0.90" height="0.90" fill="#6a2070" opacity="0.7"/>
<rect x="338.43" y="75.29" width="0.90" height="0.90" fill="#6a2070" opacity="0.7"/>
<rect x="329.78" y="40.04" width="0.90" height="0.90" fill="#3a1048" opacity="0.7"/>
<rect x="278.33" y="102.19" width="0.90" height="0.90" fill="#6a2070" opacity="0.7"/>
<rect x="355.30" y="28.78" width="0.90" height="0.90" fill="#6a2070" opacity="0.7"/>
<rect x="322.18" y="77.91" width="0.90" height="0.90" fill="#4a1658" opacity="0.7"/>
<rect x="323.72" y="42.80" width="0.90" height="0.90" fill="#6a2070" opacity="0.7"/>
<rect x="364.47" y="10.13" width="0.90" height="0.90" fill="#4a1658" opacity="0.7"/>
<rect x="364.37" y="90.85" width="0.90" height="0.90" fill="#3a1048" opacity="0.7"/>
<rect x="303.87" y="21.37" width="0.90" height="0.90" fill="#4a1658" opacity="0.7"/>
<rect x="372.23" y="24.17" width="0.90" height="0.90" fill="#4a1658" opacity="0.7"/>
<rect x="310.22" y="11.88" width="0.90" height="0.90" fill="#4a1658" opacity="0.7"/>
<rect x="308.15" y="91.14" width="0.90" height="0.90" fill="#5a1a62" opacity="0.7"/>
<rect x="317.69" y="25.07" width="0.90" height="0.90" fill="#6a2070" opacity="0.7"/>
<rect x="325.87" y="16.96" width="0.90" height="0.90" fill="#6a2070" opacity="0.7"/>
<rect x="318.92" y="45.63" width="0.90" height="0.90" fill="#6a2070" opacity="0.7"/>
<rect x="373.48" y="45.07" width="0.90" height="0.90" fill="#4a1658" opacity="0.7"/>
<rect x="312.91" y="6.91" width="0.90" height="0.90" fill="#6a2070" opacity="0.7"/>
<rect x="286.47" y="37.97" width="0.90" height="0.90" fill="#4a1658" opacity="0.7"/>
<rect x="342.85" y="68.38" width="0.90" height="0.90" fill="#4a1658" opacity="0.7"/>
<rect x="295.72" y="63.86" width="0.90" height="0.90" fill="#4a1658" opacity="0.7"/>
<rect x="304.39" y="25.86" width="0.90" height="0.90" fill="#4a1658" opacity="0.7"/>
<rect x="298.36" y="64.52" width="0.90" height="0.90" fill="#6a2070" opacity="0.7"/>
<rect x="287.19" y="63.08" width="0.90" height="0.90" fill="#5a1a62" opacity="0.7"/>
<rect x="325.95" y="18.06" width="0.90" height="0.90" fill="#4a1658" opacity="0.7"/>
<rect x="319.02" y="105.32" width="0.90" height="0.90" fill="#6a2070" opacity="0.7"/>
<rect x="276.63" y="28.67" width="0.90" height="0.90" fill="#6a2070" opacity="0.7"/>
<rect x="373.44" y="29.89" width="0.90" height="0.90" fill="#3a1048" opacity="0.7"/>
<rect x="299.38" y="64.64" width="0.90" height="0.90" fill="#3a1048" opacity="0.7"/>
<rect x="338.28" y="57.87" width="0.90" height="0.90" fill="#6a2070" opacity="0.7"/>
<rect x="301.94" y="83.57" width="0.90" height="0.90" fill="#3a1048" opacity="0.7"/>
<rect x="321.74" y="7.16" width="0.90" height="0.90" fill="#3a1048" opacity="0.7"/>
<rect x="321.16" y="65.82" width="0.90" height="0.90" fill="#4a1658" opacity="0.7"/>
<rect x="352.66" y="90.18" width="0.90" height="0.90" fill="#3a1048" opacity="0.7"/>
<rect x="291.03" y="101.61" width="0.90" height="0.90" fill="#6a2070" opacity="0.7"/>
<rect x="350.75" y="80.74" width="0.90" height="0.90" fill="#5a1a62" opacity="0.7"/>
<rect x="306.07" y="93.09" width="0.90" height="0.90" fill="#5a1a62" opacity="0.7"/>
<rect x="281.83" y="96.48" width="0.90" height="0.90" fill="#4a1658" opacity="0.7"/>
<rect x="311.88" y="49.15" width="0.90" height="0.90" fill="#3a1048" opacity="0.7"/>
<rect x="303.94" y="76.14" width="0.90" height="0.90" fill="#6a2070" opacity="0.7"/>
<rect x="372.99" y="22.76" width="0.90" height="0.90" fill="#3a1048" opacity="0.7"/>
<rect x="286.47" y="34.88" width="0.90" height="0.90" fill="#4a1658" opacity="0.7"/>
<rect x="297.08" y="44.63" width="0.90" height="0.90" fill="#6a2070" opacity="0.7"/>
<rect x="335.12" y="61.84" width="0.90" height="0.90" fill="#6a2070" opacity="0.7"/>
<rect x="303.41" y="14.26" width="0.90" height="0.90" fill="#6a2070" opacity="0.7"/>
<rect x="359.18" y="42.48" width="0.90" height="0.90" fill="#6a2070" opacity="0.7"/>
<rect x="288.81" y="73.33" width="0.90" height="0.90" fill="#5a1a62" opacity="0.7"/>
<rect x="308.86" y="47.62" width="0.90" height="0.90" fill="#6a2070" opacity="0.7"/>
<rect x="297.26" y="6.17" width="0.90" height="0.90" fill="#4a1658" opacity="0.7"/>
<rect x="341.38" y="50.52" width="0.90" height="0.90" fill="#3a1048" opacity="0.7"/>
<rect x="300.86" y="23.07" width="0.90" height="0.90" fill="#3a1048" opacity="0.7"/>
<rect x="291.51" y="97.67" width="0.90" height="0.90" fill="#5a1a62" opacity="0.7"/>
<rect x="277.97" y="27.82" width="0.90" height="0.90" fill="#6a2070" opacity="0.7"/>
<rect x="343.13" y="73.50" width="0.90" height="0.90" fill="#3a1048" opacity="0.7"/>
<rect x="329.51" y="86.05" width="0.90" height="0.90" fill="#4a1658" opacity="0.7"/>
<rect x="281.83" y="23.28" width="0.90" height="0.90" fill="#4a1658" opacity="0.7"/>
<rect x="300.89" y="70.39" width="0.90" height="0.90" fill="#4a1658" opacity="0.7"/>
<rect x="345.10" y="83.00" width="0.90" height="0.90" fill="#6a2070" opacity="0.7"/>
<rect x="304.05" y="59.33" width="0.90" height="0.90" fill="#3a1048" opacity="0.7"/>
<rect x="348.15" y="16.95" width="0.90" height="0.90" fill="#6a2070" opacity="0.7"/>
<rect x="305.87" y="73.80" width="0.90" height="0.90" fill="#4a1658" opacity="0.7"/>
<rect x="342.09" y="80.25" width="0.90" height="0.90" fill="#6a2070" opacity="0.7"/>
<rect x="331.60" y="81.26" width="0.90" height="0.90" fill="#6a2070" opacity="0.7"/>
<rect x="324.31" y="60.89" width="0.90" height="0.90" fill="#4a1658" opacity="0.7"/>
<rect x="357.07" y="71.21" width="0.90" height="0.90" fill="#5a1a62" opacity="0.7"/>
<rect x="283.15" y="68.39" width="0.90" height="0.90" fill="#4a1658" opacity="0.7"/>
<rect x="301.78" y="90.55" width="0.90" height="0.90" fill="#4a1658" opacity="0.7"/>
<rect x="365.40" y="100.94" width="0.90" height="0.90" fill="#5a1a62" opacity="0.7"/>
<rect x="276.67" y="95.00" width="0.90" height="0.90" fill="#3a1048" opacity="0.7"/>
<rect x="283.77" y="88.57" width="0.90" height="0.90" fill="#3a1048" opacity="0.7"/>
<rect x="328.21" y="92.22" width="0.90" height="0.90" fill="#4a1658" opacity="0.7"/>
<rect x="306.41" y="69.36" width="0.90" height="0.90" fill="#5a1a62" opacity="0.7"/>
<rect x="288.23" y="43.15" width="0.90" height="0.90" fill="#5a1a62" opacity="0.7"/>
<rect x="277.34" y="77.90" width="0.90" height="0.90" fill="#5a1a62" opacity="0.7"/>
<rect x="291.02" y="35.12" width="0.90" height="0.90" fill="#6a2070" opacity="0.7"/>
<rect x="305.08" y="79.40" width="0.90" height="0.90" fill="#5a1a62" opacity="0.7"/>
<rect x="361.85" y="104.98" width="0.90" height="0.90" fill="#3a1048" opacity="0.7"/>
<rect x="335.21" y="103.07" width="0.90" height="0.90" fill="#5a1a62" opacity="0.7"/>
<rect x="355.93" y="79.16" width="0.90" height="0.90" fill="#4a1658" opacity="0.7"/>
<rect x="305.80" y="100.89" width="0.90" height="0.90" fill="#3a1048" opacity="0.7"/>
<rect x="336.15" y="92.17" width="0.90" height="0.90" fill="#4a1658" opacity="0.7"/>
<rect x="313.17" y="60.19" width="0.90" height="0.90" fill="#3a1048" opacity="0.7"/>
<rect x="353.47" y="51.48" width="0.90" height="0.90" fill="#4a1658" opacity="0.7"/>
<rect x="368.76" y="27.89" width="0.90" height="0.90" fill="#6a2070" opacity="0.7"/>
<rect x="349.36" y="89.09" width="0.90" height="0.90" fill="#4a1658" opacity="0.7"/>
<rect x="288.38" y="36.42" width="0.90" height="0.90" fill="#5a1a62" opacity="0.7"/>
<rect x="297.44" y="27.57" width="0.90" height="0.90" fill="#6a2070" opacity="0.7"/>
<rect x="321.11" y="40.66" width="0.90" height="0.90" fill="#3a1048" opacity="0.7"/>
<rect x="277.75" y="81.31" width="0.90" height="0.90" fill="#6a2070" opacity="0.7"/>
<rect x="315.10" y="21.83" width="0.90" height="0.90" fill="#3a1048" opacity="0.7"/>
<rect x="348.10" y="71.73" width="0.90" height="0.90" fill="#3a1048" opacity="0.7"/>
<rect x="290.68" y="82.39" width="0.90" height="0.90" fill="#3a1048" opacity="0.7"/>
<rect x="366.68" y="53.08" width="0.90" height="0.90" fill="#4a1658" opacity="0.7"/>
<rect x="353.56" y="25.63" width="0.90" height="0.90" fill="#4a1658" opacity="0.7"/>
<rect x="310.32" y="87.21" width="0.90" height="0.90" fill="#5a1a62" opacity="0.7"/>
<rect x="301.39" y="40.73" width="0.90" height="0.90" fill="#5a1a62" opacity="0.7"/>
<rect x="323.20" y="43.56" width="0.90" height="0.90" fill="#4a1658" opacity="0.7"/>
<rect x="306.58" y="86.71" width="0.90" height="0.90" fill="#6a2070" opacity="0.7"/>
<rect x="300.42" y="89.04" width="0.90" height="0.90" fill="#4a1658" opacity="0.7"/>
<rect x="344.96" y="22.83" width="0.90" height="0.90" fill="#5a1a62" opacity="0.7"/>
<rect x="353.50" y="73.75" width="0.90" height="0.90" fill="#3a1048" opacity="0.7"/>
<rect x="318.64" y="73.27" width="0.90" height="0.90" fill="#3a1048" opacity="0.7"/>
<rect x="293.95" y="15.89" width="0.90" height="0.90" fill="#3a1048" opacity="0.7"/>
<rect x="292.28" y="95.67" width="0.90" height="0.90" fill="#6a2070" opacity="0.7"/>
<rect x="297.15" y="92.63" width="0.90" height="0.90" fill="#3a1048" opacity="0.7"/>
<rect x="302.78" y="15.80" width="0.90" height="0.90" fill="#4a1658" opacity="0.7"/>
<rect x="291.18" y="64.56" width="0.90" height="0.90" fill="#4a1658" opacity="0.7"/>
<rect x="318.94" y="56.27" width="0.90" height="0.90" fill="#5a1a62" opacity="0.7"/>
<rect x="276.77" y="98.98" width="0.90" height="0.90" fill="#4a1658" opacity="0.7"/>
<rect x="319.40" y="94.93" width="0.90" height="0.90" fill="#5a1a62" opacity="0.7"/>
<rect x="328.73" y="27.61" width="0.90" height="0.90" fill="#6a2070" opacity="0.7"/>
<rect x="337.95" y="65.37" width="0.90" height="0.90" fill="#4a1658" opacity="0.7"/>
<rect x="339.73" y="43.04" width="0.90" height="0.90" fill="#3a1048" opacity="0.7"/>
<rect x="355.55" y="104.09" width="0.90" height="0.90" fill="#4a1658" opacity="0.7"/>
<rect x="344.02" y="21.17" width="0.90" height="0.90" fill="#5a1a62" opacity="0.7"/>
<rect x="281.07" y="63.17" width="0.90" height="0.90" fill="#5a1a62" opacity="0.7"/>
<rect x="294.78" y="26.42" width="0.90" height="0.90" fill="#6a2070" opacity="0.7"/>
<rect x="300.29" y="14.45" width="0.90" height="0.90" fill="#3a1048" opacity="0.7"/>
<rect x="293.28" y="5.82" width="0.90" height="0.90" fill="#3a1048" opacity="0.7"/>
<rect x="297.35" y="30.11" width="0.90" height="0.90" fill="#3a1048" opacity="0.7"/>
<rect x="286.47" y="28.19" width="0.90" height="0.90" fill="#5a1a62" opacity="0.7"/>
<rect x="286.51" y="80.92" width="0.90" height="0.90" fill="#3a1048" opacity="0.7"/>
<rect x="344.61" y="83.99" width="0.90" height="0.90" fill="#4a1658" opacity="0.7"/>
<rect x="295.94" y="9.47" width="0.90" height="0.90" fill="#3a1048" opacity="0.7"/>
<rect x="316.15" y="99.09" width="0.90" height="0.90" fill="#3a1048" opacity="0.7"/>
<rect x="297.41" y="47.68" width="0.90" height="0.90" fill="#3a1048" opacity="0.7"/>
<rect x="342.58" y="64.40" width="0.90" height="0.90" fill="#3a1048" opacity="0.7"/>
<rect x="302.47" y="88.76" width="0.90" height="0.90" fill="#3a1048" opacity="0.7"/>
<rect x="296.15" y="10.72" width="0.90" height="0.90" fill="#4a1658" opacity="0.7"/>
<rect x="321.10" y="63.40" width="0.90" height="0.90" fill="#4a1658" opacity="0.7"/>
<rect x="374.33" y="56.76" width="0.90" height="0.90" fill="#5a1a62" opacity="0.7"/>
<rect x="283.06" y="42.77" width="0.90" height="0.90" fill="#3a1048" opacity="0.7"/>
<rect x="372.63" y="7.13" width="0.90" height="0.90" fill="#3a1048" opacity="0.7"/>
<rect x="338.11" y="90.28" width="0.90" height="0.90" fill="#3a1048" opacity="0.7"/>
<rect x="356.64" y="93.45" width="0.90" height="0.90" fill="#3a1048" opacity="0.7"/>
<rect x="346.16" y="78.78" width="0.90" height="0.90" fill="#4a1658" opacity="0.7"/>
<rect x="289.33" y="45.19" width="0.90" height="0.90" fill="#5a1a62" opacity="0.7"/>
<rect x="340.68" y="7.99" width="0.90" height="0.90" fill="#3a1048" opacity="0.7"/>
<rect x="346.90" y="57.89" width="0.90" height="0.90" fill="#4a1658" opacity="0.7"/>
<rect x="308.67" y="18.64" width="0.90" height="0.90" fill="#5a1a62" opacity="0.7"/>
<rect x="303.71" y="85.02" width="0.90" height="0.90" fill="#6a2070" opacity="0.7"/>
<rect x="354.41" y="74.78" width="0.90" height="0.90" fill="#4a1658" opacity="0.7"/>
<rect x="286.62" y="79.06" width="0.90" height="0.90" fill="#5a1a62" opacity="0.7"/>
<rect x="374.36" y="35.76" width="0.90" height="0.90" fill="#6a2070" opacity="0.7"/>
<rect x="345.37" y="67.54" width="0.90" height="0.90" fill="#3a1048" opacity="0.7"/>
<rect x="364.35" y="17.60" width="0.90" height="0.90" fill="#3a1048" opacity="0.7"/>
<rect x="305.02" y="102.72" width="0.90" height="0.90" fill="#3a1048" opacity="0.7"/>
<rect x="285.74" y="98.54" width="0.90" height="0.90" fill="#3a1048" opacity="0.7"/>
<rect x="371.69" y="38.04" width="0.90" height="0.90" fill="#3a1048" opacity="0.7"/>
<rect x="314.30" y="81.48" width="0.90" height="0.90" fill="#6a2070" opacity="0.7"/>
<rect x="358.26" y="64.55" width="0.90" height="0.90" fill="#3a1048" opacity="0.7"/>
<rect x="301.28" y="98.42" width="0.90" height="0.90" fill="#4a1658" opacity="0.7"/>
<rect x="319.02" y="82.23" width="0.90" height="0.90" fill="#6a2070" opacity="0.7"/>
<rect x="311.13" y="66.25" width="0.90" height="0.90" fill="#4a1658" opacity="0.7"/>
<rect x="317.51" y="99.84" width="0.90" height="0.90" fill="#4a1658" opacity="0.7"/>
<rect x="287.34" y="7.47" width="0.90" height="0.90" fill="#5a1a62" opacity="0.7"/>
<rect x="278.48" y="50.32" width="0.90" height="0.90" fill="#6a2070" opacity="0.7"/>
<rect x="365.92" y="49.87" width="0.90" height="0.90" fill="#5a1a62" opacity="0.7"/>
<rect x="285.30" y="85.98" width="0.90" height="0.90" fill="#3a1048" opacity="0.7"/>
<rect x="305.16" y="77.53" width="0.90" height="0.90" fill="#5a1a62" opacity="0.7"/>
<rect x="355.92" y="42.28" width="0.90" height="0.90" fill="#3a1048" opacity="0.7"/>
<rect x="283.95" y="8.51" width="0.90" height="0.90" fill="#4a1658" opacity="0.7"/>
<rect x="338.74" y="87.47" width="0.90" height="0.90" fill="#4a1658" opacity="0.7"/>
<rect x="335.36" y="12.86" width="0.90" height="0.90" fill="#6a2070" opacity="0.7"/>
<rect x="356.97" y="47.57" width="0.90" height="0.90" fill="#6a2070" opacity="0.7"/>
<rect x="333.52" y="37.14" width="0.90" height="0.90" fill="#5a1a62" opacity="0.7"/>
<rect x="331.26" y="103.64" width="0.90" height="0.90" fill="#3a1048" opacity="0.7"/>
<rect x="305.54" y="11.65" width="0.90" height="0.90" fill="#5a1a62" opacity="0.7"/>
<rect x="285.11" y="12.21" width="0.90" height="0.90" fill="#4a1658" opacity="0.7"/>
<rect x="333.68" y="78.05" width="0.90" height="0.90" fill="#6a2070" opacity="0.7"/>
<rect x="342.66" y="34.80" width="0.90" height="0.90" fill="#3a1048" opacity="0.7"/>
<rect x="277.23" y="51.53" width="0.90" height="0.90" fill="#6a2070" opacity="0.7"/>
<rect x="304.92" y="33.34" width="0.90" height="0.90" fill="#5a1a62" opacity="0.7"/>
<rect x="284.48" y="57.54" width="0.90" height="0.90" fill="#6a2070" opacity="0.7"/>
<rect x="297.92" y="17.32" width="0.90" height="0.90" fill="#6a2070" opacity="0.7"/>
<rect x="346.83" y="43.26" width="0.90" height="0.90" fill="#3a1048" opacity="0.7"/>
<rect x="366.20" y="57.21" width="0.90" height="0.90" fill="#4a1658" opacity="0.7"/>
<rect x="373.82" y="100.32" width="0.90" height="0.90" fill="#6a2070" opacity="0.7"/>
<rect x="369.43" y="91.61" width="0.90" height="0.90" fill="#4a1658" opacity="0.7"/>
<rect x="288.55" y="60.67" width="0.90" height="0.90" fill="#4a1658" opacity="0.7"/>
<rect x="355.83" y="61.71" width="0.90" height="0.90" fill="#5a1a62" opacity="0.7"/>
<rect x="300.76" y="76.29" width="0.90" height="0.90" fill="#6a2070" opacity="0.7"/>
<rect x="300.93" y="67.54" width="0.90" height="0.90" fill="#4a1658" opacity="0.7"/>
<rect x="314.90" y="23.23" width="0.90" height="0.90" fill="#5a1a62" opacity="0.7"/>
<rect x="305.05" y="86.07" width="0.90" height="0.90" fill="#4a1658" opacity="0.7"/>
<rect x="322.52" y="70.88" width="0.90" height="0.90" fill="#3a1048" opacity="0.7"/>
<rect x="279.40" y="24.95" width="0.90" height="0.90" fill="#3a1048" opacity="0.7"/>
<rect x="314.09" y="48.37" width="0.90" height="0.90" fill="#6a2070" opacity="0.7"/>
<rect x="341.56" y="62.09" width="0.90" height="0.90" fill="#6a2070" opacity="0.7"/>
<rect x="315.21" y="62.87" width="0.90" height="0.90" fill="#3a1048" opacity="0.7"/>
<rect x="293.84" y="100.93" width="0.90" height="0.90" fill="#6a2070" opacity="0.7"/>
<rect x="374.06" y="52.45" width="0.90" height="0.90" fill="#5a1a62" opacity="0.7"/>
<rect x="299.09" y="80.22" width="0.90" height="0.90" fill="#4a1658" opacity="0.7"/>
<rect x="358.19" y="93.91" width="0.90" height="0.90" fill="#6a2070" opacity="0.7"/>
<rect x="364.04" y="51.81" width="0.90" height="0.90" fill="#6a2070" opacity="0.7"/>
<rect x="306.25" y="42.72" width="0.90" height="0.90" fill="#4a1658" opacity="0.7"/>
<rect x="359.31" y="72.88" width="0.90" height="0.90" fill="#4a1658" opacity="0.7"/>
<rect x="283.93" y="95.19" width="0.90" height="0.90" fill="#4a1658" opacity="0.7"/>
<rect x="322.80" y="92.46" width="0.90" height="0.90" fill="#4a1658" opacity="0.7"/>
<rect x="289.41" y="61.00" width="0.90" height="0.90" fill="#6a2070" opacity="0.7"/>
<rect x="371.84" y="34.72" width="0.90" height="0.90" fill="#5a1a62" opacity="0.7"/>
<rect x="301.77" y="45.36" width="0.90" height="0.90" fill="#5a1a62" opacity="0.7"/>
<rect x="369.73" y="27.84" width="0.90" height="0.90" fill="#3a1048" opacity="0.7"/>
<rect x="276.36" y="92.12" width="0.90" height="0.90" fill="#3a1048" opacity="0.7"/>
<rect x="353.50" y="15.21" width="0.90" height="0.90" fill="#4a1658" opacity="0.7"/>
<rect x="315.30" y="29.90" width="0.90" height="0.90" fill="#5a1a62" opacity="0.7"/>
<rect x="321.16" y="47.84" width="0.90" height="0.90" fill="#5a1a62" opacity="0.7"/>
<rect x="299.64" y="34.53" width="0.90" height="0.90" fill="#5a1a62" opacity="0.7"/>
<rect x="312.21" y="104.94" width="0.90" height="0.90" fill="#5a1a62" opacity="0.7"/>
<rect x="351.33" y="65.01" width="0.90" height="0.90" fill="#3a1048" opacity="0.7"/>
<rect x="329.91" y="87.25" width="0.90" height="0.90" fill="#4a1658" opacity="0.7"/>
<rect x="364.34" y="52.18" width="0.90" height="0.90" fill="#6a2070" opacity="0.7"/>
<rect x="314.90" y="24.97" width="0.90" height="0.90" fill="#6a2070" opacity="0.7"/>
<rect x="334.84" y="98.18" width="0.90" height="0.90" fill="#6a2070" opacity="0.7"/>
<rect x="331.61" y="38.48" width="0.90" height="0.90" fill="#6a2070" opacity="0.7"/>
<rect x="325.63" y="9.62" width="0.90" height="0.90" fill="#6a2070" opacity="0.7"/>
<rect x="345.53" y="99.12" width="0.90" height="0.90" fill="#6a2070" opacity="0.7"/>
<rect x="341.15" y="99.72" width="0.90" height="0.90" fill="#3a1048" opacity="0.7"/>
<rect x="319.91" y="52.60" width="0.90" height="0.90" fill="#6a2070" opacity="0.7"/>
<rect x="366.82" y="74.80" width="0.90" height="0.90" fill="#4a1658" opacity="0.7"/>
<rect x="355.75" y="30.67" width="0.90" height="0.90" fill="#4a1658" opacity="0.7"/>
<rect x="295.99" y="26.75" width="0.90" height="0.90" fill="#6a2070" opacity="0.7"/>
<rect x="293.85" y="39.20" width="0.90" height="0.90" fill="#3a1048" opacity="0.7"/>
<rect x="323.16" y="10.46" width="0.90" height="0.90" fill="#4a1658" opacity="0.7"/>
<rect x="356.21" y="11.60" width="0.90" height="0.90" fill="#3a1048" opacity="0.7"/>
<rect x="282.68" y="51.15" width="0.90" height="0.90" fill="#5a1a62" opacity="0.7"/>
<rect x="363.21" y="80.27" width="0.90" height="0.90" fill="#5a1a62" opacity="0.7"/>
<rect x="316.34" y="90.95" width="0.90" height="0.90" fill="#5a1a62" opacity="0.7"/>
<rect x="333.55" y="29.63" width="0.90" height="0.90" fill="#6a2070" opacity="0.7"/>
<rect x="337.95" y="47.46" width="0.90" height="0.90" fill="#5a1a62" opacity="0.7"/>
<rect x="339.47" y="56.44" width="0.90" height="0.90" fill="#6a2070" opacity="0.7"/>
<rect x="278.82" y="84.75" width="0.90" height="0.90" fill="#3a1048" opacity="0.7"/>
<rect x="295.30" y="39.43" width="0.90" height="0.90" fill="#5a1a62" opacity="0.7"/>
<rect x="277.78" y="90.20" width="0.90" height="0.90" fill="#3a1048" opacity="0.7"/>
<rect x="360.71" y="54.89" width="0.90" height="0.90" fill="#3a1048" opacity="0.7"/>
<rect x="371.42" y="89.66" width="0.90" height="0.90" fill="#3a1048" opacity="0.7"/>
<rect x="332.97" y="7.06" width="0.90" height="0.90" fill="#3a1048" opacity="0.7"/>
<rect x="337.72" y="46.82" width="0.90" height="0.90" fill="#5a1a62" opacity="0.7"/>
<rect x="324.92" y="58.60" width="0.90" height="0.90" fill="#5a1a62" opacity="0.7"/>
<rect x="324.15" y="46.32" width="0.90" height="0.90" fill="#5a1a62" opacity="0.7"/>
<rect x="324.75" y="49.11" width="0.90" height="0.90" fill="#5a1a62" opacity="0.7"/>
<rect x="286.64" y="65.83" width="0.90" height="0.90" fill="#6a2070" opacity="0.7"/>
<rect x="279.66" y="93.82" width="0.90" height="0.90" fill="#6a2070" opacity="0.7"/>
<rect x="341.74" y="6.08" width="0.90" height="0.90" fill="#3a1048" opacity="0.7"/>
<rect x="364.34" y="30.60" width="0.90" height="0.90" fill="#3a1048" opacity="0.7"/>
<rect x="312.88" y="35.46" width="0.90" height="0.90" fill="#5a1a62" opacity="0.7"/>
<rect x="308.18" y="60.21" width="0.90" height="0.90" fill="#3a1048" opacity="0.7"/>
<rect x="366.18" y="62.52" width="0.90" height="0.90" fill="#5a1a62" opacity="0.7"/>
<rect x="318.02" y="94.25" width="0.90" height="0.90" fill="#4a1658" opacity="0.7"/>
<rect x="337.24" y="53.70" width="0.90" height="0.90" fill="#5a1a62" opacity="0.7"/>
<rect x="345.38" y="100.68" width="0.90" height="0.90" fill="#5a1a62" opacity="0.7"/>
<rect x="289.84" y="76.91" width="0.90" height="0.90" fill="#5a1a62" opacity="0.7"/>
<rect x="351.39" y="30.28" width="0.90" height="0.90" fill="#4a1658" opacity="0.7"/>
<rect x="354.89" y="29.66" width="0.90" height="0.90" fill="#3a1048" opacity="0.7"/>
<rect x="358.57" y="80.51" width="0.90" height="0.90" fill="#6a2070" opacity="0.7"/>
<rect x="336.37" y="20.01" width="0.90" height="0.90" fill="#5a1a62" opacity="0.7"/>
<rect x="299.75" y="57.51" width="0.90" height="0.90" fill="#3a1048" opacity="0.7"/>
<rect x="369.99" y="21.19" width="0.90" height="0.90" fill="#3a1048" opacity="0.7"/>
<rect x="292.55" y="61.76" width="0.90" height="0.90" fill="#6a2070" opacity="0.7"/>
<rect x="368.37" y="7.67" width="0.90" height="0.90" fill="#6a2070" opacity="0.7"/>
<rect x="354.47" y="11.05" width="0.90" height="0.90" fill="#5a1a62" opacity="0.7"/>
<rect x="291.37" y="90.05" width="0.90" height="0.90" fill="#3a1048" opacity="0.7"/>
<rect x="358.39" y="74.09" width="0.90" height="0.90" fill="#5a1a62" opacity="0.7"/>
<rect x="307.64" y="12.92" width="0.90" height="0.90" fill="#3a1048" opacity="0.7"/>
<rect x="288.44" y="36.22" width="0.90" height="0.90" fill="#5a1a62" opacity="0.7"/>
<rect x="332.97" y="18.00" width="0.90" height="0.90" fill="#3a1048" opacity="0.7"/>
<rect x="325.68" y="20.15" width="0.90" height="0.90" fill="#5a1a62" opacity="0.7"/>
<rect x="296.71" y="99.95" width="0.90" height="0.90" fill="#6a2070" opacity="0.7"/>
<rect x="297.94" y="5.90" width="0.90" height="0.90" fill="#6a2070" opacity="0.7"/>
<rect x="284.83" y="82.60" width="0.90" height="0.90" fill="#3a1048" opacity="0.7"/>
<rect x="338.28" y="89.22" width="0.90" height="0.90" fill="#6a2070" opacity="0.7"/>
<rect x="372.59" y="18.77" width="0.90" height="0.90" fill="#4a1658" opacity="0.7"/>
<rect x="306.36" y="74.29" width="0.90" height="0.90" fill="#4a1658" opacity="0.7"/>
<rect x="359.73" y="62.60" width="0.90" height="0.90" fill="#6a2070" opacity="0.7"/>
<rect x="355.44" y="66.41" width="0.90" height="0.90" fill="#4a1658" opacity="0.7"/>
<rect x="288.59" y="91.93" width="0.90" height="0.90" fill="#4a1658" opacity="0.7"/>
<rect x="299.26" y="75.66" width="0.90" height="0.90" fill="#5a1a62" opacity="0.7"/>
<rect x="295.21" y="36.49" width="0.90" height="0.90" fill="#5a1a62" opacity="0.7"/>
<rect x="305.64" y="15.64" width="0.90" height="0.90" fill="#6a2070" opacity="0.7"/>
<rect x="366.83" y="73.77" width="0.90" height="0.90" fill="#4a1658" opacity="0.7"/>
<rect x="319.24" y="15.11" width="0.90" height="0.90" fill="#3a1048" opacity="0.7"/>
<rect x="362.82" y="22.02" width="0.90" height="0.90" fill="#5a1a62" opacity="0.7"/>
<rect x="368.09" y="6.47" width="0.90" height="0.90" fill="#3a1048" opacity="0.7"/>
<rect x="283.42" y="30.53" width="0.90" height="0.90" fill="#5a1a62" opacity="0.7"/>
<rect x="362.20" y="46.80" width="0.90" height="0.90" fill="#3a1048" opacity="0.7"/>
<rect x="286.74" y="45.57" width="0.90" height="0.90" fill="#4a1658" opacity="0.7"/>
<rect x="299.23" y="84.83" width="0.90" height="0.90" fill="#6a2070" opacity="0.7"/>
<rect x="353.30" y="59.08" width="0.90" height="0.90" fill="#4a1658" opacity="0.7"/>
<rect x="362.50" y="12.51" width="0.90" height="0.90" fill="#3a1048" opacity="0.7"/>
<rect x="303.23" y="79.87" width="0.90" height="0.90" fill="#4a1658" opacity="0.7"/>
<rect x="318.64" y="50.32" width="0.90" height="0.90" fill="#4a1658" opacity="0.7"/>
<ellipse cx="296" cy="26" rx="20" ry="11" fill="url(#gGreen2)" opacity="0.35"/>
<ellipse cx="307" cy="9" rx="17" ry="10" fill="url(#gGreen2)"/>
<ellipse cx="314" cy="22" rx="9" ry="15" fill="url(#gGreen2)" opacity="0.85"/>
<ellipse cx="348" cy="9" rx="12" ry="9" fill="url(#gGreen2)"/>
<ellipse cx="342" cy="26" rx="6" ry="18" fill="url(#gGreen2)" opacity="0.7"/>
<ellipse cx="342.5" cy="50" rx="3.5" ry="22" fill="url(#gGreen2)" opacity="0.45"/>
<ellipse cx="362" cy="8" rx="8" ry="5" fill="url(#gGreen2)" opacity="0.5"/>
<ellipse cx="283" cy="10" rx="10" ry="6" fill="#1a4a18" opacity="0.7"/>
<rect x="292" y="5.8" width="30" height="22" fill="url(#gTopG)" filter="url(#blur1)"/>
<rect x="338" y="5.8" width="22" height="20" fill="url(#gTopG)" filter="url(#blur1)"/>
<rect x="308" y="12" width="13" height="26" fill="url(#gTopG)" opacity="0.7" filter="url(#blur1)"/>
<rect x="338" y="12" width="8" height="34" fill="url(#gTopG)" opacity="0.6" filter="url(#blur1)"/>
<path d="M321.6,5.8 L338,5.8 L341.5,106 L324.5,106 Z" fill="#050305" stroke="none" stroke-width="1" />
<path d="M315,27 C316,24 321,23 323,25 L324.5,106 L317.5,106 C317,80 316,50 315,27 Z" fill="#0a050c" stroke="none" stroke-width="1" />
</g>
<path d="M277,20 C285,14 300,14 312,22 C316,25 318,28 318,30 C322,28 326,25 333,20 C345,13 362,12 367,18 C370,25 367,40 360,52 C352,64 340,74 325,78 L323,78 C305,74 290,62 282,48 C278,40 275,30 277,20 Z" fill="none" stroke="#fff" stroke-width="1.0" stroke-dasharray="2.6,1.6"/>
<path d="M316,33 C315,50 317,80 317,106" fill="none" stroke="#fff" stroke-width="0.9" stroke-dasharray="2.6,1.6"/>
<path d="M325,28 C324,50 322,80 323,106" fill="none" stroke="#fff" stroke-width="0.9" stroke-dasharray="2.6,1.6"/>
<text transform="translate(275.70,13.50) scale(1.0468,1)" x="-0.58" y="0" font-size="8.60" font-weight="bold" fill="#2e9c3a" >EGFP</text>
<text transform="translate(337.70,32.00) scale(1.0146,1)" x="-0.54" y="0" font-size="8.00" font-weight="bold" fill="#fff" >PVN</text>
<text transform="translate(315.30,39.60) scale(1.1241,1)" x="-0.19" y="0" font-size="8.20" font-weight="bold" fill="#fff" >3V</text>
<text transform="translate(275.70,104.50) scale(0.8379,1)" x="-0.50" y="0" font-size="7.40" font-weight="bold" fill="#fff" >Projection site</text>
<text transform="translate(353.00,101.80) scale(1.0624,1)" x="-0.21" y="0" font-size="3.40" font-weight="bold" fill="#fff" >100 μm</text>
<line x1="355.00" y1="103.50" x2="363.00" y2="103.50" stroke="#fff" stroke-width="0.6" />
<text transform="translate(312.00,5.00) scale(0.9682,1)" x="-0.37" y="0" font-size="5.60" font-weight="bold" fill="#111" >Electrode location</text>
<g clip-path="url(#cc1)">
<rect x="376.80" y="5.70" width="101.10" height="100.60" fill="#e46a6a" />
<ellipse cx="438.8" cy="8.7" rx="46" ry="9" fill="#c82c3a" opacity="0.9" filter="url(#blur3)" transform="rotate(0 438.8 8.7)"/>
<ellipse cx="426.8" cy="19.7" rx="10" ry="10" fill="#d03a46" opacity="0.6" filter="url(#blur3)" transform="rotate(0 426.8 19.7)"/>
<ellipse cx="384.8" cy="11.7" rx="14" ry="8" fill="#dc5a5a" opacity="0.6" filter="url(#blur3)" transform="rotate(0 384.8 11.7)"/>
<ellipse cx="410.8" cy="63.7" rx="38" ry="33" fill="#f2a6a4" opacity="0.95" filter="url(#blur3)" transform="rotate(0 410.8 63.7)"/>
<ellipse cx="416.8" cy="69.7" rx="22" ry="16" fill="#f6bab6" opacity="0.9" filter="url(#blur3)" transform="rotate(-20 416.8 69.7)"/>
<ellipse cx="394.8" cy="43.7" rx="14" ry="10" fill="#f2a8a4" opacity="0.7" filter="url(#blur3)" transform="rotate(0 394.8 43.7)"/>
<polygon points="450.8,25.7 477.8,22.7 477.8,61.7 462.8,66.7 449.8,55.7 447.8,35.7" fill="#eea090" opacity="0.9" filter="url(#blur2)"/>
<ellipse cx="465.8" cy="85.7" rx="13" ry="16" fill="#c44c5c" opacity="0.85" filter="url(#blur3)" transform="rotate(0 465.8 85.7)"/>
<ellipse cx="472.8" cy="103.7" rx="12" ry="6" fill="#c84c5c" opacity="0.7" filter="url(#blur3)" transform="rotate(0 472.8 103.7)"/>
<ellipse cx="424.8" cy="102.7" rx="42" ry="6" fill="#e88282" opacity="0.8" filter="url(#blur3)" transform="rotate(0 424.8 102.7)"/>
<ellipse cx="438.8" cy="45.7" rx="5" ry="22" fill="#d85058" opacity="0.5" filter="url(#blur3)" transform="rotate(15 438.8 45.7)"/>
<ellipse cx="464.8" cy="13.7" rx="10" ry="5" fill="#ec9090" opacity="0.8" filter="url(#blur3)" transform="rotate(0 464.8 13.7)"/>
<ellipse cx="389.8" cy="39.2" rx="2.5" ry="1" fill="#fff" opacity="0.9"/>
<ellipse cx="400.8" cy="41.7" rx="3" ry="1.3" fill="#fff" opacity="0.9"/>
<ellipse cx="414.8" cy="23.2" rx="1.2" ry="1" fill="#fff" opacity="0.9"/>
<ellipse cx="418.8" cy="30.7" rx="1" ry="2" fill="#fff" opacity="0.9"/>
<ellipse cx="434.3" cy="58.7" rx="1.8" ry="2" fill="#fff" opacity="0.9"/>
<ellipse cx="437.8" cy="82.7" rx="1.3" ry="1.3" fill="#fff" opacity="0.9"/>
<ellipse cx="443.8" cy="83.7" rx="1.2" ry="1.2" fill="#fff" opacity="0.9"/>
<ellipse cx="409.8" cy="68.7" rx="1" ry="2.5" fill="#fff" opacity="0.9"/>
<ellipse cx="396.8" cy="41.7" rx="1.5" ry="0.8" fill="#fff" opacity="0.9"/>
<rect x="437.10" y="30.06" width="2.34" height="1.54" fill="#fff" opacity="0.9"/>
<rect x="426.84" y="69.43" width="1.14" height="0.98" fill="#fff" opacity="0.9"/>
<rect x="410.77" y="71.86" width="1.14" height="1.58" fill="#fff" opacity="0.9"/>
<rect x="391.13" y="29.94" width="0.94" height="1.42" fill="#fff" opacity="0.9"/>
<rect x="417.79" y="53.32" width="1.32" height="1.31" fill="#fff" opacity="0.9"/>
<rect x="421.15" y="31.19" width="1.49" height="1.04" fill="#fff" opacity="0.9"/>
</g>
<g clip-path="url(#cc2)">
<rect x="479.80" y="5.70" width="101.10" height="100.60" fill="#e46a6a" />
<ellipse cx="541.8" cy="8.7" rx="46" ry="9" fill="#c82c3a" opacity="0.9" filter="url(#blur3)" transform="rotate(0 541.8 8.7)"/>
<ellipse cx="529.8" cy="19.7" rx="10" ry="10" fill="#d03a46" opacity="0.6" filter="url(#blur3)" transform="rotate(0 529.8 19.7)"/>
<ellipse cx="487.8" cy="11.7" rx="14" ry="8" fill="#dc5a5a" opacity="0.6" filter="url(#blur3)" transform="rotate(0 487.8 11.7)"/>
<ellipse cx="513.8" cy="63.7" rx="38" ry="33" fill="#f2a6a4" opacity="0.95" filter="url(#blur3)" transform="rotate(0 513.8 63.7)"/>
<ellipse cx="519.8" cy="69.7" rx="22" ry="16" fill="#f6bab6" opacity="0.9" filter="url(#blur3)" transform="rotate(-20 519.8 69.7)"/>
<ellipse cx="497.8" cy="43.7" rx="14" ry="10" fill="#f2a8a4" opacity="0.7" filter="url(#blur3)" transform="rotate(0 497.8 43.7)"/>
<polygon points="553.8,25.7 580.8,22.7 580.8,61.7 565.8,66.7 552.8,55.7 550.8,35.7" fill="#eea090" opacity="0.9" filter="url(#blur2)"/>
<ellipse cx="568.8" cy="85.7" rx="13" ry="16" fill="#c44c5c" opacity="0.85" filter="url(#blur3)" transform="rotate(0 568.8 85.7)"/>
<ellipse cx="575.8" cy="103.7" rx="12" ry="6" fill="#c84c5c" opacity="0.7" filter="url(#blur3)" transform="rotate(0 575.8 103.7)"/>
<ellipse cx="527.8" cy="102.7" rx="42" ry="6" fill="#e88282" opacity="0.8" filter="url(#blur3)" transform="rotate(0 527.8 102.7)"/>
<ellipse cx="541.8" cy="45.7" rx="5" ry="22" fill="#d85058" opacity="0.5" filter="url(#blur3)" transform="rotate(15 541.8 45.7)"/>
<ellipse cx="567.8" cy="13.7" rx="10" ry="5" fill="#ec9090" opacity="0.8" filter="url(#blur3)" transform="rotate(0 567.8 13.7)"/>
<ellipse cx="492.8" cy="39.2" rx="2.5" ry="1" fill="#fff" opacity="0.9"/>
<ellipse cx="503.8" cy="41.7" rx="3" ry="1.3" fill="#fff" opacity="0.9"/>
<ellipse cx="517.8" cy="23.2" rx="1.2" ry="1" fill="#fff" opacity="0.9"/>
<ellipse cx="521.8" cy="30.7" rx="1" ry="2" fill="#fff" opacity="0.9"/>
<ellipse cx="537.3" cy="58.7" rx="1.8" ry="2" fill="#fff" opacity="0.9"/>
<ellipse cx="540.8" cy="82.7" rx="1.3" ry="1.3" fill="#fff" opacity="0.9"/>
<ellipse cx="546.8" cy="83.7" rx="1.2" ry="1.2" fill="#fff" opacity="0.9"/>
<ellipse cx="512.8" cy="68.7" rx="1" ry="2.5" fill="#fff" opacity="0.9"/>
<ellipse cx="499.8" cy="41.7" rx="1.5" ry="0.8" fill="#fff" opacity="0.9"/>
<rect x="540.10" y="30.06" width="2.34" height="1.54" fill="#fff" opacity="0.9"/>
<rect x="529.84" y="69.43" width="1.14" height="0.98" fill="#fff" opacity="0.9"/>
<rect x="513.77" y="71.86" width="1.14" height="1.58" fill="#fff" opacity="0.9"/>
<rect x="494.13" y="29.94" width="0.94" height="1.42" fill="#fff" opacity="0.9"/>
<rect x="520.79" y="53.32" width="1.32" height="1.31" fill="#fff" opacity="0.9"/>
<rect x="524.15" y="31.19" width="1.49" height="1.04" fill="#fff" opacity="0.9"/>
</g>
<g clip-path="url(#cc3)">
<rect x="582.60" y="5.70" width="101.10" height="100.60" fill="#e87474" />
<ellipse cx="637.6" cy="10.7" rx="30" ry="8" fill="#c82a38" opacity="0.85" filter="url(#blur3)" transform="rotate(0 637.6 10.7)"/>
<ellipse cx="664.6" cy="15.7" rx="18" ry="10" fill="#d63848" opacity="0.8" filter="url(#blur3)" transform="rotate(0 664.6 15.7)"/>
<ellipse cx="614.6" cy="53.7" rx="34" ry="32" fill="#f4b0ae" opacity="0.95" filter="url(#blur3)" transform="rotate(0 614.6 53.7)"/>
<ellipse cx="637.6" cy="70.7" rx="20" ry="18" fill="#f0a4a2" opacity="0.8" filter="url(#blur3)" transform="rotate(0 637.6 70.7)"/>
<polygon points="654.6,23.7 683.6,21.7 683.6,63.7 668.6,67.7 654.6,55.7" fill="#f0a498" opacity="0.8" filter="url(#blur2)"/>
<ellipse cx="672.6" cy="87.7" rx="12" ry="16" fill="#d65a68" opacity="0.8" filter="url(#blur3)" transform="rotate(0 672.6 87.7)"/>
<ellipse cx="622.6" cy="100.7" rx="40" ry="6" fill="#e68484" opacity="0.8" filter="url(#blur3)" transform="rotate(0 622.6 100.7)"/>
<ellipse cx="657.6" cy="45.7" rx="5" ry="20" fill="#dc6068" opacity="0.5" filter="url(#blur3)" transform="rotate(20 657.6 45.7)"/>
<ellipse cx="592.6" cy="13.7" rx="14" ry="8" fill="#e48080" opacity="0.7" filter="url(#blur3)" transform="rotate(0 592.6 13.7)"/>
<ellipse cx="602.6" cy="43.2" rx="4" ry="1.3" fill="#fff" opacity="0.9"/>
<ellipse cx="616.6" cy="73.7" rx="2.5" ry="2.5" fill="#fff" opacity="0.9"/>
<ellipse cx="637.6" cy="68.7" rx="4" ry="1.5" fill="#fff" opacity="0.9"/>
<ellipse cx="638.0" cy="38.7" rx="1.2" ry="1.2" fill="#fff" opacity="0.9"/>
<ellipse cx="659.0" cy="39.5" rx="1.5" ry="1" fill="#fff" opacity="0.9"/>
<ellipse cx="678.4" cy="37.0" rx="1.8" ry="1" fill="#fff" opacity="0.9"/>
<rect x="594.70" y="30.79" width="1.93" height="0.91" fill="#fff" opacity="0.9"/>
<rect x="668.00" y="36.10" width="0.82" height="1.15" fill="#fff" opacity="0.9"/>
<rect x="605.65" y="15.06" width="1.25" height="1.17" fill="#fff" opacity="0.9"/>
<rect x="607.96" y="85.34" width="1.28" height="1.36" fill="#fff" opacity="0.9"/>
<rect x="622.19" y="22.18" width="1.50" height="1.35" fill="#fff" opacity="0.9"/>
<rect x="634.43" y="67.64" width="0.99" height="0.91" fill="#fff" opacity="0.9"/>
</g>
<path d="M405.2,78.0 L410.5,79.75 L405.2,81.5 Z" fill="#111" stroke="none" stroke-width="1" />
<path d="M424.7,74.0 L430.4,75.85 L424.7,77.7 Z" fill="#111" stroke="none" stroke-width="1" />
<path d="M445,71.2 L449.0,67.8 L451,71.2 Z" fill="#111" stroke="none" stroke-width="1" />
<path d="M508.2,78.0 L513.5,79.75 L508.2,81.5 Z" fill="#111" stroke="none" stroke-width="1" />
<path d="M527.7,74.0 L533.4,75.85 L527.7,77.7 Z" fill="#111" stroke="none" stroke-width="1" />
<path d="M548,71.2 L552.0,67.8 L554,71.2 Z" fill="#111" stroke="none" stroke-width="1" />
<path d="M511,75 C513,82.0 512,82.0 513,89" fill="none" stroke="#444" stroke-width="0.7" stroke-dasharray="1,0.8"/>
<path d="M525,62 C527,73.0 534,73.0 535,84" fill="none" stroke="#444" stroke-width="0.7" stroke-dasharray="1,0.8"/>
<path d="M538,63 C540,77.5 539,77.5 540,92" fill="none" stroke="#444" stroke-width="0.7" stroke-dasharray="1,0.8"/>
<path d="M542,63 C544,77.5 545,77.5 546,92" fill="none" stroke="#444" stroke-width="0.7" stroke-dasharray="1,0.8"/>
<path d="M611.8,77.3 L617.0,79.3 L611.8,81.3 Z" fill="#111" stroke="none" stroke-width="1" />
<path d="M633.0,74.0 L638.0,76.0 L633.0,78.0 Z" fill="#111" stroke="none" stroke-width="1" />
<path d="M652,70.7 L655.75,67.5 L657.5,70.7 Z" fill="#111" stroke="none" stroke-width="1" />
<text transform="translate(389.00,60.20) scale(0.8940,1)" x="-0.82" y="0" font-size="12.20" font-weight="bold" fill="#000" >IBAT</text>
<text transform="translate(492.00,60.20) scale(0.8940,1)" x="-0.82" y="0" font-size="12.20" font-weight="bold" fill="#000" >IBAT</text>
<text transform="translate(591.50,60.20) scale(0.8868,1)" x="-0.82" y="0" font-size="12.20" font-weight="bold" fill="#000" >IBAT</text>
<text transform="translate(378.00,106.00) scale(1.1069,1)" x="-0.49" y="0" font-size="7.30" font-weight="bold" fill="#1a0a0a" >Before denervation</text>
<text transform="translate(583.00,106.00) scale(1.1203,1)" x="-0.18" y="0" font-size="7.30" font-weight="bold" fill="#1a0a0a" >After denervation</text>
<rect x="7.10" y="136.00" width="93.00" height="69.50" fill="#000" />
<g clip-path="url(#cd1)">
<path d="M57,147.2 C62,147 67,148.5 69.5,151 C71,154 71,157 71.5,160 C74,165 76,172 76.5,178 C81,180 86,185 86.8,193 C87.5,200 85,206 83,210 L42,210 C41.2,200 41.5,188 42.5,178 C43.5,170 45,163 46,156 C47,151 51,147.6 57,147.2 Z" fill="#b020d8" stroke="none" stroke-width="1" filter="url(#blur05)"/>
<g filter="url(#blur05)">
<path d="M57,148.4 C62,148.3 66.5,149.6 68.5,152 C69.8,155 70,158 70.5,161 C73,166 75,172 75.5,178.5 C80,181 84.6,186 85.4,193 C86,200 84,206 82,210 L43.5,210 C42.8,200 43,188 44,178 C45,170 46.3,163 47.3,156.5 C48.3,152 52,148.8 57,148.4 Z" fill="#3a3ae0" stroke="none" stroke-width="1" />
<path d="M45,180 C48,176 70,176 75,182 C77,190 76,200 74,210 L44.5,210 C44,200 44,188 45,180 Z" fill="#40d0c0" stroke="none" stroke-width="1" />
<path d="M48,186 C53,184 66,184 71,188 C72,195 71,203 69,210 L48,210 C47.5,202 47.5,193 48,186 Z" fill="#58a838" stroke="none" stroke-width="1" />
<ellipse cx="60" cy="192" rx="11" ry="4" fill="#a8c830"/>
<ellipse cx="81" cy="193" rx="4.5" ry="10" fill="#3a3ae8"/>
<ellipse cx="79" cy="200" rx="2" ry="3" fill="#40c8d0" opacity="0.8"/>
<path d="M48,158 C51,153 66,153 69.5,158 C71,163 71,166 71,168 L47.5,168 C47,164 47,161 48,158 Z" fill="#c8c828" stroke="none" stroke-width="1" />
<path d="M46.5,170 C48,165 73,164 75.5,171 C77.5,178 77,186 73,190 C66,194 54,194 49,190 C46,186 45.5,176 46.5,170 Z" fill="#c8c828" stroke="none" stroke-width="1" />
<ellipse cx="53.3" cy="154.7" rx="5" ry="4" fill="#c81818"/>
<ellipse cx="62.2" cy="154.2" rx="3.4" ry="3.8" fill="#c81818"/>
<ellipse cx="72.8" cy="158.2" rx="3.2" ry="1.9" fill="#c020e0"/>
<path d="M47.5,171 C49,167.5 58,166.6 63,167.3 C68,166.8 74,167.5 75.5,171.5 C77,177 76,184 73,187.5 C69,190 63,190.6 57,190.2 C52,189.6 48.6,187.5 47.8,183 C47,179 46.8,174 47.5,171 Z" fill="#c81818" stroke="none" stroke-width="1" />
</g>
<line x1="49.8" y1="192.9" x2="50.8" y2="203.6" stroke="#a0c030" stroke-width="1.8" opacity="0.9"/>
<line x1="58.8" y1="195.6" x2="58.0" y2="202.3" stroke="#30b090" stroke-width="0.8" opacity="0.9"/>
<line x1="55.8" y1="191.9" x2="57.0" y2="197.5" stroke="#48a840" stroke-width="1.5" opacity="0.9"/>
<line x1="57.7" y1="196.0" x2="58.0" y2="207.9" stroke="#a0c030" stroke-width="0.8" opacity="0.9"/>
<line x1="54.5" y1="191.0" x2="53.1" y2="197.0" stroke="#40d0c0" stroke-width="1.5" opacity="0.9"/>
<line x1="47.6" y1="194.1" x2="47.7" y2="199.3" stroke="#48a840" stroke-width="1.1" opacity="0.9"/>
<line x1="59.1" y1="187.9" x2="57.8" y2="193.2" stroke="#48a840" stroke-width="1.0" opacity="0.9"/>
<line x1="64.5" y1="194.0" x2="66.0" y2="205.0" stroke="#30b090" stroke-width="0.9" opacity="0.9"/>
<line x1="61.2" y1="191.6" x2="62.5" y2="200.1" stroke="#40d0c0" stroke-width="1.7" opacity="0.9"/>
<line x1="56.9" y1="189.7" x2="56.3" y2="198.7" stroke="#a0c030" stroke-width="1.3" opacity="0.9"/>
<line x1="52.7" y1="194.3" x2="51.2" y2="200.8" stroke="#a0c030" stroke-width="0.9" opacity="0.9"/>
<line x1="62.4" y1="191.2" x2="62.6" y2="201.4" stroke="#40d0c0" stroke-width="1.4" opacity="0.9"/>
<line x1="50.2" y1="187.7" x2="49.8" y2="195.8" stroke="#40d0c0" stroke-width="1.4" opacity="0.9"/>
<line x1="53.9" y1="187.0" x2="54.7" y2="192.6" stroke="#48a840" stroke-width="1.2" opacity="0.9"/>
<line x1="64.8" y1="192.8" x2="64.5" y2="205.8" stroke="#48a840" stroke-width="1.8" opacity="0.9"/>
<line x1="72.9" y1="191.9" x2="72.9" y2="204.9" stroke="#a0c030" stroke-width="1.5" opacity="0.9"/>
<line x1="72.2" y1="188.5" x2="73.1" y2="198.5" stroke="#a0c030" stroke-width="1.6" opacity="0.9"/>
<line x1="59.0" y1="194.4" x2="59.5" y2="199.8" stroke="#40d0c0" stroke-width="0.8" opacity="0.9"/>
<line x1="52.2" y1="189.9" x2="53.7" y2="202.8" stroke="#48a840" stroke-width="1.5" opacity="0.9"/>
<line x1="58.9" y1="188.5" x2="60.1" y2="202.2" stroke="#30b090" stroke-width="1.3" opacity="0.9"/>
<line x1="72.6" y1="195.0" x2="73.8" y2="203.3" stroke="#48a840" stroke-width="1.4" opacity="0.9"/>
<line x1="57.4" y1="191.8" x2="56.3" y2="204.5" stroke="#40d0c0" stroke-width="1.4" opacity="0.9"/>
<line x1="49.0" y1="193.2" x2="50.4" y2="201.6" stroke="#48a840" stroke-width="0.8" opacity="0.9"/>
<line x1="62.2" y1="192.4" x2="62.0" y2="205.1" stroke="#30b090" stroke-width="1.5" opacity="0.9"/>
<line x1="66.8" y1="194.1" x2="65.6" y2="200.4" stroke="#48a840" stroke-width="0.9" opacity="0.9"/>
<line x1="45.7" y1="190.5" x2="46.2" y2="196.7" stroke="#c8c830" stroke-width="0.9" opacity="0.9"/>
<circle cx="79.8" cy="189.1" r="0.6" fill="#40c8d8" opacity="0.8"/>
<circle cx="77.0" cy="185.7" r="0.5" fill="#40c8d8" opacity="0.8"/>
<circle cx="78.4" cy="197.6" r="0.7" fill="#40c8d8" opacity="0.8"/>
<circle cx="75.4" cy="197.6" r="0.8" fill="#40c8d8" opacity="0.8"/>
<circle cx="82.0" cy="199.4" r="0.4" fill="#40c8d8" opacity="0.8"/>
<circle cx="79.2" cy="183.4" r="0.8" fill="#40c8d8" opacity="0.8"/>
<circle cx="76.6" cy="197.7" r="0.5" fill="#40c8d8" opacity="0.8"/>
<circle cx="81.3" cy="188.9" r="0.4" fill="#40c8d8" opacity="0.8"/>
<circle cx="78.5" cy="188.8" r="0.9" fill="#40c8d8" opacity="0.8"/>
<circle cx="77.7" cy="193.1" r="0.7" fill="#40c8d8" opacity="0.8"/>
<circle cx="83.5" cy="184.2" r="0.7" fill="#40c8d8" opacity="0.8"/>
<circle cx="79.6" cy="198.2" r="0.9" fill="#40c8d8" opacity="0.8"/>
<circle cx="77.8" cy="197.4" r="0.7" fill="#40c8d8" opacity="0.8"/>
<circle cx="80.0" cy="183.4" r="0.8" fill="#40c8d8" opacity="0.8"/>
<path d="M49,172 C51,168.8 58,168.2 62.5,168.8 C67,168.3 72.5,169 73.8,172.5 C75,177.5 74,183.5 71.3,186.3 C67.5,188.5 62.5,188.8 57.5,188.4 C53,188 50.3,186.2 49.6,182.6 C48.8,179 48.5,174.5 49,172 Z" fill="#f2f0ec" stroke="none" stroke-width="1" filter="url(#blur05)"/>
<path d="M56.2,176.8 L57.7,173.9 L59.2,176.8 Z" fill="#c01818" stroke="none" stroke-width="1" />
</g>
<rect x="92.80" y="141.90" width="5.90" height="56.50" fill="url(#cbar)" />
<text transform="translate(7.40,143.50) scale(0.9843,1)" x="-0.25" y="0" font-size="8.80" font-weight="bold" fill="#fff" >Sham</text>
<text transform="translate(87.30,141.20) scale(1.1865,1)" x="-0.17" y="0" font-size="7.40" font-weight="bold" fill="#fff" >37.</text>
<text transform="translate(87.30,205.00) scale(1.1238,1)" x="-0.26" y="0" font-size="7.40" font-weight="bold" fill="#fff" >28.</text>
<text transform="translate(42.50,169.00) scale(1.0697,1)" x="-0.18" y="0" font-size="7.80" font-weight="bold" fill="#fff" stroke="#222" stroke-width="1.0" paint-order="stroke">39.4 °C</text>
<rect x="7.10" y="208.10" width="93.00" height="69.10" fill="#000" />
<g clip-path="url(#cd2)">
<path d="M14,222 C18,220.5 26,220.5 31,222.5 C36,226 41,231 45,237 C49,243 51.8,251 51.8,259 C51.8,267 50,274 48,280 L14,280 C12,272 10.8,262 10.8,252 C10.8,243 11,234 11.6,228 C12,225 12.8,223 14,222 Z" fill="#b020d8" stroke="none" stroke-width="1" filter="url(#blur05)"/>
<g filter="url(#blur05)">
<path d="M14.5,223.3 C18,222 26,222 30.3,224 C35,227.5 40,232 44,238 C48,244 50.5,251.5 50.5,259 C50.5,267 49,274 47,280 L15,280 C13.2,272 12.2,262 12.2,252 C12.2,243 12.4,235 13,229 C13.3,226 13.8,224 14.5,223.3 Z" fill="#3434d8" stroke="none" stroke-width="1" />
<path d="M14,240 C18,236 26,237 30,242 C34,250 36,262 37,280 L28,280 C26,270 22,262 18,258 C15,254 13.5,248 14,240 Z" fill="#40c8c8" stroke="none" stroke-width="1" />
<path d="M24,244 C28,246 31,252 32,260 C33,268 33,274 32,280 L29,280 C28,270 26,260 24,244 Z" fill="#48b860" stroke="none" stroke-width="1" />
<ellipse cx="20" cy="265" rx="4" ry="8" fill="#40b8d0" opacity="0.8"/>
<ellipse cx="40" cy="262" rx="3" ry="9" fill="#40a8d8" opacity="0.6"/>
<path d="M14,226 C17,222.5 27,222.5 30,226 C32,230 31,236 28,240 C24,243 17,243 14.5,240 C13,236 13,230 14,226 Z" fill="#c8c028" stroke="none" stroke-width="1" />
<ellipse cx="21.5" cy="227.5" rx="5" ry="2.8" fill="#c83018"/>
<ellipse cx="28.5" cy="240" rx="9.5" ry="1.8" fill="#c02020"/>
<ellipse cx="22" cy="244" rx="4" ry="2" fill="#a0b828"/>
</g>
<line x1="32.3" y1="258.4" x2="32.2" y2="269.0" stroke="#48b060" stroke-width="1.5" opacity="0.85"/>
<line x1="31.0" y1="255.7" x2="32.8" y2="267.5" stroke="#4040e0" stroke-width="1.1" opacity="0.85"/>
<line x1="36.0" y1="254.5" x2="36.5" y2="260.8" stroke="#a0c030" stroke-width="1.0" opacity="0.85"/>
<line x1="23.9" y1="254.9" x2="25.3" y2="259.3" stroke="#4040e0" stroke-width="1.3" opacity="0.85"/>
<line x1="40.1" y1="249.3" x2="39.1" y2="255.8" stroke="#a0c030" stroke-width="1.5" opacity="0.85"/>
<line x1="24.2" y1="265.1" x2="25.2" y2="277.0" stroke="#40c8c8" stroke-width="0.9" opacity="0.85"/>
<line x1="24.3" y1="248.3" x2="23.7" y2="254.5" stroke="#40c8c8" stroke-width="1.3" opacity="0.85"/>
<line x1="31.8" y1="252.1" x2="31.2" y2="261.6" stroke="#40c8c8" stroke-width="1.3" opacity="0.85"/>
<line x1="35.9" y1="264.2" x2="34.3" y2="268.7" stroke="#40c8c8" stroke-width="1.1" opacity="0.85"/>
<line x1="15.8" y1="249.2" x2="16.6" y2="254.8" stroke="#3838d8" stroke-width="1.1" opacity="0.85"/>
<line x1="33.1" y1="262.5" x2="34.3" y2="271.2" stroke="#40a8d8" stroke-width="1.0" opacity="0.85"/>
<line x1="16.2" y1="254.5" x2="14.7" y2="261.5" stroke="#48b060" stroke-width="1.5" opacity="0.85"/>
<line x1="14.5" y1="256.1" x2="16.0" y2="263.6" stroke="#48b060" stroke-width="1.5" opacity="0.85"/>
<line x1="41.6" y1="265.7" x2="39.8" y2="275.5" stroke="#40a8d8" stroke-width="0.9" opacity="0.85"/>
<line x1="33.3" y1="261.0" x2="35.0" y2="268.7" stroke="#40a8d8" stroke-width="1.1" opacity="0.85"/>
<line x1="29.1" y1="258.2" x2="27.2" y2="268.2" stroke="#40a8d8" stroke-width="1.1" opacity="0.85"/>
<line x1="39.7" y1="250.4" x2="41.4" y2="255.3" stroke="#3838d8" stroke-width="1.1" opacity="0.85"/>
<line x1="44.5" y1="265.6" x2="46.3" y2="271.0" stroke="#a0c030" stroke-width="1.5" opacity="0.85"/>
<line x1="27.9" y1="263.0" x2="28.9" y2="274.5" stroke="#48b060" stroke-width="1.3" opacity="0.85"/>
<line x1="30.4" y1="264.1" x2="28.4" y2="273.1" stroke="#a0c030" stroke-width="1.2" opacity="0.85"/>
<line x1="39.5" y1="264.0" x2="38.3" y2="268.7" stroke="#40c8c8" stroke-width="1.0" opacity="0.85"/>
<line x1="44.4" y1="243.9" x2="44.7" y2="255.3" stroke="#40c8c8" stroke-width="1.6" opacity="0.85"/>
<line x1="35.8" y1="242.2" x2="33.8" y2="253.7" stroke="#40a8d8" stroke-width="0.9" opacity="0.85"/>
<line x1="41.4" y1="253.9" x2="42.5" y2="264.1" stroke="#4040e0" stroke-width="1.4" opacity="0.85"/>
<line x1="21.3" y1="244.9" x2="21.3" y2="251.9" stroke="#a0c030" stroke-width="1.0" opacity="0.85"/>
<line x1="15.0" y1="259.5" x2="15.0" y2="270.6" stroke="#40c8c8" stroke-width="1.0" opacity="0.85"/>
<line x1="24.5" y1="255.6" x2="23.9" y2="265.4" stroke="#40c8c8" stroke-width="1.2" opacity="0.85"/>
<line x1="28.4" y1="247.3" x2="29.7" y2="251.9" stroke="#3838d8" stroke-width="1.0" opacity="0.85"/>
<line x1="19.6" y1="255.8" x2="19.7" y2="260.9" stroke="#40a8d8" stroke-width="1.2" opacity="0.85"/>
<line x1="34.5" y1="248.1" x2="33.1" y2="252.3" stroke="#40c8c8" stroke-width="0.9" opacity="0.85"/>
<line x1="37.6" y1="248.2" x2="37.5" y2="257.1" stroke="#40c8c8" stroke-width="1.3" opacity="0.85"/>
<line x1="32.3" y1="266.9" x2="31.5" y2="273.0" stroke="#40c8c8" stroke-width="1.1" opacity="0.85"/>
<line x1="14.9" y1="244.1" x2="15.4" y2="254.7" stroke="#3838d8" stroke-width="1.6" opacity="0.85"/>
<line x1="24.6" y1="263.1" x2="25.3" y2="267.4" stroke="#3838d8" stroke-width="0.9" opacity="0.85"/>
<path d="M22.5,246 L24,243 L25.5,246 Z" fill="#c01818" stroke="none" stroke-width="1" />
</g>
<rect x="92.60" y="214.30" width="6.00" height="55.80" fill="url(#cbar)" />
<text transform="translate(7.60,215.60) scale(0.9899,1)" x="-0.60" y="0" font-size="8.90" font-weight="bold" fill="#fff" >IBAT denervation</text>
<text transform="translate(87.30,214.00) scale(1.1865,1)" x="-0.17" y="0" font-size="7.40" font-weight="bold" fill="#fff" >37.</text>
<text transform="translate(87.30,276.50) scale(1.1238,1)" x="-0.26" y="0" font-size="7.40" font-weight="bold" fill="#fff" >27.</text>
<text transform="translate(9.30,237.20) scale(1.1164,1)" x="-0.18" y="0" font-size="7.80" font-weight="bold" fill="#fff" stroke="#222" stroke-width="1.0" paint-order="stroke">36.4 °C</text>
<rect x="181.32" y="169.80" width="58.98" height="94.80" fill="#a0f8f8" />
<line x1="142.00" y1="249.07" x2="240.30" y2="249.07" stroke="#333" stroke-width="0.8" stroke-dasharray="0.9,2.1"/>
<polygon points="142.00,248.45 145.93,246.89 149.86,243.79 153.80,244.56 157.73,244.56 161.66,245.34 165.59,244.56 169.52,243.79 173.46,244.56 177.39,243.01 181.32,242.23 185.25,244.56 189.18,245.34 193.12,243.01 197.05,245.34 200.98,245.34 204.91,246.89 208.84,244.56 212.78,244.56 216.71,244.56 220.64,243.79 224.57,243.79 228.50,244.56 232.44,243.79 236.37,241.46 240.30,243.01 240.30,244.25 236.37,242.70 232.44,245.03 228.50,245.80 224.57,245.03 220.64,245.03 216.71,245.80 212.78,245.80 208.84,245.80 204.91,248.13 200.98,246.58 197.05,246.58 193.12,244.25 189.18,246.58 185.25,245.80 181.32,243.47 177.39,244.25 173.46,245.80 169.52,245.03 165.59,245.80 161.66,246.58 157.73,245.80 153.80,245.80 149.86,245.03 145.93,248.13 142.00,249.69" fill="#7a8a80" opacity="0.35"/>
<polygon points="142.00,248.29 145.93,247.51 149.86,245.18 153.80,243.63 157.73,242.85 161.66,245.96 165.59,244.41 169.52,243.63 173.46,245.18 177.39,244.41 181.32,243.63 183.29,224.99 185.25,209.15 187.22,204.33 189.18,201.69 193.12,199.67 197.05,198.89 200.98,197.81 204.91,197.81 208.84,199.36 212.78,197.81 216.71,200.91 220.64,203.24 224.57,202.47 228.50,200.91 232.44,201.69 236.37,203.24 240.30,204.80 240.30,215.67 236.37,214.12 232.44,212.56 228.50,211.79 224.57,213.34 220.64,214.12 216.71,211.79 212.78,208.68 208.84,210.23 204.91,208.68 200.98,208.68 197.05,209.15 193.12,209.92 189.18,211.01 187.22,213.03 185.25,215.98 183.29,229.65 181.32,245.18 177.39,245.96 173.46,246.74 169.52,245.18 165.59,245.96 161.66,247.51 157.73,244.41 153.80,245.18 149.86,246.74 145.93,249.07 142.00,249.84" fill="#b0aaa0" opacity="0.78"/>
<polyline points="142.00,249.07 145.93,247.51 149.86,244.41 153.80,245.18 157.73,245.18 161.66,245.96 165.59,245.18 169.52,244.41 173.46,245.18 177.39,243.63 181.32,242.85 185.25,245.18 189.18,245.96 193.12,243.63 197.05,245.96 200.98,245.96 204.91,247.51 208.84,245.18 212.78,245.18 216.71,245.18 220.64,244.41 224.57,244.41 228.50,245.18 232.44,244.41 236.37,242.08 240.30,243.63" fill="none" stroke="#1a1a1a" stroke-width="1.1" stroke-linejoin="round"/>
<polyline points="142.00,249.07 145.93,248.29 149.86,245.96 153.80,244.41 157.73,243.63 161.66,246.74 165.59,245.18 169.52,244.41 173.46,245.96 177.39,245.18 181.32,244.41 183.29,227.32 185.25,212.56 187.22,208.68 189.18,206.35 193.12,204.80 197.05,204.02 200.98,203.24 204.91,203.24 208.84,204.80 212.78,203.24 216.71,206.35 220.64,208.68 224.57,207.90 228.50,206.35 232.44,207.13 236.37,208.68 240.30,210.23" fill="none" stroke="#ea2a22" stroke-width="1.15" stroke-linejoin="round"/>
<line x1="142.00" y1="171.40" x2="142.00" y2="264.60" stroke="#707070" stroke-width="1.4" />
<line x1="138.30" y1="264.60" x2="240.80" y2="264.60" stroke="#2a2a2a" stroke-width="1.2" />
<line x1="138.10" y1="171.40" x2="142.00" y2="171.40" stroke="#333" stroke-width="1.0" />
<text transform="translate(127.29,173.80) scale(1.0500,1)" x="-0.21" y="0" font-size="6.80" font-weight="bold" fill="#222" >5.0</text>
<line x1="138.10" y1="186.93" x2="142.00" y2="186.93" stroke="#333" stroke-width="1.0" />
<text transform="translate(127.18,189.33) scale(1.0500,1)" x="-0.10" y="0" font-size="6.80" font-weight="bold" fill="#222" >4.0</text>
<line x1="138.10" y1="202.47" x2="142.00" y2="202.47" stroke="#333" stroke-width="1.0" />
<text transform="translate(127.23,204.87) scale(1.0500,1)" x="-0.16" y="0" font-size="6.80" font-weight="bold" fill="#222" >3.0</text>
<line x1="138.10" y1="218.00" x2="142.00" y2="218.00" stroke="#333" stroke-width="1.0" />
<text transform="translate(127.31,220.40) scale(1.0500,1)" x="-0.24" y="0" font-size="6.80" font-weight="bold" fill="#222" >2.0</text>
<line x1="138.10" y1="233.53" x2="142.00" y2="233.53" stroke="#333" stroke-width="1.0" />
<text transform="translate(127.52,235.93) scale(1.0500,1)" x="-0.43" y="0" font-size="6.80" font-weight="bold" fill="#222" >1.0</text>
<line x1="138.10" y1="249.07" x2="142.00" y2="249.07" stroke="#333" stroke-width="1.0" />
<text transform="translate(127.35,251.47) scale(1.0500,1)" x="-0.27" y="0" font-size="6.80" font-weight="bold" fill="#222" >0.0</text>
<line x1="138.10" y1="264.60" x2="142.00" y2="264.60" stroke="#333" stroke-width="1.0" />
<text transform="translate(124.97,267.00) scale(1.0500,1)" x="-0.27" y="0" font-size="6.80" font-weight="bold" fill="#222" >-1.0</text>
<line x1="142.00" y1="264.60" x2="142.00" y2="268.50" stroke="#555" stroke-width="1.1" />
<text transform="translate(137.09,276.70) scale(1.0000,1)" x="-0.28" y="0" font-size="7.20" font-weight="bold" fill="#222" >-10</text>
<line x1="161.66" y1="264.60" x2="161.66" y2="268.50" stroke="#555" stroke-width="1.1" />
<text transform="translate(158.70,276.70) scale(1.0000,1)" x="-0.28" y="0" font-size="7.20" font-weight="bold" fill="#222" >-5</text>
<line x1="181.32" y1="264.60" x2="181.32" y2="268.50" stroke="#555" stroke-width="1.1" />
<text transform="translate(179.61,276.70) scale(1.0000,1)" x="-0.28" y="0" font-size="7.20" font-weight="bold" fill="#222" >0</text>
<line x1="200.98" y1="264.60" x2="200.98" y2="268.50" stroke="#555" stroke-width="1.1" />
<text transform="translate(199.19,276.70) scale(1.0000,1)" x="-0.22" y="0" font-size="7.20" font-weight="bold" fill="#222" >5</text>
<line x1="220.64" y1="264.60" x2="220.64" y2="268.50" stroke="#555" stroke-width="1.1" />
<text transform="translate(217.01,276.70) scale(1.0000,1)" x="-0.45" y="0" font-size="7.20" font-weight="bold" fill="#222" >10</text>
<line x1="240.30" y1="264.60" x2="240.30" y2="268.50" stroke="#555" stroke-width="1.1" />
<text transform="translate(236.62,276.70) scale(1.0000,1)" x="-0.45" y="0" font-size="7.20" font-weight="bold" fill="#222" >15</text>
<text transform="translate(169.50,288.00) scale(1.0011,1)" x="-0.10" y="0" font-size="8.60" font-weight="bold" fill="#1a1a1a" >Time (min)</text>
<text transform="translate(143.30,176.10) scale(1.0359,1)" x="-0.46" y="0" font-size="6.90" font-weight="bold" fill="#1a1a1a" >No Laser</text>
<text transform="translate(181.82,176.10) scale(0.9918,1)" x="-0.46" y="0" font-size="6.90" font-weight="bold" fill="#1a1a1a" >Laser</text>
<text transform="translate(119.90,264.90) rotate(-90) scale(1.0437,1)" x="-0.58" y="0" font-size="8.60" font-weight="bold" fill="#1a1a1a">IBAT temp change(°C)</text>
<line x1="115.90" y1="151.60" x2="125.80" y2="151.60" stroke="#e82020" stroke-width="1.1" />
<line x1="115.90" y1="162.60" x2="125.80" y2="162.60" stroke="#333" stroke-width="1.1" />
<text transform="translate(131.70,154.80) scale(1.0407,1)" x="-0.48" y="0" font-size="7.20" font-weight="bold" fill="#1a1a1a" >PVN</text>
<text transform="translate(146.30,151.70) scale(1.0952,1)" x="-0.03" y="0" font-size="4.60" font-weight="bold" fill="#1a1a1a" >VGlut2</text>
<line x1="163.20" y1="152.20" x2="168.90" y2="152.20" stroke="#1a1a1a" stroke-width="0.7" />
<path d="M170.0,152.20000000000002 L167.89999999999998,150.9 L167.89999999999998,153.50000000000003 Z" fill="#1a1a1a" stroke="none" stroke-width="1" />
<text transform="translate(170.60,154.80) scale(0.9033,1)" x="-0.48" y="0" font-size="7.20" font-weight="bold" fill="#1a1a1a" >LC:ChR2 Sham</text>
<text transform="translate(131.70,165.60) scale(1.0407,1)" x="-0.48" y="0" font-size="7.20" font-weight="bold" fill="#1a1a1a" >PVN</text>
<text transform="translate(146.30,162.50) scale(1.0952,1)" x="-0.03" y="0" font-size="4.60" font-weight="bold" fill="#1a1a1a" >VGlut2</text>
<line x1="163.20" y1="163.00" x2="168.90" y2="163.00" stroke="#1a1a1a" stroke-width="0.7" />
<path d="M170.0,163.0 L167.89999999999998,161.7 L167.89999999999998,164.3 Z" fill="#1a1a1a" stroke="none" stroke-width="1" />
<text transform="translate(170.60,165.60) scale(0.9404,1)" x="-0.48" y="0" font-size="7.20" font-weight="bold" fill="#1a1a1a" >LC:ChR2 Denervation</text>
<rect x="467.08" y="169.90" width="59.72" height="94.80" fill="#a0f8f8" />
<line x1="427.40" y1="249.17" x2="526.60" y2="249.17" stroke="#333" stroke-width="0.8" stroke-dasharray="0.9,2.1"/>
<polygon points="427.40,244.20 431.37,244.20 435.34,243.89 439.30,244.20 443.27,243.42 447.24,244.20 451.21,244.20 455.18,242.64 459.14,243.42 463.11,244.97 467.08,247.30 469.06,242.64 471.05,237.21 475.02,237.98 478.98,238.29 482.95,239.54 486.92,239.54 490.89,237.98 494.86,238.76 498.82,237.98 502.79,235.65 506.76,239.54 510.73,240.31 514.70,236.43 518.66,239.54 522.63,240.31 526.60,242.64 526.60,246.37 522.63,244.04 518.66,243.26 514.70,240.16 510.73,244.04 506.76,243.26 502.79,239.38 498.82,241.71 494.86,242.49 490.89,241.71 486.92,243.26 482.95,243.26 478.98,242.02 475.02,241.71 471.05,240.93 469.06,246.37 467.08,251.03 463.11,248.70 459.14,247.15 455.18,246.37 451.21,247.92 447.24,247.92 443.27,247.15 439.30,247.92 435.34,247.61 431.37,247.92 427.40,247.92" fill="#7a8a80" opacity="0.35"/>
<polygon points="427.40,246.06 431.37,245.28 435.34,245.28 439.30,244.51 443.27,245.28 447.24,246.06 451.21,245.28 455.18,244.97 459.14,245.28 463.11,244.51 467.08,245.28 469.06,237.98 471.05,222.45 473.03,212.20 475.02,205.67 478.98,200.24 482.95,199.46 486.92,197.60 490.89,197.60 494.86,198.37 498.82,197.60 502.79,197.60 506.76,198.37 510.73,200.70 514.70,203.03 518.66,201.48 522.63,202.26 526.60,204.59 526.60,214.53 522.63,212.20 518.66,211.42 514.70,212.97 510.73,210.64 506.76,208.31 502.79,207.54 498.82,207.54 494.86,208.31 490.89,207.54 486.92,207.54 482.95,208.78 478.98,209.56 475.02,214.99 473.03,220.90 471.05,229.28 469.06,241.71 467.08,246.84 463.11,246.06 459.14,246.84 455.18,246.53 451.21,246.84 447.24,247.61 443.27,246.84 439.30,246.06 435.34,246.84 431.37,246.84 427.40,247.61" fill="#b0aaa0" opacity="0.78"/>
<polyline points="427.40,246.06 431.37,246.06 435.34,245.75 439.30,246.06 443.27,245.28 447.24,246.06 451.21,246.06 455.18,244.51 459.14,245.28 463.11,246.84 467.08,249.17 469.06,244.51 471.05,239.07 475.02,239.85 478.98,240.16 482.95,241.40 486.92,241.40 490.89,239.85 494.86,240.62 498.82,239.85 502.79,237.52 506.76,241.40 510.73,242.18 514.70,238.29 518.66,241.40 522.63,242.18 526.60,244.51" fill="none" stroke="#1a1a1a" stroke-width="1.1" stroke-linejoin="round"/>
<polyline points="427.40,246.84 431.37,246.06 435.34,246.06 439.30,245.28 443.27,246.06 447.24,246.84 451.21,246.06 455.18,245.75 459.14,246.06 463.11,245.28 467.08,246.06 469.06,239.85 471.05,225.87 473.03,216.55 475.02,210.33 478.98,204.90 482.95,204.12 486.92,202.57 490.89,202.57 494.86,203.34 498.82,202.57 502.79,202.57 506.76,203.34 510.73,205.67 514.70,208.00 518.66,206.45 522.63,207.23 526.60,209.56" fill="none" stroke="#ea2a22" stroke-width="1.15" stroke-linejoin="round"/>
<line x1="427.40" y1="171.50" x2="427.40" y2="264.70" stroke="#707070" stroke-width="1.4" />
<line x1="423.70" y1="264.70" x2="527.10" y2="264.70" stroke="#2a2a2a" stroke-width="1.2" />
<line x1="423.50" y1="171.50" x2="427.40" y2="171.50" stroke="#333" stroke-width="1.0" />
<text transform="translate(412.69,173.90) scale(1.0500,1)" x="-0.21" y="0" font-size="6.80" font-weight="bold" fill="#222" >5.0</text>
<line x1="423.50" y1="187.03" x2="427.40" y2="187.03" stroke="#333" stroke-width="1.0" />
<text transform="translate(412.58,189.43) scale(1.0500,1)" x="-0.10" y="0" font-size="6.80" font-weight="bold" fill="#222" >4.0</text>
<line x1="423.50" y1="202.57" x2="427.40" y2="202.57" stroke="#333" stroke-width="1.0" />
<text transform="translate(412.63,204.97) scale(1.0500,1)" x="-0.16" y="0" font-size="6.80" font-weight="bold" fill="#222" >3.0</text>
<line x1="423.50" y1="218.10" x2="427.40" y2="218.10" stroke="#333" stroke-width="1.0" />
<text transform="translate(412.71,220.50) scale(1.0500,1)" x="-0.24" y="0" font-size="6.80" font-weight="bold" fill="#222" >2.0</text>
<line x1="423.50" y1="233.63" x2="427.40" y2="233.63" stroke="#333" stroke-width="1.0" />
<text transform="translate(412.92,236.03) scale(1.0500,1)" x="-0.43" y="0" font-size="6.80" font-weight="bold" fill="#222" >1.0</text>
<line x1="423.50" y1="249.17" x2="427.40" y2="249.17" stroke="#333" stroke-width="1.0" />
<text transform="translate(412.75,251.57) scale(1.0500,1)" x="-0.27" y="0" font-size="6.80" font-weight="bold" fill="#222" >0.0</text>
<line x1="423.50" y1="264.70" x2="427.40" y2="264.70" stroke="#333" stroke-width="1.0" />
<text transform="translate(410.37,267.10) scale(1.0500,1)" x="-0.27" y="0" font-size="6.80" font-weight="bold" fill="#222" >-1.0</text>
<line x1="427.40" y1="264.70" x2="427.40" y2="268.60" stroke="#555" stroke-width="1.1" />
<text transform="translate(422.49,276.70) scale(1.0000,1)" x="-0.28" y="0" font-size="7.20" font-weight="bold" fill="#222" >-10</text>
<line x1="447.24" y1="264.70" x2="447.24" y2="268.60" stroke="#555" stroke-width="1.1" />
<text transform="translate(444.28,276.70) scale(1.0000,1)" x="-0.28" y="0" font-size="7.20" font-weight="bold" fill="#222" >-5</text>
<line x1="467.08" y1="264.70" x2="467.08" y2="268.60" stroke="#555" stroke-width="1.1" />
<text transform="translate(465.37,276.70) scale(1.0000,1)" x="-0.28" y="0" font-size="7.20" font-weight="bold" fill="#222" >0</text>
<line x1="486.92" y1="264.70" x2="486.92" y2="268.60" stroke="#555" stroke-width="1.1" />
<text transform="translate(485.13,276.70) scale(1.0000,1)" x="-0.22" y="0" font-size="7.20" font-weight="bold" fill="#222" >5</text>
<line x1="506.76" y1="264.70" x2="506.76" y2="268.60" stroke="#555" stroke-width="1.1" />
<text transform="translate(503.13,276.70) scale(1.0000,1)" x="-0.45" y="0" font-size="7.20" font-weight="bold" fill="#222" >10</text>
<line x1="526.60" y1="264.70" x2="526.60" y2="268.60" stroke="#555" stroke-width="1.1" />
<text transform="translate(522.92,276.70) scale(1.0000,1)" x="-0.45" y="0" font-size="7.20" font-weight="bold" fill="#222" >15</text>
<text transform="translate(454.90,288.00) scale(1.0011,1)" x="-0.10" y="0" font-size="8.60" font-weight="bold" fill="#1a1a1a" >Time (min)</text>
<text transform="translate(428.70,176.10) scale(1.0359,1)" x="-0.46" y="0" font-size="6.90" font-weight="bold" fill="#1a1a1a" >No Laser</text>
<text transform="translate(467.58,176.10) scale(0.9918,1)" x="-0.46" y="0" font-size="6.90" font-weight="bold" fill="#1a1a1a" >Laser</text>
<text transform="translate(406.00,264.60) rotate(-90) scale(1.0466,1)" x="-0.35" y="0" font-size="8.60" font-weight="bold" fill="#1a1a1a">Core temp change(°C)</text>
<line x1="402.30" y1="149.20" x2="411.50" y2="149.20" stroke="#f06a6a" stroke-width="1.1" />
<line x1="402.30" y1="159.80" x2="411.50" y2="159.80" stroke="#555" stroke-width="1.1" />
<text transform="translate(418.20,151.90) scale(1.0407,1)" x="-0.48" y="0" font-size="7.20" font-weight="bold" fill="#1a1a1a" >PVN</text>
<text transform="translate(432.80,148.80) scale(1.0952,1)" x="-0.03" y="0" font-size="4.60" font-weight="bold" fill="#1a1a1a" >VGlut2</text>
<line x1="449.70" y1="149.30" x2="455.40" y2="149.30" stroke="#1a1a1a" stroke-width="0.7" />
<path d="M456.5,149.3 L454.4,148.0 L454.4,150.60000000000002 Z" fill="#1a1a1a" stroke="none" stroke-width="1" />
<text transform="translate(457.10,151.90) scale(0.8878,1)" x="-0.48" y="0" font-size="7.20" font-weight="bold" fill="#1a1a1a" >LC:ChR2 Sham</text>
<text transform="translate(418.20,162.50) scale(1.0407,1)" x="-0.48" y="0" font-size="7.20" font-weight="bold" fill="#1a1a1a" >PVN</text>
<text transform="translate(432.80,159.40) scale(1.0952,1)" x="-0.03" y="0" font-size="4.60" font-weight="bold" fill="#1a1a1a" >VGlut2</text>
<line x1="449.70" y1="159.90" x2="455.40" y2="159.90" stroke="#1a1a1a" stroke-width="0.7" />
<path d="M456.5,159.9 L454.4,158.6 L454.4,161.20000000000002 Z" fill="#1a1a1a" stroke="none" stroke-width="1" />
<text transform="translate(457.10,162.50) scale(0.9281,1)" x="-0.48" y="0" font-size="7.20" font-weight="bold" fill="#1a1a1a" >LC:ChR2 Denervation</text>
<line x1="272.10" y1="169.10" x2="272.10" y2="264.90" stroke="#222" stroke-width="1.1" />
<line x1="272.10" y1="264.90" x2="367.60" y2="264.90" stroke="#222" stroke-width="1.1" />
<line x1="269.10" y1="169.60" x2="272.10" y2="169.60" stroke="#222" stroke-width="1.0" />
<text transform="translate(264.82,171.90) scale(1.0000,1)" x="-0.20" y="0" font-size="6.60" font-weight="bold" fill="#222" >5</text>
<line x1="269.10" y1="188.80" x2="272.10" y2="188.80" stroke="#222" stroke-width="1.0" />
<text transform="translate(264.56,191.10) scale(1.0000,1)" x="-0.10" y="0" font-size="6.60" font-weight="bold" fill="#222" >4</text>
<line x1="269.10" y1="208.10" x2="272.10" y2="208.10" stroke="#222" stroke-width="1.0" />
<text transform="translate(264.82,210.40) scale(1.0000,1)" x="-0.15" y="0" font-size="6.60" font-weight="bold" fill="#222" >3</text>
<line x1="269.10" y1="227.30" x2="272.10" y2="227.30" stroke="#222" stroke-width="1.0" />
<text transform="translate(264.92,229.60) scale(1.0000,1)" x="-0.23" y="0" font-size="6.60" font-weight="bold" fill="#222" >2</text>
<line x1="269.10" y1="246.50" x2="272.10" y2="246.50" stroke="#222" stroke-width="1.0" />
<text transform="translate(265.03,248.80) scale(1.0000,1)" x="-0.42" y="0" font-size="6.60" font-weight="bold" fill="#222" >1</text>
<line x1="269.10" y1="264.90" x2="272.10" y2="264.90" stroke="#222" stroke-width="1.0" />
<text transform="translate(264.96,267.20) scale(1.0000,1)" x="-0.26" y="0" font-size="6.60" font-weight="bold" fill="#222" >0</text>
<line x1="294.50" y1="264.90" x2="294.50" y2="268.90" stroke="#222" stroke-width="1.0" />
<line x1="345.20" y1="264.90" x2="345.20" y2="268.90" stroke="#222" stroke-width="1.0" />
<line x1="320.70" y1="170.10" x2="320.70" y2="263.90" stroke="#222" stroke-width="0.9" stroke-dasharray="2,1.5"/>
<text transform="translate(275.61,279.50) scale(1.0000,1)" x="-0.60" y="0" font-size="9.00" font-weight="bold" fill="#1a1a1a" >No Laser</text>
<text transform="translate(333.56,279.50) scale(1.0000,1)" x="-0.60" y="0" font-size="9.00" font-weight="bold" fill="#1a1a1a" >Laser</text>
<text transform="translate(258.60,285.50) rotate(-90) scale(1.0853,1)" x="-0.21" y="0" font-size="8.40" font-weight="bold" fill="#1a1a1a">Average IBAT temp change (°C)</text>
<circle cx="335.60" cy="189.04" r="1.8" fill="#f0201a" />
<circle cx="335.60" cy="199.52" r="1.8" fill="#f0201a" />
<circle cx="335.60" cy="204.67" r="1.8" fill="#f0201a" />
<circle cx="335.60" cy="217.25" r="1.8" fill="#f0201a" />
<circle cx="331.20" cy="221.63" r="1.8" fill="#f0201a" />
<circle cx="335.60" cy="221.63" r="1.8" fill="#f0201a" />
<circle cx="340.00" cy="221.63" r="1.8" fill="#f0201a" />
<circle cx="335.60" cy="227.73" r="1.8" fill="#f0201a" />
<line x1="329.40" y1="213.30" x2="341.70" y2="213.30" stroke="#f0201a" stroke-width="1.2" />
<line x1="335.60" y1="209.30" x2="335.60" y2="217.30" stroke="#f0201a" stroke-width="1.0" />
<line x1="333.60" y1="209.30" x2="337.60" y2="209.30" stroke="#f0201a" stroke-width="1.0" />
<circle cx="281.00" cy="262.00" r="1.9" fill="#f0201a" />
<circle cx="284.00" cy="260.00" r="1.9" fill="#f0201a" />
<circle cx="287.00" cy="261.50" r="1.9" fill="#f0201a" />
<circle cx="283.00" cy="263.00" r="1.9" fill="#f0201a" />
<circle cx="289.00" cy="262.50" r="1.9" fill="#f0201a" />
<circle cx="285.00" cy="262.80" r="1.9" fill="#f0201a" />
<circle cx="282.50" cy="260.80" r="1.9" fill="#f0201a" />
<rect x="298.35" y="259.85" width="3.30" height="3.30" fill="#111" />
<rect x="301.35" y="257.35" width="3.30" height="3.30" fill="#111" />
<rect x="304.35" y="259.35" width="3.30" height="3.30" fill="#111" />
<rect x="300.35" y="261.35" width="3.30" height="3.30" fill="#111" />
<rect x="306.35" y="260.35" width="3.30" height="3.30" fill="#111" />
<rect x="302.85" y="260.85" width="3.30" height="3.30" fill="#111" />
<rect x="303.35" y="256.85" width="3.30" height="3.30" fill="#111" />
<rect x="350.40" y="256.90" width="3.20" height="3.20" fill="#111" />
<rect x="354.40" y="257.20" width="3.20" height="3.20" fill="#111" />
<rect x="357.90" y="257.90" width="3.20" height="3.20" fill="#111" />
<rect x="352.40" y="259.90" width="3.20" height="3.20" fill="#111" />
<rect x="355.40" y="260.90" width="3.20" height="3.20" fill="#111" />
<rect x="352.90" y="262.40" width="3.20" height="3.20" fill="#111" />
<path d="M335.6,183.6 L335.6,177.5 L354.8,177.5 L354.8,183.6" fill="none" stroke="#222" stroke-width="1.0" />
<text transform="translate(333.30,176.60) scale(1.2993,1)" x="-0.03" y="0" font-size="11.50" font-weight="bold" fill="#1a1a1a" >****</text>
<circle cx="265.20" cy="145.10" r="1.9" fill="#f0201a" />
<rect x="264.40" y="155.70" width="2.80" height="2.80" fill="#111" />
<text transform="translate(276.80,148.80) scale(1.0407,1)" x="-0.48" y="0" font-size="7.20" font-weight="bold" fill="#1a1a1a" >PVN</text>
<text transform="translate(291.40,145.70) scale(1.0952,1)" x="-0.03" y="0" font-size="4.60" font-weight="bold" fill="#1a1a1a" >VGlut2</text>
<line x1="308.30" y1="146.20" x2="314.00" y2="146.20" stroke="#1a1a1a" stroke-width="0.7" />
<path d="M315.1,146.20000000000002 L313.0,144.9 L313.0,147.50000000000003 Z" fill="#1a1a1a" stroke="none" stroke-width="1" />
<text transform="translate(315.70,148.80) scale(0.9247,1)" x="-0.48" y="0" font-size="7.20" font-weight="bold" fill="#1a1a1a" >LC:ChR2 Sham</text>
<text transform="translate(276.80,160.90) scale(1.0407,1)" x="-0.48" y="0" font-size="7.20" font-weight="bold" fill="#1a1a1a" >PVN</text>
<text transform="translate(291.40,157.80) scale(1.0952,1)" x="-0.03" y="0" font-size="4.60" font-weight="bold" fill="#1a1a1a" >VGlut2</text>
<line x1="308.30" y1="158.30" x2="314.00" y2="158.30" stroke="#1a1a1a" stroke-width="0.7" />
<path d="M315.1,158.3 L313.0,157.0 L313.0,159.60000000000002 Z" fill="#1a1a1a" stroke="none" stroke-width="1" />
<text transform="translate(315.70,160.90) scale(0.9608,1)" x="-0.48" y="0" font-size="7.20" font-weight="bold" fill="#1a1a1a" >LC:ChR2 Denervation</text>
<line x1="563.00" y1="166.30" x2="563.00" y2="264.20" stroke="#222" stroke-width="1.1" />
<line x1="563.00" y1="264.20" x2="660.70" y2="264.20" stroke="#222" stroke-width="1.1" />
<line x1="560.00" y1="166.80" x2="563.00" y2="166.80" stroke="#222" stroke-width="1.0" />
<text transform="translate(555.74,169.10) scale(1.0000,1)" x="-0.21" y="0" font-size="6.60" font-weight="bold" fill="#222" >8</text>
<line x1="560.00" y1="191.20" x2="563.00" y2="191.20" stroke="#222" stroke-width="1.0" />
<text transform="translate(555.81,193.50) scale(1.0000,1)" x="-0.24" y="0" font-size="6.60" font-weight="bold" fill="#222" >6</text>
<line x1="560.00" y1="215.60" x2="563.00" y2="215.60" stroke="#222" stroke-width="1.0" />
<text transform="translate(555.46,217.90) scale(1.0000,1)" x="-0.10" y="0" font-size="6.60" font-weight="bold" fill="#222" >4</text>
<line x1="560.00" y1="240.20" x2="563.00" y2="240.20" stroke="#222" stroke-width="1.0" />
<text transform="translate(555.82,242.50) scale(1.0000,1)" x="-0.23" y="0" font-size="6.60" font-weight="bold" fill="#222" >2</text>
<line x1="560.00" y1="264.20" x2="563.00" y2="264.20" stroke="#222" stroke-width="1.0" />
<text transform="translate(555.86,266.50) scale(1.0000,1)" x="-0.26" y="0" font-size="6.60" font-weight="bold" fill="#222" >0</text>
<line x1="586.70" y1="264.20" x2="586.70" y2="268.20" stroke="#222" stroke-width="1.0" />
<line x1="638.20" y1="264.20" x2="638.20" y2="268.20" stroke="#222" stroke-width="1.0" />
<line x1="613.40" y1="167.30" x2="613.40" y2="263.20" stroke="#222" stroke-width="0.9" stroke-dasharray="2,1.5"/>
<text transform="translate(567.81,279.50) scale(1.0000,1)" x="-0.60" y="0" font-size="9.00" font-weight="bold" fill="#1a1a1a" >No Laser</text>
<text transform="translate(626.56,279.50) scale(1.0000,1)" x="-0.60" y="0" font-size="9.00" font-weight="bold" fill="#1a1a1a" >Laser</text>
<text transform="translate(551.50,285.50) rotate(-90) scale(1.0797,1)" x="-0.21" y="0" font-size="8.40" font-weight="bold" fill="#1a1a1a">Average Core temp change (°C)</text>
<circle cx="628.60" cy="221.57" r="1.9" fill="#f0201a" />
<circle cx="627.60" cy="226.44" r="1.9" fill="#f0201a" />
<circle cx="623.60" cy="228.88" r="1.9" fill="#f0201a" />
<circle cx="630.60" cy="229.49" r="1.9" fill="#f0201a" />
<circle cx="625.60" cy="231.92" r="1.9" fill="#f0201a" />
<circle cx="633.60" cy="232.53" r="1.9" fill="#f0201a" />
<circle cx="628.60" cy="233.75" r="1.9" fill="#f0201a" />
<circle cx="623.60" cy="234.36" r="1.9" fill="#f0201a" />
<circle cx="631.60" cy="234.97" r="1.9" fill="#f0201a" />
<circle cx="634.10" cy="233.75" r="1.9" fill="#f0201a" />
<circle cx="627.60" cy="237.40" r="1.9" fill="#f0201a" />
<circle cx="625.60" cy="238.01" r="1.9" fill="#f0201a" />
<circle cx="629.60" cy="231.31" r="1.9" fill="#f0201a" />
<line x1="623.50" y1="231.07" x2="634.00" y2="231.07" stroke="#f0201a" stroke-width="1.0" />
<rect x="643.50" y="260.26" width="3.00" height="3.00" fill="#111" />
<rect x="646.50" y="258.44" width="3.00" height="3.00" fill="#111" />
<rect x="649.50" y="256.61" width="3.00" height="3.00" fill="#111" />
<rect x="652.50" y="254.17" width="3.00" height="3.00" fill="#111" />
<rect x="642.50" y="251.74" width="3.00" height="3.00" fill="#111" />
<rect x="645.50" y="255.39" width="3.00" height="3.00" fill="#111" />
<rect x="648.50" y="258.44" width="3.00" height="3.00" fill="#111" />
<rect x="651.50" y="257.22" width="3.00" height="3.00" fill="#111" />
<rect x="653.50" y="249.91" width="3.00" height="3.00" fill="#111" />
<rect x="647.50" y="252.96" width="3.00" height="3.00" fill="#111" />
<rect x="642.50" y="256.00" width="3.00" height="3.00" fill="#111" />
<rect x="650.50" y="251.13" width="3.00" height="3.00" fill="#111" />
<circle cx="573.00" cy="262.00" r="1.9" fill="#f0201a" />
<circle cx="576.00" cy="261.00" r="1.9" fill="#f0201a" />
<circle cx="579.00" cy="262.50" r="1.9" fill="#f0201a" />
<circle cx="582.00" cy="261.50" r="1.9" fill="#f0201a" />
<circle cx="575.00" cy="263.50" r="1.9" fill="#f0201a" />
<circle cx="580.00" cy="263.80" r="1.9" fill="#f0201a" />
<circle cx="577.00" cy="260.50" r="1.9" fill="#f0201a" />
<circle cx="574.00" cy="261.00" r="1.9" fill="#f0201a" />
<circle cx="581.00" cy="260.50" r="1.9" fill="#f0201a" />
<circle cx="578.00" cy="263.00" r="1.9" fill="#f0201a" />
<rect x="590.50" y="260.50" width="3.00" height="3.00" fill="#111" />
<rect x="593.50" y="260.00" width="3.00" height="3.00" fill="#111" />
<rect x="596.50" y="260.50" width="3.00" height="3.00" fill="#111" />
<rect x="599.50" y="261.00" width="3.00" height="3.00" fill="#111" />
<rect x="592.50" y="262.00" width="3.00" height="3.00" fill="#111" />
<rect x="597.50" y="262.00" width="3.00" height="3.00" fill="#111" />
<rect x="594.50" y="259.00" width="3.00" height="3.00" fill="#111" />
<rect x="591.50" y="259.30" width="3.00" height="3.00" fill="#111" />
<rect x="598.50" y="259.50" width="3.00" height="3.00" fill="#111" />
<rect x="595.50" y="261.50" width="3.00" height="3.00" fill="#111" />
<path d="M596.2,174.0 L596.2,168.7 L648.1,168.7 L648.1,174.0" fill="none" stroke="#222" stroke-width="1.0" />
<path d="M628.6,215.6 L628.6,210.3 L648.1,210.3 L648.1,215.6" fill="none" stroke="#222" stroke-width="1.0" />
<text transform="translate(617.20,168.30) scale(1.1790,1)" x="-0.03" y="0" font-size="11.50" font-weight="bold" fill="#1a1a1a" >**</text>
<text transform="translate(626.70,210.00) scale(1.2825,1)" x="-0.03" y="0" font-size="11.50" font-weight="bold" fill="#1a1a1a" >****</text>
<circle cx="556.20" cy="141.20" r="1.9" fill="#f0201a" />
<rect x="554.95" y="150.05" width="2.90" height="2.90" fill="#111" />
<text transform="translate(567.50,144.60) scale(1.0407,1)" x="-0.48" y="0" font-size="7.20" font-weight="bold" fill="#1a1a1a" >PVN</text>
<text transform="translate(582.10,141.50) scale(1.0952,1)" x="-0.03" y="0" font-size="4.60" font-weight="bold" fill="#1a1a1a" >VGlut2</text>
<line x1="599.00" y1="142.00" x2="604.70" y2="142.00" stroke="#1a1a1a" stroke-width="0.7" />
<path d="M605.8,142.0 L603.7,140.7 L603.7,143.3 Z" fill="#1a1a1a" stroke="none" stroke-width="1" />
<text transform="translate(606.40,144.60) scale(0.9441,1)" x="-0.48" y="0" font-size="7.20" font-weight="bold" fill="#1a1a1a" >LC:ChR2 Sham</text>
<text transform="translate(567.50,155.40) scale(1.0407,1)" x="-0.48" y="0" font-size="7.20" font-weight="bold" fill="#1a1a1a" >PVN</text>
<text transform="translate(582.10,152.30) scale(1.0952,1)" x="-0.03" y="0" font-size="4.60" font-weight="bold" fill="#1a1a1a" >VGlut2</text>
<line x1="599.00" y1="152.80" x2="604.70" y2="152.80" stroke="#1a1a1a" stroke-width="0.7" />
<path d="M605.8,152.8 L603.7,151.5 L603.7,154.10000000000002 Z" fill="#1a1a1a" stroke="none" stroke-width="1" />
<text transform="translate(606.40,155.40) scale(0.9771,1)" x="-0.48" y="0" font-size="7.20" font-weight="bold" fill="#1a1a1a" >LC:ChR2 Denervation</text>
<line x1="52.50" y1="324.40" x2="52.50" y2="429.80" stroke="#222" stroke-width="1.1" />
<line x1="52.50" y1="429.80" x2="148.80" y2="429.80" stroke="#222" stroke-width="1.1" />
<line x1="49.50" y1="324.80" x2="52.50" y2="324.80" stroke="#222" stroke-width="1.0" />
<text transform="translate(38.41,327.45) scale(1.0000,1)" x="-0.46" y="0" font-size="7.30" font-weight="bold" fill="#222" >1.5</text>
<line x1="49.50" y1="359.80" x2="52.50" y2="359.80" stroke="#222" stroke-width="1.0" />
<text transform="translate(38.51,362.45) scale(1.0000,1)" x="-0.46" y="0" font-size="7.30" font-weight="bold" fill="#222" >1.0</text>
<line x1="49.50" y1="394.80" x2="52.50" y2="394.80" stroke="#222" stroke-width="1.0" />
<text transform="translate(38.24,397.45) scale(1.0000,1)" x="-0.29" y="0" font-size="7.30" font-weight="bold" fill="#222" >0.5</text>
<line x1="49.50" y1="429.80" x2="52.50" y2="429.80" stroke="#222" stroke-width="1.0" />
<text transform="translate(38.34,432.45) scale(1.0000,1)" x="-0.29" y="0" font-size="7.30" font-weight="bold" fill="#222" >0.0</text>
<line x1="80.00" y1="429.80" x2="80.00" y2="434.00" stroke="#222" stroke-width="1.0" />
<line x1="120.90" y1="429.80" x2="120.90" y2="434.00" stroke="#222" stroke-width="1.0" />
<path d="M67.8,429.8 L67.8,365.40 L92.6,365.40 L92.6,429.8" fill="none" stroke="#ee1c16" stroke-width="1.6" />
<path d="M109.1,429.8 L109.1,384.65 L133.5,384.65 L133.5,429.8" fill="none" stroke="#111" stroke-width="1.6" />
<line x1="73.10" y1="361.20" x2="86.80" y2="361.20" stroke="#ee1c16" stroke-width="1.1" />
<line x1="80.00" y1="361.20" x2="80.00" y2="366.00" stroke="#ee1c16" stroke-width="1.1" />
<line x1="114.00" y1="380.20" x2="128.00" y2="380.20" stroke="#111" stroke-width="1.1" />
<line x1="121.00" y1="380.20" x2="121.00" y2="387.00" stroke="#111" stroke-width="1.1" />
<line x1="114.00" y1="386.90" x2="128.00" y2="386.90" stroke="#111" stroke-width="1.1" />
<circle cx="80.00" cy="343.00" r="2.0" fill="#f0201a" />
<circle cx="80.00" cy="350.30" r="2.0" fill="#f0201a" />
<circle cx="68.60" cy="365.40" r="2.0" fill="#f0201a" />
<circle cx="75.80" cy="367.40" r="2.0" fill="#f0201a" />
<circle cx="81.00" cy="367.00" r="2.0" fill="#f0201a" />
<circle cx="68.60" cy="370.00" r="2.0" fill="#f0201a" />
<circle cx="91.30" cy="371.00" r="2.0" fill="#f0201a" />
<circle cx="68.60" cy="375.00" r="2.0" fill="#f0201a" />
<circle cx="84.10" cy="374.00" r="2.0" fill="#f0201a" />
<rect x="119.25" y="366.85" width="3.30" height="3.30" fill="#111" />
<rect x="119.25" y="371.35" width="3.30" height="3.30" fill="#111" />
<rect x="107.65" y="376.55" width="3.30" height="3.30" fill="#111" />
<rect x="107.65" y="379.65" width="3.30" height="3.30" fill="#111" />
<rect x="122.75" y="380.25" width="3.30" height="3.30" fill="#111" />
<rect x="130.55" y="379.65" width="3.30" height="3.30" fill="#111" />
<rect x="119.25" y="394.05" width="3.30" height="3.30" fill="#111" />
<rect x="119.25" y="399.85" width="3.30" height="3.30" fill="#111" />
<rect x="116.35" y="380.35" width="3.30" height="3.30" fill="#111" />
<rect x="124.35" y="381.85" width="3.30" height="3.30" fill="#111" />
<line x1="52.00" y1="429.80" x2="148.80" y2="429.80" stroke="#222" stroke-width="1.2" />
<path d="M80,336.4 L80,330.7 L120.9,330.7 L120.9,336.4" fill="none" stroke="#222" stroke-width="1.0" />
<text transform="translate(94.40,330.00) scale(1.3250,1)" x="-0.03" y="0" font-size="11.50" font-weight="bold" fill="#1a1a1a" >**</text>
<text transform="translate(68.55,443.80) scale(1.0000,1)" x="-0.25" y="0" font-size="8.70" font-weight="bold" fill="#1a1a1a" >Sham</text>
<text transform="translate(96.42,443.80) scale(1.0000,1)" x="-0.58" y="0" font-size="8.70" font-weight="bold" fill="#1a1a1a" >Denervation</text>
<text transform="translate(32.00,442.80) rotate(-90) scale(1.0178,1)" x="-0.52" y="0" font-size="8.70" font-weight="bold" fill="#1a1a1a">UCP1 Relative gene expression</text>
<rect x="174.90" y="340.20" width="505.10" height="89.10" fill="#020202" />
<rect x="174.90" y="345.30" width="29.00" height="8.90" fill="#e01a10" filter="url(#blur05)"/>
<rect x="174.90" y="392.80" width="41.00" height="9.50" fill="#e01a10" filter="url(#blur05)"/>
<rect x="174.90" y="345.00" width="3.70" height="60.00" fill="#c01a10" opacity="0.8" filter="url(#blur05)"/>
<ellipse cx="176.6" cy="393.5" rx="2" ry="3" fill="#f0e020" opacity="0.9" filter="url(#blur05)"/>
<ellipse cx="176.6" cy="360" rx="1.5" ry="4" fill="#c0a020" opacity="0.6" filter="url(#blur05)"/>
<rect x="664.00" y="340.20" width="15.00" height="40.00" fill="#142a0c" opacity="0.7" filter="url(#blur1)"/>
<ellipse cx="675" cy="386" rx="3.6" ry="11" fill="#b83010" opacity="0.85" filter="url(#blur05)"/>
<ellipse cx="671.5" cy="378" rx="2" ry="1.2" fill="#e03010" opacity="0.9"/>
<ellipse cx="676" cy="372" rx="1.2" ry="1.2" fill="#e03010" opacity="0.9"/>
<ellipse cx="675" cy="350" rx="1" ry="0.8" fill="#e03010" opacity="0.9"/>
<ellipse cx="671" cy="381.5" rx="1.2" ry="1" fill="#c0c020" opacity="0.8"/>
<rect x="676.00" y="426.50" width="4.00" height="1.60" fill="#3cf00a" />
<rect x="232.6" y="387.6" width="35.3" height="5.2" rx="2.4" fill="#3cf00a" filter="url(#blur05)"/>
<rect x="232.6" y="401.6" width="35.3" height="5.2" rx="2.4" fill="#3cf00a" filter="url(#blur05)"/>
<rect x="280.0" y="387.6" width="36.0" height="5.2" rx="2.4" fill="#3cf00a" filter="url(#blur05)"/>
<rect x="280.0" y="401.6" width="36.0" height="5.2" rx="2.4" fill="#3cf00a" filter="url(#blur05)"/>
<rect x="329.4" y="387.6" width="37.2" height="5.2" rx="2.4" fill="#3cf00a" filter="url(#blur05)"/>
<rect x="329.4" y="401.6" width="37.2" height="5.2" rx="2.4" fill="#3cf00a" filter="url(#blur05)"/>
<rect x="379.9" y="387.6" width="38.7" height="5.2" rx="2.4" fill="#3cf00a" filter="url(#blur05)"/>
<rect x="379.9" y="401.6" width="38.7" height="5.2" rx="2.4" fill="#3cf00a" filter="url(#blur05)"/>
<rect x="430.0" y="387.6" width="36.6" height="5.2" rx="2.4" fill="#3cf00a" filter="url(#blur05)"/>
<rect x="430.0" y="401.6" width="36.6" height="5.2" rx="2.4" fill="#3cf00a" filter="url(#blur05)"/>
<rect x="479.5" y="387.6" width="39.1" height="5.2" rx="2.4" fill="#3cf00a" filter="url(#blur05)"/>
<rect x="480.5" y="403.0" width="37.1" height="3.0" rx="1.4" fill="#3cf00a" filter="url(#blur05)"/>
<rect x="530.0" y="387.6" width="38.5" height="5.2" rx="2.4" fill="#3cf00a" filter="url(#blur05)"/>
<rect x="531.0" y="403.0" width="36.5" height="3.0" rx="1.4" fill="#3cf00a" filter="url(#blur05)"/>
<rect x="579.7" y="387.6" width="38.7" height="5.2" rx="2.4" fill="#3cf00a" filter="url(#blur05)"/>
<rect x="580.7" y="403.0" width="36.7" height="3.0" rx="1.4" fill="#3cf00a" filter="url(#blur05)"/>
<rect x="631.0" y="387.6" width="45.5" height="5.2" rx="2.4" fill="#3cf00a" filter="url(#blur05)"/>
<rect x="632.0" y="403.0" width="43.5" height="3.0" rx="1.4" fill="#3cf00a" filter="url(#blur05)"/>
<line x1="230.20" y1="372.80" x2="463.00" y2="372.80" stroke="#ee2a1a" stroke-width="2.0" />
<line x1="476.50" y1="372.00" x2="667.50" y2="372.00" stroke="#ffffff" stroke-width="2.4" />
<text transform="translate(324.10,363.60) scale(0.9576,1)" x="-0.56" y="0" font-size="19.40" font-weight="bold" fill="#ee2a1a" >Sham</text>
<text transform="translate(545.30,363.60) scale(0.9703,1)" x="-1.33" y="0" font-size="19.90" font-weight="bold" fill="#ffffff" >Denervation</text>
<text transform="translate(183.00,353.80) scale(1.0513,1)" x="-0.39" y="0" font-size="12.80" font-weight="bold" fill="#ffffff" >55 KDa</text>
<text transform="translate(179.00,402.30) scale(1.0397,1)" x="-0.29" y="0" font-size="12.80" font-weight="bold" fill="#ffffff" >35 KDa</text>
<text transform="translate(179.00,388.00) scale(1.0640,1)" x="-0.45" y="0" font-size="11.00" font-weight="bold" fill="#44e81a" >GAPDH</text>
<text transform="translate(183.00,414.00) scale(1.0291,1)" x="-0.66" y="0" font-size="11.00" font-weight="bold" fill="#44e81a" >UCP1</text>
<line x1="53.80" y1="493.30" x2="53.80" y2="599.10" stroke="#222" stroke-width="1.1" />
<line x1="53.80" y1="599.10" x2="156.20" y2="599.10" stroke="#222" stroke-width="1.1" />
<line x1="50.80" y1="493.80" x2="53.80" y2="493.80" stroke="#222" stroke-width="1.0" />
<text transform="translate(39.77,496.60) scale(1.0000,1)" x="-0.49" y="0" font-size="7.80" font-weight="bold" fill="#222" >1.0</text>
<line x1="50.80" y1="514.86" x2="53.80" y2="514.86" stroke="#222" stroke-width="1.0" />
<text transform="translate(39.51,517.66) scale(1.0000,1)" x="-0.31" y="0" font-size="7.80" font-weight="bold" fill="#222" >0.8</text>
<line x1="50.80" y1="535.92" x2="53.80" y2="535.92" stroke="#222" stroke-width="1.0" />
<text transform="translate(39.55,538.72) scale(1.0000,1)" x="-0.31" y="0" font-size="7.80" font-weight="bold" fill="#222" >0.6</text>
<line x1="50.80" y1="556.98" x2="53.80" y2="556.98" stroke="#222" stroke-width="1.0" />
<text transform="translate(39.31,559.78) scale(1.0000,1)" x="-0.31" y="0" font-size="7.80" font-weight="bold" fill="#222" >0.4</text>
<line x1="50.80" y1="578.04" x2="53.80" y2="578.04" stroke="#222" stroke-width="1.0" />
<text transform="translate(39.58,580.84) scale(1.0000,1)" x="-0.31" y="0" font-size="7.80" font-weight="bold" fill="#222" >0.2</text>
<line x1="50.80" y1="599.10" x2="53.80" y2="599.10" stroke="#222" stroke-width="1.0" />
<text transform="translate(39.59,601.90) scale(1.0000,1)" x="-0.31" y="0" font-size="7.80" font-weight="bold" fill="#222" >0.0</text>
<line x1="83.00" y1="599.10" x2="83.00" y2="602.90" stroke="#222" stroke-width="1.0" />
<line x1="127.50" y1="599.10" x2="127.50" y2="602.90" stroke="#222" stroke-width="1.0" />
<path d="M69.3,599.1 L69.3,521.49 L96.4,521.49 L96.4,599.1" fill="none" stroke="#ee1c16" stroke-width="1.7" />
<path d="M113.8,599.1 L113.8,564.56 L141.2,564.56 L141.2,599.1" fill="none" stroke="#111" stroke-width="1.7" />
<line x1="53.30" y1="599.10" x2="156.20" y2="599.10" stroke="#222" stroke-width="1.2" />
<line x1="76.00" y1="517.40" x2="90.10" y2="517.40" stroke="#ee1c16" stroke-width="1.1" />
<line x1="76.00" y1="524.50" x2="90.10" y2="524.50" stroke="#ee1c16" stroke-width="1.1" />
<line x1="83.00" y1="517.40" x2="83.00" y2="524.50" stroke="#ee1c16" stroke-width="1.1" />
<line x1="120.60" y1="559.20" x2="134.60" y2="559.20" stroke="#111" stroke-width="1.1" />
<line x1="120.60" y1="569.00" x2="134.60" y2="569.00" stroke="#111" stroke-width="1.1" />
<line x1="127.50" y1="559.20" x2="127.50" y2="569.00" stroke="#111" stroke-width="1.1" />
<circle cx="83.00" cy="508.90" r="2.0" fill="#f0201a" />
<circle cx="76.80" cy="520.00" r="2.0" fill="#f0201a" />
<circle cx="89.00" cy="521.20" r="2.0" fill="#f0201a" />
<circle cx="83.00" cy="521.50" r="2.0" fill="#f0201a" />
<circle cx="83.00" cy="531.60" r="2.0" fill="#f0201a" />
<rect x="125.80" y="551.30" width="3.40" height="3.40" fill="#111" />
<rect x="122.50" y="561.80" width="3.40" height="3.40" fill="#111" />
<rect x="128.90" y="562.90" width="3.40" height="3.40" fill="#111" />
<rect x="125.80" y="574.40" width="3.40" height="3.40" fill="#111" />
<path d="M83,502.3 L83,496.2 L127.5,496.2 L127.5,502.3" fill="none" stroke="#222" stroke-width="1.0" />
<text transform="translate(96.80,495.90) scale(1.3302,1)" x="-0.03" y="0" font-size="11.50" font-weight="bold" fill="#1a1a1a" >***</text>
<text transform="translate(70.73,613.30) scale(1.0000,1)" x="-0.27" y="0" font-size="9.40" font-weight="bold" fill="#1a1a1a" >Sham</text>
<text transform="translate(102.30,613.30) scale(0.9433,1)" x="-0.63" y="0" font-size="9.40" font-weight="bold" fill="#1a1a1a" >Denervation</text>
<text transform="translate(31.30,577.90) rotate(-90) scale(1.0450,1)" x="-0.58" y="0" font-size="9.60" font-weight="bold" fill="#1a1a1a">UCP1/GAPDH</text>
<polyline points="189.2,549.0 190.0,549.1 190.8,549.1 191.6,549.2 192.4,549.3 193.2,549.4 194.0,549.4 194.8,549.5 195.6,549.6 196.4,549.6 197.2,549.6 198.0,549.7 198.8,549.7 199.6,549.7 200.4,549.7 201.2,549.8 202.0,549.8 202.8,549.8 203.6,549.7 204.4,549.6 205.2,549.6 206.0,549.5 206.8,549.5 207.6,549.4 208.4,549.3 209.2,549.3 210.0,549.2 210.8,549.2 211.6,549.1 212.4,549.1 213.2,549.1 214.0,549.1 214.8,549.0 215.6,549.0 216.4,549.0 217.2,548.9 218.0,548.8 218.8,548.7 219.6,548.6 220.4,548.5 221.2,548.3 222.0,547.8 222.8,547.3 223.6,546.8 224.4,546.4 225.2,545.7 226.0,544.7 226.8,543.7 227.6,542.7 228.4,541.7 229.2,540.5 230.0,538.9 230.8,537.4 231.6,535.8 232.4,534.2 233.2,532.6 234.0,531.0 234.8,529.4 235.6,527.7 236.4,526.0 237.2,524.2 238.0,522.5 238.8,521.7 239.6,521.0 240.4,520.2 241.2,519.5 242.0,520.1 242.8,521.0 243.6,522.5 244.4,525.2 245.2,527.9 246.0,531.6 246.8,535.5 247.6,539.6 248.4,544.4 249.2,549.2 250.0,553.2 250.8,556.8 251.6,560.4 252.4,563.2 253.2,566.0 254.0,568.6 254.8,570.9 255.6,572.2 256.4,573.2 257.2,573.3 258.0,573.1 258.8,572.7 259.6,571.8 260.4,570.9 261.2,570.0 262.0,569.1 262.8,567.9 263.6,566.8 264.4,565.6 265.2,564.4 266.0,563.5 266.8,562.6 267.6,561.8 268.4,560.9 269.2,560.0 270.0,559.2 270.8,558.6 271.6,558.0 272.4,557.4 273.2,556.8 274.0,556.2 274.8,555.6 275.6,555.2 276.4,554.8 277.2,554.5 278.0,554.1 278.8,553.7 279.6,553.3 280.4,553.0 281.2,552.6 282.0,552.2 282.8,551.9 283.6,551.5 284.4,551.2 285.2,550.9 286.0,550.6 286.8,550.3 287.6,550.1 288.4,549.9 289.2,549.7 290.0,549.5 290.8,549.4 291.6,549.2 292.4,549.0 293.2,548.9 294.0,548.9 294.8,548.8 295.6,548.8 296.4,548.7 297.2,548.7 298.0,548.6 298.8,548.6 299.6,548.6 300.4,548.6 301.2,548.6 302.0,548.6 302.8,548.6 303.6,548.6 304.4,548.6" fill="none" stroke="#f02a1a" stroke-width="7.0" stroke-linejoin="round"/>
<polyline points="189.2,547.5 190.0,549.4 190.8,551.3 191.6,553.0 192.4,554.4 193.2,555.3 194.0,555.7 194.8,555.6 195.6,555.0 196.4,554.1 197.2,553.1 198.0,552.1 198.8,551.4 199.6,550.9 200.4,550.7 201.2,550.9 202.0,551.2 202.8,551.5 203.6,551.7 204.4,551.6 205.2,551.1 206.0,550.2 206.8,549.0 207.6,547.6 208.4,546.0 209.2,544.6 210.0,543.4 210.8,542.7 211.6,542.6 212.4,543.0 213.2,544.0 214.0,545.4 214.8,547.0 215.6,548.6 216.4,550.1 217.2,551.3 218.0,552.0 218.8,552.2 219.6,552.1 220.4,551.7 221.2,551.1 222.0,550.4 222.8,549.6 223.6,549.1 224.4,548.9 225.2,548.9 226.0,547.8 226.8,545.8 227.6,544.9 228.4,544.0 229.2,543.0 230.0,541.5 230.8,539.6 231.6,537.7 232.4,535.6 233.2,533.5 234.0,531.5 234.8,529.5 235.6,527.7 236.4,525.8 237.2,524.1 238.0,522.5 238.8,521.3 239.6,520.9 240.4,520.5 241.2,520.0 242.0,519.7 242.8,520.6 243.6,521.5 244.4,523.5 245.2,526.2 246.0,528.9 246.8,532.8 247.6,536.9 248.4,541.3 249.2,546.4 250.0,551.5 250.8,555.6 251.6,559.5 252.4,563.1 253.2,566.1 254.0,569.0 254.8,571.3 255.6,573.3 256.4,573.9 257.2,574.4 258.0,573.7 258.8,573.1 259.6,572.1 260.4,571.0 261.2,570.0 262.0,567.6 262.8,566.7 263.6,565.9 264.4,565.1 265.2,564.2 266.0,563.2 266.8,562.3 267.6,561.2 268.4,560.0 269.2,558.7 270.0,557.4 270.8,556.4 271.6,555.8 272.4,555.5 273.2,555.5 274.0,555.8 274.8,556.3 275.6,556.9 276.4,557.7 277.2,558.3 278.0,558.6 278.8,558.6 279.6,558.2 280.4,557.5 281.2,556.5 282.0,555.3 282.8,554.1 283.6,553.0 284.4,552.1 285.2,551.4 286.0,550.9 286.8,550.6 287.6,550.5 288.4,550.6 289.2,550.5 290.0,550.3 290.8,549.8 291.6,549.0 292.4,547.9 293.2,546.8 294.0,545.7 294.8,544.7 295.6,544.1 296.4,543.8 297.2,543.9 298.0,544.5 298.8,545.5 299.6,546.8 300.4,548.2 301.2,549.6 302.0,550.8 302.8,551.7 303.6,552.2 304.4,552.4" fill="none" stroke="#f02a1a" stroke-width="0.6" opacity="0.85"/>
<polyline points="189.2,547.8 190.0,548.0 190.8,547.9 191.6,547.7 192.4,547.3 193.2,547.0 194.0,546.9 194.8,547.1 195.6,547.6 196.4,548.5 197.2,549.4 198.0,550.3 198.8,550.9 199.6,551.2 200.4,551.1 201.2,550.7 202.0,550.1 202.8,549.6 203.6,549.2 204.4,549.1 205.2,549.2 206.0,549.3 206.8,549.2 207.6,549.0 208.4,548.4 209.2,547.7 210.0,546.9 210.8,546.3 211.6,545.9 212.4,546.0 213.2,546.4 214.0,547.1 214.8,547.9 215.6,548.6 216.4,549.0 217.2,549.1 218.0,549.0 218.8,548.7 219.6,548.3 220.4,547.9 221.2,547.6 222.0,547.4 222.8,547.3 223.6,547.1 224.4,546.3 225.2,545.0 226.0,543.0 226.8,541.5 227.6,540.2 228.4,538.6 229.2,536.9 230.0,535.3 230.8,533.8 231.6,532.4 232.4,530.9 233.2,529.4 234.0,527.9 234.8,526.2 235.6,524.4 236.4,522.6 237.2,521.3 238.0,520.7 238.8,520.0 239.6,519.5 240.4,519.4 241.2,520.4 242.0,521.3 242.8,523.6 243.6,526.2 244.4,528.9 245.2,532.6 246.0,536.4 246.8,540.8 247.6,545.5 248.4,550.3 249.2,554.0 250.0,557.6 250.8,560.8 251.6,563.5 252.4,566.3 253.2,568.5 254.0,570.5 254.8,571.5 255.6,572.4 256.4,572.4 257.2,572.5 258.0,571.9 258.8,571.2 259.6,570.4 260.4,569.5 261.2,568.3 262.0,567.4 262.8,565.8 263.6,564.4 264.4,563.1 265.2,562.3 266.0,561.6 266.8,560.8 267.6,559.8 268.4,558.8 269.2,557.7 270.0,556.7 270.8,555.7 271.6,554.9 272.4,554.3 273.2,554.0 274.0,554.0 274.8,554.2 275.6,554.4 276.4,554.4 277.2,554.2 278.0,553.8 278.8,553.2 279.6,552.6 280.4,552.1 281.2,551.7 282.0,551.5 282.8,551.4 283.6,551.3 284.4,551.0 285.2,550.7 286.0,549.9 286.8,549.1 287.6,548.2 288.4,547.4 289.2,546.9 290.0,546.6 290.8,546.7 291.6,547.1 292.4,547.6 293.2,548.0 294.0,548.2 294.8,548.3 295.6,548.1 296.4,548.0 297.2,547.9 298.0,548.0 298.8,548.3 299.6,548.8 300.4,549.2 301.2,549.6 302.0,549.7 302.8,549.5 303.6,549.0 304.4,548.3" fill="none" stroke="#f02a1a" stroke-width="0.6" opacity="0.85"/>
<polyline points="189.2,545.7 190.0,544.4 190.8,544.2 191.6,544.8 192.4,545.9 193.2,547.0 194.0,547.8 194.8,548.1 195.6,547.9 196.4,547.4 197.2,547.1 198.0,547.2 198.8,548.1 199.6,549.7 200.4,551.8 201.2,553.8 202.0,555.4 202.8,556.1 203.6,555.6 204.4,554.2 205.2,552.3 206.0,550.3 206.8,548.6 207.6,547.7 208.4,547.4 209.2,547.6 210.0,548.0 210.8,548.2 211.6,547.9 212.4,547.0 213.2,545.8 214.0,544.6 214.8,543.8 215.6,543.9 216.4,545.0 217.2,546.8 218.0,549.0 218.8,551.2 219.6,552.8 220.4,553.6 221.2,553.4 222.0,552.3 222.8,550.6 223.6,549.0 224.4,547.8 225.2,547.2 226.0,546.3 226.8,544.9 227.6,543.9 228.4,542.8 229.2,541.5 230.0,539.7 230.8,537.6 231.6,535.6 232.4,533.7 233.2,532.1 234.0,530.7 234.8,529.6 235.6,528.5 236.4,527.3 237.2,526.0 238.0,524.4 238.8,522.9 239.6,522.0 240.4,521.1 241.2,520.3 242.0,519.9 242.8,520.9 243.6,522.1 244.4,524.3 245.2,527.1 246.0,529.6 246.8,533.2 247.6,536.6 248.4,540.2 249.2,544.5 250.0,548.9 250.8,552.6 251.6,556.3 252.4,559.9 253.2,563.1 254.0,566.2 254.8,568.9 255.6,571.2 256.4,572.1 257.2,573.0 258.0,572.8 258.8,572.8 259.6,572.5 260.4,572.1 261.2,571.7 262.0,573.5 262.8,572.9 263.6,571.5 264.4,569.5 265.2,567.0 266.0,564.4 266.8,562.3 267.6,560.6 268.4,559.5 269.2,558.8 270.0,558.4 270.8,557.9 271.6,557.4 272.4,556.6 273.2,555.4 274.0,554.2 274.8,553.1 275.6,552.5 276.4,552.8 277.2,553.5 278.0,554.7 278.8,555.8 279.6,556.7 280.4,556.9 281.2,556.6 282.0,555.6 282.8,554.3 283.6,553.0 284.4,551.9 285.2,551.3 286.0,551.0 286.8,550.9 287.6,550.8 288.4,550.6 289.2,549.8 290.0,548.5 290.8,546.9 291.6,545.4 292.4,544.3 293.2,544.0 294.0,544.6 294.8,545.9 295.6,547.6 296.4,549.2 297.2,550.5 298.0,551.2 298.8,551.3 299.6,550.9 300.4,550.3 301.2,549.9 302.0,549.8 302.8,550.2 303.6,550.8 304.4,551.4" fill="none" stroke="#f02a1a" stroke-width="0.6" opacity="0.85"/>
<polyline points="189.2,543.6 190.0,544.3 190.8,546.2 191.6,548.9 192.4,551.9 193.2,554.5 194.0,556.1 194.8,556.4 195.6,555.6 196.4,554.0 197.2,552.3 198.0,550.8 198.8,550.1 199.6,550.1 200.4,550.5 201.2,551.0 202.0,550.9 202.8,550.0 203.6,548.3 204.4,546.0 205.2,543.9 206.0,542.4 206.8,542.1 207.6,543.1 208.4,545.2 209.2,547.9 210.0,550.5 210.8,552.4 211.6,553.3 212.4,553.3 213.2,552.5 214.0,551.6 214.8,551.1 215.6,551.2 216.4,551.9 217.2,552.9 218.0,553.7 218.8,553.8 219.6,552.8 220.4,550.8 221.2,548.0 222.0,545.1 222.8,542.3 223.6,540.5 224.4,539.9 225.2,540.6 226.0,543.3 226.8,544.5 227.6,543.9 228.4,543.1 229.2,542.1 230.0,541.0 230.8,539.4 231.6,537.8 232.4,536.5 233.2,535.4 234.0,534.3 234.8,533.2 235.6,531.9 236.4,530.3 237.2,528.2 238.0,525.8 238.8,523.3 239.6,521.5 240.4,520.3 241.2,519.3 242.0,518.6 242.8,518.9 243.6,520.1 244.4,521.2 245.2,523.9 246.0,526.4 246.8,529.4 247.6,533.2 248.4,537.1 249.2,542.0 250.0,547.4 250.8,552.5 251.6,556.8 252.4,561.0 253.2,564.3 254.0,567.1 254.8,569.4 255.6,571.2 256.4,572.4 257.2,572.9 258.0,573.2 258.8,573.0 259.6,572.9 260.4,572.1 261.2,571.2 262.0,569.7 262.8,567.8 263.6,565.4 264.4,563.1 265.2,561.3 266.0,560.4 266.8,560.3 267.6,561.1 268.4,562.2 269.2,563.1 270.0,563.4 270.8,563.1 271.6,562.2 272.4,560.9 273.2,559.6 274.0,558.4 274.8,557.7 275.6,557.5 276.4,557.5 277.2,557.5 278.0,557.1 278.8,556.0 279.6,554.2 280.4,552.1 281.2,550.0 282.0,548.3 282.8,547.3 283.6,547.3 284.4,548.0 285.2,548.7 286.0,550.2 286.8,551.2 287.6,551.6 288.4,551.4 289.2,550.9 290.0,550.4 290.8,550.2 291.6,550.6 292.4,551.6 293.2,552.8 294.0,553.9 294.8,554.4 295.6,553.9 296.4,552.5 297.2,550.4 298.0,548.0 298.8,545.8 299.6,544.5 300.4,544.0 301.2,544.4 302.0,545.4 302.8,546.4 303.6,547.2 304.4,547.4" fill="none" stroke="#f02a1a" stroke-width="0.6" opacity="0.85"/>
<polyline points="189.2,547.7 190.0,548.4 190.8,549.0 191.6,549.3 192.4,549.4 193.2,549.3 194.0,549.2 194.8,549.2 195.6,549.5 196.4,550.0 197.2,550.8 198.0,551.6 198.8,552.4 199.6,552.8 200.4,552.9 201.2,552.5 202.0,551.8 202.8,550.8 203.6,549.8 204.4,549.0 205.2,548.5 206.0,548.3 206.8,548.4 207.6,548.6 208.4,548.8 209.2,548.8 210.0,548.6 210.8,548.2 211.6,547.7 212.4,547.4 213.2,547.3 214.0,547.6 214.8,548.2 215.6,549.1 216.4,550.0 217.2,550.9 218.0,551.4 218.8,551.5 219.6,551.2 220.4,550.5 221.2,549.4 222.0,548.3 222.8,547.3 223.6,546.7 224.4,546.0 225.2,545.2 226.0,544.1 226.8,543.0 227.6,541.9 228.4,540.5 229.2,538.7 230.0,536.9 230.8,535.2 231.6,533.6 232.4,532.0 233.2,530.6 234.0,529.2 234.8,527.8 235.6,526.3 236.4,524.7 237.2,523.1 238.0,522.4 238.8,521.6 239.6,520.7 240.4,519.9 241.2,520.7 242.0,521.6 242.8,523.4 243.6,526.2 244.4,528.9 245.2,532.7 246.0,536.5 246.8,540.4 247.6,545.0 248.4,549.5 249.2,553.2 250.0,556.7 250.8,560.2 251.6,563.1 252.4,566.1 253.2,568.8 254.0,571.3 254.8,572.6 255.6,573.6 256.4,573.6 257.2,573.3 258.0,572.8 258.8,572.0 259.6,571.2 260.4,570.5 261.2,569.7 262.0,569.6 262.8,568.7 263.6,567.6 264.4,566.2 265.2,564.7 266.0,563.2 266.8,561.7 267.6,560.3 268.4,559.1 269.2,558.2 270.0,557.7 270.8,557.4 271.6,557.0 272.4,556.6 273.2,556.0 274.0,555.2 274.8,554.6 275.6,554.0 276.4,553.6 277.2,553.4 278.0,553.5 278.8,553.7 279.6,553.9 280.4,554.2 281.2,554.2 282.0,554.0 282.8,553.6 283.6,552.9 284.4,552.0 285.2,551.3 286.0,550.5 286.8,550.0 287.6,549.8 288.4,549.7 289.2,549.7 290.0,549.5 290.8,549.2 291.6,548.7 292.4,548.2 293.2,547.6 294.0,547.1 294.8,546.9 295.6,547.0 296.4,547.4 297.2,548.1 298.0,548.9 298.8,549.7 299.6,550.2 300.4,550.5 301.2,550.5 302.0,550.2 302.8,549.9 303.6,549.6 304.4,549.4" fill="none" stroke="#f02a1a" stroke-width="0.6" opacity="0.85"/>
<polyline points="189.2,553.1 190.0,553.7 190.8,554.0 191.6,553.6 192.4,552.6 193.2,550.9 194.0,548.7 194.8,546.3 195.6,543.9 196.4,542.0 197.2,540.9 198.0,540.7 198.8,541.3 199.6,542.8 200.4,544.9 201.2,547.2 202.0,549.4 202.8,551.1 203.6,552.3 204.4,552.9 205.2,552.7 206.0,552.3 206.8,551.7 207.6,551.3 208.4,551.3 209.2,551.8 210.0,552.9 210.8,554.3 211.6,555.8 212.4,557.1 213.2,557.9 214.0,557.9 214.8,557.1 215.6,555.4 216.4,553.1 217.2,550.3 218.0,547.5 218.8,545.0 219.6,543.1 220.4,541.9 221.2,541.7 222.0,542.2 222.8,543.1 223.6,544.0 224.4,544.8 225.2,545.3 226.0,545.9 226.8,546.0 227.6,544.9 228.4,543.7 229.2,542.5 230.0,541.5 230.8,540.5 231.6,539.2 232.4,538.1 233.2,537.2 234.0,536.2 234.8,535.2 235.6,534.1 236.4,532.7 237.2,531.1 238.0,529.1 238.8,526.9 239.6,524.6 240.4,523.1 241.2,521.7 242.0,520.5 242.8,519.5 243.6,519.9 244.4,520.7 245.2,522.2 246.0,525.1 246.8,527.9 247.6,531.4 248.4,535.3 249.2,539.0 250.0,543.4 250.8,547.9 251.6,551.7 252.4,555.2 253.2,558.8 254.0,561.9 254.8,565.2 255.6,568.4 256.4,571.5 257.2,573.7 258.0,575.2 258.8,575.9 259.6,575.9 260.4,575.5 261.2,574.4 262.0,575.5 262.8,573.7 263.6,571.8 264.4,569.9 265.2,568.4 266.0,567.2 266.8,566.3 267.6,565.6 268.4,565.1 269.2,564.2 270.0,563.0 270.8,561.4 271.6,559.3 272.4,557.3 273.2,555.1 274.0,553.2 274.8,551.6 275.6,550.5 276.4,550.1 277.2,550.5 278.0,551.4 278.8,552.6 279.6,553.9 280.4,555.0 281.2,555.8 282.0,556.1 282.8,556.0 283.6,555.5 284.4,554.7 285.2,554.3 286.0,553.6 286.8,553.3 287.6,553.3 288.4,553.7 289.2,554.4 290.0,555.2 290.8,555.8 291.6,555.9 292.4,555.5 293.2,554.3 294.0,552.6 294.8,550.5 295.6,548.2 296.4,546.0 297.2,544.2 298.0,543.0 298.8,542.5 299.6,542.7 300.4,543.5 301.2,544.7 302.0,546.1 302.8,547.3 303.6,548.2 304.4,548.7" fill="none" stroke="#f02a1a" stroke-width="0.6" opacity="0.85"/>
<polyline points="189.2,547.6 190.0,548.1 190.8,548.2 191.6,547.9 192.4,547.1 193.2,546.0 194.0,544.7 194.8,543.6 195.6,542.8 196.4,542.5 197.2,543.1 198.0,544.3 198.8,546.3 199.6,548.9 200.4,551.6 201.2,554.3 202.0,556.6 202.8,558.2 203.6,559.1 204.4,559.1 205.2,558.3 206.0,557.1 206.8,555.5 207.6,554.0 208.4,552.7 209.2,551.7 210.0,551.3 210.8,551.4 211.6,551.7 212.4,552.2 213.2,552.6 214.0,552.5 214.8,552.0 215.6,550.9 216.4,549.1 217.2,547.0 218.0,544.6 218.8,542.4 219.6,540.6 220.4,539.5 221.2,539.0 222.0,539.2 222.8,540.2 223.6,541.8 224.4,543.7 225.2,545.4 226.0,546.1 226.8,545.1 227.6,544.3 228.4,543.4 229.2,542.1 230.0,540.4 230.8,538.6 231.6,536.9 232.4,535.2 233.2,533.6 234.0,532.2 234.8,530.9 235.6,529.5 236.4,528.0 237.2,526.5 238.0,525.1 238.8,524.3 239.6,523.2 240.4,521.9 241.2,520.8 242.0,520.9 242.8,521.1 243.6,522.6 244.4,524.8 245.2,527.3 246.0,531.3 246.8,535.4 247.6,540.1 248.4,545.3 249.2,550.6 250.0,554.6 250.8,558.5 251.6,561.9 252.4,564.8 253.2,567.5 254.0,569.9 254.8,572.0 255.6,572.9 256.4,573.9 257.2,574.0 258.0,574.2 258.8,574.1 259.6,573.8 260.4,573.4 261.2,573.0 262.0,576.1 262.8,575.1 263.6,573.5 264.4,571.3 265.2,568.8 266.0,566.2 266.8,563.7 267.6,561.3 268.4,559.2 269.2,557.5 270.0,556.5 270.8,555.9 271.6,555.7 272.4,555.6 273.2,555.5 274.0,555.3 274.8,554.7 275.6,554.1 276.4,553.2 277.2,552.2 278.0,551.1 278.8,550.2 279.6,549.7 280.4,549.5 281.2,549.9 282.0,550.7 282.8,552.0 283.6,553.4 284.4,554.9 285.2,557.0 286.0,558.1 286.8,558.5 287.6,558.4 288.4,557.7 289.2,556.5 290.0,554.9 290.8,553.3 291.6,551.8 292.4,550.6 293.2,549.9 294.0,549.6 294.8,549.7 295.6,549.9 296.4,550.2 297.2,550.3 298.0,550.1 298.8,549.5 299.6,548.4 300.4,547.1 301.2,545.5 302.0,544.0 302.8,542.7 303.6,541.9 304.4,541.7" fill="none" stroke="#f02a1a" stroke-width="0.6" opacity="0.85"/>
<polyline points="189.2,552.7 190.0,552.9 190.8,552.8 191.6,552.5 192.4,552.0 193.2,551.5 194.0,551.2 194.8,550.9 195.6,550.8 196.4,551.0 197.2,551.4 198.0,552.0 198.8,552.8 199.6,553.6 200.4,554.4 201.2,555.0 202.0,555.3 202.8,555.2 203.6,554.8 204.4,554.0 205.2,552.8 206.0,551.3 206.8,549.5 207.6,547.6 208.4,545.6 209.2,543.7 210.0,542.0 210.8,540.6 211.6,539.6 212.4,539.1 213.2,539.0 214.0,539.3 214.8,540.0 215.6,540.9 216.4,542.0 217.2,543.2 218.0,544.3 218.8,545.4 219.6,546.2 220.4,546.4 221.2,546.3 222.0,545.9 222.8,545.3 223.6,544.6 224.4,543.4 225.2,542.1 226.0,541.3 226.8,540.7 227.6,539.8 228.4,538.5 229.2,537.2 230.0,535.9 230.8,534.7 231.6,533.5 232.4,532.2 233.2,531.0 234.0,529.7 234.8,528.1 235.6,526.4 236.4,524.7 237.2,523.3 238.0,522.3 238.8,521.2 239.6,520.0 240.4,519.4 241.2,519.8 242.0,520.1 242.8,522.3 243.6,524.6 244.4,527.5 245.2,531.3 246.0,535.2 246.8,539.7 247.6,544.6 248.4,549.3 249.2,553.1 250.0,556.9 250.8,560.1 251.6,563.0 252.4,565.8 253.2,568.1 254.0,569.9 254.8,570.7 255.6,571.1 256.4,570.8 257.2,570.5 258.0,569.5 258.8,568.6 259.6,567.8 260.4,567.1 261.2,566.2 262.0,564.2 262.8,564.1 263.6,564.2 264.4,564.3 265.2,564.7 266.0,565.0 266.8,565.1 267.6,565.0 268.4,564.6 269.2,564.0 270.0,563.3 270.8,562.2 271.6,561.0 272.4,559.6 273.2,558.1 274.0,556.6 274.8,555.4 275.6,554.2 276.4,553.3 277.2,552.5 278.0,552.0 278.8,551.6 279.6,551.3 280.4,551.1 281.2,550.9 282.0,550.8 282.8,550.5 283.6,550.1 284.4,549.5 285.2,548.7 286.0,547.6 286.8,546.5 287.6,545.3 288.4,544.1 289.2,542.9 290.0,541.8 290.8,541.0 291.6,540.6 292.4,540.5 293.2,540.8 294.0,541.5 294.8,542.5 295.6,543.7 296.4,545.1 297.2,546.6 298.0,548.1 298.8,549.5 299.6,550.7 300.4,551.6 301.2,552.2 302.0,552.5 302.8,552.5 303.6,552.3 304.4,551.8" fill="none" stroke="#f02a1a" stroke-width="0.6" opacity="0.85"/>
<polyline points="189.2,550.0 190.0,549.9 190.8,550.3 191.6,550.8 192.4,551.4 193.2,551.8 194.0,551.8 194.8,551.1 195.6,549.9 196.4,548.3 197.2,546.5 198.0,544.8 198.8,543.7 199.6,543.2 200.4,543.4 201.2,544.3 202.0,545.7 202.8,547.2 203.6,548.6 204.4,549.5 205.2,550.0 206.0,550.0 206.8,549.7 207.6,549.4 208.4,549.1 209.2,549.2 210.0,549.8 210.8,550.7 211.6,551.9 212.4,552.9 213.2,553.7 214.0,553.8 214.8,553.3 215.6,552.1 216.4,550.3 217.2,548.2 218.0,546.3 218.8,544.7 219.6,543.7 220.4,543.4 221.2,543.6 222.0,543.9 222.8,544.3 223.6,544.5 224.4,544.4 225.2,543.8 226.0,543.1 226.8,542.6 227.6,541.5 228.4,540.4 229.2,539.4 230.0,538.1 230.8,537.0 231.6,535.8 232.4,534.7 233.2,533.5 234.0,532.1 234.8,530.4 235.6,528.6 236.4,526.5 237.2,524.3 238.0,522.2 238.8,521.0 239.6,520.1 240.4,519.2 241.2,518.5 242.0,519.2 242.8,520.1 243.6,521.6 244.4,524.2 245.2,526.7 246.0,530.1 246.8,533.7 247.6,537.5 248.4,542.3 249.2,547.1 250.0,551.5 250.8,555.5 251.6,559.6 252.4,562.9 253.2,566.2 254.0,569.1 254.8,571.5 255.6,572.8 256.4,573.6 257.2,573.5 258.0,573.0 258.8,572.5 259.6,571.5 260.4,570.7 261.2,569.9 262.0,569.8 262.8,568.7 263.6,567.4 264.4,565.7 265.2,563.7 266.0,561.6 266.8,559.7 267.6,557.9 268.4,556.4 269.2,555.5 270.0,555.0 270.8,555.2 271.6,555.7 272.4,556.2 273.2,556.6 274.0,556.7 274.8,556.5 275.6,556.0 276.4,555.5 277.2,554.8 278.0,554.2 278.8,553.9 279.6,553.8 280.4,554.0 281.2,554.3 282.0,554.5 282.8,554.4 283.6,554.0 284.4,553.2 285.2,552.2 286.0,550.5 286.8,548.6 287.6,546.9 288.4,545.7 289.2,545.0 290.0,544.9 290.8,545.3 291.6,545.9 292.4,546.6 293.2,547.2 294.0,547.6 294.8,547.7 295.6,547.4 296.4,547.1 297.2,546.8 298.0,546.8 298.8,547.3 299.6,548.1 300.4,549.3 301.2,550.6 302.0,551.7 302.8,552.5 303.6,552.8 304.4,552.5" fill="none" stroke="#f02a1a" stroke-width="0.6" opacity="0.85"/>
<polyline points="189.2,552.4 190.0,552.1 190.8,551.3 191.6,550.1 192.4,548.6 193.2,547.1 194.0,545.7 194.8,544.8 195.6,544.5 196.4,544.8 197.2,545.6 198.0,546.8 198.8,548.0 199.6,549.2 200.4,550.0 201.2,550.5 202.0,550.5 202.8,550.4 203.6,550.1 204.4,550.0 205.2,550.1 206.0,550.5 206.8,551.3 207.6,552.4 208.4,553.4 209.2,554.2 210.0,554.5 210.8,554.3 211.6,553.5 212.4,552.2 213.2,550.6 214.0,548.9 214.8,547.4 215.6,546.3 216.4,545.8 217.2,545.7 218.0,546.1 218.8,546.6 219.6,547.1 220.4,547.5 221.2,547.6 222.0,547.3 222.8,546.8 223.6,545.9 224.4,545.0 225.2,544.5 226.0,545.2 226.8,545.9 227.6,545.2 228.4,544.6 229.2,544.0 230.0,543.3 230.8,542.5 231.6,540.9 232.4,539.2 233.2,537.4 234.0,535.5 234.8,533.6 235.6,531.7 236.4,529.8 237.2,528.1 238.0,526.4 238.8,524.7 239.6,523.0 240.4,522.1 241.2,521.3 242.0,520.4 242.8,519.4 243.6,519.4 244.4,520.0 245.2,521.0 246.0,523.6 246.8,526.4 247.6,530.0 248.4,534.4 249.2,538.8 250.0,543.9 250.8,549.1 251.6,553.7 252.4,557.4 253.2,560.9 254.0,563.7 254.8,566.3 255.6,568.8 256.4,571.0 257.2,572.6 258.0,573.5 258.8,574.0 259.6,573.9 260.4,573.7 261.2,572.8 262.0,572.4 262.8,570.9 263.6,569.0 264.4,566.9 265.2,564.8 266.0,562.9 266.8,561.4 267.6,560.4 268.4,560.0 269.2,560.0 270.0,560.0 270.8,560.1 271.6,559.9 272.4,559.8 273.2,559.4 274.0,558.8 274.8,558.0 275.6,557.2 276.4,556.5 277.2,556.1 278.0,556.1 278.8,556.3 279.6,556.5 280.4,556.7 281.2,556.6 282.0,556.2 282.8,555.5 283.6,554.3 284.4,553.0 285.2,551.5 286.0,549.9 286.8,548.6 287.6,547.6 288.4,547.2 289.2,547.2 290.0,547.6 290.8,548.1 291.6,548.5 292.4,548.8 293.2,548.7 294.0,548.5 294.8,548.1 295.6,547.8 296.4,547.6 297.2,547.8 298.0,548.2 298.8,549.0 299.6,550.1 300.4,551.2 301.2,552.2 302.0,552.9 302.8,553.1 303.6,552.9 304.4,552.1" fill="none" stroke="#f02a1a" stroke-width="0.6" opacity="0.85"/>
<polyline points="189.2,557.5 190.0,554.2 190.8,550.8 191.6,547.9 192.4,546.2 193.2,545.8 194.0,546.4 194.8,547.5 195.6,548.4 196.4,548.6 197.2,547.8 198.0,546.4 198.8,545.0 199.6,544.2 200.4,544.6 201.2,546.6 202.0,549.7 202.8,553.5 203.6,557.1 204.4,559.5 205.2,560.5 206.0,559.8 206.8,557.8 207.6,555.3 208.4,553.0 209.2,551.4 210.0,550.8 210.8,551.1 211.6,551.6 212.4,551.9 213.2,551.2 214.0,549.5 214.8,546.9 215.6,544.0 216.4,541.7 217.2,540.6 218.0,541.0 218.8,543.1 219.6,546.4 220.4,549.9 221.2,553.0 222.0,554.9 222.8,555.0 223.6,554.0 224.4,552.4 225.2,550.8 226.0,548.9 226.8,546.9 227.6,546.2 228.4,545.5 229.2,544.7 230.0,543.5 230.8,541.5 231.6,539.1 232.4,536.6 233.2,534.0 234.0,531.7 234.8,529.8 235.6,528.3 236.4,527.2 237.2,526.1 238.0,525.1 238.8,523.9 239.6,523.4 240.4,522.6 241.2,521.7 242.0,520.8 242.8,521.6 243.6,522.8 244.4,525.1 245.2,528.5 246.0,531.8 246.8,535.8 247.6,539.7 248.4,543.2 249.2,547.1 250.0,550.9 250.8,554.0 251.6,557.0 252.4,560.2 253.2,563.2 254.0,566.3 254.8,569.3 255.6,571.8 256.4,573.0 257.2,573.8 258.0,573.5 258.8,573.1 259.6,572.7 260.4,572.2 261.2,572.0 262.0,573.0 262.8,574.4 263.6,575.1 264.4,574.8 265.2,573.3 266.0,570.9 266.8,568.1 267.6,565.4 268.4,563.0 269.2,561.4 270.0,560.5 270.8,560.0 271.6,559.8 272.4,559.2 273.2,557.9 274.0,556.0 274.8,553.8 275.6,551.8 276.4,550.6 277.2,550.4 278.0,551.3 278.8,553.1 279.6,555.2 280.4,557.2 281.2,558.5 282.0,558.8 282.8,558.2 283.6,557.0 284.4,555.6 285.2,554.9 286.0,554.2 286.8,554.3 287.6,554.7 288.4,555.2 289.2,555.0 290.0,553.9 290.8,551.8 291.6,548.9 292.4,546.0 293.2,543.6 294.0,542.4 294.8,542.6 295.6,544.0 296.4,546.2 297.2,548.6 298.0,550.6 298.8,551.7 299.6,552.0 300.4,551.6 301.2,551.1 302.0,550.9 302.8,551.4 303.6,552.7 304.4,554.4" fill="none" stroke="#f02a1a" stroke-width="0.6" opacity="0.85"/>
<polyline points="189.2,551.2 190.0,551.6 190.8,551.1 191.6,549.5 192.4,546.9 193.2,544.1 194.0,542.0 194.8,541.3 195.6,542.5 196.4,545.2 197.2,548.9 198.0,552.4 198.8,555.0 199.6,556.2 200.4,556.0 201.2,554.9 202.0,553.9 202.8,553.4 203.6,553.8 204.4,554.9 205.2,556.2 206.0,556.8 206.8,556.2 207.6,554.0 208.4,550.6 209.2,546.7 210.0,543.4 210.8,541.6 211.6,541.5 212.4,543.0 213.2,545.5 214.0,548.1 214.8,549.9 215.6,550.7 216.4,550.5 217.2,549.8 218.0,549.4 218.8,550.0 219.6,551.6 220.4,554.1 221.2,556.6 222.0,558.0 222.8,557.7 223.6,555.7 224.4,552.2 225.2,547.9 226.0,544.5 226.8,543.9 227.6,542.7 228.4,541.8 229.2,541.1 230.0,540.0 230.8,538.5 231.6,536.9 232.4,535.0 233.2,533.1 234.0,531.4 234.8,530.0 235.6,529.1 236.4,528.2 237.2,527.4 238.0,526.5 238.8,525.7 239.6,524.9 240.4,523.6 241.2,522.1 242.0,521.4 242.8,521.7 243.6,522.4 244.4,525.1 245.2,528.0 246.0,531.2 246.8,535.0 247.6,538.5 248.4,542.5 249.2,546.6 250.0,550.8 250.8,554.4 251.6,558.6 252.4,562.5 253.2,566.3 254.0,570.0 254.8,572.9 255.6,574.8 256.4,575.6 257.2,575.7 258.0,575.2 258.8,574.8 259.6,574.0 260.4,573.4 261.2,572.8 262.0,573.7 262.8,571.8 263.6,569.0 264.4,565.5 265.2,562.0 266.0,559.3 266.8,557.8 267.6,557.5 268.4,558.3 269.2,559.4 270.0,560.5 270.8,561.0 271.6,560.9 272.4,560.1 273.2,559.0 274.0,558.3 274.8,558.1 275.6,558.7 276.4,559.8 277.2,560.8 278.0,561.0 278.8,560.2 279.6,558.2 280.4,555.5 281.2,552.6 282.0,550.1 282.8,548.5 283.6,548.1 284.4,548.5 285.2,548.8 286.0,549.8 286.8,550.0 287.6,549.6 288.4,548.8 289.2,548.0 290.0,547.9 290.8,548.8 291.6,550.8 292.4,553.3 293.2,555.8 294.0,557.4 294.8,557.7 295.6,556.5 296.4,554.3 297.2,551.6 298.0,549.3 298.8,547.9 299.6,547.5 300.4,547.8 301.2,548.4 302.0,548.7 302.8,548.2 303.6,546.9 304.4,545.3" fill="none" stroke="#f02a1a" stroke-width="0.6" opacity="0.85"/>
<polyline points="189.2,553.0 190.0,553.5 190.8,553.3 191.6,552.5 192.4,551.2 193.2,549.8 194.0,548.7 194.8,547.9 195.6,547.7 196.4,547.9 197.2,548.3 198.0,548.7 198.8,548.9 199.6,548.8 200.4,548.3 201.2,547.7 202.0,547.3 202.8,547.2 203.6,547.7 204.4,548.8 205.2,550.2 206.0,551.6 206.8,552.8 207.6,553.3 208.4,553.3 209.2,552.6 210.0,551.6 210.8,550.6 211.6,549.8 212.4,549.3 213.2,549.2 214.0,549.4 214.8,549.6 215.6,549.5 216.4,549.0 217.2,548.1 218.0,546.9 218.8,545.7 219.6,544.9 220.4,544.4 221.2,544.4 222.0,545.0 222.8,546.0 223.6,547.0 224.4,547.4 225.2,547.1 226.0,545.4 226.8,543.3 227.6,542.1 228.4,540.8 229.2,539.1 230.0,537.6 230.8,536.2 231.6,534.7 232.4,533.2 233.2,531.5 234.0,529.7 234.8,527.7 235.6,525.6 236.4,523.5 237.2,521.6 238.0,520.8 238.8,520.1 239.6,519.5 240.4,519.2 241.2,520.3 242.0,521.3 242.8,523.3 243.6,526.0 244.4,528.7 245.2,532.5 246.0,536.5 246.8,540.8 247.6,545.8 248.4,550.9 249.2,555.0 250.0,558.7 250.8,562.1 251.6,564.7 252.4,567.2 253.2,569.3 254.0,571.3 254.8,572.0 255.6,572.8 256.4,572.7 257.2,572.7 258.0,572.3 258.8,571.5 259.6,570.7 260.4,569.8 261.2,568.7 262.0,566.6 262.8,565.3 263.6,564.4 264.4,563.8 265.2,563.7 266.0,563.8 266.8,563.8 267.6,563.6 268.4,562.8 269.2,561.8 270.0,560.5 270.8,559.1 271.6,557.8 272.4,556.7 273.2,555.9 274.0,555.3 274.8,555.1 275.6,554.8 276.4,554.4 277.2,553.7 278.0,552.8 278.8,551.8 279.6,550.9 280.4,550.3 281.2,550.0 282.0,550.3 282.8,550.9 283.6,551.6 284.4,552.2 285.2,552.9 286.0,552.9 286.8,552.5 287.6,551.9 288.4,551.2 289.2,550.6 290.0,550.3 290.8,550.2 291.6,550.3 292.4,550.5 293.2,550.5 294.0,550.1 294.8,549.3 295.6,548.2 296.4,547.0 297.2,546.1 298.0,545.6 298.8,545.6 299.6,546.1 300.4,547.0 301.2,548.0 302.0,548.9 302.8,549.5 303.6,549.7 304.4,549.6" fill="none" stroke="#f02a1a" stroke-width="0.6" opacity="0.85"/>
<polyline points="189.2,549.7 190.0,548.0 190.8,545.3 191.6,542.3 192.4,539.7 193.2,538.5 194.0,539.2 194.8,541.6 195.6,545.1 196.4,548.6 197.2,551.3 198.0,552.6 198.8,552.6 199.6,551.7 200.4,550.9 201.2,550.7 202.0,551.4 202.8,552.9 203.6,554.6 204.4,555.3 205.2,554.7 206.0,552.4 206.8,548.9 207.6,544.9 208.4,541.6 209.2,539.7 210.0,539.6 210.8,541.1 211.6,543.4 212.4,545.7 213.2,547.1 214.0,547.5 214.8,547.1 215.6,546.4 216.4,546.4 217.2,547.5 218.0,549.7 218.8,552.5 219.6,555.1 220.4,556.6 221.2,556.3 222.0,554.2 222.8,550.6 223.6,546.5 224.4,542.9 225.2,540.7 226.0,541.6 226.8,543.0 227.6,542.3 228.4,541.5 229.2,540.4 230.0,539.1 230.8,537.4 231.6,535.5 232.4,534.0 233.2,532.9 234.0,532.1 234.8,531.5 235.6,530.9 236.4,529.9 237.2,528.3 238.0,526.2 238.8,523.8 239.6,521.7 240.4,520.4 241.2,519.4 242.0,518.7 242.8,518.5 243.6,519.4 244.4,520.1 245.2,521.8 246.0,523.8 246.8,525.9 247.6,529.4 248.4,533.3 249.2,538.0 250.0,543.7 250.8,549.5 251.6,554.0 252.4,558.2 253.2,561.7 254.0,564.3 254.8,566.8 255.6,568.9 256.4,571.0 257.2,572.1 258.0,573.3 258.8,573.4 259.6,573.2 260.4,572.2 261.2,570.6 262.0,567.9 262.8,564.7 263.6,561.9 264.4,560.1 265.2,559.6 266.0,560.0 266.8,560.7 267.6,561.5 268.4,561.6 269.2,561.0 270.0,559.8 270.8,558.6 271.6,557.9 272.4,558.1 273.2,559.0 274.0,560.1 274.8,560.8 275.6,560.7 276.4,559.3 277.2,557.1 278.0,554.2 278.8,551.4 279.6,549.2 280.4,548.0 281.2,547.9 282.0,548.4 282.8,549.0 283.6,549.3 284.4,548.9 285.2,547.6 286.0,546.5 286.8,545.8 287.6,546.1 288.4,547.6 289.2,550.1 290.0,552.8 290.8,554.9 291.6,555.8 292.4,555.1 293.2,553.3 294.0,550.7 294.8,548.4 295.6,546.7 296.4,546.0 297.2,546.2 298.0,546.7 298.8,546.8 299.6,546.3 300.4,544.9 301.2,543.1 302.0,541.4 302.8,540.6 303.6,541.2 304.4,543.1" fill="none" stroke="#f02a1a" stroke-width="0.6" opacity="0.85"/>
<polyline points="189.2,548.8 190.0,548.9 190.8,548.9 191.6,548.8 192.4,548.6 193.2,548.3 194.0,548.1 194.8,547.9 195.6,547.9 196.4,548.1 197.2,548.5 198.0,549.1 198.8,549.8 199.6,550.7 200.4,551.6 201.2,552.4 202.0,553.2 202.8,553.7 203.6,554.0 204.4,554.0 205.2,553.7 206.0,553.2 206.8,552.6 207.6,551.9 208.4,551.3 209.2,550.7 210.0,550.2 210.8,550.0 211.6,549.8 212.4,549.9 213.2,550.0 214.0,550.1 214.8,550.1 215.6,550.1 216.4,549.9 217.2,549.5 218.0,548.9 218.8,548.3 219.6,547.5 220.4,546.8 221.2,546.3 222.0,545.9 222.8,545.6 223.6,545.4 224.4,545.3 225.2,545.5 226.0,546.3 226.8,546.5 227.6,545.7 228.4,544.9 229.2,544.0 230.0,543.1 230.8,542.0 231.6,540.4 232.4,538.8 233.2,537.1 234.0,535.5 234.8,533.8 235.6,532.1 236.4,530.5 237.2,528.9 238.0,527.2 238.8,525.5 239.6,523.9 240.4,523.1 241.2,522.4 242.0,521.6 242.8,520.8 243.6,521.2 244.4,521.9 245.2,523.1 246.0,525.6 246.8,528.1 247.6,531.5 248.4,535.3 249.2,539.2 250.0,544.0 250.8,548.9 251.6,553.1 252.4,556.9 253.2,560.6 254.0,563.6 254.8,566.5 255.6,569.3 256.4,571.7 257.2,573.1 258.0,574.0 258.8,574.2 259.6,574.0 260.4,573.5 261.2,572.7 262.0,571.9 262.8,571.2 263.6,570.5 264.4,569.7 265.2,568.9 266.0,568.1 266.8,567.3 267.6,566.5 268.4,565.7 269.2,564.7 270.0,563.6 270.8,562.3 271.6,560.9 272.4,559.7 273.2,558.6 274.0,557.4 274.8,556.4 275.6,555.5 276.4,554.8 277.2,554.4 278.0,554.1 278.8,554.0 279.6,553.8 280.4,553.7 281.2,553.5 282.0,553.2 282.8,552.8 283.6,552.4 284.4,551.9 285.2,551.2 286.0,550.7 286.8,550.3 287.6,550.1 288.4,549.9 289.2,550.1 290.0,550.4 290.8,550.8 291.6,551.3 292.4,551.8 293.2,552.2 294.0,552.4 294.8,552.6 295.6,552.6 296.4,552.4 297.2,552.0 298.0,551.4 298.8,550.8 299.6,550.2 300.4,549.6 301.2,549.2 302.0,548.9 302.8,548.8 303.6,548.8 304.4,548.9" fill="none" stroke="#f02a1a" stroke-width="0.6" opacity="0.85"/>
<polyline points="189.2,547.1 190.0,548.1 190.8,549.0 191.6,549.8 192.4,550.3 193.2,550.7 194.0,550.9 194.8,550.9 195.6,550.8 196.4,550.6 197.2,550.4 198.0,550.3 198.8,550.3 199.6,550.4 200.4,550.7 201.2,551.2 202.0,551.9 202.8,552.6 203.6,553.5 204.4,554.3 205.2,555.2 206.0,555.9 206.8,556.5 207.6,556.9 208.4,556.9 209.2,556.7 210.0,556.2 210.8,555.4 211.6,554.4 212.4,553.2 213.2,551.8 214.0,550.4 214.8,549.0 215.6,547.6 216.4,546.5 217.2,545.5 218.0,544.7 218.8,544.3 219.6,544.1 220.4,544.1 221.2,543.9 222.0,543.9 222.8,544.0 223.6,544.0 224.4,543.9 225.2,543.3 226.0,543.2 226.8,542.9 227.6,541.9 228.4,540.7 229.2,539.0 230.0,537.4 230.8,535.7 231.6,534.0 232.4,532.3 233.2,530.7 234.0,529.2 234.8,527.6 235.6,526.1 236.4,524.6 237.2,523.1 238.0,522.6 238.8,522.2 239.6,521.8 240.4,521.4 241.2,522.2 242.0,523.3 242.8,524.9 243.6,527.7 244.4,530.4 245.2,533.8 246.0,537.6 246.8,541.4 247.6,546.0 248.4,550.5 249.2,554.3 250.0,557.6 250.8,560.9 251.6,563.6 252.4,566.2 253.2,568.7 254.0,571.0 254.8,572.4 255.6,573.4 256.4,573.7 257.2,573.6 258.0,573.2 258.8,572.4 259.6,571.5 260.4,570.6 261.2,569.5 262.0,567.5 262.8,565.9 263.6,564.2 264.4,562.5 265.2,560.9 266.0,559.6 266.8,558.3 267.6,557.2 268.4,556.3 269.2,555.6 270.0,555.3 270.8,555.2 271.6,555.3 272.4,555.5 273.2,555.8 274.0,556.2 274.8,556.6 275.6,557.1 276.4,557.5 277.2,557.7 278.0,557.8 278.8,557.6 279.6,557.3 280.4,556.8 281.2,556.2 282.0,555.5 282.8,554.8 283.6,554.1 284.4,553.4 285.2,553.0 286.0,552.4 286.8,552.1 287.6,551.9 288.4,551.8 289.2,551.8 290.0,551.9 290.8,552.0 291.6,552.1 292.4,552.2 293.2,552.1 294.0,552.0 294.8,551.6 295.6,551.0 296.4,550.3 297.2,549.4 298.0,548.5 298.8,547.4 299.6,546.4 300.4,545.5 301.2,544.6 302.0,543.9 302.8,543.5 303.6,543.2 304.4,543.3" fill="none" stroke="#f02a1a" stroke-width="0.6" opacity="0.85"/>
<polyline points="189.2,550.4 190.0,550.8 190.8,551.3 191.6,551.7 192.4,551.7 193.2,551.0 194.0,549.6 194.8,547.7 195.6,545.5 196.4,543.4 197.2,541.8 198.0,541.0 198.8,541.3 199.6,542.7 200.4,545.0 201.2,547.8 202.0,550.9 202.8,553.6 203.6,555.7 204.4,557.0 205.2,557.4 206.0,557.0 206.8,556.0 207.6,554.9 208.4,553.9 209.2,553.4 210.0,553.4 210.8,554.0 211.6,555.0 212.4,556.0 213.2,556.6 214.0,556.7 214.8,556.0 215.6,554.3 216.4,551.8 217.2,548.8 218.0,545.7 218.8,542.9 219.6,540.8 220.4,539.6 221.2,539.2 222.0,539.8 222.8,541.2 223.6,542.9 224.4,544.5 225.2,545.4 226.0,545.5 226.8,544.4 227.6,543.4 228.4,542.1 229.2,540.4 230.0,538.7 230.8,537.3 231.6,535.9 232.4,534.7 233.2,533.7 234.0,532.6 234.8,531.4 235.6,530.0 236.4,528.3 237.2,526.3 238.0,525.1 238.8,523.6 239.6,522.1 240.4,520.5 241.2,520.5 242.0,520.9 242.8,522.3 243.6,525.0 244.4,527.9 245.2,531.9 246.0,536.2 246.8,540.5 247.6,545.4 248.4,550.2 249.2,554.0 250.0,557.4 250.8,560.6 251.6,563.4 252.4,566.2 253.2,569.1 254.0,572.0 254.8,573.9 255.6,575.6 256.4,576.4 257.2,576.9 258.0,576.8 258.8,576.0 259.6,575.0 260.4,573.7 261.2,572.1 262.0,571.7 262.8,569.0 263.6,566.7 264.4,564.8 265.2,563.6 266.0,562.9 266.8,562.4 267.6,561.8 268.4,561.1 269.2,560.0 270.0,558.7 270.8,557.0 271.6,555.2 272.4,553.3 273.2,551.8 274.0,550.8 274.8,550.7 275.6,551.2 276.4,552.4 277.2,554.0 278.0,555.7 278.8,557.2 279.6,558.4 280.4,559.0 281.2,558.9 282.0,558.3 282.8,557.2 283.6,556.0 284.4,554.8 285.2,554.2 286.0,553.6 286.8,553.5 287.6,553.8 288.4,554.3 289.2,554.6 290.0,554.5 290.8,553.8 291.6,552.4 292.4,550.6 293.2,548.4 294.0,546.1 294.8,544.0 295.6,542.5 296.4,541.7 297.2,541.8 298.0,542.8 298.8,544.5 299.6,546.5 300.4,548.6 301.2,550.3 302.0,551.6 302.8,552.3 303.6,552.4 304.4,552.1" fill="none" stroke="#f02a1a" stroke-width="0.6" opacity="0.85"/>
<polyline points="189.2,542.8 190.0,543.8 190.8,544.9 191.6,546.0 192.4,547.0 193.2,547.9 194.0,548.6 194.8,549.2 195.6,549.6 196.4,549.7 197.2,549.7 198.0,549.5 198.8,549.4 199.6,549.2 200.4,549.0 201.2,549.0 202.0,549.1 202.8,549.3 203.6,549.6 204.4,550.1 205.2,550.8 206.0,551.6 206.8,552.4 207.6,553.2 208.4,553.9 209.2,554.5 210.0,554.9 210.8,555.1 211.6,554.9 212.4,554.5 213.2,553.8 214.0,552.9 214.8,551.7 215.6,550.4 216.4,549.0 217.2,547.5 218.0,546.2 218.8,544.9 219.6,543.9 220.4,543.1 221.2,542.2 222.0,541.5 222.8,541.1 223.6,540.8 224.4,540.8 225.2,540.4 226.0,541.0 226.8,541.5 227.6,540.6 228.4,539.7 229.2,538.3 230.0,536.8 230.8,535.2 231.6,533.5 232.4,531.8 233.2,530.2 234.0,528.5 234.8,526.8 235.6,525.0 236.4,523.2 237.2,521.6 238.0,520.4 238.8,519.9 239.6,519.4 240.4,518.9 241.2,519.1 242.0,520.2 242.8,521.4 243.6,524.2 244.4,527.2 245.2,530.4 246.0,534.5 246.8,538.6 247.6,543.1 248.4,547.8 249.2,552.3 250.0,555.7 250.8,559.0 251.6,561.8 252.4,564.4 253.2,566.9 254.0,569.0 254.8,570.8 255.6,571.5 256.4,572.1 257.2,571.9 258.0,571.7 258.8,570.9 259.6,570.1 260.4,569.3 261.2,568.5 262.0,567.1 262.8,566.0 263.6,564.8 264.4,563.4 265.2,562.0 266.0,560.7 266.8,559.4 267.6,558.0 268.4,556.6 269.2,555.3 270.0,554.2 270.8,553.3 271.6,552.5 272.4,551.9 273.2,551.5 274.0,551.3 274.8,551.4 275.6,551.7 276.4,552.2 277.2,552.7 278.0,553.2 278.8,553.7 279.6,554.2 280.4,554.5 281.2,554.6 282.0,554.6 282.8,554.5 283.6,554.2 284.4,553.8 285.2,553.9 286.0,553.1 286.8,552.3 287.6,551.6 288.4,551.0 289.2,550.4 290.0,549.9 290.8,549.6 291.6,549.4 292.4,549.3 293.2,549.5 294.0,549.6 294.8,549.8 295.6,550.0 296.4,550.1 297.2,550.1 298.0,550.0 298.8,549.7 299.6,549.2 300.4,548.6 301.2,547.9 302.0,547.0 302.8,546.0 303.6,545.0 304.4,544.1" fill="none" stroke="#f02a1a" stroke-width="0.6" opacity="0.85"/>
<polyline points="189.2,551.9 190.0,552.1 190.8,552.3 191.6,552.3 192.4,552.3 193.2,552.2 194.0,551.9 194.8,551.5 195.6,551.0 196.4,550.4 197.2,549.8 198.0,549.2 198.8,548.6 199.6,548.1 200.4,547.7 201.2,547.4 202.0,547.3 202.8,547.2 203.6,547.3 204.4,547.5 205.2,547.9 206.0,548.3 206.8,548.7 207.6,549.2 208.4,549.6 209.2,550.0 210.0,550.4 210.8,550.6 211.6,550.8 212.4,550.8 213.2,550.8 214.0,550.7 214.8,550.5 215.6,550.4 216.4,550.2 217.2,550.0 218.0,550.0 218.8,550.0 219.6,550.1 220.4,550.2 221.2,550.0 222.0,550.0 222.8,549.9 223.6,549.9 224.4,549.6 225.2,548.9 226.0,547.0 226.8,544.7 227.6,543.6 228.4,542.4 229.2,540.7 230.0,539.0 230.8,537.3 231.6,535.5 232.4,533.7 233.2,531.9 234.0,530.2 234.8,528.4 235.6,526.5 236.4,524.7 237.2,522.9 238.0,522.1 238.8,521.4 239.6,520.7 240.4,520.0 241.2,520.7 242.0,521.7 242.8,523.3 243.6,526.1 244.4,528.8 245.2,532.5 246.0,536.5 246.8,540.6 247.6,545.3 248.4,550.1 249.2,554.1 250.0,557.6 250.8,561.1 251.6,563.9 252.4,566.7 253.2,569.4 254.0,571.8 254.8,573.1 255.6,574.2 256.4,574.5 257.2,574.5 258.0,574.2 258.8,573.5 259.6,572.7 260.4,572.0 261.2,571.1 262.0,571.4 262.8,570.3 263.6,569.0 264.4,567.7 265.2,566.5 266.0,565.3 266.8,564.1 267.6,562.8 268.4,561.6 269.2,560.5 270.0,559.6 270.8,558.8 271.6,558.0 272.4,557.3 273.2,556.7 274.0,556.2 274.8,555.8 275.6,555.5 276.4,555.2 277.2,554.9 278.0,554.5 278.8,554.1 279.6,553.7 280.4,553.1 281.2,552.6 282.0,552.0 282.8,551.4 283.6,550.8 284.4,550.3 285.2,549.4 286.0,548.9 286.8,548.6 287.6,548.5 288.4,548.5 289.2,548.6 290.0,548.8 290.8,549.0 291.6,549.4 292.4,549.9 293.2,550.4 294.0,550.9 294.8,551.3 295.6,551.6 296.4,551.8 297.2,552.0 298.0,552.0 298.8,552.0 299.6,551.9 300.4,551.7 301.2,551.4 302.0,551.1 302.8,550.9 303.6,550.6 304.4,550.5" fill="none" stroke="#f02a1a" stroke-width="0.6" opacity="0.85"/>
<polyline points="189.2,546.4 190.0,546.2 190.8,545.7 191.6,544.9 192.4,544.2 193.2,543.6 194.0,543.4 194.8,543.9 195.6,545.0 196.4,546.7 197.2,549.0 198.0,551.5 198.8,554.0 199.6,556.3 200.4,558.0 201.2,559.0 202.0,559.2 202.8,558.5 203.6,557.2 204.4,555.4 205.2,553.4 206.0,551.5 206.8,550.0 207.6,548.9 208.4,548.3 209.2,548.2 210.0,548.5 210.8,548.9 211.6,549.1 212.4,549.1 213.2,548.7 214.0,547.7 214.8,546.3 215.6,544.6 216.4,542.8 217.2,541.1 218.0,539.9 218.8,539.3 219.6,539.5 220.4,540.5 221.2,542.2 222.0,544.1 222.8,546.2 223.6,548.2 224.4,549.9 225.2,551.0 226.0,548.9 226.8,545.5 227.6,544.3 228.4,543.1 229.2,541.8 230.0,539.9 230.8,538.2 231.6,536.5 232.4,534.9 233.2,533.4 234.0,532.0 234.8,530.6 235.6,529.1 236.4,527.4 237.2,525.6 238.0,523.5 238.8,522.2 239.6,520.9 240.4,519.5 241.2,518.1 242.0,518.0 242.8,518.4 243.6,519.5 244.4,522.2 245.2,525.1 246.0,529.0 246.8,533.5 247.6,538.0 248.4,543.3 249.2,548.6 250.0,553.0 250.8,556.8 251.6,560.4 252.4,563.1 253.2,565.8 254.0,568.4 254.8,570.7 255.6,572.2 256.4,573.4 257.2,574.0 258.0,574.2 258.8,574.3 259.6,573.8 260.4,573.2 261.2,572.4 262.0,574.7 262.8,572.7 263.6,570.3 264.4,567.5 265.2,564.6 266.0,561.9 266.8,559.6 267.6,557.6 268.4,556.2 269.2,555.2 270.0,554.6 270.8,554.7 271.6,554.8 272.4,555.0 273.2,555.0 274.0,554.7 274.8,554.1 275.6,553.5 276.4,552.7 277.2,551.9 278.0,551.2 278.8,550.8 279.6,550.7 280.4,551.1 281.2,551.8 282.0,552.9 282.8,554.1 283.6,555.3 284.4,556.3 285.2,558.2 286.0,558.4 286.8,557.9 287.6,556.9 288.4,555.5 289.2,553.7 290.0,551.8 290.8,550.0 291.6,548.4 292.4,547.3 293.2,546.8 294.0,546.7 294.8,546.9 295.6,547.2 296.4,547.5 297.2,547.6 298.0,547.3 298.8,546.8 299.6,545.9 300.4,544.8 301.2,543.6 302.0,542.6 302.8,541.9 303.6,541.8 304.4,542.2" fill="none" stroke="#f02a1a" stroke-width="0.6" opacity="0.85"/>
<polyline points="189.2,551.3 190.0,550.2 190.8,548.6 191.6,546.8 192.4,544.9 193.2,543.4 194.0,542.4 194.8,542.3 195.6,543.0 196.4,544.4 197.2,546.3 198.0,548.4 198.8,550.2 199.6,551.7 200.4,552.5 201.2,552.8 202.0,552.6 202.8,552.1 203.6,551.7 204.4,551.5 205.2,551.7 206.0,552.3 206.8,553.2 207.6,554.2 208.4,555.1 209.2,555.5 210.0,555.3 210.8,554.3 211.6,552.6 212.4,550.5 213.2,548.2 214.0,546.0 214.8,544.3 215.6,543.3 216.4,543.1 217.2,543.6 218.0,544.6 218.8,545.8 219.6,546.9 220.4,547.7 221.2,548.1 222.0,548.0 222.8,547.6 223.6,546.8 224.4,546.1 225.2,545.7 226.0,546.2 226.8,546.5 227.6,546.0 228.4,545.5 229.2,544.9 230.0,544.3 230.8,543.4 231.6,541.9 232.4,540.0 233.2,538.0 234.0,535.9 234.8,533.7 235.6,531.7 236.4,529.7 237.2,528.0 238.0,526.2 238.8,524.6 239.6,523.0 240.4,521.9 241.2,521.2 242.0,520.4 242.8,519.5 243.6,519.2 244.4,519.8 245.2,520.5 246.0,523.0 246.8,525.9 247.6,529.3 248.4,533.8 249.2,538.3 250.0,543.5 250.8,548.8 251.6,553.7 252.4,557.5 253.2,561.0 254.0,563.8 254.8,566.3 255.6,568.7 256.4,570.7 257.2,572.4 258.0,573.2 258.8,573.8 259.6,573.7 260.4,573.6 261.2,572.8 262.0,572.3 262.8,570.8 263.6,569.1 264.4,566.8 265.2,564.5 266.0,562.4 266.8,560.6 267.6,559.4 268.4,559.0 269.2,559.0 270.0,559.4 270.8,560.0 271.6,560.5 272.4,560.9 273.2,561.0 274.0,560.7 274.8,559.9 275.6,559.0 276.4,557.9 277.2,557.1 278.0,556.6 278.8,556.4 279.6,556.4 280.4,556.6 281.2,556.7 282.0,556.7 282.8,556.2 283.6,555.3 284.4,553.9 285.2,552.3 286.0,550.2 286.8,548.2 287.6,546.5 288.4,545.4 289.2,545.0 290.0,545.3 290.8,546.0 291.6,547.0 292.4,548.1 293.2,548.9 294.0,549.4 294.8,549.5 295.6,549.4 296.4,549.1 297.2,548.7 298.0,548.7 298.8,548.9 299.6,549.6 300.4,550.7 301.2,552.0 302.0,553.2 302.8,554.2 303.6,554.6 304.4,554.4" fill="none" stroke="#f02a1a" stroke-width="0.6" opacity="0.85"/>
<polyline points="189.2,553.4 190.0,552.7 190.8,551.2 191.6,549.3 192.4,547.3 193.2,545.6 194.0,544.5 194.8,544.2 195.6,544.5 196.4,545.3 197.2,546.3 198.0,547.2 198.8,547.7 199.6,547.7 200.4,547.4 201.2,547.0 202.0,546.7 202.8,546.8 203.6,547.5 204.4,548.8 205.2,550.4 206.0,552.2 206.8,553.6 207.6,554.4 208.4,554.4 209.2,553.5 210.0,552.1 210.8,550.3 211.6,548.6 212.4,547.3 213.2,546.5 214.0,546.4 214.8,546.6 215.6,547.0 216.4,547.1 217.2,546.9 218.0,546.2 218.8,545.2 219.6,544.0 220.4,542.9 221.2,542.1 222.0,542.0 222.8,542.6 223.6,543.9 224.4,545.3 225.2,546.3 226.0,545.5 226.8,543.1 227.6,542.1 228.4,540.7 229.2,538.9 230.0,537.0 230.8,535.2 231.6,533.5 232.4,531.9 233.2,530.4 234.0,528.9 234.8,527.3 235.6,525.4 236.4,523.4 237.2,521.4 238.0,520.2 238.8,519.0 239.6,517.9 240.4,517.0 241.2,517.9 242.0,519.1 242.8,521.2 243.6,524.4 244.4,527.6 245.2,531.6 246.0,535.7 246.8,539.9 247.6,544.6 248.4,549.3 249.2,553.1 250.0,556.8 250.8,560.4 251.6,563.4 252.4,566.5 253.2,569.2 254.0,571.5 254.8,572.5 255.6,573.1 256.4,572.6 257.2,571.9 258.0,570.9 258.8,569.7 259.6,568.7 260.4,567.9 261.2,567.1 262.0,565.1 262.8,564.7 263.6,564.1 264.4,563.2 265.2,562.2 266.0,561.1 266.8,560.1 267.6,559.2 268.4,558.7 269.2,558.7 270.0,559.1 270.8,559.6 271.6,559.9 272.4,559.9 273.2,559.3 274.0,558.2 274.8,556.8 275.6,555.2 276.4,553.5 277.2,552.1 278.0,551.1 278.8,550.6 279.6,550.4 280.4,550.3 281.2,550.3 282.0,550.1 282.8,549.6 283.6,548.9 284.4,548.0 285.2,546.7 286.0,546.1 286.8,546.2 287.6,546.8 288.4,548.0 289.2,549.4 290.0,550.8 290.8,551.9 291.6,552.5 292.4,552.5 293.2,551.9 294.0,550.9 294.8,549.8 295.6,548.8 296.4,548.1 297.2,547.9 298.0,548.0 298.8,548.3 299.6,548.4 300.4,548.3 301.2,547.8 302.0,546.8 302.8,545.6 303.6,544.4 304.4,543.5" fill="none" stroke="#f02a1a" stroke-width="0.6" opacity="0.85"/>
<polyline points="189.2,541.5 190.0,541.4 190.8,542.1 191.6,543.4 192.4,545.3 193.2,547.4 194.0,549.4 194.8,551.1 195.6,552.3 196.4,552.7 197.2,552.6 198.0,552.1 198.8,551.3 199.6,550.5 200.4,550.0 201.2,549.9 202.0,550.2 202.8,550.6 203.6,551.1 204.4,551.5 205.2,551.4 206.0,550.8 206.8,549.6 207.6,547.9 208.4,546.0 209.2,544.0 210.0,542.4 210.8,541.3 211.6,541.0 212.4,541.4 213.2,542.4 214.0,543.8 214.8,545.4 215.6,546.9 216.4,548.0 217.2,548.5 218.0,548.6 218.8,548.3 219.6,547.9 220.4,547.5 221.2,547.1 222.0,547.0 222.8,547.4 223.6,548.0 224.4,548.8 225.2,549.0 226.0,546.7 226.8,543.3 227.6,542.1 228.4,540.8 229.2,538.9 230.0,536.7 230.8,534.6 231.6,532.6 232.4,530.8 233.2,529.0 234.0,527.5 234.8,526.1 235.6,524.6 236.4,523.1 237.2,521.5 238.0,520.3 238.8,519.5 239.6,518.7 240.4,517.8 241.2,517.5 242.0,518.3 242.8,519.3 243.6,522.0 244.4,525.1 245.2,528.6 246.0,533.0 246.8,537.4 247.6,542.1 248.4,547.0 249.2,551.5 250.0,554.8 250.8,558.0 251.6,560.7 252.4,563.1 253.2,565.6 254.0,567.7 254.8,569.7 255.6,570.7 256.4,571.5 257.2,571.5 258.0,571.3 258.8,570.5 259.6,569.4 260.4,568.3 261.2,567.1 262.0,563.7 262.8,562.2 263.6,561.0 264.4,560.4 265.2,560.2 266.0,560.5 266.8,561.1 267.6,561.5 268.4,561.8 269.2,561.6 270.0,561.1 270.8,560.3 271.6,559.2 272.4,557.9 273.2,556.7 274.0,555.5 274.8,554.7 275.6,554.4 276.4,554.2 277.2,554.1 278.0,553.9 278.8,553.5 279.6,552.8 280.4,551.7 281.2,550.3 282.0,548.8 282.8,547.3 283.6,546.1 284.4,545.2 285.2,543.9 286.0,544.1 286.8,544.8 287.6,546.0 288.4,547.2 289.2,548.4 290.0,549.2 290.8,549.6 291.6,549.6 292.4,549.3 293.2,548.9 294.0,548.6 294.8,548.3 295.6,548.4 296.4,548.8 297.2,549.5 298.0,550.3 298.8,550.9 299.6,551.3 300.4,551.2 301.2,550.6 302.0,549.5 302.8,548.0 303.6,546.3 304.4,544.8" fill="none" stroke="#f02a1a" stroke-width="0.6" opacity="0.85"/>
<polyline points="189.2,547.5 190.0,548.2 190.8,548.9 191.6,549.7 192.4,550.2 193.2,550.6 194.0,550.8 194.8,550.7 195.6,550.6 196.4,550.5 197.2,550.5 198.0,550.7 198.8,551.0 199.6,551.4 200.4,551.9 201.2,552.2 202.0,552.2 202.8,552.0 203.6,551.4 204.4,550.7 205.2,549.8 206.0,548.9 206.8,548.2 207.6,547.7 208.4,547.5 209.2,547.6 210.0,547.9 210.8,548.3 211.6,548.7 212.4,548.9 213.2,549.0 214.0,549.0 214.8,548.7 215.6,548.5 216.4,548.3 217.2,548.3 218.0,548.5 218.8,549.0 219.6,549.3 220.4,549.5 221.2,549.6 222.0,549.5 222.8,549.1 223.6,548.0 224.4,546.5 225.2,544.8 226.0,542.9 226.8,541.6 227.6,540.1 228.4,538.4 229.2,536.8 230.0,535.3 230.8,533.7 231.6,532.2 232.4,530.6 233.2,528.9 234.0,527.1 234.8,525.3 235.6,523.5 236.4,522.1 237.2,521.3 238.0,520.6 238.8,520.0 239.6,519.9 240.4,521.0 241.2,522.1 242.0,524.5 242.8,527.3 243.6,530.3 244.4,534.2 245.2,538.0 246.0,542.3 246.8,547.0 247.6,551.7 248.4,555.2 249.2,558.8 250.0,562.0 250.8,564.9 251.6,567.7 252.4,570.1 253.2,572.1 254.0,572.9 254.8,573.5 255.6,573.1 256.4,572.8 257.2,572.0 258.0,571.2 258.8,570.4 259.6,569.7 260.4,568.8 261.2,567.8 262.0,567.0 262.8,566.2 263.6,565.2 264.4,564.3 265.2,563.3 266.0,562.3 266.8,561.4 267.6,560.5 268.4,559.9 269.2,559.5 270.0,559.1 270.8,558.7 271.6,558.2 272.4,557.5 273.2,556.7 274.0,555.9 274.8,555.0 275.6,554.1 276.4,553.3 277.2,552.5 278.0,552.0 278.8,551.7 279.6,551.5 280.4,551.5 281.2,551.5 282.0,551.5 282.8,551.4 283.6,551.1 284.4,550.8 285.2,550.4 286.0,550.1 286.8,549.9 287.6,549.9 288.4,550.0 289.2,550.3 290.0,550.6 290.8,550.9 291.6,551.2 292.4,551.3 293.2,551.1 294.0,550.6 294.8,550.0 295.6,549.4 296.4,548.7 297.2,548.3 298.0,548.0 298.8,547.9 299.6,547.9 300.4,548.1 301.2,548.3 302.0,548.5 302.8,548.5 303.6,548.4 304.4,548.2" fill="none" stroke="#f02a1a" stroke-width="0.6" opacity="0.85"/>
<polyline points="189.2,550.7 190.0,551.7 190.8,552.8 191.6,553.5 192.4,553.7 193.2,553.1 194.0,551.8 194.8,550.0 195.6,547.9 196.4,546.0 197.2,544.6 198.0,543.9 198.8,544.0 199.6,544.7 200.4,545.8 201.2,547.0 202.0,548.0 202.8,548.5 203.6,548.5 204.4,548.2 205.2,547.7 206.0,547.5 206.8,547.7 207.6,548.4 208.4,549.7 209.2,551.4 210.0,553.0 210.8,554.3 211.6,555.0 212.4,554.8 213.2,553.9 214.0,552.3 214.8,550.3 215.6,548.5 216.4,547.0 217.2,546.0 218.0,545.7 218.8,545.8 219.6,546.2 220.4,546.6 221.2,546.7 222.0,546.3 222.8,545.1 223.6,543.7 224.4,542.4 225.2,541.4 226.0,542.5 226.8,543.5 227.6,542.9 228.4,542.4 229.2,541.9 230.0,541.3 230.8,540.1 231.6,538.6 232.4,537.0 233.2,535.2 234.0,533.2 234.8,531.3 235.6,529.4 236.4,527.6 237.2,525.9 238.0,524.2 238.8,522.6 239.6,521.7 240.4,520.9 241.2,519.9 242.0,518.8 242.8,518.8 243.6,519.2 244.4,520.2 245.2,522.7 246.0,525.6 246.8,529.4 247.6,533.8 248.4,538.3 249.2,543.6 250.0,548.7 250.8,553.1 251.6,556.8 252.4,560.3 253.2,562.9 254.0,565.6 254.8,568.2 255.6,570.6 256.4,572.3 257.2,573.4 258.0,573.9 258.8,573.8 259.6,573.4 260.4,572.2 261.2,570.9 262.0,569.1 262.8,566.8 263.6,564.6 264.4,562.7 265.2,561.4 266.0,560.6 266.8,560.4 267.6,560.4 268.4,560.5 269.2,560.3 270.0,559.8 270.8,558.9 271.6,558.1 272.4,557.3 273.2,556.7 274.0,556.4 274.8,556.4 275.6,556.7 276.4,557.2 277.2,557.8 278.0,558.0 278.8,557.7 279.6,556.9 280.4,555.6 281.2,553.9 282.0,552.2 282.8,550.6 283.6,549.4 284.4,548.7 285.2,547.9 286.0,548.0 286.8,548.3 287.6,548.4 288.4,548.4 289.2,548.1 290.0,547.4 290.8,546.7 291.6,546.1 292.4,545.8 293.2,546.0 294.0,546.9 294.8,548.2 295.6,549.8 296.4,551.3 297.2,552.4 298.0,553.0 298.8,552.9 299.6,552.3 300.4,551.2 301.2,550.0 302.0,548.9 302.8,548.1 303.6,547.7 304.4,547.7" fill="none" stroke="#f02a1a" stroke-width="0.6" opacity="0.85"/>
<polyline points="189.2,548.5 190.0,548.1 190.8,547.7 191.6,547.4 192.4,547.2 193.2,547.2 194.0,547.2 194.8,547.3 195.6,547.6 196.4,547.9 197.2,548.4 198.0,548.8 198.8,549.3 199.6,549.7 200.4,550.1 201.2,550.4 202.0,550.7 202.8,550.9 203.6,551.0 204.4,551.1 205.2,551.0 206.0,550.9 206.8,550.7 207.6,550.6 208.4,550.4 209.2,550.3 210.0,550.3 210.8,550.3 211.6,550.4 212.4,550.5 213.2,550.8 214.0,551.0 214.8,551.2 215.6,551.4 216.4,551.6 217.2,551.7 218.0,551.7 218.8,551.5 219.6,551.2 220.4,550.8 221.2,550.4 222.0,549.8 222.8,549.2 223.6,548.4 224.4,547.4 225.2,546.5 226.0,546.1 226.8,546.2 227.6,545.3 228.4,544.2 229.2,543.2 230.0,542.2 230.8,541.2 231.6,539.9 232.4,538.4 233.2,536.9 234.0,535.4 234.8,533.8 235.6,532.3 236.4,530.7 237.2,529.1 238.0,527.4 238.8,525.6 239.6,523.8 240.4,522.5 241.2,521.7 242.0,521.0 242.8,520.2 243.6,520.0 244.4,520.9 245.2,521.8 246.0,524.3 246.8,527.1 247.6,530.2 248.4,534.2 249.2,538.3 250.0,542.8 250.8,547.7 251.6,552.5 252.4,556.1 253.2,559.7 254.0,562.8 254.8,565.6 255.6,568.3 256.4,570.6 257.2,572.5 258.0,573.3 258.8,573.9 259.6,573.7 260.4,573.4 261.2,572.6 262.0,571.3 262.8,570.4 263.6,569.5 264.4,568.5 265.2,567.4 266.0,566.3 266.8,565.2 267.6,564.1 268.4,563.3 269.2,562.4 270.0,561.5 270.8,560.6 271.6,559.6 272.4,558.7 273.2,558.0 274.0,557.2 274.8,556.5 275.6,555.8 276.4,555.2 277.2,554.6 278.0,554.4 278.8,554.1 279.6,554.0 280.4,553.9 281.2,553.8 282.0,553.7 282.8,553.7 283.6,553.6 284.4,553.5 285.2,553.7 286.0,553.6 286.8,553.4 287.6,553.1 288.4,552.7 289.2,552.3 290.0,552.0 290.8,551.6 291.6,551.2 292.4,550.8 293.2,550.4 294.0,550.0 294.8,549.8 295.6,549.7 296.4,549.6 297.2,549.6 298.0,549.6 298.8,549.6 299.6,549.6 300.4,549.6 301.2,549.6 302.0,549.6 302.8,549.5 303.6,549.3 304.4,549.1" fill="none" stroke="#f02a1a" stroke-width="0.6" opacity="0.85"/>
<path d="M296,549 L304.5,533" fill="none" stroke="#f02a1a" stroke-width="0.5" />
<polyline points="189.2,549.0 190.0,549.1 190.8,549.1 191.6,549.2 192.4,549.3 193.2,549.4 194.0,549.4 194.8,549.5 195.6,549.6 196.4,549.6 197.2,549.6 198.0,549.7 198.8,549.7 199.6,549.7 200.4,549.7 201.2,549.8 202.0,549.8 202.8,549.8 203.6,549.7 204.4,549.6 205.2,549.6 206.0,549.5 206.8,549.5 207.6,549.4 208.4,549.3 209.2,549.3 210.0,549.2 210.8,549.2 211.6,549.1 212.4,549.1 213.2,549.1 214.0,549.1 214.8,549.0 215.6,549.0 216.4,549.0 217.2,548.9 218.0,548.8 218.8,548.7 219.6,548.6 220.4,548.5 221.2,548.3 222.0,547.8 222.8,547.3 223.6,546.8 224.4,546.4 225.2,545.7 226.0,544.7 226.8,543.7 227.6,542.7 228.4,541.7 229.2,540.5 230.0,538.9 230.8,537.4 231.6,535.8 232.4,534.2 233.2,532.6 234.0,531.0 234.8,529.4 235.6,527.7 236.4,526.0 237.2,524.2 238.0,522.5 238.8,521.7 239.6,521.0 240.4,520.2 241.2,519.5 242.0,520.1 242.8,521.0 243.6,522.5 244.4,525.2 245.2,527.9 246.0,531.6 246.8,535.5 247.6,539.6 248.4,544.4 249.2,549.2 250.0,553.2 250.8,556.8 251.6,560.4 252.4,563.2 253.2,566.0 254.0,568.6 254.8,570.9 255.6,572.2 256.4,573.2 257.2,573.3 258.0,573.1 258.8,572.7 259.6,571.8 260.4,570.9 261.2,570.0 262.0,569.1 262.8,567.9 263.6,566.8 264.4,565.6 265.2,564.4 266.0,563.5 266.8,562.6 267.6,561.8 268.4,560.9 269.2,560.0 270.0,559.2 270.8,558.6 271.6,558.0 272.4,557.4 273.2,556.8 274.0,556.2 274.8,555.6 275.6,555.2 276.4,554.8 277.2,554.5 278.0,554.1 278.8,553.7 279.6,553.3 280.4,553.0 281.2,552.6 282.0,552.2 282.8,551.9 283.6,551.5 284.4,551.2 285.2,550.9 286.0,550.6 286.8,550.3 287.6,550.1 288.4,549.9 289.2,549.7 290.0,549.5 290.8,549.4 291.6,549.2 292.4,549.0 293.2,548.9 294.0,548.9 294.8,548.8 295.6,548.8 296.4,548.7 297.2,548.7 298.0,548.6 298.8,548.6 299.6,548.6 300.4,548.6 301.2,548.6 302.0,548.6 302.8,548.6 303.6,548.6 304.4,548.6" fill="none" stroke="#111" stroke-width="1.0"/>
<line x1="256.60" y1="513.30" x2="266.90" y2="513.30" stroke="#111" stroke-width="2.0" />
<line x1="256.60" y1="522.50" x2="266.90" y2="522.50" stroke="#f02a1a" stroke-width="2.4" />
<text transform="translate(267.50,515.60) scale(0.9470,1)" x="-0.21" y="0" font-size="7.30" font-weight="bold" fill="#111" >Spontaneous</text>
<text transform="translate(267.50,524.60) scale(0.9605,1)" x="-0.49" y="0" font-size="7.30" font-weight="bold" fill="#111" >Light-evoked</text>
<line x1="189.20" y1="560.60" x2="189.20" y2="581.50" stroke="#888" stroke-width="1.0" />
<line x1="188.70" y1="581.50" x2="211.50" y2="581.50" stroke="#333" stroke-width="1.0" />
<text transform="translate(186.70,580.70) rotate(-90) scale(0.8691,1)" x="-0.23" y="0" font-size="7.40" font-weight="bold" fill="#222">500 μV</text>
<text transform="translate(190.70,588.00) scale(0.9382,1)" x="-0.24" y="0" font-size="6.90" font-weight="bold" fill="#222" >200 μS</text>
<path d="M369.00,599.30 L369.00,578.90 L372.08,578.90 L372.08,592.50 L375.15,592.50 L375.15,575.50 L378.23,575.50 L378.23,575.50 L381.30,575.50 L381.30,578.90 L384.38,578.90 L384.38,568.70 L387.46,568.70 L387.46,585.70 L390.53,585.70 L390.53,582.30 L393.61,582.30 L393.61,568.70 L396.68,568.70 L396.68,575.50 L399.76,575.50 L399.76,572.10 L402.84,572.10 L402.84,575.50 L405.91,575.50 L405.91,568.70 L408.99,568.70 L408.99,578.90 L412.06,578.90 L412.06,585.70 L415.14,585.70 L415.14,575.50 L418.22,575.50 L418.22,585.70 L421.29,585.70 L421.29,568.70 L424.37,568.70 L424.37,578.90 L427.44,578.90 L427.44,575.50 L430.52,575.50 L430.52,585.70 L433.60,585.70 L433.60,592.50 L436.67,592.50 L436.67,582.30 L439.75,582.30 L439.75,578.90 L442.82,578.90 L442.82,568.70 L445.90,568.70 L445.90,561.90 L448.98,561.90 L448.98,589.10 L452.05,589.10 L452.05,582.30 L455.13,582.30 L455.13,568.70 L458.20,568.70 L458.20,544.90 L461.28,544.90 L461.28,521.10 L464.36,521.10 L464.36,524.50 L467.43,524.50 L467.43,527.90 L470.51,527.90 L470.51,531.30 L473.58,531.30 L473.58,514.30 L476.66,514.30 L476.66,531.30 L479.74,531.30 L479.74,558.50 L482.81,558.50 L482.81,541.50 L485.89,541.50 L485.89,565.30 L488.96,565.30 L488.96,548.30 L492.04,548.30 L492.04,514.30 L495.12,514.30 L495.12,521.10 L498.19,521.10 L498.19,541.50 L501.27,541.50 L501.27,555.10 L504.34,555.10 L504.34,541.50 L507.42,541.50 L507.42,558.50 L510.50,558.50 L510.50,548.30 L513.57,548.30 L513.57,568.70 L516.65,568.70 L516.65,517.70 L519.72,517.70 L519.72,551.70 L522.80,551.70 L524.10,599.30 Z" fill="#000" stroke="none" stroke-width="1" />
<rect x="522.60" y="551.70" width="1.50" height="47.60" fill="#000" />
<line x1="369.00" y1="496.80" x2="369.00" y2="599.30" stroke="#222" stroke-width="1.1" />
<line x1="369.00" y1="599.30" x2="524.00" y2="599.30" stroke="#222" stroke-width="1.1" />
<line x1="366.00" y1="497.30" x2="369.00" y2="497.30" stroke="#222" stroke-width="1.0" />
<text transform="translate(355.75,499.90) scale(1.0000,1)" x="-0.17" y="0" font-size="7.20" font-weight="bold" fill="#222" >30</text>
<line x1="366.00" y1="531.30" x2="369.00" y2="531.30" stroke="#222" stroke-width="1.0" />
<text transform="translate(355.84,533.90) scale(1.0000,1)" x="-0.25" y="0" font-size="7.20" font-weight="bold" fill="#222" >20</text>
<line x1="366.00" y1="565.30" x2="369.00" y2="565.30" stroke="#222" stroke-width="1.0" />
<text transform="translate(356.04,567.90) scale(1.0000,1)" x="-0.45" y="0" font-size="7.20" font-weight="bold" fill="#222" >10</text>
<line x1="366.00" y1="599.30" x2="369.00" y2="599.30" stroke="#222" stroke-width="1.0" />
<text transform="translate(359.88,601.90) scale(1.0000,1)" x="-0.28" y="0" font-size="7.20" font-weight="bold" fill="#222" >0</text>
<line x1="369.00" y1="599.30" x2="369.00" y2="602.60" stroke="#222" stroke-width="1.0" />
<text transform="translate(367.29,612.40) scale(1.0000,1)" x="-0.28" y="0" font-size="7.20" font-weight="bold" fill="#222" >0</text>
<line x1="445.60" y1="599.30" x2="445.60" y2="602.60" stroke="#222" stroke-width="1.0" />
<text transform="translate(443.81,612.40) scale(1.0000,1)" x="-0.22" y="0" font-size="7.20" font-weight="bold" fill="#222" >5</text>
<line x1="522.80" y1="599.30" x2="522.80" y2="602.60" stroke="#222" stroke-width="1.0" />
<text transform="translate(519.17,612.40) scale(1.0000,1)" x="-0.45" y="0" font-size="7.20" font-weight="bold" fill="#222" >10</text>
<text transform="translate(429.60,624.40) scale(1.0223,1)" x="-0.09" y="0" font-size="8.40" font-weight="bold" fill="#1a1a1a" >Time (s)</text>
<text transform="translate(351.00,578.40) rotate(-90) scale(1.0185,1)" x="-0.56" y="0" font-size="8.40" font-weight="bold" fill="#1a1a1a">Frequency (Hz)</text>
<rect x="369.50" y="478.90" width="5.30" height="14.00" fill="rgb(138,138,138)" />
<rect x="371.00" y="478.90" width="0.80" height="14.00" fill="rgb(85,85,85)" />
<rect x="373.20" y="478.90" width="0.70" height="14.00" fill="rgb(102,102,102)" />
<rect x="375.90" y="478.90" width="1.20" height="14.00" fill="rgb(51,51,51)" />
<rect x="377.80" y="478.90" width="1.20" height="14.00" fill="rgb(204,204,204)" />
<rect x="380.20" y="478.90" width="1.40" height="14.00" fill="rgb(238,238,238)" />
<rect x="383.50" y="478.90" width="1.40" height="14.00" fill="rgb(68,68,68)" />
<rect x="385.90" y="478.90" width="2.90" height="14.00" fill="rgb(153,153,153)" />
<rect x="388.80" y="478.90" width="4.10" height="14.00" fill="rgb(187,187,187)" />
<rect x="393.10" y="478.90" width="2.70" height="14.00" fill="rgb(85,85,85)" />
<rect x="397.50" y="478.90" width="1.20" height="14.00" fill="rgb(204,204,204)" />
<rect x="399.30" y="478.90" width="1.20" height="14.00" fill="rgb(216,216,216)" />
<rect x="404.00" y="478.90" width="1.70" height="14.00" fill="rgb(204,204,204)" />
<rect x="406.30" y="478.90" width="4.70" height="14.00" fill="rgb(170,170,170)" />
<rect x="411.00" y="478.90" width="1.10" height="14.00" fill="rgb(51,51,51)" />
<rect x="412.80" y="478.90" width="2.20" height="14.00" fill="rgb(221,221,221)" />
<rect x="416.20" y="478.90" width="3.50" height="14.00" fill="rgb(168,168,168)" />
<rect x="423.20" y="478.90" width="1.20" height="14.00" fill="rgb(153,153,153)" />
<rect x="425.00" y="478.90" width="1.70" height="14.00" fill="rgb(102,102,102)" />
<rect x="427.90" y="478.90" width="4.70" height="14.00" fill="rgb(136,136,136)" />
<rect x="429.50" y="478.90" width="0.80" height="14.00" fill="rgb(85,85,85)" />
<rect x="432.60" y="478.90" width="13.40" height="14.00" fill="rgb(72,72,72)" />
<rect x="434.50" y="478.90" width="0.80" height="14.00" fill="rgb(42,42,42)" />
<rect x="437.00" y="478.90" width="1.00" height="14.00" fill="rgb(102,102,102)" />
<rect x="440.20" y="478.90" width="0.80" height="14.00" fill="rgb(48,48,48)" />
<rect x="443.00" y="478.90" width="1.50" height="14.00" fill="rgb(88,88,88)" />
<rect x="446.00" y="478.90" width="1.60" height="14.00" fill="rgb(74,74,74)" />
<rect x="447.60" y="478.90" width="1.87" height="14.00" fill="rgb(40,40,40)" />
<rect x="449.47" y="478.90" width="0.65" height="14.00" fill="rgb(96,96,96)" />
<rect x="450.12" y="478.90" width="1.84" height="14.00" fill="rgb(58,58,58)" />
<rect x="451.96" y="478.90" width="1.64" height="14.00" fill="rgb(51,51,51)" />
<rect x="453.60" y="478.90" width="0.78" height="14.00" fill="rgb(96,96,96)" />
<rect x="454.38" y="478.90" width="1.99" height="14.00" fill="rgb(85,85,85)" />
<rect x="456.37" y="478.90" width="1.47" height="14.00" fill="rgb(48,48,48)" />
<rect x="457.84" y="478.90" width="1.00" height="14.00" fill="rgb(58,58,58)" />
<rect x="458.83" y="478.90" width="1.25" height="14.00" fill="rgb(51,51,51)" />
<rect x="460.09" y="478.90" width="2.07" height="14.00" fill="rgb(85,85,85)" />
<rect x="462.15" y="478.90" width="0.86" height="14.00" fill="rgb(42,42,42)" />
<rect x="463.01" y="478.90" width="0.82" height="14.00" fill="rgb(48,48,48)" />
<rect x="463.83" y="478.90" width="1.31" height="14.00" fill="rgb(51,51,51)" />
<rect x="465.14" y="478.90" width="0.60" height="14.00" fill="rgb(34,34,34)" />
<rect x="465.75" y="478.90" width="0.94" height="14.00" fill="rgb(58,58,58)" />
<rect x="466.68" y="478.90" width="2.14" height="14.00" fill="rgb(51,51,51)" />
<rect x="468.82" y="478.90" width="2.00" height="14.00" fill="rgb(68,68,68)" />
<rect x="470.81" y="478.90" width="1.10" height="14.00" fill="rgb(58,58,58)" />
<rect x="471.92" y="478.90" width="1.46" height="14.00" fill="rgb(58,58,58)" />
<rect x="473.38" y="478.90" width="0.89" height="14.00" fill="rgb(58,58,58)" />
<rect x="474.27" y="478.90" width="2.15" height="14.00" fill="rgb(85,85,85)" />
<rect x="476.41" y="478.90" width="1.08" height="14.00" fill="rgb(74,74,74)" />
<rect x="477.49" y="478.90" width="1.26" height="14.00" fill="rgb(51,51,51)" />
<rect x="478.76" y="478.90" width="1.02" height="14.00" fill="rgb(74,74,74)" />
<rect x="479.78" y="478.90" width="1.08" height="14.00" fill="rgb(48,48,48)" />
<rect x="480.86" y="478.90" width="1.54" height="14.00" fill="rgb(48,48,48)" />
<rect x="482.40" y="478.90" width="1.68" height="14.00" fill="rgb(74,74,74)" />
<rect x="484.08" y="478.90" width="0.71" height="14.00" fill="rgb(74,74,74)" />
<rect x="484.79" y="478.90" width="1.91" height="14.00" fill="rgb(96,96,96)" />
<rect x="486.70" y="478.90" width="1.71" height="14.00" fill="rgb(51,51,51)" />
<rect x="488.41" y="478.90" width="1.37" height="14.00" fill="rgb(51,51,51)" />
<rect x="489.78" y="478.90" width="0.69" height="14.00" fill="rgb(34,34,34)" />
<rect x="490.47" y="478.90" width="2.12" height="14.00" fill="rgb(74,74,74)" />
<rect x="492.59" y="478.90" width="1.95" height="14.00" fill="rgb(34,34,34)" />
<rect x="494.54" y="478.90" width="1.48" height="14.00" fill="rgb(85,85,85)" />
<rect x="496.02" y="478.90" width="1.19" height="14.00" fill="rgb(48,48,48)" />
<rect x="497.21" y="478.90" width="1.95" height="14.00" fill="rgb(96,96,96)" />
<rect x="499.16" y="478.90" width="0.67" height="14.00" fill="rgb(51,51,51)" />
<rect x="499.83" y="478.90" width="1.60" height="14.00" fill="rgb(58,58,58)" />
<rect x="501.43" y="478.90" width="0.79" height="14.00" fill="rgb(58,58,58)" />
<rect x="502.22" y="478.90" width="2.09" height="14.00" fill="rgb(96,96,96)" />
<rect x="504.31" y="478.90" width="1.15" height="14.00" fill="rgb(74,74,74)" />
<rect x="505.46" y="478.90" width="2.03" height="14.00" fill="rgb(68,68,68)" />
<rect x="507.49" y="478.90" width="1.84" height="14.00" fill="rgb(42,42,42)" />
<rect x="509.33" y="478.90" width="1.54" height="14.00" fill="rgb(74,74,74)" />
<rect x="510.87" y="478.90" width="1.98" height="14.00" fill="rgb(34,34,34)" />
<rect x="512.85" y="478.90" width="1.29" height="14.00" fill="rgb(42,42,42)" />
<rect x="514.14" y="478.90" width="0.93" height="14.00" fill="rgb(40,40,40)" />
<rect x="515.07" y="478.90" width="1.58" height="14.00" fill="rgb(51,51,51)" />
<rect x="516.65" y="478.90" width="1.14" height="14.00" fill="rgb(40,40,40)" />
<rect x="517.79" y="478.90" width="0.75" height="14.00" fill="rgb(74,74,74)" />
<rect x="518.54" y="478.90" width="1.09" height="14.00" fill="rgb(42,42,42)" />
<rect x="519.63" y="478.90" width="1.60" height="14.00" fill="rgb(68,68,68)" />
<rect x="521.23" y="478.90" width="2.19" height="14.00" fill="rgb(51,51,51)" />
<rect x="523.43" y="478.90" width="0.57" height="14.00" fill="rgb(42,42,42)" />
<rect x="456.10" y="478.90" width="0.50" height="14.00" fill="rgb(238,238,238)" />
<rect x="487.30" y="478.90" width="1.20" height="14.00" fill="rgb(153,153,153)" />
<rect x="514.00" y="478.90" width="1.60" height="14.00" fill="rgb(154,154,154)" />
<rect x="517.00" y="478.90" width="0.50" height="14.00" fill="rgb(238,238,238)" />
<rect x="466.00" y="478.90" width="0.80" height="14.00" fill="rgb(112,112,112)" />
<rect x="499.00" y="478.90" width="1.00" height="14.00" fill="rgb(128,128,128)" />
<rect x="475.00" y="478.90" width="1.00" height="14.00" fill="rgb(96,96,96)" />
<line x1="445.20" y1="474.70" x2="521.90" y2="474.70" stroke="#4aa8e6" stroke-width="2.0" />
<text transform="translate(474.50,470.90) scale(0.8860,1)" x="-0.64" y="0" font-size="9.60" font-weight="bold" fill="#4aa8e6" >Laser</text>
<line x1="609.40" y1="594.46" x2="649.70" y2="590.99" stroke="#909090" stroke-width="0.55" />
<line x1="609.40" y1="587.52" x2="649.70" y2="584.05" stroke="#909090" stroke-width="0.55" />
<line x1="609.40" y1="587.52" x2="649.70" y2="570.17" stroke="#909090" stroke-width="0.55" />
<line x1="609.40" y1="587.52" x2="649.70" y2="566.70" stroke="#909090" stroke-width="0.55" />
<line x1="609.40" y1="584.05" x2="649.70" y2="570.17" stroke="#909090" stroke-width="0.55" />
<line x1="609.40" y1="584.05" x2="649.70" y2="563.23" stroke="#909090" stroke-width="0.55" />
<line x1="609.40" y1="584.05" x2="649.70" y2="559.76" stroke="#909090" stroke-width="0.55" />
<line x1="609.40" y1="584.05" x2="649.70" y2="552.82" stroke="#909090" stroke-width="0.55" />
<line x1="609.40" y1="580.58" x2="649.70" y2="570.17" stroke="#909090" stroke-width="0.55" />
<line x1="609.40" y1="580.58" x2="649.70" y2="566.70" stroke="#909090" stroke-width="0.55" />
<line x1="609.40" y1="580.58" x2="649.70" y2="556.29" stroke="#909090" stroke-width="0.55" />
<line x1="609.40" y1="580.58" x2="649.70" y2="549.35" stroke="#909090" stroke-width="0.55" />
<line x1="609.40" y1="580.58" x2="649.70" y2="545.88" stroke="#909090" stroke-width="0.55" />
<line x1="609.40" y1="580.58" x2="649.70" y2="532.00" stroke="#909090" stroke-width="0.55" />
<line x1="609.40" y1="577.11" x2="649.70" y2="563.23" stroke="#909090" stroke-width="0.55" />
<line x1="609.40" y1="577.11" x2="649.70" y2="559.76" stroke="#909090" stroke-width="0.55" />
<line x1="609.40" y1="577.11" x2="649.70" y2="552.82" stroke="#909090" stroke-width="0.55" />
<line x1="609.40" y1="577.11" x2="649.70" y2="542.41" stroke="#909090" stroke-width="0.55" />
<line x1="609.40" y1="577.11" x2="649.70" y2="528.53" stroke="#909090" stroke-width="0.55" />
<line x1="609.40" y1="577.11" x2="649.70" y2="525.06" stroke="#909090" stroke-width="0.55" />
<line x1="609.40" y1="573.64" x2="649.70" y2="556.29" stroke="#909090" stroke-width="0.55" />
<line x1="609.40" y1="573.64" x2="649.70" y2="549.35" stroke="#909090" stroke-width="0.55" />
<line x1="609.40" y1="573.64" x2="649.70" y2="545.88" stroke="#909090" stroke-width="0.55" />
<line x1="609.40" y1="573.64" x2="649.70" y2="521.59" stroke="#909090" stroke-width="0.55" />
<line x1="609.40" y1="573.64" x2="649.70" y2="518.12" stroke="#909090" stroke-width="0.55" />
<line x1="609.40" y1="570.17" x2="649.70" y2="532.00" stroke="#909090" stroke-width="0.55" />
<line x1="609.40" y1="570.17" x2="649.70" y2="514.65" stroke="#909090" stroke-width="0.55" />
<line x1="609.40" y1="570.17" x2="649.70" y2="525.06" stroke="#909090" stroke-width="0.55" />
<line x1="609.40" y1="580.58" x2="649.70" y2="542.41" stroke="#909090" stroke-width="0.55" />
<line x1="609.40" y1="584.05" x2="649.70" y2="566.70" stroke="#909090" stroke-width="0.55" />
<circle cx="609.40" cy="594.46" r="1.7" fill="#111" />
<circle cx="609.40" cy="587.52" r="1.7" fill="#111" />
<circle cx="609.40" cy="584.05" r="1.7" fill="#111" />
<circle cx="609.40" cy="580.58" r="1.7" fill="#111" />
<circle cx="609.40" cy="577.11" r="1.7" fill="#111" />
<circle cx="609.40" cy="573.64" r="1.7" fill="#111" />
<circle cx="609.40" cy="570.17" r="1.7" fill="#111" />
<circle cx="649.70" cy="590.99" r="1.7" fill="#f0201a" />
<circle cx="649.70" cy="584.05" r="1.7" fill="#f0201a" />
<circle cx="649.70" cy="570.17" r="1.7" fill="#f0201a" />
<circle cx="649.70" cy="566.70" r="1.7" fill="#f0201a" />
<circle cx="649.70" cy="563.23" r="1.7" fill="#f0201a" />
<circle cx="649.70" cy="559.76" r="1.7" fill="#f0201a" />
<circle cx="649.70" cy="556.29" r="1.7" fill="#f0201a" />
<circle cx="649.70" cy="552.82" r="1.7" fill="#f0201a" />
<circle cx="649.70" cy="549.35" r="1.7" fill="#f0201a" />
<circle cx="649.70" cy="545.88" r="1.7" fill="#f0201a" />
<circle cx="649.70" cy="542.41" r="1.7" fill="#f0201a" />
<circle cx="649.70" cy="532.00" r="1.7" fill="#f0201a" />
<circle cx="649.70" cy="528.53" r="1.7" fill="#f0201a" />
<circle cx="649.70" cy="525.06" r="1.7" fill="#f0201a" />
<circle cx="649.70" cy="521.59" r="1.7" fill="#f0201a" />
<circle cx="649.70" cy="518.12" r="1.7" fill="#f0201a" />
<circle cx="649.70" cy="514.65" r="1.7" fill="#f0201a" />
<line x1="582.30" y1="496.80" x2="582.30" y2="601.40" stroke="#222" stroke-width="1.1" />
<line x1="582.30" y1="601.40" x2="677.30" y2="601.40" stroke="#222" stroke-width="1.1" />
<line x1="579.30" y1="497.30" x2="582.30" y2="497.30" stroke="#222" stroke-width="1.0" />
<text transform="translate(569.50,500.20) scale(1.0000,1)" x="-0.19" y="0" font-size="8.20" font-weight="bold" fill="#222" >30</text>
<line x1="579.30" y1="532.00" x2="582.30" y2="532.00" stroke="#222" stroke-width="1.0" />
<text transform="translate(569.60,534.90) scale(1.0000,1)" x="-0.28" y="0" font-size="8.20" font-weight="bold" fill="#222" >20</text>
<line x1="579.30" y1="566.70" x2="582.30" y2="566.70" stroke="#222" stroke-width="1.0" />
<text transform="translate(569.83,569.60) scale(1.0000,1)" x="-0.52" y="0" font-size="8.20" font-weight="bold" fill="#222" >10</text>
<line x1="579.30" y1="601.40" x2="582.30" y2="601.40" stroke="#222" stroke-width="1.0" />
<text transform="translate(574.20,604.30) scale(1.0000,1)" x="-0.32" y="0" font-size="8.20" font-weight="bold" fill="#222" >0</text>
<line x1="609.40" y1="601.40" x2="609.40" y2="605.50" stroke="#222" stroke-width="1.0" />
<line x1="649.70" y1="601.40" x2="649.70" y2="605.50" stroke="#222" stroke-width="1.0" />
<path d="M609.4,508.8 L609.4,502.3 L649.7,502.3 L649.7,508.8" fill="none" stroke="#222" stroke-width="1.0" />
<text transform="translate(616.80,502.70) scale(1.4169,1)" x="-0.03" y="0" font-size="11.50" font-weight="bold" fill="#1a1a1a" >****</text>
<text transform="translate(591.00,615.90) scale(0.9768,1)" x="-0.60" y="0" font-size="9.00" font-weight="bold" fill="#1a1a1a" >No Laser</text>
<text transform="translate(638.70,615.90) scale(0.9881,1)" x="-0.60" y="0" font-size="9.00" font-weight="bold" fill="#1a1a1a" >Laser</text>
<text transform="translate(563.60,584.80) rotate(-90) scale(1.0538,1)" x="-0.64" y="0" font-size="9.60" font-weight="bold" fill="#1a1a1a">Firing rate (Hz)</text>
<text transform="translate(1.00,26.70) scale(0.9394,1)" x="-0.89" y="0" font-size="35.70" font-weight="bold" fill="#000" >A</text>
<text transform="translate(148.80,27.80) scale(0.8222,1)" x="-2.39" y="0" font-size="35.70" font-weight="bold" fill="#000" >B</text>
<text transform="translate(378.80,29.00) scale(0.8140,1)" x="-1.46" y="0" font-size="35.70" font-weight="bold" fill="#000" >C</text>
<text transform="translate(6.00,133.90) scale(0.9272,1)" x="-2.39" y="0" font-size="35.70" font-weight="bold" fill="#000" >D</text>
<text transform="translate(111.80,134.30) scale(0.7240,1)" x="-2.39" y="0" font-size="35.70" font-weight="bold" fill="#000" >E</text>
<text transform="translate(391.80,133.90) scale(0.7896,1)" x="-2.39" y="0" font-size="35.70" font-weight="bold" fill="#000" >F</text>
<text transform="translate(1.05,324.50) scale(0.9070,1)" x="-1.46" y="0" font-size="35.70" font-weight="bold" fill="#000" >G</text>
<text transform="translate(150.30,324.90) scale(0.9339,1)" x="-2.39" y="0" font-size="35.70" font-weight="bold" fill="#000" >H</text>
<text transform="translate(8.10,485.80) scale(1.0112,1)" x="-2.39" y="0" font-size="35.70" font-weight="bold" fill="#000" >I</text>
<text transform="translate(171.00,485.60) scale(0.6223,1)" x="-0.54" y="0" font-size="35.70" font-weight="bold" fill="#000" >J</text>
<text transform="translate(329.60,485.80) scale(0.8195,1)" x="-2.39" y="0" font-size="35.70" font-weight="bold" fill="#000" >K</text>
<text transform="translate(537.10,486.00) scale(0.7642,1)" x="-2.39" y="0" font-size="35.70" font-weight="bold" fill="#000" >L</text>
<rect x="0.00" y="0.00" width="685.00" height="0.80" fill="#efedf2" />
<rect x="0.00" y="628.20" width="685.00" height="0.80" fill="#efedf2" />
<rect x="0.00" y="0.00" width="0.80" height="629.00" fill="#efedf2" />
<rect x="684.20" y="0.00" width="0.80" height="629.00" fill="#efedf2" /></svg>
</body></html>
